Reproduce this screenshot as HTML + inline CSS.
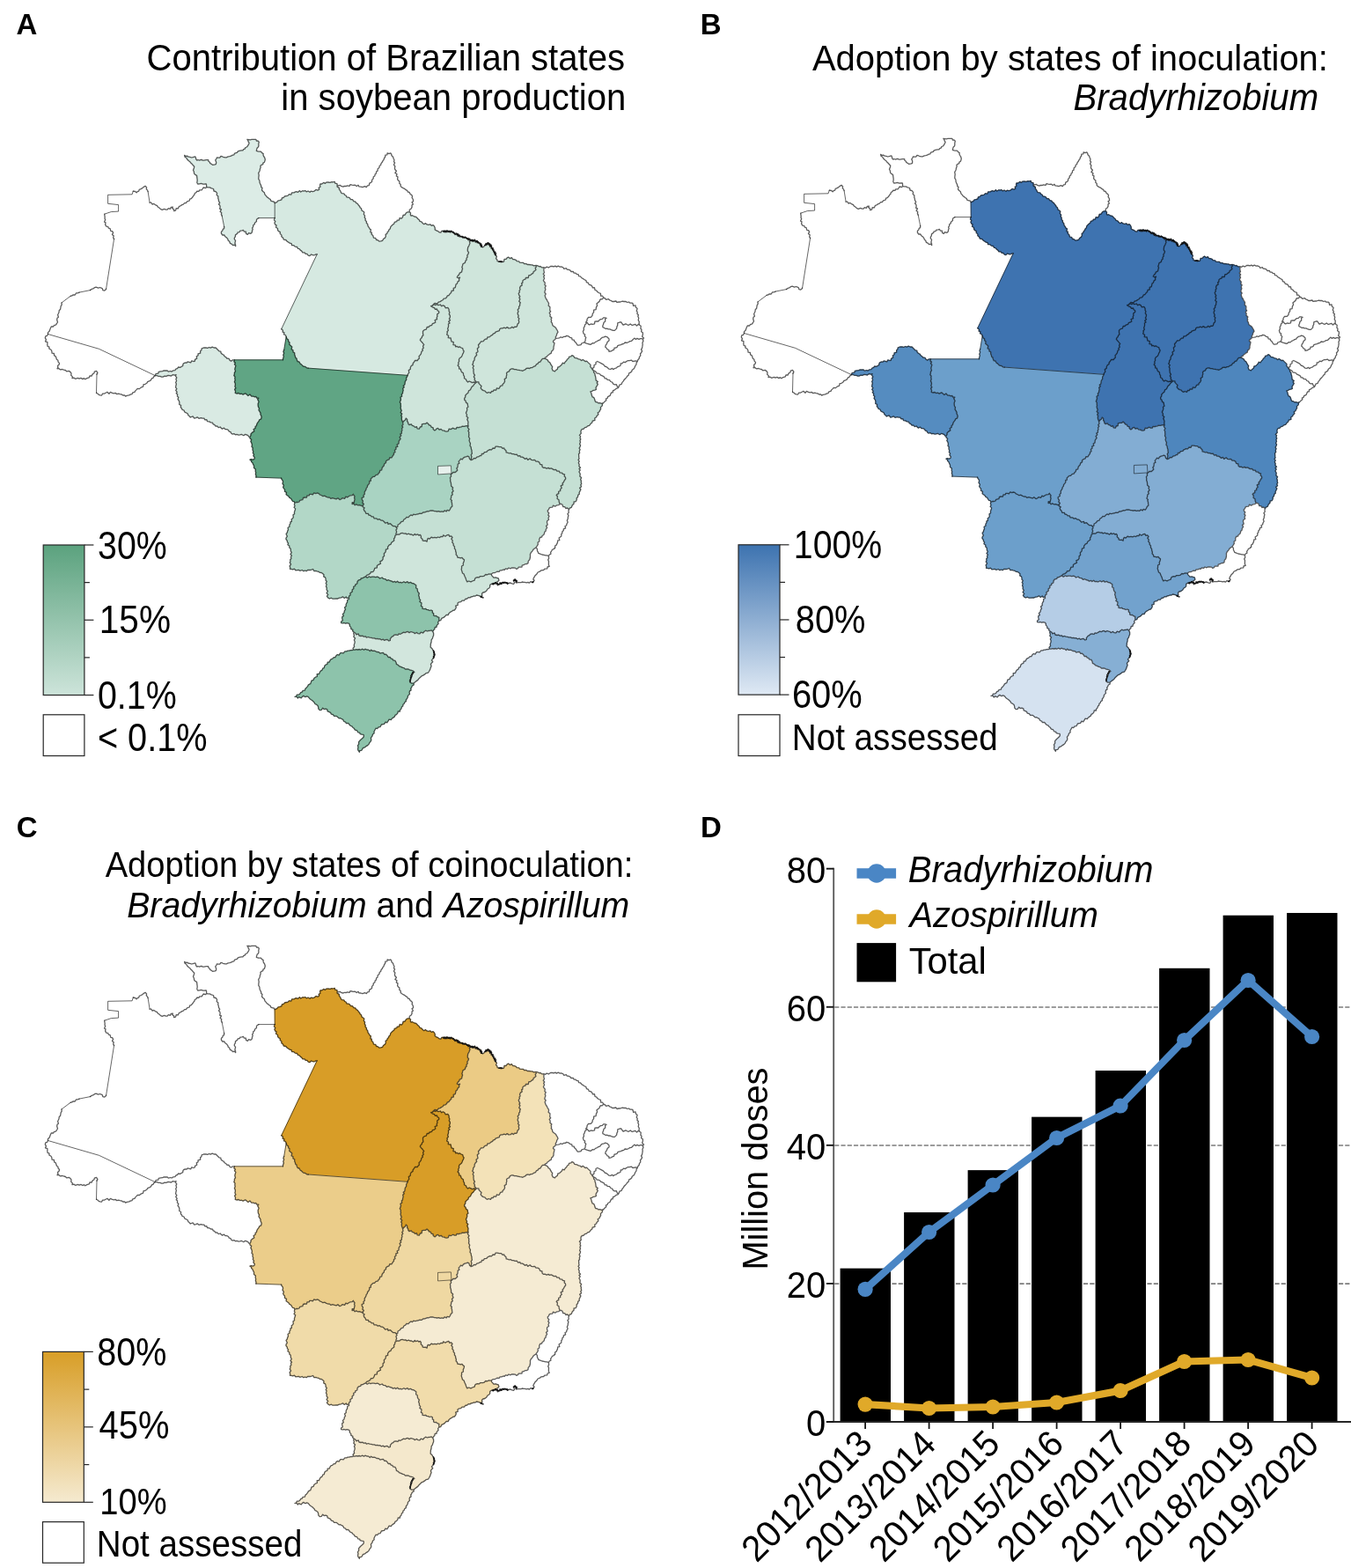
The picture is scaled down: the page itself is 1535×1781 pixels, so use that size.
<!DOCTYPE html>
<html lang="en"><head><meta charset="utf-8"><title>Soybean inoculation in Brazil</title>
<style>
html,body{margin:0;padding:0;background:#fff;}
body{width:1535px;height:1781px;overflow:hidden;}
svg{display:block;font-family:"Liberation Sans", sans-serif;fill:#000;}
</style></head><body>
<svg width="1535" height="1781" viewBox="0 0 1535 1781">
<defs>
<linearGradient id="gA" x1="0" y1="0" x2="0" y2="1"><stop offset="0" stop-color="#5ba27e"/><stop offset="1" stop-color="#cde4da"/></linearGradient>
<linearGradient id="gB" x1="0" y1="0" x2="0" y2="1"><stop offset="0" stop-color="#3d73b0"/><stop offset="1" stop-color="#dfe9f4"/></linearGradient>
<linearGradient id="gC" x1="0" y1="0" x2="0" y2="1"><stop offset="0" stop-color="#d89e27"/><stop offset="1" stop-color="#f5ead0"/></linearGradient>
</defs>
<rect width="1535" height="1781" fill="#fff"/>
<g stroke-linejoin="round" stroke-linecap="round">
<g stroke-width="0.6">
<path fill="#fff" stroke="#fff" d="M54.5 379.5l58 16.8 63.8 30.3 -1.4 1 -1 1.7 -1.2 0.4 -1.4 2.2 -1.2 0.7 -2.4 1 -0.7 1.4 -1.9 1.3 -2 0.4 -0.5 2.5 -2.5 0.9 -1.6 1.5 -2.3 -0.2 -1.1 1.2 -1.5 1.5 -0.3 1.1 -2.8 0.9 -0.4 1.5 -2.1 0.5 -1.2 0.8 -2.6 0.4 -1.6 0.8 -1 -1.3 -2 0.2 -1.3 -1 -2 -0.4 -1.5 -0.4 -2 0.4 -1.8 -1.2 -1.5 0.4 -1.9 -0.5 -2.2 -0.9 -1.5 1.9 -2 -2 -1.8 1 -1.7 0.9 -1.8 -0.1 -1.2 2.1 -1.6 -0.4 -1.6 -0.5 -1 -1 -1.7 -1 0.5 -21.2 0.9 -1.7 -1.4 -2.1 -2.2 0.8 -0.3 1.7 -2 1.3 -0.8 1.9 -2.1 -0.2 -0.9 2.1 -2.4 0.7 -2.1 1.2 -1.2 -1.2 -1.5 1 -2.1 -1.2 -1.9 0.7 -1.5 -0.7 -2.9 0.9 -1.7 -1.2 -1.9 0.5 0.4 -1.7 -1.7 -1.6 0.3 -2.1 -1 -1.6 -1.7 -1.2 -2.6 0.4 -1.4 -1.3 -1.8 -0.4 -1.5 -0.6 -2.7 0.3 -1.6 -1.4 -1.7 0.4 0.9 -1.7 -0.4 -1.7 1.7 -1.4 0.3 -1.4 -1.5 -1.8 -0.1 -1.5 -1.5 -1.1 -0.6 -1.9 -0.7 -1.7 -1.5 -0.7 -0.2 -2.4 -2.3 -0.3 -0.3 -2.4 -0.8 -1.5 -2.2 -1.3 0.2 -1.9 -1.9 -0.7 -0.3 -2.1 0.1 -2.7 -2.4 -0.8 1 -2 -1.2 -2 0.5 -2 1.8 -0.5z"/>
<path fill="#fff" stroke="#fff" d="M54.5 379.5l-0.1 -1.6 1.8 -1.9 0.7 -2.1 0.6 -1.4 0.9 -1.7 2.2 0.2 1 -1.6 1.7 -0.3 1.2 -1.6 1 -1.5 -0.8 -2.8 0.3 -1.9 1.4 -1.1 -0.8 -2.7 0.7 -1.3 0.7 -1.4 0.2 -2.1 1.4 -1.4 0.2 -1.3 0.4 -2.4 1 -1.4 -0.2 -2.3 10 -7.5 1.8 -0.5 1.1 -1 2.3 0.1 1.4 -2.1 2.1 -0.1 1.3 -0.7 12.5 -2.5 1.8 -1.3 2 -0.6 1.2 -1.1 1.6 -0.4 2.6 0.9 1.8 -0.6 1.6 0.6 1.3 0.7 0.4 1.9 2 0.4 1.1 -0.9 0.7 -1.1 9 -56.8 -1 -1.4 0.7 -2 -1.8 -1.5 1.1 -2 -1 -1.8 -1.8 -0.2 -0.7 -2.8 -1.7 -0.4 -0.8 -1.9 -1.8 -0.2 -1.2 -2 0.4 -2.2 -1.5 -0.9 1.2 -2.3 -0.7 -1.7 0.2 -1.7 -0.3 -1.1 -0.1 -2.1 7.5 -2.5 8.3 -0.5 0 -7.5 -12 -1.3 0 -10 27.5 -0.5 1.2 -3.7 2.3 0.4 1.5 1.3 1 -1.2 1.6 -0.5 0.5 -1.8 1.9 -0.7 1.8 -1 1.8 -1.5 1.4 -0.8 1.5 1.6 -0.3 1.8 1.3 1.4 0.5 1.5 2 12.5 1.9 0.1 1.1 2 1.7 -0.8 1.5 1.2 2.2 1 1 1.6 1.4 0.8 1.7 1.6 1.7 0.7 2.2 -0.9 2.1 0.8 1.5 -0.1 1.2 -1.5 2.2 0.7 0.8 -2 2.1 -0.2 -0.7 1.5 1.9 1.2 0 1.8 1.9 -0.5 0.7 -2.4 2.1 0.2 1.3 -2.6 1.5 -0.5 1.7 -1.2 1.5 -0.5 1.3 -1.5 1.7 0 1.3 -1.8 2.6 -0.8 0.4 -1.8 1.7 -0.6 1.6 -1.8 1.1 -1.8 0.9 -0.8 0.4 -1.7 1.6 -0.8 1 -1.6 1.9 0.2 1 -1.5 2.3 0.1 1 -1.3 1 -1.6 2.6 0.7 0.9 -1.4 1.5 0.5 2.2 0 1.9 1 2.3 0.7 0.5 2.5 2.2 0.6 1.4 1.7 -0.4 2.3 1.7 1.5 -0.2 2 0.6 1.4 0.2 1.9 1.2 1.9 -1.3 1.8 1.4 1.2 0.4 1.8 -0.6 2.1 1.9 0.7 -1.4 2.4 1.7 1.4 -0.4 1.7 0.8 1.7 2.5 12.5 -0.1 2.1 -1.4 0.7 -0.3 1.5 -1.4 1.4 -0.1 1.8 1.4 1.9 1.9 -0.1 1.1 1.8 1.9 1.4 1.3 1.7 0.1 1.2 1.6 1.2 0.7 2.1 1.8 0.8 1.5 1.6 1.6 -0.6 1.4 1.5 -0.2 -2 -0.6 -1.4 0.7 -2.9 -1.3 -1.6 0.1 -1.6 0.9 -1.2 0.2 -2 2.2 -1.6 0.5 -1.5 2 -0.2 0.7 -1.5 2.2 -0.2 1.3 -0.6 0.9 1.7 2.1 0.2 0.1 2.1 1.9 1 1.2 -1.7 2.3 0.8 1.5 -1.6 0.1 -1.8 0.7 -1.6 -0.6 -1.5 1.1 -1.3 0 -1.8 1.6 -1.1 0.1 -1.5 2.1 -1.6 -0.1 -1.5 0.6 -1.4 1.9 -1.1 18.3 0 -0.8 2.3 1.4 1.5 -0.9 1.8 0.8 1.9 1.4 0.8 -0.6 2.3 2 1.3 0.1 2 0.9 1.1 1.9 1 -0.3 1.7 1.9 1.8 -0.2 1.7 1.7 1.3 0.8 2 2.5 0.4 1.5 1.8 1.4 0.8 1.5 1.1 2 0.5 0.3 1.9 2.3 0.1 1.4 1.4 2.4 0.4 0.9 1.9 1.6 0.2 1.1 1.5 1.5 1 1.2 1.8 2.2 -0.1 1 1.5 1.8 0.1 1.3 1.7 1.7 0.5 1.7 -1.6 2.5 0.9 1.6 -0.3 1.4 -0.8 1.1 0.1 -40.5 84.9 1.8 1.4 -0.4 2 1.8 0.4 -0.4 2.2 1.9 0.7 0.8 2 -2.5 15 -0.8 1.9 0.8 1.7 -0.9 2.2 0.6 1.6 -0.9 2.5 0 1.4 -55.1 0 -1.9 0 -1.8 1.3 -1.6 -0.8 -1 -1.9 -2.4 -0.4 -0.8 -1.1 -1.7 -1.1 -1 -1.7 -1.5 -0.6 -1.6 -1.5 -0.3 -1.8 -1.9 -0.4 -1.5 -1.5 -1 -1.1 -1.2 -1.2 -2.1 0 -1.9 -0.9 -2 1 -1.5 -0.6 -2 0.9 -1.8 -0.6 -2.5 0.2 -2.2 0.9 -0.3 1.8 -1.3 1.1 0.1 2.3 -2.7 0.7 0.1 2 -1.8 1.1 0.4 2.2 -2.2 1.3 -0.1 1.7 -1.5 0.4 -2.1 -0.7 -1.1 2.1 -1.6 -0.6 -2 -0.4 -1 1.3 -1.4 -0.3 -1.8 0.7 -0.9 0.8 -0.3 2.2 -1.3 0.7 -1.7 1.1 -2 -0.4 -1.3 1.6 -1.3 0.2 -1.3 1.9 -2.2 0.2 -1.5 1.2 -1.4 -0.6 -2.4 0.7 -1.2 -1.4 -1.6 0.2 -2.3 -0.1 -1.5 0.7 -2.1 0.2 -2.4 0.5 -0.3 1.9 -2.9 0.5 -0.7 1.9 -63.8 -30.3z"/>
<path fill="#dcece6" stroke="#dcece6" d="M234.6 212.3l0 -2.2 -0.4 -1.3 -1.5 0.2 -1.9 0.2 -2.3 -0.8 -1.8 0.4 -2 0.2 -0.9 -1.5 0.4 -2.5 -0.1 -1.4 -0.3 -1.9 -0.2 -2.4 -1.9 -0.9 -1.1 -1.3 -0.2 -2.1 -0.9 -1.7 0.9 -2.4 0.4 -1.7 -1.6 -1.7 -1 -1.2 -1.5 -1.3 -0.9 -1.3 -1.6 -1.2 -1.7 -1.8 -0.8 -1.5 -1.7 -1 -0.4 -1.9 1.6 1.2 1.3 -0.4 1.2 0.8 2.1 0.4 2 0.7 2.2 -0.7 1.8 -0.4 0.7 1.3 0.1 1.3 1.2 1.6 1.1 -0.6 1.8 0.6 1.1 -0.6 1.4 -0.2 1.1 0.9 1.4 -0.1 2.5 -0.4 2.5 0 0.2 1.5 1.5 1 0.3 1.3 1.7 0.8 1.1 1.1 1.4 -0.3 1.5 -0.3 1 -0.5 0.3 -1.6 -0.3 -1.3 -0.7 -1.6 1.2 -1.4 0.5 -1.4 2 0.2 1.3 -0.1 1.2 -1.6 1.5 0.2 1 0.6 2.5 0.5 1.3 0 2 -0.9 1.6 -0.3 1.7 -0.5 1.8 -1 1.6 -0.3 0.5 -1.4 1.1 -0.6 1.8 -0.4 0.8 -1.3 1.6 -0.8 2.5 -0.5 1.7 0 0.8 -1.2 1.8 -0.8 0.3 -1.3 1.6 -0.5 0.9 -1.2 1.3 -2 0.5 -1.4 -1 -1.6 -0.3 -1.3 -0.9 -1.2 2 0.3 1.3 0.2 1.7 -0.4 1.7 -0.1 1.6 0.1 1.7 -0.1 0.5 1.8 1.6 -0.1 1.3 1.3 -0.5 2 0.1 2.4 -0.5 1.4 -1.2 0.9 -0.5 1.6 -0.4 1.7 1.8 0.6 1.1 0.2 2 0 0.9 0.8 0.8 1 1.3 0.7 -0.2 1.4 0.6 1.5 1 1.3 0.7 2.5 -0.5 1.8 -0.3 1.1 -1.6 0.9 -0.1 1.6 -1.7 0.6 -1.2 1.1 0.3 1.6 -0.7 1.7 -0.3 2 -0.6 1.3 -0.9 1.6 0.5 2.6 -0.3 2 -0.1 2.2 1.1 1.6 0.2 2.5 0.7 1.6 0.9 1.8 0 1.6 1.3 0.9 -0.5 2.6 1.3 1.5 1.6 1.3 0.5 2.1 1.2 1.2 1.3 1.7 1.1 0.5 1 1.2 1.6 0.9 1 2 1.9 0.4 1.2 0.2 1 1.6 0 17 -18.3 0 -1.9 1.1 -0.6 1.4 0.1 1.5 -2.1 1.6 -0.1 1.5 -1.6 1.1 0 1.8 -1.1 1.3 0.6 1.5 -0.7 1.6 -0.1 1.8 -1.5 1.6 -2.3 -0.8 -1.2 1.7 -1.9 -1 -0.1 -2.1 -2.1 -0.2 -0.9 -1.7 -1.3 0.6 -2.2 0.2 -0.7 1.5 -2 0.2 -0.5 1.5 -2.2 1.6 -0.2 2 -0.9 1.2 -0.1 1.6 1.3 1.6 -0.7 2.9 0.6 1.4 0.2 2 -1.4 -1.5 -1.6 0.6 -1.5 -1.6 -1.8 -0.8 -0.7 -2.1 -1.6 -1.2 -0.1 -1.2 -1.3 -1.7 -1.9 -1.4 -1.1 -1.8 -1.9 0.1 -1.4 -1.9 0.1 -1.8 1.4 -1.4 0.3 -1.5 1.4 -0.7 0.1 -2.1 -2.5 -12.5 -0.8 -1.7 0.4 -1.7 -1.7 -1.4 1.4 -2.4 -1.9 -0.7 0.6 -2.1 -0.4 -1.8 -1.4 -1.2 1.3 -1.8 -1.2 -1.9 -0.2 -1.9 -0.6 -1.4 0.2 -2 -1.7 -1.5 0.4 -2.3 -1.4 -1.7 -2.2 -0.6 -0.5 -2.5 -2.3 -0.7 -1.9 -1 -2.2 0z"/>
<path fill="#fff" stroke="#fff" d="M383.1 210.1l1.4 0.7 1.8 -0.4 1.9 1.3 1.8 0.4 1.2 -0.8 2.1 0.2 1.4 -0.7 2.3 0.5 1 -1.7 2 0.5 1.4 0.3 2.1 -0.2 1.7 1.3 1.8 -1.2 0.9 1.5 2.1 0.3 1.9 0.6 2.6 -1 1.8 0.9 1.2 -1.7 1.8 -0.2 0.5 -2.5 1.7 -0.8 1.1 -1.1 0 -1.9 1.6 -1.6 0 -1.7 1.7 -1.4 0.3 -1.9 1.1 -0.6 0.3 -2.2 1.4 -0.9 0.2 -2.4 1.7 -1.3 0.3 -2 1.5 -1.1 0.2 -1.5 1.5 -1.8 0.7 -1.5 1 -1.2 0.5 -2 1 -0.7 0.2 -2.5 2.1 -0.3 0.2 -2 2 0.8 1.7 -0.8 1 1.6 0.2 1.4 1.6 1.5 0.5 1.7 0.9 1.8 -0.5 1.8 1.1 1.4 -1.2 2.1 1.5 1.9 -0.5 1.9 0.4 1.6 1.6 1.8 -1.5 2.1 2.1 1.3 -0.7 2.3 1.7 0.8 -0.4 2.8 1 1.4 1.3 1.1 -0.1 2.1 1.4 1.2 0 2.1 1.1 1.1 1.9 1.1 1.4 0.6 1.1 1.1 1.9 0.9 0.8 1.7 1.7 0.4 1.2 2.3 1.3 0.6 0.9 1.6 -0.4 1.8 1.2 1.6 0.3 2.3 -1.6 1.1 1.4 2.3 -1.4 1.1 0.1 2 -0.9 1.9 -1.9 1.2 -0.2 2.4 -2.5 0.5 -1.3 1 -1.1 1.9 -2.2 0.5 -0.4 1.8 -1.3 1.8 -2.1 -0.6 -0.8 2.6 -2.1 0 -0.6 1.6 -2.5 0.6 -0.3 1.7 -1.6 1.1 -1.2 1.2 -1.3 1.3 -0.5 2.2 -1.4 1.2 -0.4 1.6 -1.4 1.2 -0.3 1.5 -1.7 1.1 0.3 1.9 -0.8 1.8 -2.1 1.4 -0.8 1.8 -2.1 0.5 -1.8 0.3 -1.9 -1.7 -1.3 0.2 -0.9 -2.2 -2.2 -0.2 -0.7 -2.6 -1.6 -1.4 0.2 -2 -1.6 -0.4 0.6 -3 -1.3 -0.7 -0.7 -1.5 -1.4 -1.9 -0.3 -2.1 -1.4 -1.3 0.2 -1.5 -1.5 -1.7 0.3 -1.5 -1.1 -1.8 0.4 -1.7 -1.3 -1.7 0.5 -2.3 -1.3 -1 -1.5 -1.1 -0.5 -2.2 -1.4 -1.1 -0.4 -1.2 -1.6 -1.7 -0.8 -1.5 -1.6 -0.6 -0.8 -1.6 -2.1 -0.5 -1.3 -1.9 -2 -0.1 -1 -1.5 -1 -0.8 -2.7 -0.5 -0.7 -1.8 -1.5 -0.5 -0.7 -1.6 -2.3 -0.2 -1.1 -0.9 -0.7 -1.9 -1.4 -1.7 0 -1.9 -2.3 -1.2z"/>
<path fill="#d9eae3" stroke="#d9eae3" d="M176.3 426.6l0.7 -1.9 2.9 -0.5 0.3 -1.9 2.4 -0.5 2.1 -0.2 1.5 -0.7 2.3 0.1 1.6 -0.2 1.2 1.4 2.4 -0.7 1.4 0.6 1.5 -1.2 2.2 -0.2 1.3 -1.9 1.3 -0.2 1.3 -1.6 2 0.4 1.7 -1.1 1.3 -0.7 0.3 -2.2 0.9 -0.8 1.8 -0.7 1.4 0.3 1 -1.3 2 0.4 1.6 0.6 1.1 -2.1 2.1 0.7 1.5 -0.4 0.1 -1.7 2.2 -1.3 -0.4 -2.2 1.8 -1.1 -0.1 -2 2.7 -0.7 -0.1 -2.3 1.3 -1.1 0.3 -1.8 2.2 -0.9 2.5 -0.2 1.8 0.6 2 -0.9 1.5 0.6 2 -1 1.9 0.9 2.1 0 1.2 1.2 1 1.1 1.5 1.5 1.9 0.4 0.3 1.8 1.6 1.5 1.5 0.6 1 1.7 1.7 1.1 0.8 1.1 2.4 0.4 1 1.9 1.6 0.8 1.8 -1.3 1.9 0 -0.5 2.2 1.5 1.1 -1 1.7 1.5 1.6 -0.7 2.2 -0.4 1.8 0.7 2.2 -1.1 1.7 0 1.8 -0.6 1.4 1.3 1.7 -0.3 1.7 0.4 1.8 -0.8 2.1 0.8 1.3 0.2 2 -0.5 1.9 1 1.8 -1.3 1.4 1 2.4 -0.4 1.7 1.7 0.7 2.2 -0.5 1.5 1.1 1.8 -0.4 1.7 0.9 2.6 -1.3 1.5 1.3 1.7 1.4 2 -1.5 1.9 2.2 1.9 -0.1 1.9 0.7 1.1 -0.4 1.1 1.8 2.1 -0.1 -1.2 1.5 1.4 2.7 -0.9 2.1 0 1.7 0.2 1.9 1.1 1.9 -0.5 1.9 1.2 1.8 0.9 1.8 -0.2 1.1 0.9 1.9 0.4 1.4 -0.7 2.4 -1.6 0.4 -1 2.1 -1.2 1.4 -0.8 1.4 -0.5 2.2 -1.3 0.7 0.1 2 -2.1 1.1 0.7 2.4 -2.4 1.5 -1.4 1.6 0.1 1.4 -1.2 2 -1.1 -0.3 -1 -1.4 -1.6 -0.8 -1.6 -0.5 -1.8 1.3 -2.5 -1.4 -1.6 0.6 -1.5 0.2 -2.2 -0.7 -1.4 0.4 -1.8 -1.2 -1.9 0.5 -1.3 -1 -0.5 -1.5 -1.8 -0.5 -0.8 -1.6 -1.8 -0.9 -1.8 0.1 -1.3 -1.6 -2.1 1 -1.1 -0.7 -1.2 -1.4 -2 0.6 -1.5 -1.7 -1.7 0.3 -1.1 -1.6 -1.9 -1 -0.4 -1.5 -2.1 -0.2 -1.8 -1 -2.2 -0.3 -0.6 -1.9 -2.2 0.1 -0.8 -1.7 -1.8 0 -1.8 -0.5 -2.3 0.7 -1.8 -1.5 -1.6 0.8 -1.8 0.6 -1.7 -2.3 -2.8 1.1 -1.2 -1.4 -1.2 -0.9 -0.7 -1.9 -1.8 -1 -1.6 -0.8 -0.8 -2 -2 -0.7 -0.6 -1.5 -1.1 -1 0.3 -2.4 -1.9 -0.9 0.2 -1.9 -0.3 -2 -1.5 -2.1 0.7 -2.3 -1.4 -1.1 0.3 -2.1 -1.5 -1.2 1 -1.5 -1.5 -2 1.2 -1.7 -1.3 -1.5 0.3 -2.1 0.5 -2 -0.8 -1.5 1 -1.9 -0.7 -2 0.9 -1.7 -1.4 -1.8 0.7 -1.5 -1.6 0.6 -2.3 -0.5 -1.7 1.3 -1.9 -0.4 -1.5 -0.3 -2.3 1.1 -1.7 -0.3 -2 1 -1.6 0 -1.6 -0.7 -2.2 -0.1 -1.3 -0.7z"/>
<path fill="#d6e9e1" stroke="#d6e9e1" d="M312.2 230.6l2.4 -1 1.4 -1.8 1.7 -0.2 2.2 -0.8 0.6 -2.1 1.6 0 1.2 -1.7 1.9 -0.4 1.6 -0.2 1.7 -1.7 2.2 0.5 1 -2.4 2.3 0.1 1.2 -0.8 1.4 -0.4 2 0.6 1.9 -1.7 1.2 1.4 2.1 -1.3 1.4 0.4 1.5 -0.6 1.5 1.3 1.8 -0.8 2.1 1.3 1.1 -1.2 2 0.5 1.9 -0.5 1.9 -1.7 2 0.8 1.7 -1.1 -0.6 -1.7 1.9 -1.1 -0.5 -2 0.5 -1.5 1.6 0.2 2.1 -1.6 1.8 1 1.1 -1.3 2.2 -0.1 2.2 0.3 1.9 -0.7 1.2 0.3 2.2 -0.6 0.3 1.9 2.4 0.4 0.1 1.5 0 2 2.3 1.2 0 1.9 1.4 1.7 0.7 1.9 1.1 0.9 2.3 0.2 0.7 1.6 1.5 0.5 0.7 1.8 2.7 0.5 1 0.8 1 1.5 2 0.1 1.3 1.9 2.1 0.5 0.8 1.6 1.6 0.6 0.8 1.5 1.6 1.7 0.4 1.2 1.4 1.1 0.5 2.2 1.5 1.1 1.3 1 -0.5 2.3 1.3 1.7 -0.4 1.7 1.1 1.8 -0.3 1.5 1.5 1.7 -0.2 1.5 1.4 1.3 0.3 2.1 1.4 1.9 0.7 1.5 1.3 0.7 -0.6 3 1.6 0.4 -0.2 2 1.6 1.4 0.7 2.6 2.2 0.2 0.9 2.2 1.3 -0.2 1.9 1.7 1.8 -0.3 2.1 -0.5 0.8 -1.8 2.1 -1.4 0.8 -1.8 -0.3 -1.9 1.7 -1.1 0.3 -1.5 1.4 -1.2 0.4 -1.6 1.4 -1.2 0.5 -2.2 1.3 -1.3 1.2 -1.2 1.6 -1.1 0.3 -1.7 2.5 -0.6 0.6 -1.6 2.1 0 0.8 -2.6 2.1 0.6 1.3 -1.8 0.4 -1.8 2.2 -0.5 1.1 -1.9 1.3 -1 2.5 -0.5 1.5 1.4 -0.3 1.8 0.8 1.3 1.5 -0.4 2.2 1.3 1.8 0.3 1.5 1.4 0.6 0.9 1.8 1.4 0.2 1.2 2.5 0.9 0.8 1.2 1.7 1.4 1.7 -1.1 1.6 1.3 1.7 0.5 2.1 -0.6 1.5 1.6 1.6 -0.8 1.4 1.1 1 2.2 -0.1 2 1.8 1.1 1.2 0.3 2.1 1.6 1.6 0.3 0.8 -1.7 2.5 -0.4 1.8 0.8 1.8 -1.1 1.7 1.2 1.9 -0.3 2 0.2 1.7 0.5 1.6 1.6 2.5 0.1 0.3 1.9 2.4 0.5 1.5 0.9 1.9 -0.1 1.5 1.8 1.5 -0.9 1.7 0.8 1 1.4 2.7 -0.2 0.5 1.6 -0.9 1.4 0.7 2.1 -0.6 1.2 -0.5 1.5 -1.2 1.9 -0.4 2.5 0 1.8 1.2 1.5 -0.5 1.6 -1.2 1.8 0.4 1.8 -1.2 1.5 0.1 1.8 -1.2 1.1 -0.5 2.1 -2.4 1.3 -0.5 2 -0.7 2 0.8 1.3 -0.6 1.7 -0.4 2.2 -2.3 1.2 -0.6 1.6 -1.5 1.6 -1 1.7 1.5 0.8 1.9 -0.7 -1 1.6 0.1 2.2 -1.6 1 -0.6 2 -1.5 1.2 -0.4 2 -0.3 1.5 -2.1 0.8 0.2 2.5 -2.4 0.6 -0.4 2.1 -1.3 1 -1.3 1.9 -1.6 0.3 -0.8 1.8 -1.4 1.3 -1.9 0.2 -1.1 1.6 -1.5 0.8 -1.6 1.1 -1.9 0.6 -1.3 1.7 -3 -0.5 -1.3 1.2 -1.4 1.4 -1.6 0.6 2.2 1.6 1.7 0.4 1 1.8 1.9 -0.4 0.8 1.9 1.4 0.6 0.2 1.7 -2.1 1.9 0.2 2.3 -0.7 1.4 0.4 1.9 -2.5 0.9 0.7 2.3 -1.3 1.1 -2.1 0.6 -0.7 1.7 -2.5 0.8 -1.2 1.4 -1.8 0 -0.9 2.6 -2.1 0.5 -1.7 1.6 0 1.8 0.1 1.5 0.3 1.5 -1.4 1.1 -0.1 1.4 -1.3 1 -0.8 1.7 1.3 1.7 0.8 0.6 1.2 1.6 1.1 1.3 -1.1 1.8 0.6 2 -1.4 1.4 0.6 1.6 -1.4 1 -0.6 2.7 -1.1 1.5 -1.2 1 0.2 2.8 -1.1 0.9 -1 1.4 -2.6 -0.1 -1.1 1.8 -1.4 1.8 0 1.4 -2 1.4 -0.8 1.7 0 1.7 -2 1.4 0.5 2.8 -1.2 1.2 -0.5 1.7 -112.9 -8.2 -1.7 -0.3 -1.7 -1.4 -1.7 -0.1 -1.1 -0.7 -1.6 -1.7 -1.2 -0.7 -1.2 -2.2 -1.8 -0.4 -0.9 -1.9 -0.3 -1.6 -1.3 -0.9 -0.3 -1.7 -0.7 -1.5 0 -2.2 -1.7 -0.9 -0.1 -2.4 -1.8 -0.7 0.7 -2.9 -1.6 -1.4 -1.5 -1.3 0.4 -2.3 -1.4 -1.2 -0.1 -1.8 -1.7 -1.2 -0.7 -2.2 -0.8 -2 -1.9 -0.7 0.4 -2.2 -1.8 -0.4 0.4 -2 -1.8 -1.4 40.5 -84.9 -1.1 -0.1 -1.4 0.8 -1.6 0.3 -2.5 -0.9 -1.7 1.6 -1.7 -0.5 -1.3 -1.7 -1.8 -0.1 -1 -1.5 -2.2 0.1 -1.2 -1.8 -1.5 -1 -1.1 -1.5 -1.6 -0.2 -0.9 -1.9 -2.4 -0.4 -1.4 -1.4 -2.3 -0.1 -0.3 -1.9 -2 -0.5 -1.5 -1.1 -1.4 -0.8 -1.5 -1.8 -2.5 -0.4 -0.8 -2 -1.7 -1.3 0.2 -1.7 -1.9 -1.8 0.3 -1.7 -1.9 -1 -0.9 -1.1 -0.1 -2 -2 -1.3 0.6 -2.3 -1.4 -0.8 -0.8 -1.9 0.9 -1.8 -1.4 -1.5 0.8 -2.3z"/>
<path fill="#cfe5db" stroke="#cfe5db" d="M534.2 272.8l1.5 -0.2 2.2 1.5 2.1 -0.7 2.3 0.2 0.2 2.1 2.5 0.2 2 1.1 0 2.6 1.4 1.3 1.8 -1.2 0.7 -1.3 1.1 -0.6 1.8 -1.6 1.2 -0.3 0.9 2.3 2 0 0.5 2.7 1.1 0.9 0.4 2.3 1 0.9 1.2 1.9 -0.2 1.7 1.5 1.4 1 1.4 -0.9 2.4 1.3 0.9 0.3 2 1.9 0.4 2 -0.5 1.9 0.9 1.6 -0.4 0.5 -2.7 2.1 0 1 -1.5 1.5 -0.8 1.8 1.5 2 -1 1.2 1.9 1.6 0.1 2.1 0.7 0.9 1.3 2.5 0.2 0.6 1.3 2.3 0.3 2.1 0 0.8 1.2 2.4 0 1.3 0.9 1.7 0 2.7 0.4 1.1 0 1.9 0.9 2.3 -0.4 0.4 1.9 -1.1 0.9 0.7 2.4 -1.2 1 -1.5 0.9 -0.5 1.8 -1.9 1 -1.1 1.3 -1.8 0.1 -0.7 2.8 -2.7 -0.2 -0.6 1.9 -1.7 0.4 -1.3 1.3 -0.1 2.2 -1.2 0.8 0.6 2 -1.8 1.2 -0.9 1.9 0.6 1.9 -1.1 1.2 0.4 1.6 -1.2 1.7 0.5 1.7 1.1 1.8 -0.9 1.2 1 1.7 -1.2 2.4 1.6 1.6 -0.6 1.3 -0.1 2.1 -1.1 1.2 0.3 1.6 -1.6 1.9 0.8 1.9 -0.8 1.3 0 1.5 1 2.1 -0.7 1.7 1.4 1.5 -0.7 1.7 0.5 1.6 -0.2 1.5 -1.4 1.2 -0.6 2.5 -1.1 1 -1.4 -0.3 -1.7 1.4 -1.6 -1.2 -1.5 1.4 -2.2 0.2 -1.8 -1.3 -1.4 1.2 -2.1 -0.6 -1.6 0.6 -1.8 0.1 -1.6 0.9 -0.3 1.8 -2.3 0.7 -2.1 0.8 -0.7 1.3 -2 0.8 -0.7 1.2 -2 0.9 -1.2 1.4 -2.4 0.3 -0.8 2 -1.8 0.2 -1.3 1.1 -1 1.4 -2.7 0.3 -1.3 2 -1.6 1.8 0.6 2.5 -1.8 1.6 0.3 1.6 0.4 2.1 -2 1.5 0.7 2.1 -1.6 1.8 -0.9 1.6 -0.1 2.2 -1.5 2.1 0 1.7 -0.9 1.5 1.6 1.6 -1.1 2.1 1 1.8 -0.3 1.5 0.2 1.5 0.2 1.9 1.2 1.6 -1.2 1.8 1.2 2 -0.4 1.6 1.6 1.8 -0.4 1.8 -1.2 -1.1 -2.8 0.6 -1.2 -0.8 -2 -0.8 -1.5 1 -1.5 -1.4 -0.7 -1.8 -1.9 -1.1 0.1 -2.1 -1 -1.4 -0.2 -2.4 -1.8 -1.2 -0.7 -1.3 -0.6 -2.1 -1.7 -0.3 0.1 -2.1 -1.6 -1.7 1 -1.5 -0.4 -1.6 1 -1.8 -0.3 -1.4 0.7 -1.9 2.3 -1.7 0.7 -1.4 0.7 -1.9 0.7 -1 0.6 -2.1 -0.8 -0.9 -0.6 -2.3 -1.8 -0.6 -1.7 -1.2 -1.3 0.8 -1.6 -1.2 -1.7 0.4 -0.1 -1.7 -2.5 -0.5 0.3 -2.9 -2.4 -0.9 -0.3 -1.5 -0.5 -2.3 -2.8 -0.4 0.3 -2.4 -2 -1.2 0.8 -2 -0.5 -1 1.5 -1.8 -0.8 -2 0.7 -1.4 0.3 -1.8 -0.2 -2 1.6 -1 -1.3 -1.7 1.9 -1.5 -1.2 -1.7 1 -1.9 0 -1.5 -1.1 -1.9 0.6 -1.9 -0.8 -1.6 0 -1.9 -1.3 -2 -2.6 0.4 -1.1 -2.2 -1.7 -0.8 -1.6 1 -1.5 -1.8 -2.2 0.7 -1.7 -1.1 -2 1 -1.4 -1.1 -1.6 1.9 -1.8 0.2 1.6 -0.6 1.4 -1.4 1.3 -1.2 3 0.5 1.3 -1.7 1.9 -0.6 1.6 -1.1 1.5 -0.8 1.1 -1.6 1.9 -0.2 1.4 -1.3 0.8 -1.8 1.6 -0.3 1.3 -1.9 1.3 -1 0.4 -2.1 2.4 -0.6 -0.2 -2.5 2.1 -0.8 0.3 -1.5 0.4 -2 1.5 -1.2 0.6 -2 1.6 -1 -0.1 -2.2 1 -1.6 -1.9 0.7 -1.5 -0.8 1 -1.7 1.5 -1.6 0.6 -1.6 2.3 -1.2 0.4 -2.2 0.6 -1.7 -0.8 -1.3 0.7 -2 0.5 -2 2.4 -1.3 0.5 -2.1 1.2 -1.1 -0.1 -1.8 1.2 -1.5 -0.4 -1.8 1.2 -1.8 0.5 -1.6 -1.2 -1.5 0 -1.8 0.4 -2.5 1.2 -1.9 0.5 -1.5 0.6 -1.2 -0.7 -2.1z"/>
<path fill="#cfe5db" stroke="#cfe5db" d="M608.9 301.4l2.1 0.5 1.7 0.9 1.3 -0.3 1.9 1.4 1.8 -0.2 0.3 1.7 -0.2 1.7 0.7 2.5 -1.3 1.5 1.5 1.8 -1.1 1.5 1 1.6 -1.2 2.6 0.9 1.4 1 1.2 -0.4 2.3 1.3 1.2 -1 2 0.7 2.1 -0.7 1.5 -0.4 1.8 1.4 1.9 -1.1 1.6 0.6 2.2 0.8 1.7 0.9 1 0.7 1.9 0.9 1 0.6 1.5 -0.5 2.2 1.8 1.6 0 1.3 -0.2 2.3 1 1.5 -1.5 1.6 1.1 2.1 -0.5 1.6 2.1 1.9 -0.8 1.4 0.6 1.7 -0.5 1.4 1.2 1.6 0.3 1.7 0.9 1.5 2.2 1.3 1.1 1.4 0.5 1.2 0.9 1.2 0.7 1.8 -1.4 2.2 -0.2 1.6 -1.1 1.6 0.1 1.7 -0.9 1.5 -1.4 0.8 -0.7 1.6 1.6 1.6 -0.5 2.4 -0.5 2 0 1.9 -0.9 1.8 -1.4 1.1 -0.4 2.1 -1.9 1 -0.9 0.9 -1.5 1 -0.9 1.4 -1.7 0.8 -0.6 1 -2.4 0.2 -1.4 1.7 -1.1 1.9 -1.7 0.3 -0.9 1.6 -1.9 0.9 -1 1.9 -2.1 0.7 -1.6 1.2 -1.7 0 -1.2 1 -1.6 -0.5 -2.2 0.3 -0.8 1.3 -1.4 0.5 -1.9 1.1 -1.2 -0.4 -1.9 -0.2 -1.2 -0.4 -1.9 -0.2 -1.4 -0.5 -2 0 -1.1 -0.6 -1.8 -0.2 -2 1.1 -1 2 -2 0.7 -0.9 1.2 0.3 1.9 -0.6 1.9 0.1 1.6 -2.1 1.4 0.4 2.5 -0.9 2 -1.6 1.3 -0.2 1.4 -2.3 0.6 -0.9 1.7 -0.9 1.4 -2.3 -0.7 -0.9 2.4 -2.4 -0.3 -1.1 1.7 -1.5 -0.2 -1.2 2 -2.2 -0.9 -1.3 0.8 -1.6 -0.6 -1.5 -1.9 -1.5 -0.2 -1.7 -1 -1.4 -1.8 0.8 -2.3 -1.4 -1.4 -1.6 -1.7 -0.1 -1.6 -2.2 0.1 -1.4 1.2 0.4 -1.8 -1.6 -1.8 0.4 -1.6 -1.2 -2 1.2 -1.8 -1.2 -1.6 -0.2 -1.9 -0.2 -1.5 0.3 -1.5 -1 -1.8 1.1 -2.1 -1.6 -1.6 0.9 -1.5 0 -1.7 1.5 -2.1 0.1 -2.2 0.9 -1.6 1.6 -1.8 -0.7 -2.1 2 -1.5 -0.4 -2.1 -0.3 -1.6 1.8 -1.6 -0.6 -2.5 1.6 -1.8 1.3 -2 2.7 -0.3 1 -1.4 1.3 -1.1 1.8 -0.2 0.8 -2 2.4 -0.3 1.2 -1.4 2 -0.9 0.7 -1.2 2 -0.8 0.7 -1.3 2.1 -0.8 2.3 -0.7 0.3 -1.8 1.6 -0.9 1.8 -0.1 1.6 -0.6 2.1 0.6 1.4 -1.2 1.8 1.3 2.2 -0.2 1.5 -1.4 1.6 1.2 1.7 -1.4 1.4 0.3 1.1 -1 0.6 -2.5 1.4 -1.2 0.2 -1.5 -0.5 -1.6 0.7 -1.7 -1.4 -1.5 0.7 -1.7 -1 -2.1 0 -1.5 0.8 -1.3 -0.8 -1.9 1.6 -1.9 -0.3 -1.6 1.1 -1.2 0.1 -2.1 0.6 -1.3 -1.6 -1.6 1.2 -2.4 -1 -1.7 0.9 -1.2 -1.1 -1.8 -0.5 -1.7 1.2 -1.7 -0.4 -1.6 1.1 -1.2 -0.6 -1.9 0.9 -1.9 1.8 -1.2 -0.6 -2 1.2 -0.8 0.1 -2.2 1.3 -1.3 1.7 -0.4 0.6 -1.9 2.7 0.2 0.7 -2.8 1.8 -0.1 1.1 -1.3 1.9 -1 0.5 -1.8 1.5 -0.9 1.2 -1 -0.7 -2.4 1.1 -0.9z"/>
<path fill="#fff" stroke="#fff" d="M617.7 303.7l2.1 0.6 1.5 -1.2 2 0.9 2.2 -1.5 2 0 1.9 0.4 1.4 -0.8 1.6 1 1.8 -0.9 2 0.9 1.3 -0.2 2.1 0.6 1.2 1.8 2.5 -0.6 0.8 1.3 2.2 0.3 1.4 0.6 1.2 1.6 2.3 -0.1 1 1.8 1.8 -0.1 1.1 1.2 2 0.4 0.4 1.9 1.8 0.2 1.8 2.1 1.3 0.5 1.4 1.1 2.1 1.1 0.5 2.1 2.1 0.7 0.7 1.9 2.2 0.5 1.2 1.2 0.9 1.9 1.9 -0.3 0.7 2.9 1.8 0.6 0.7 1.2 1.5 1.2 2.3 0.9 0.2 2.7 1.8 0.1 1.6 2 1.6 0.8 -2.2 -0.7 -1.2 1.5 -1.7 -0.1 -0.9 1 -0.5 1.7 -1.4 1 -1.8 1.6 0.7 1.9 -1.2 2.2 -0.3 2.5 -2.5 0.6 0 2.5 -1.3 1.7 -0.3 1.9 -0.8 1.1 -1.1 1 -2.7 0.1 -0.9 1.3 -0.5 1 -0.1 1.7 -1.2 1.5 0.5 1.6 -1.7 1.3 -0.2 1.8 -1.1 1.6 0.2 2.3 -1 1.7 0.7 2.7 1.6 1 -0.5 1.6 1.6 1.8 -0.6 1.3 -0.2 2.6 -1.2 1.6 -1.6 0.6 -1.2 0.4 -1 1.7 -2.3 0.6 -1.4 -0.1 -0.9 -1.3 -1 -1.5 -1.9 -1.8 -0.3 -1.3 -2.1 -0.4 -0.4 -2 -2.1 -0.5 -1.6 -1.4 -2.4 -0.6 -0.9 1 -2.4 0.1 -1.4 1.1 -1.8 -0.7 -1.5 1 -1.9 0.3 -2.3 0.2 -0.1 -1.7 1.1 -1.6 0.2 -1.6 1.4 -2.2 -0.7 -1.8 -0.9 -1.2 -0.5 -1.2 -1.1 -1.4 -2.2 -1.3 -0.9 -1.5 -0.3 -1.7 -1.2 -1.6 0.5 -1.4 -0.6 -1.7 0.8 -1.4 -2.1 -1.9 0.5 -1.6 -1.1 -2.1 1.5 -1.6 -1 -1.5 0.2 -2.3 0 -1.3 -1.8 -1.6 0.5 -2.2 -0.6 -1.5 -0.9 -1 -0.7 -1.9 -0.9 -1 -0.8 -1.7 -0.6 -2.2 1.1 -1.6 -1.4 -1.9 0.4 -1.8 0.7 -1.5 -0.7 -2.1 1 -2 -1.3 -1.2 0.4 -2.3 -1 -1.2 -0.9 -1.4 1.2 -2.6 -1 -1.6 1.1 -1.5 -1.5 -1.8 1.3 -1.5 -0.7 -2.5 0.2 -1.7z"/>
<path fill="#fff" stroke="#fff" d="M687.6 339l1 1.3 2.6 -0.7 1.7 1.5 1.4 0.3 1.4 1.1 1.9 0 2.3 -0.5 1 1.4 2.3 -0.4 1.6 0 2.4 -0.8 1.6 0.3 2 -0.1 2 1.1 1.7 -0.5 1.1 1 2.4 0.1 1.1 0.8 0.5 2.4 2.4 -0.4 0.4 2.2 1.7 1.5 -0.9 2.6 1.1 1.5 -0.4 1.5 1.5 1.5 -0.6 1.6 0.9 2 -0.5 2.3 1.1 1.9 -0.3 1.8 0.6 1.9 -1.5 -0.7 -1.6 1.6 -1.8 -1.8 -1.6 0.5 -1.9 0.7 -2 -1.5 -1.9 1.3 -1.7 -0.5 -1.7 -1 -2.7 1.4 -1.3 -1.4 -1.1 -2 -1.7 0.2 -2.3 0.9 -0.1 2.6 -0.8 1.6 -0.3 2 -1.2 1.3 -1 1 -1.8 0 -2.1 -0.8 -1.6 -0.7 -1.7 0 -1.7 -0.8 -1.3 0.4 -1.5 -1 -1.8 -0.9 -0.1 -1.5 0.6 -1.3 0.7 -2.5 1.6 -1.3 -0.1 -2.6 1.5 -1.1 -1.9 -0.5 -1.6 0.1 -1.3 1.5 -1.8 0.3 -1.3 0.6 -1.4 1.7 -1.9 0 -2 0.2 -0.4 2.7 -2.3 0.4 -1.7 -0.3 -1.8 0.9 -1.2 -0.6 -1.1 -1.8 -1.7 -0.5 1.2 -1.5 0.1 -1.7 0.5 -1 0.9 -1.3 2.7 -0.1 1.1 -1 0.8 -1.1 0.3 -1.9 1.3 -1.7 0 -2.5 2.5 -0.6 0.3 -2.5 1.2 -2.2 -0.7 -1.9 1.8 -1.6 1.4 -1 0.5 -1.7 0.9 -1 1.7 0.1 1.2 -1.5z"/>
<path fill="#fff" stroke="#fff" d="M665.7 366l1.7 0.5 1.1 1.8 1.2 0.6 1.8 -0.9 1.7 0.3 2.3 -0.4 0.4 -2.7 2 -0.2 1.9 0 1.4 -1.7 1.3 -0.6 1.8 -0.3 1.3 -1.5 1.6 -0.1 1.9 0.5 -1.5 1.1 0.1 2.6 -1.6 1.3 -0.7 2.5 -0.6 1.3 0.1 1.5 1.8 0.9 1.5 1 1.3 -0.4 1.7 0.8 1.7 0 1.6 0.7 2.1 0.8 1.8 0 1 -1 1.2 -1.3 0.3 -2 0.8 -1.6 0.1 -2.6 2.3 -0.9 1.7 -0.2 1.1 2 1.3 1.4 2.7 -1.4 1.7 1 1.7 0.5 1.9 -1.3 2 1.5 1.9 -0.7 1.6 -0.5 1.8 1.8 1.6 -1.6 1.5 0.7 1.6 1 -0.3 3 1.1 1.2 -0.4 2.4 1.7 1 0.1 2.2 -0.8 2.2 1.9 1.7 -1.1 1.8 -0.9 -1.1 -1.9 0.1 -1.6 0.6 -2.2 -1 -1.3 1.1 -1.7 -1.3 -1.7 1.6 -1.5 1.6 -2 0.3 -1.1 0.9 -2.3 0.9 -2.1 -0.4 -1.3 1.4 -2.3 0.6 -1.1 0.6 -2.2 0.6 -1.6 0.7 -0.5 1.5 -1.7 0.7 -1.4 0 -0.5 2.2 -1.8 0.6 -1.3 1 -2.5 0.4 -0.1 -1.8 -1.7 -0.6 -1.3 -1.9 -1.1 -0.9 0.5 -1.9 1.3 -1.9 0.6 -1.8 2 -1.8 -0.2 -2 -1.1 -0.9 -0.7 -0.9 -2.4 -0.7 -1.4 0.7 -2.2 0.5 -1.6 1.3 -0.8 1.4 -1.9 0.5 -1 0.9 -2.2 0.9 -1.6 1.5 -1.9 -0.2 -1.8 1.6 -1.6 -0.3 -2.2 -0.6 -1.6 -0.6 -2.1 -0.9 1.2 -1.6 0.2 -2.6 0.6 -1.3 -1.6 -1.8 0.5 -1.6 -1.6 -1 -0.7 -2.7 1 -1.7 -0.2 -2.3 1.1 -1.6 0.2 -1.8 1.7 -1.3z"/>
<path fill="#fff" stroke="#fff" d="M631.4 384.3l2.3 -0.2 1.9 -0.3 1.5 -1 1.8 0.7 1.4 -1.1 2.4 -0.1 0.9 -1 2.4 0.6 1.6 1.4 2.1 0.5 0.4 2 2.1 0.4 0.3 1.3 1.9 1.8 1 1.5 0.9 1.3 1.4 0.1 2.3 -0.6 1 -1.7 1.2 -0.4 1.6 -0.6 2.1 0.9 1.6 0.6 2.2 0.6 1.6 0.3 1.8 -1.6 1.9 0.2 1.6 -1.5 2.2 -0.9 1 -0.9 1.9 -0.5 0.8 -1.4 1.6 -1.3 2.2 -0.5 1.4 -0.7 2.4 0.7 0.7 0.9 1.1 0.9 0.2 2 -2 1.8 -0.6 1.8 -1.3 1.9 -0.5 1.9 1.1 0.9 1.3 1.9 1.7 0.6 0.1 1.8 2.5 -0.4 1.3 -1 1.8 -0.6 0.5 -2.2 1.4 0 1.7 -0.7 0.5 -1.5 1.6 -0.7 2.2 -0.6 1.1 -0.6 2.3 -0.6 1.3 -1.4 2.1 0.4 2.3 -0.9 1.1 -0.9 2 -0.3 1.5 -1.6 1.7 -1.6 1.7 1.3 1.3 -1.1 2.2 1 1.6 -0.6 1.9 -0.1 0.9 1.1 0.5 1.5 -1 2.3 0.3 1.6 -0.3 2.1 -0.4 2.3 -1 1.4 1.1 1.9 -1.1 1.9 -1 1.1 0.3 2.1 -1.4 1.8 -0.2 1.5 -1.4 1.5 -0.5 1.8 -1.7 -0.7 -1.6 0.3 -2.1 0.4 -1.6 -1.4 -2.2 0.6 -1.5 0 -2 0.8 -1.2 1.2 -1.9 -0.6 -1.6 1.8 -1.7 0.1 -0.2 2.2 -1.8 1 -1.6 0.4 -1.1 1.2 -2 0.7 -1.8 1.1 -1.1 -1.3 -1.8 1.1 -1.8 -0.2 -1.9 -1.6 -1.3 -1.1 -1.3 -0.1 -1.2 -1.6 -1.5 -1.2 -2.3 -1.2 -1.6 -0.9 -2.1 -1 -1.8 1 0 2.2 -2 1.1 0 2.1 -1.1 0.9 -0.5 2.3 -1.4 -2.2 -1.2 -1.3 0.2 -2.2 -1.6 -1.5 -1.6 -1.5 -1.2 -1.3 -1.3 0.5 -1.5 -1 -1.6 -1.2 -1.5 1.2 -1.6 -1.4 -1.8 -0.3 -1.9 -1.1 -2.5 -0.5 -1.3 -1.9 -1.8 -0.8 -1 1.3 -2.3 0.4 -0.5 1.9 -1.5 0.8 -0.7 1.6 -1.6 1.4 -1.1 1.8 -1.9 -0.6 -0.7 1.6 -1.2 1.3 -1.7 1.5 -1.7 0.4 -0.6 2.4 -1.9 1.1 -0.9 1.3 -2.4 -0.9 -1 -2.3 0.6 -2 -1.1 -1.5 -1.3 -2.2 -0.6 -1.3 -1.7 -0.9 -0.5 -1.6 -1.5 -0.9 -2.2 -1 0.6 -1 1.7 -0.8 0.9 -1.4 1.5 -1 0.9 -0.9 1.9 -1 0.4 -2.1 1.4 -1.1 0.9 -1.8 0 -1.9 0.5 -2 0.5 -2.4 -1.6 -1.6 0.7 -1.6 1.4 -0.8z"/>
<path fill="#fff" stroke="#fff" d="M673.4 420.1l0.5 -2.3 1.1 -0.9 0 -2.1 2 -1.1 0 -2.2 1.8 -1 2.1 1 1.6 0.9 2.3 1.2 1.5 1.2 1.2 1.6 1.3 0.1 1.3 1.1 1.9 1.6 1.8 0.2 1.8 -1.1 1.1 1.3 1.8 -1.1 2 -0.7 1.1 -1.2 1.6 -0.4 1.8 -1 0.2 -2.2 1.7 -0.1 1.6 -1.8 1.9 0.6 1.2 -1.2 2 -0.8 1.5 0 2.2 -0.6 1.6 1.4 2.1 -0.4 1.6 -0.3 1.7 0.7 -1.1 1.2 -0.2 2.1 -1.2 1.7 -0.8 2.1 -1 1.4 -1.8 1.3 -0.4 1.4 -1.5 1.5 -1.6 0.6 -0.6 2.5 -1.3 0.8 -1.2 1.7 -1.3 1.6 -1 0.7 -1 1.8 -1.4 1.5 -0.7 1.9 -2.3 0.8 -0.7 2 -1.8 0.2 -1 -2.6 -1.9 0.1 -1.4 -0.5 -1.7 -2.3 -1.6 -0.5 -1.2 -1.8 -2.5 -0.3 -1 -1.6 -1.8 0.1 -1.1 -2.1 -1.8 -0.9 -1.9 -0.7 -0.7 -1.2 -2.1 -0.9 -1.6 -0.1 -1.2 -1.8 -1.9 -1z"/>
<path fill="#fff" stroke="#fff" d="M673.4 420.1l1.6 1.1 1.9 1 1.2 1.8 1.6 0.1 2.1 0.9 0.7 1.2 1.9 0.7 1.8 0.9 1.1 2.1 1.8 -0.1 1 1.6 2.5 0.3 1.2 1.8 1.6 0.5 1.7 2.3 1.4 0.5 1.9 -0.1 1 2.6 1.8 -0.2 -0.9 1.5 -2.1 0.7 -1.7 1.6 -2 0.7 -0.2 2.2 -1.6 0.1 -0.9 1.7 -0.7 1.8 -2.5 1.3 -0.5 1.6 -1.8 0.8 0.5 1.7 -1.6 1.2 -1.6 1.6 -2.1 0.8 -2 -0.7 -1.8 0.2 -0.9 -1 -2.1 -0.4 -0.7 -1.4 -0.5 -2 -0.9 -1.8 -1.6 -0.5 -0.8 -2.3 -0.3 -1.7 -1.1 -2 1.9 -0.5 1.4 -0.9 1.7 -0.3 1.6 -0.7 -0.4 -2.1 1.3 -2.1 1 -1.7 -1.2 -1.6 1.2 -1.4 -2.1 -1.4 -0.3 -2.3 -0.2 -1.8 -0.7 -2 -0.1 -1.8 -1.4 -1.1 0.2 -1.4z"/>
<path fill="#c5e0d4" stroke="#c5e0d4" d="M540.3 435.1l1.4 -1.2 2.2 -0.1 0.1 1.6 1.6 1.7 1.4 1.4 -0.8 2.3 1.4 1.8 1.7 1 1.5 0.2 1.5 1.9 1.6 0.6 1.3 -0.8 2.2 0.9 1.2 -2 1.5 0.2 1.1 -1.7 2.4 0.3 0.9 -2.4 2.3 0.7 0.9 -1.4 0.9 -1.7 2.3 -0.6 0.2 -1.4 1.6 -1.3 0.9 -2 -0.4 -2.5 2.1 -1.4 -0.1 -1.6 0.6 -1.9 -0.3 -1.9 0.9 -1.2 2 -0.7 1 -2 2 -1.1 1.8 0.2 1.1 0.6 2 0 1.4 0.5 1.9 0.2 1.2 0.4 1.9 0.2 1.2 0.4 1.9 -1.1 1.4 -0.5 0.8 -1.3 2.2 -0.3 1.6 0.5 1.2 -1 1.7 0 1.6 -1.2 2.1 -0.7 1 -1.9 1.9 -0.9 0.9 -1.6 1.7 -0.3 1.1 -1.9 1.4 -1.7 2.4 -0.2 2.2 1 1.5 0.9 0.5 1.6 1.7 0.9 0.6 1.3 1.3 2.2 1.1 1.5 -0.6 2 1 2.3 2.4 0.9 0.9 -1.3 1.9 -1.1 0.6 -2.4 1.7 -0.4 1.7 -1.5 1.2 -1.3 0.7 -1.6 1.9 0.6 1.1 -1.8 1.6 -1.4 0.7 -1.6 1.5 -0.8 0.5 -1.9 2.3 -0.4 1 -1.3 1.8 0.8 1.3 1.9 2.5 0.5 1.9 1.1 1.8 0.3 1.6 1.4 1.5 -1.2 1.6 1.2 1.5 1 1.3 -0.5 1.2 1.3 1.6 1.5 1.6 1.5 -0.2 2.2 1.2 1.3 1.4 2.2 1.3 1.6 -0.2 1.4 1.4 1.1 0.1 1.8 0.7 2 0.2 1.8 0.3 2.3 2.1 1.4 -1.2 1.4 1.2 1.6 -1 1.7 -1.3 2.1 0.4 2.1 -1.6 0.7 -1.7 0.3 -1.4 0.9 -1.9 0.5 1.1 2 0.3 1.7 0.8 2.3 1.6 0.5 0.9 1.8 0.5 2 0.7 1.4 2.1 0.4 0.9 1 1.8 -0.2 2 0.7 2.1 -0.8 -1.2 1.3 -0.1 1.9 -1.9 1.8 0.2 2 -1.1 1.7 -0.5 1.5 -1.8 1 0.7 2 -1.9 1.6 -0.3 1.4 -2 1.2 0.3 2.3 -2.8 0.9 -0.5 1.9 -1.6 1.2 -1.5 2 -2 0.5 -1.1 1.3 -2 0.5 -1.5 1.7 -1.6 0.1 -1.2 1.5 -0.3 1.7 0.4 1.6 -1.9 2.2 1.2 1.2 -0.6 2 0.8 1.3 -0.9 1.7 0.6 1.7 -0.9 2 1 1.6 -0.6 1.7 -0.9 1.5 1 1.5 -0.8 2 0.3 1.9 -1.1 1.2 0.2 1.9 0 2 0.4 1.3 -1.1 1.5 1.2 1.5 -0.9 1.9 0.9 1.8 -0.3 1.9 1.6 1.7 -1.5 1.3 1.2 1.4 -1.3 2.1 1.1 1.6 0.2 1.5 -0.4 1.9 1.8 1.4 -1 2.3 0.8 1.4 -0.2 1.5 0.5 1.9 -1 1.3 0.9 1.9 -2 1.6 1.3 1.6 -0.9 1.8 -0.9 1.9 0.2 1.7 -1.6 1.1 -0.1 1.9 -1.5 1.7 0.2 1.5 -1.1 2.2 -2.1 0.3 -0.1 2.2 -1.7 1.6 -1 2.5 -2 0.8 -0.8 1.7 -1.9 -1.8 -1.8 0.5 -1.1 -1.8 -1.9 0 -0.8 -2.5 -1.2 -0.7 -1.8 -0.4 -0.8 -2.1 -0.2 -2.3 -1.9 -1.2 0.3 -2.7 -1.2 -1.3 0.8 -1.1 1.8 -0.7 -0.2 -2.4 2.2 -0.8 -0.3 -1.6 1.7 -1.7 -1 -2.3 2.4 -1.3 -0.6 -1.7 1.3 -1.2 1.1 -2.2 1.3 -1.6 -0.3 -2 -1.2 -0.9 0.3 -2.1 -2.1 -0.5 -0.8 -1.3 -2.4 -0.2 -1 -1.8 -2.3 -0.1 -1.4 -1.7 -2.2 0.3 -1.6 -1 -1.5 -0.8 -2.1 0.5 -1 -1 -2 0.8 -2 -0.9 -1.4 0.2 -1.6 -1.2 -0.2 -2.2 -2.2 -0.6 -1 -2.3 -1.4 -0.9 -2.3 0 -1.4 -1.8 -2.4 0.2 -1.6 -0.3 -1.4 -1.5 -2.5 1.6 -1.3 -2 -2 0.9 -1.2 -1.2 -1.6 -1 -2.2 -0.1 -0.6 -1.4 -2.3 0.4 -1.3 -1.9 -2 0.3 -1.7 -0.7 -1.8 -0.1 -1.8 -1.1 -1.1 0.5 -2.3 -0.9 -1.3 -0.2 -0.3 -2.2 -1.7 -1.5 -0.5 -1.3 -1.7 0.4 -1.5 -1.7 -2.2 0.1 -2.2 -0.6 -2.1 0.1 -0.9 2.1 -2 -0.3 -1.6 1.9 -1.9 -0.3 -1.5 0.8 -1.5 0.8 -0.7 1.2 -2.5 0.3 -1.1 1.8 -1.9 -0.1 -0.6 2.2 -1.7 0 -1.1 1.1 -2.2 0.5 -1.7 1.7 -1.4 -0.5 -2.1 1.8 -1.5 0.4 0.3 -1.8 0.5 -2 -0.7 -2.2 1.2 -1.5 -0.4 -1.9 0 -1.7 -0.6 -1.5 -0.3 -2.4 -1.1 -1.3 0.5 -2.6 -1 -2 -0.4 -1.6 0.6 -1.8 -1.2 -2.3 0.4 -2 -0.3 -1.4 0.3 -1.4 -1 -1.7 1.1 -1.8 -1.6 -2.1 0.7 -1.7 -0.4 -2 0.3 -2.4 -0.6 -1.9 -0.6 -1.2 1 -1.9 -1.8 -1.8 0.6 -1.4 -1.2 -2.3 0.7 -1.4 0.7 -2 -0.3 -2.3 1.5 -1 -0.6 -2.2 -0.2 -1.7 -1.8 -1.3 -0.3 -1.8 -1.3 -0.9 -0.2 -1.8 1.2 -1.8 -0.1 -1.6 1.4 -1.6 1.8 -1.4 0.6 -2.3 2 -1.1 0.6 -1.5 1.2 -2.2 1.4 -0.8 0.8 -1.6z"/>
<path fill="#cfe5db" stroke="#cfe5db" d="M463.1 426.3l0.5 -1.7 1.2 -1.2 -0.5 -2.8 2 -1.4 0 -1.7 0.8 -1.7 2 -1.4 0 -1.4 1.4 -1.8 1.1 -1.8 2.6 0.1 1 -1.4 1.1 -0.9 -0.2 -2.8 1.2 -1 1.1 -1.5 0.6 -2.7 1.4 -1 -0.6 -1.6 1.4 -1.4 -0.6 -2 1.1 -1.8 -1.1 -1.3 -1.2 -1.6 -0.8 -0.6 -1.3 -1.7 0.8 -1.7 1.3 -1 0.1 -1.4 1.4 -1.1 -0.3 -1.5 -0.1 -1.5 0 -1.8 1.7 -1.6 2.1 -0.5 0.9 -2.6 1.8 0 1.2 -1.4 2.5 -0.8 0.7 -1.7 2.1 -0.6 1.3 -1.1 -0.7 -2.3 2.5 -0.9 -0.4 -1.9 0.7 -1.4 -0.2 -2.3 2.1 -1.9 -0.2 -1.7 -1.4 -0.6 -0.8 -1.9 -1.9 0.4 -1 -1.8 -1.7 -0.4 -2.2 -1.6 1.8 -0.2 1.6 -1.9 1.4 1.1 2 -1 1.7 1.1 2.2 -0.7 1.5 1.8 1.6 -1 1.7 0.8 1.1 2.2 2.6 -0.4 1.3 2 0 1.9 0.8 1.6 -0.6 1.9 1.1 1.9 0 1.5 -1 1.9 1.2 1.7 -1.9 1.5 1.3 1.7 -1.6 1 0.2 2 -0.3 1.8 -0.7 1.4 0.8 2 -1.5 1.8 0.5 1 -0.8 2 2 1.2 -0.3 2.4 2.8 0.4 0.5 2.3 0.3 1.5 2.4 0.9 -0.3 2.9 2.5 0.5 0.1 1.7 1.7 -0.4 1.6 1.2 1.3 -0.8 1.7 1.2 1.8 0.6 0.6 2.3 0.8 0.9 -0.6 2.1 -0.7 1 -0.7 1.9 -0.7 1.4 -2.3 1.7 -0.7 1.9 0.3 1.4 -1 1.8 0.4 1.6 -1 1.5 1.6 1.7 -0.1 2.1 1.7 0.3 0.6 2.1 0.7 1.3 1.8 1.2 0.2 2.4 1 1.4 -0.1 2.1 1.9 1.1 0.7 1.8 1.5 1.4 1.5 -1 2 0.8 1.2 0.8 2.8 -0.6 1.2 1.1 -1.8 1.6 -0.8 1.6 -1.4 0.8 -1.2 2.2 -0.6 1.5 -2 1.1 -0.6 2.3 -1.8 1.4 -1.4 1.6 0.1 1.6 -1.2 1.8 0.2 1.8 1.3 0.9 0.3 1.8 1.8 1.3 0.2 1.7 0.6 2.2 -1.5 1 0.3 2.3 -0.7 2 -0.7 1.4 1.2 2.3 -0.6 1.4 1.8 1.8 -1 1.9 0.6 1.2 0.6 1.9 -0.3 2.4 0.4 2 -1.7 -0.2 -1.5 0.2 -1.4 0.5 -2.2 -0.3 -0.9 0.7 -1.8 0.3 -1.2 0.6 -2.3 -0.4 -0.9 1.8 -1.8 0 -1.6 -0.9 -2.7 1.4 -2 -0.5 -0.7 2.6 -1.8 0.4 -1.6 -0.2 -1.4 -0.8 -2 -0.2 -1.5 -1.5 -2 0.8 -1.5 -1.8 -1.5 0.5 -1.2 1.5 -1 0.5 -1.7 -1.4 0 -1.6 -2.1 -0.8 -0.9 -1.9 -1.4 -0.2 -1.2 -1.5 -1.5 -1.4 -1.4 1.2 -2.4 0.1 -1.9 0.5 -0.2 2.6 -1.9 0.5 -1 2.1 -2.2 -0.2 -0.6 -2.2 -1.9 0.7 -1.5 -1.5 -1.9 -0.6 -0.8 -1.5 -2.5 0.7 -1.1 -1.1 -0.1 -1.7 -1.1 -1.2 0.1 -2.1 -1.4 -1.3 -1 2.1 -1.7 1.2 -1 1.7 -0.3 -1.4 -0.8 -1.7 -0.2 -1.9 0.3 -1.9 -0.9 -1.1 1.1 -2.2 -1.7 -1.4 1.2 -2 -0.7 -1.4 -0.5 -2.1 0.4 -1.4 -0.3 -1.8 0.2 -1.3 -1.1 -1.7 0.8 -1.7 0.4 -1.6 -0.6 -2.3 1.8 -1.1 -0.4 -2.2 1.2 -1.2 0.1 -1.6 0.6 -1.8 -0.5 -2 1.5 -1.6 -1 -1.5 1.6 -1.2 0.3 -1.9 0.2 -1.8 1.4 -1.9 -0.1 -2.2 1 -1.3z"/>
<path fill="#60a584" stroke="#60a584" d="M266.4 408.8l55.1 0 0 -1.4 0.9 -2.5 -0.6 -1.6 0.9 -2.2 -0.8 -1.7 0.8 -1.9 2.5 -15 0.7 2.2 1.7 1.2 0.1 1.8 1.4 1.2 -0.4 2.3 1.5 1.3 1.6 1.4 -0.7 2.9 1.8 0.7 0.1 2.4 1.7 0.9 0 2.2 0.7 1.5 0.3 1.7 1.3 0.9 0.3 1.6 0.9 1.9 1.8 0.4 1.2 2.2 1.2 0.7 1.6 1.7 1.1 0.7 1.7 0.1 1.7 1.4 1.7 0.3 112.9 8.2 -0.5 1.6 -1 1.3 0.1 2.2 -1.4 1.9 -0.2 1.8 -0.3 1.9 -1.6 1.2 1 1.5 -1.5 1.6 0.5 2 -0.6 1.8 -0.1 1.6 -1.2 1.2 0.4 2.2 -1.8 1.1 0.6 2.3 -0.4 1.6 -0.8 1.7 1.1 1.7 -0.2 1.3 0.3 1.8 -0.4 1.4 0.5 2.1 0.7 1.4 -1.2 2 1.7 1.4 -1.1 2.2 0.9 1.1 -0.3 1.9 0.2 1.9 0.8 1.7 0.3 1.4 0.4 2.1 -1.3 1.4 1.1 1.5 -1.3 1.8 0.5 1.5 -0.7 1.7 0.1 2.1 -1.6 0.9 1 1.8 -1.7 1.6 1 2.1 -1.3 1.5 -0.6 1.2 -0.2 2.6 -1.9 1.1 0.8 2.2 -2.2 1 0.4 1.9 -1.7 1.5 0.6 2 -1.6 0.9 0.1 1.8 -1.2 1.3 -1.2 2.2 -2.1 -0.2 -1 2.3 -1.9 0.7 -1.7 1.3 0.2 1.7 -2 1.5 -0.4 2 -1.1 1 -1 1.4 -0.4 2.3 -2 0.6 -0.5 2.3 -1.1 0.9 -1 1.5 -1.8 0.2 -1.8 2.1 -1.3 -0.1 -1.6 1.3 -1.4 1.4 0.2 2.1 -1.7 0.3 0.1 2.2 -1 1.5 -1.3 1.6 -0.1 1.4 -1.3 1.5 -0.1 1.3 -1 1.8 -0.8 1.2 0.1 2.3 -1.4 1.4 0.5 1.9 -2.3 1.2 0.2 1.8 1.2 1.6 -0.7 1.9 1.6 1.4 -0.8 1.4 -1.7 0.8 -2.5 -0.9 -2.1 0.1 -1.6 -0.9 -1.5 0.9 -1.3 -1.7 -1.8 0.4 0.1 -1.9 2.1 0.2 0.3 -2 0.5 -1.7 -0.6 -1.6 0.6 -1.7 -1.1 -1.3 -0.7 -1.2 -1.1 1.4 -2.2 0.1 -1.7 1 -1.7 1.1 -1.7 -0.8 -1.3 2.2 -2.4 -0.7 -1.6 1.4 -1.6 0.6 -2.1 -1.9 -1.8 1.2 -2 -0.6 -2.2 -0.6 -2.1 0.7 -1.2 -1.3 -2 -0.1 -1.8 -0.6 -1.8 -1.2 -2.1 0.5 -1.8 -1.2 -1.8 -0.7 -1.4 -1.4 -1.8 -0.4 -1.3 0.6 -2 -0.7 -1.5 2 -1.5 -0.6 -2 0 -0.5 1.6 -2.2 -0.1 -0.8 2.4 -2 -0.2 -1.8 0.5 -0.7 2.2 -3.1 0.6 -0.7 1.7 -1.6 0.5 -1.9 0 -1.7 0.8 -0.6 -1.7 -1.8 -0.3 -0.9 -1.6 -0.9 -1.4 -2 -1.2 -0.4 -1.1 -1.7 -1.3 -1.4 -1 0.4 -2.4 -2.1 -1.1 0.2 -2 -0.9 -1.1 -1.1 -1.6 0.8 -2.1 -1.4 -2.2 0.5 -1.6 -0.1 -1.4 -1.4 -1.9 -0.3 -1.2 -14.5 -0.5 -14.3 -0.5 0.1 -1.8 -0.6 -1.6 0.3 -2 -0.5 -1.6 0.2 -2 -1.9 -1.7 0.1 -2.4 -0.9 -1.4 -0.7 -1.9 -1.4 -1.1 0.1 -1.2 -1.8 -1.3 1.5 -0.6 1.8 0.6 1.7 -0.7 0.5 -1.5 -1.6 -2.2 0.8 -1.6 -1.2 -1.4 0.3 -2.1 -0.7 -1.6 0.2 -2.4 -1.2 -1 0.4 -2.5 -0.5 -1.7 -1 -2 0.8 -2.1 -1.7 -1.4 -0.1 -1.5 1.2 -2 -0.1 -1.4 1.4 -1.6 2.4 -1.5 -0.7 -2.4 2.1 -1.1 -0.1 -2 1.3 -0.7 0.5 -2.2 0.8 -1.4 1.2 -1.4 1 -2.1 1.6 -0.4 0.7 -2.4 -0.4 -1.4 -0.9 -1.9 0.2 -1.1 -0.9 -1.8 -1.2 -1.8 0.5 -1.9 -1.1 -1.9 -0.2 -1.9 0 -1.7 0.9 -2.1 -1.4 -2.7 1.2 -1.5 -2.1 0.1 -1.1 -1.8 -1.1 0.4 -1.9 -0.7 -1.9 0.1 -1.9 -2.2 -2 1.5 -1.7 -1.4 -1.5 -1.3 -2.6 1.3 -1.7 -0.9 -1.8 0.4 -1.5 -1.1 -2.2 0.5 -1.7 -0.7 0.4 -1.7 -1 -2.4 1.3 -1.4 -1 -1.8 0.5 -1.9 -0.2 -2 -0.8 -1.3 0.8 -2.1 -0.4 -1.8 0.3 -1.7 -1.3 -1.7 0.6 -1.4 0 -1.8 1.1 -1.7 -0.7 -2.2 0.4 -1.8 0.7 -2.2 -1.5 -1.6 1 -1.7 -1.5 -1.1z"/>
<path fill="#a9d3c2" stroke="#a9d3c2" d="M457.6 480.1l1 -1.7 1.7 -1.2 1 -2.1 1.4 1.3 -0.1 2.1 1.1 1.2 0.1 1.7 1.1 1.1 2.5 -0.7 0.8 1.5 1.9 0.6 1.5 1.5 1.9 -0.7 0.6 2.2 2.2 0.2 1 -2.1 1.9 -0.5 0.2 -2.6 1.9 -0.5 2.4 -0.1 1.4 -1.2 1.5 1.4 1.2 1.5 1.4 0.2 0.9 1.9 2.1 0.8 0 1.6 1.7 1.4 1 -0.5 1.2 -1.5 1.5 -0.5 1.5 1.8 2 -0.8 1.5 1.5 2 0.2 1.4 0.8 1.6 0.2 1.8 -0.4 0.7 -2.6 2 0.5 2.7 -1.4 1.6 0.9 1.8 0 0.9 -1.8 2.3 0.4 1.2 -0.6 1.8 -0.3 0.9 -0.7 2.2 0.3 1.4 -0.5 1.5 -0.2 1.7 0.2 -0.7 1.7 1.6 2.1 -1.1 1.8 1 1.7 -0.3 1.4 0.3 1.4 -0.4 2 1.2 2.3 -0.6 1.8 0.4 1.6 1 2 -0.5 2.6 1.1 1.3 0.3 2.4 0.6 1.5 0 1.7 0.4 1.9 -1.2 1.5 0.7 2.2 -0.5 2 -0.3 1.8 -1.6 -1.4 -0.6 -2.3 -1.5 -0.8 -1.3 0.6 -1.9 0.4 -1.8 1 -1.1 1.7 -1.9 -0.6 -0.8 1.4 -1.5 1.5 0.8 2.2 -1.7 0.7 -0.1 1.9 -0.2 1.9 -1.1 1.2 1 2 -0.9 1.1 -1.6 1.4 -2.5 -0.1 -0.9 1.2 -1.8 1.3 0.6 2 -1.3 1.7 0.4 2.3 -0.2 1.3 0.8 2.3 0.2 1.6 0 2 2.1 1.9 -0.7 1.5 1.1 2.2 -1.6 1.8 0.8 2.2 -1.5 1.3 -0.2 2.2 -0.7 1.9 1.5 1.4 -0.5 1.3 0.6 1.5 0.1 1.7 0.3 2 -1.6 1.4 -0.9 2.2 -1.2 1.4 -2.1 -0.6 -1 1.6 -1.7 -1.2 -1.6 1.5 -1.9 -0.4 -1.8 0.4 -1.5 -0.6 -2.1 0.3 -1.6 -0.4 -1.3 0 -2 -0.7 -1.5 0.1 -1.3 0 -1.9 0.8 -1.2 -0.2 -1.8 0.7 -1.3 0.6 -1.9 0.1 -1.5 1.3 -2.2 -0.2 -1.9 0.7 -1.3 0.2 -2 0.6 -2 -0.4 -1.3 1.4 -1.7 -0.7 -1.7 1.4 -1.1 1.4 -2.2 -0.2 -1.2 1.7 -1.7 0.8 -1 2.2 -2 0.4 -1 1.4 -1 1 -1.8 1 -0.3 2.4 -1.7 0.4 -1.1 -1.1 -2.5 -0.2 -1.4 -1.2 -1.6 -1.6 -2.5 0.7 -0.5 -2 -2.8 0.7 -1.3 -1.6 -1.6 -1.3 -1.9 -0.1 -2 -1.5 -1.6 0.6 -1.7 -1.4 -2.6 0 -0.7 -1.9 -2.1 -0.1 -1.4 -1.4 -2 -0.4 -0.3 -1.6 -2.5 0 -1.1 -2.5 -1.1 -0.9 -0.6 -1.8 0.9 -1.4 -2 -1.1 0.5 -1.9 0.8 -1.4 -1.6 -1.4 0.7 -1.9 -1.2 -1.6 -0.2 -1.8 2.3 -1.2 -0.5 -1.9 1.4 -1.4 -0.1 -2.3 0.8 -1.2 1 -1.8 0.1 -1.3 1.3 -1.5 0.1 -1.4 1.3 -1.6 1 -1.5 -0.1 -2.2 1.7 -0.3 -0.2 -2.1 1.4 -1.4 1.6 -1.3 1.3 0.1 1.8 -2.1 1.8 -0.2 1 -1.5 1.1 -0.9 0.5 -2.3 2 -0.6 0.4 -2.3 1 -1.4 1.1 -1 0.4 -2 2 -1.5 -0.2 -1.7 1.7 -1.3 1.9 -0.7 1 -2.3 2.1 0.2 1.2 -2.2 1.2 -1.3 -0.1 -1.8 1.6 -0.9 -0.6 -2 1.7 -1.5 -0.4 -1.9 2.2 -1 -0.8 -2.2 1.9 -1.1 0.2 -2.6 0.6 -1.2 1.3 -1.5 -1 -2.1 1.7 -1.6 -1 -1.8 1.6 -0.9 -0.1 -2.1 0.7 -1.7 -0.5 -1.5 1.3 -1.8 -1.1 -1.5 1.3 -1.4z"/>
<path fill="#c5e0d4" stroke="#c5e0d4" d="M535.1 522.6l1.5 -0.4 2.1 -1.8 1.4 0.5 1.7 -1.7 2.2 -0.5 1.1 -1.1 1.7 0 0.6 -2.2 1.9 0.1 1.1 -1.8 2.5 -0.3 0.7 -1.2 1.5 -0.8 1.5 -0.8 1.9 0.3 1.6 -1.9 2 0.3 0.9 -2.1 2.1 -0.1 2.2 0.6 2.2 -0.1 1.5 1.7 1.7 -0.4 0.5 1.3 1.7 1.5 0.3 2.2 1.3 0.2 2.3 0.9 1.1 -0.5 1.8 1.1 1.8 0.1 1.7 0.7 2 -0.3 1.3 1.9 2.3 -0.4 0.6 1.4 2.2 0.1 1.6 1 1.2 1.2 2 -0.9 1.3 2 2.5 -1.6 1.4 1.5 1.6 0.3 2.4 -0.2 1.4 1.8 2.3 0 1.4 0.9 1 2.3 2.2 0.6 0.2 2.2 1.6 1.2 1.4 -0.2 2 0.9 2 -0.8 1 1 2.1 -0.5 1.5 0.8 1.6 1 2.2 -0.3 1.4 1.7 2.3 0.1 1 1.8 2.4 0.2 0.8 1.3 2.1 0.5 -0.3 2.1 1.2 0.9 0.3 2 -1.3 1.6 -1.1 2.2 -1.3 1.2 0.6 1.7 -2.4 1.3 1 2.3 -1.7 1.7 0.3 1.6 -2.2 0.8 0.2 2.4 -1.8 0.7 -0.8 1.1 1.2 1.3 -0.3 2.7 1.9 1.2 0.2 2.3 0.8 2.1 1.8 0.4 -1.9 -0.1 -1 1.3 -2.1 0.1 -2.1 1.4 -2.3 -1 -0.8 2 -2.4 0.1 -1.1 0.8 -0.6 1.5 -1.3 1.4 0.3 1.6 1.3 1.2 -1 2.2 1.2 1.3 -1 2.2 0.6 1.8 -2 1.4 -0.1 2.1 0.7 2.2 -1.7 1.5 1.1 1.9 -1.4 1.9 0 1.8 -1.4 1.1 -0.4 1.9 -0.7 1.4 -1.6 1 -0.5 1.5 -1.9 0.4 -1 2.1 0.1 2.5 -1.7 1 0.2 2.4 -1.1 1.7 -1.4 2 -1.5 0.9 -1.4 1.2 -1.1 1.9 -1.4 1.4 -1 2.1 0.1 2.1 -0.2 2 -0.6 2.1 -1.5 1.6 -0.2 2.2 -1.7 1 -1.7 0.1 -1.6 1 -1.8 0.4 -0.2 1.9 -2.1 0.2 -1.6 -0.1 -0.9 1.6 -1.7 0.6 -1.2 -1.2 -2.1 -0.1 -1.7 -0.1 -2.1 0.9 -1.5 -0.8 -1.4 1.3 -2.2 -0.4 -1.3 1.4 -1.3 -0.3 -1.9 0.9 -1.9 0 -1 1.5 -2.1 -0.2 -1.6 0.8 -1.5 0.7 -1.9 0 -1.6 1.2 -1.7 0.3 -1.5 -0.2 -1.8 0.9 -1.6 -0.4 -2.1 1.9 -1.3 0.2 -2.8 0 -1.4 1.3 -1.8 -0.3 -2 0.7 -0.8 1.1 -0.4 1.8 -2.5 0.8 -1.7 0.9 -2.4 -0.9 -1.8 0.9 -0.5 -1 -0.7 -1.5 -0.6 -1.9 -1.1 -2.3 -0.8 -2.2 -1.6 -1 -0.5 -1.8 -0.8 -2.3 0.4 -1.9 -0.1 -2 2 -1 -0.3 -2 1 -2.5 0.3 -1.7 -1.4 -0.9 -1.1 -1.6 -1.8 0.6 -1.4 -0.6 -1.8 0 -0.6 -2 -1.3 -1.4 0.3 -1.7 -0.7 -1.9 -0.2 -2.1 -1.1 -1.1 0.1 -2.2 -1.3 -1.4 0 -1.9 -1.4 -1.6 0.5 -1.8 -1.5 -2.1 1.2 -1.6 -1.3 -1.7 -1.8 0.6 -1.1 -2 -2.1 0.6 -1.8 1.2 -2.2 -1.4 -0.6 1.8 -2.2 -0.2 -1.4 1.2 -1.9 -0.6 -1.7 0.9 -1.9 -0.5 -2.3 0.5 -1.4 -0.8 -2.2 2 -1.7 -0.8 -0.8 1.3 -0.5 2.5 -1.8 -0.9 -1.9 0.2 -1.3 -0.6 0 -1.4 -1.9 -1.7 0.3 -1.7 -0.9 -1.5 -1.8 0.5 -1.1 -1.1 -2.5 0.8 -0.9 -1.2 -1.7 1.6 -2 -1.1 -1.8 0 -1.3 -0.8 -2.3 0.7 -1.3 -1.1 -1.8 0.3 -1.5 -0.6 -2.3 0.2 -1.7 1.5 -1.7 -0.4 -1.8 0.7 -0.2 -1.5 0.8 -1.7 -0.8 -2.4 1.2 -1.3 -1 -1.8 1.7 -0.4 0.3 -2.4 1.8 -1 1 -1 1 -1.4 2 -0.4 1 -2.2 1.7 -0.8 1.2 -1.7 2.2 0.2 1.1 -1.4 1.7 -1.4 1.7 0.7 1.3 -1.4 2 0.4 2 -0.6 1.3 -0.2 1.9 -0.7 2.2 0.2 1.5 -1.3 1.9 -0.1 1.3 -0.6 1.8 -0.7 1.2 0.2 1.9 -0.8 1.3 0 1.5 -0.1 2 0.7 1.3 0 1.6 0.4 2.1 -0.3 1.5 0.6 1.8 -0.4 1.9 0.4 1.6 -1.5 1.7 1.2 1 -1.6 2.1 0.6 1.2 -1.4 0.9 -2.2 1.6 -1.4 -0.3 -2 -0.1 -1.7 -0.6 -1.5 0.5 -1.3 -1.5 -1.4 0.7 -1.9 0.2 -2.2 1.5 -1.3 -0.8 -2.2 1.6 -1.8 -1.1 -2.2 0.7 -1.5 -2.1 -1.9 0 -2 -0.2 -1.6 -0.8 -2.3 0.2 -1.3 -0.4 -2.3 1.3 -1.7 -0.6 -2 1.8 -1.3 0.9 -1.2 2.5 0.1 1.6 -1.4 0.9 -1.1 -1 -2 1.1 -1.2 0.2 -1.9 0.1 -1.9 1.7 -0.7 -0.8 -2.2 1.5 -1.5 0.8 -1.4 1.9 0.6 1.1 -1.7 1.8 -1 1.9 -0.4 1.3 -0.6 1.5 0.8 0.6 2.3z"/>
<path fill="#fff" stroke="#fff" d="M637.8 572.5l1.2 0.7 0.8 2.5 1.9 0 1.1 1.8 1.8 -0.5 1.9 1.8 -0.6 1.5 0.4 1.8 -1.4 1.5 1 2 -0.6 1.9 0 1.5 -1 2.3 0.8 1.8 -1.1 1.9 -0.5 2 -1.5 0.5 0.6 2.4 -2.3 0.9 0 1.7 -1.5 1.4 0 1.9 -1 0.8 0 2.3 -1.3 1.1 -1.4 1.1 0.7 2.5 -2 0.3 -0.4 2.5 -0.6 1.2 -0.9 1.8 -1.4 0.6 0.3 2.3 -1.8 1.5 1.1 -1.3 -0.8 1 -1.8 0.8 -0.8 1.5 -1.1 1.5 0.3 1.9 -1.7 0.8 -0.8 1.7 -1.9 -0.8 -1.4 -0.1 -2.1 -0.5 -2.1 -0.3 -2.1 -0.8 -2.1 -0.9 -0.3 -1.1 -0.9 -1.4 -0.2 -2.5 -1.5 -1.2 1.4 -2 1.1 -1.7 -0.2 -2.4 1.7 -1 -0.1 -2.5 1 -2.1 1.9 -0.4 0.5 -1.5 1.6 -1 0.7 -1.4 0.4 -1.9 1.4 -1.1 0 -1.8 1.4 -1.9 -1.1 -1.9 1.7 -1.5 -0.7 -2.2 0.1 -2.1 2 -1.4 -0.6 -1.8 1 -2.2 -1.2 -1.3 1 -2.2 -1.3 -1.2 -0.3 -1.6 1.3 -1.4 0.6 -1.5 1.1 -0.8 2.4 -0.1 0.8 -2 2.3 1 2.1 -1.4 2.1 -0.1 1 -1.3z"/>
<path fill="#fff" stroke="#fff" d="M558.4 651.9l1.6 -1.2 1.9 0 1.5 -0.7 1.6 -0.8 2.1 0.2 1 -1.5 1.9 0 1.9 -0.9 1.3 0.3 1.3 -1.4 2.2 0.4 1.4 -1.3 1.5 0.8 2.1 -0.9 1.7 0.1 2.1 0.1 1.2 1.2 1.7 -0.6 0.9 -1.6 1.6 0.1 2.1 -0.2 0.2 -1.9 1.8 -0.4 1.6 -1 1.7 -0.1 1.7 -1 0.2 -2.2 1.5 -1.6 0.6 -2.1 0.2 -2 -0.1 -2.1 1 -2.1 1.4 -1.4 1.1 -1.9 1.4 -1.2 1.5 -0.9 1.5 1.2 0.2 2.5 0.9 1.4 0.3 1.1 2.1 0.9 2.1 0.8 2.1 0.3 2.1 0.5 1.4 0.1 1.9 0.8 0.2 2.7 -1 1.4 0.9 1.8 -0.1 1.6 0 2.6 0.8 1.6 -2.2 0.6 -0.3 1.9 -2.6 0.2 -1.5 1.4 -2.7 0.3 -1.5 1.4 -2.3 0.8 -1 1.7 -1.5 1.5 -1 1 -0.5 1.2 -0.8 1.3 -0.5 1.3 1.3 1.2 -1 1.4 -1 1.1 -2 -1.2 -1.9 1.7 -1.2 -0.9 -1.9 0.6 -1.7 -0.6 -1.4 0 -1.7 -0.3 -1.2 0.6 -2.1 0.1 -1.9 -0.1 -1.4 0.5 -0.6 -1.4 -0.2 -1.5 -1.7 -0.7 -0.6 2 1.3 1.2 -1.3 1.6 -1.9 -0.4 -1.7 -0.9 -2.5 0.5 -1.1 -0.7 -2.2 -0.5 -1.4 1 -1.9 -0.6 -0.7 1.7 -1.8 0 -1.5 0.6 -1.4 0.9 -1.2 -1.8 -0.9 -1.4 1.6 -0.8 1.9 -1.7 -0.6 -2.3 -1.6 -0.4 -1.3 -0.6 -2.5 0.3 -1 -1.3 -1.3 -1.3z"/>
<path fill="#cfe5db" stroke="#cfe5db" d="M450.1 607.5l1.8 -0.7 1.7 0.4 1.7 -1.5 2.3 -0.2 1.5 0.6 1.8 -0.3 1.3 1.1 2.3 -0.7 1.3 0.8 1.8 0 2 1.1 1.7 -1.6 0.9 1.2 2.5 -0.8 1.1 1.1 1.8 -0.5 0.9 1.5 -0.3 1.7 1.9 1.7 0 1.4 1.3 0.6 1.9 -0.2 1.8 0.9 0.5 -2.5 0.8 -1.3 1.7 0.8 2.2 -2 1.4 0.8 2.3 -0.5 1.9 0.5 1.7 -0.9 1.9 0.6 1.4 -1.2 2.2 0.2 0.6 -1.8 2.2 1.4 1.8 -1.2 2.1 -0.6 1.1 2 1.8 -0.6 1.3 1.7 -1.2 1.6 1.5 2.1 -0.5 1.8 1.4 1.6 0 1.9 1.3 1.4 -0.1 2.2 1.1 1.1 0.2 2.1 0.7 1.9 -0.3 1.7 1.3 1.4 0.6 2 1.8 0 1.4 0.6 1.8 -0.6 1.1 1.6 1.4 0.9 -0.3 1.7 -1 2.5 0.3 2 -2 1 0.1 2 -0.4 1.9 0.8 2.3 0.5 1.8 1.6 1 0.8 2.2 1.1 2.3 0.6 1.9 0.7 1.5 0.5 1 1.8 -0.9 2.4 0.9 1.7 -0.9 2.5 -0.8 0.4 -1.8 0.8 -1.1 2 -0.7 1.8 0.3 1.4 -1.3 2.8 0 1.3 -0.2 2.1 -1.9 1.6 0.4 1.8 -0.9 1.5 0.2 1.7 -0.3 0.2 1.7 1.3 1.3 1 1.3 2.5 -0.3 1.3 0.6 1.6 0.4 0.6 2.3 -1.9 1.7 -1.6 0.8 -1.7 1.3 -1.7 -0.5 -1.2 0.6 -1.3 0.7 -0.9 1 0.1 1.9 -0.9 1.3 -1.8 1 -0.6 1 -0.8 1.3 -1.7 1.2 -2.1 0.5 -1.3 1.2 0.3 2.2 -1.1 1.1 -1.2 -0.4 -1.3 -0.4 -2.7 -0.7 -1.5 1.1 -1.9 -0.1 -1.2 0.7 -1.9 0.3 -1 0.9 -1.8 -0.3 -1.4 1.4 -2.2 0.5 -1.2 1.7 -2.4 -0.1 -1.5 1.6 -2 0.2 -1.5 1.1 0.2 2.3 -2.5 0.9 0.6 1.5 -0.6 1.7 -1.3 1.6 -1.8 0.4 -1.1 0.8 -1.6 0.9 -1.7 1.3 -1 2.1 -2.1 -0.1 -1.7 2 -1.5 1 -2.2 1 -1 2.3 -1.8 0.4 -0.2 -2.3 0.2 -1.4 -1.5 -0.5 -1.8 -1.4 -1.5 0.2 -1.5 -0.8 0.1 -2.1 -1.4 -0.9 0.1 -2 -1.6 -0.9 -1.7 0.5 -1.7 -0.9 -1.9 -0.3 -0.9 -1 -1.8 0.4 -1.7 -0.3 -0.1 -2.1 -1.7 -1.2 0.6 -1.7 0 -1.7 -2 -1.3 0.8 -2 -1.3 -1.3 0.1 -1.7 -0.9 -2.2 0.7 -2.2 -1.2 -1.4 -0.7 -1.4 -0.3 -2.7 -1.5 -0.5 0.2 -3.2 -1.4 -1 -1.8 -1.2 -1.3 0 -1.9 -1.3 -2.3 0.8 -1.1 -1.4 -2.5 1.1 -1.6 -1.1 -2.4 1.3 -1.4 -0.7 -1.9 0.4 -1.6 -1.5 -1.8 1.3 -1.2 -1.1 -2 0.7 -1.5 -1 -2.2 -0.6 -1.4 -0.8 -2 0.6 -1.9 -1.7 -1.9 -0.2 -1.6 -1.4 -2.6 1 -1.4 -1.4 -1.5 -0.5 -1.8 0.5 -1.9 -0.5 -2.3 0 -1.6 0.6 -1.5 -0.9 -2.2 1.4 -1.8 -1.3 -1.7 0.7 1.6 -0.7 1.3 -1.5 2.1 -0.8 2 -1.4 0.7 -1.6 2.3 -0.1 1.3 -1.9 0.6 -2.3 2.7 -0.5 0 -2.3 1.7 -1.2 2.4 -1.2 -0.7 -2.2 2.3 -1.2 1 -1.6 0 -2.3 1.5 -1.4 -0.3 -2.7 1.3 -1.1 0.6 -1.1 0.2 -2.4 2.3 -0.7 -0.2 -2 0.9 -1.3 0.9 -1.3 1.7 -0.5 0.8 -2 1.6 -1.2 1.4 -1.2 -0.3 -1.9 1.1 -1.4 0.3 -2.1z"/>
<path fill="#b2d7c7" stroke="#b2d7c7" d="M334.8 571.3l1.7 -0.8 1.9 0 1.6 -0.5 0.7 -1.7 3.1 -0.6 0.7 -2.2 1.8 -0.5 2 0.2 0.8 -2.4 2.2 0.1 0.5 -1.6 2 0 1.5 0.6 1.5 -2 2 0.7 1.3 -0.6 1.8 0.4 1.4 1.4 1.8 0.7 1.8 1.2 2.1 -0.5 1.8 1.2 1.8 0.6 2 0.1 1.2 1.3 2.1 -0.7 2.2 0.6 2 0.6 1.8 -1.2 2.1 1.9 1.6 -0.6 1.6 -1.4 2.4 0.7 1.3 -2.2 1.7 0.8 1.7 -1.1 1.7 -1 2.2 -0.1 1.1 -1.4 0.7 1.2 1.1 1.3 -0.6 1.7 0.6 1.6 -0.5 1.7 -0.3 2 -2.1 -0.2 -0.1 1.9 1.8 -0.4 1.3 1.7 1.5 -0.9 1.6 0.9 2.1 -0.1 2.5 0.9 1.7 -0.8 -0.5 1.9 2 1.1 -0.9 1.4 0.6 1.8 1.1 0.9 1.1 2.5 2.5 0 0.3 1.6 2 0.4 1.4 1.4 2.1 0.1 0.7 1.9 2.6 0 1.7 1.4 1.6 -0.6 2 1.5 1.9 0.1 1.6 1.3 1.3 1.6 2.8 -0.7 0.5 2 2.5 -0.7 1.6 1.6 1.4 1.2 2.5 0.2 1.1 1.1 1 1.8 -1.2 1.3 0.8 2.4 -0.8 1.7 0.2 1.5 -1.2 1 -0.3 2.1 -1.1 1.4 0.3 1.9 -1.4 1.2 -1.6 1.2 -0.8 2 -1.7 0.5 -0.9 1.3 -0.9 1.3 0.2 2 -2.3 0.7 -0.2 2.4 -0.6 1.1 -1.3 1.1 0.3 2.7 -1.5 1.4 0 2.3 -1 1.6 -2.3 1.2 0.7 2.2 -2.4 1.2 -1.7 1.2 0 2.3 -2.7 0.5 -0.6 2.3 -1.3 1.9 -2.3 0.1 -0.7 1.6 -2 1.4 -2.1 0.8 -1.3 1.5 -1.6 0.7 -1.9 1.1 -1.8 0.3 -0.3 1.4 -2.2 0.4 -1.5 1.7 -0.3 2.5 -2 0.8 -0.1 1.7 -2 0.9 0.2 2.1 -1.8 1.6 0.2 1.9 -2.4 1.8 0.3 2.2 -1.3 0.6 -0.6 2.3 -2 0.6 -1.1 -1.5 -1.9 1.4 -1.8 -1.6 -1.9 1.1 -2.2 0.3 -1.6 0.8 -1.9 -0.2 -1.8 0.3 -2 0.1 -1.7 -1 -2 0.8 -1.8 -1.1 -1.2 -1.8 1.4 -1.7 -1.7 -1.7 1.3 -2.3 -1.3 -1.6 0.2 -2.2 -0.9 -1.5 0.8 -2.2 -1 -1.2 1.1 -2.3 -1.2 -1.2 0 -1.6 -0.5 -1.7 -1.9 -1 0.3 -2.1 -1.7 -1.5 -1.1 -0.8 -1.7 -0.1 -1.5 -1.1 -1.9 -0.5 -1.3 -0.4 -1.9 0.3 -1.2 -2.2 -1.9 0.6 -1.4 0.4 -2.6 -0.2 -1.6 1.4 -1.9 -0.7 -1.3 0.8 -1.8 -1.3 -2.4 0.8 -1.5 -0.9 -1.8 0.2 -1.6 0.2 -1.5 -1.6 -1.7 0.7 -1.8 -0.6 -1.4 0 0.2 -1.9 -0.6 -1.4 1.5 -2.1 -1.4 -1.9 0.8 -1.4 -0.3 -1.8 1.2 -1.3 -0.4 -2.2 1 -1.2 -1.5 -1.6 1.3 -1.9 -0.9 -1.6 -0.2 -2.7 -1.4 -1.2 0 -2 -1.9 -1.4 0.7 -1.8 -1.1 -1.1 -0.2 -1.6 -1.3 -1.7 0 -1.4 1.4 -1.9 -1.3 -2.8 1.2 -1.4 0.4 -1.9 0.8 -1.3 -0.4 -2.5 1.9 -1.1 -0.2 -1.9 1.2 -1.6 -0.1 -1.8 1.5 -0.5 -0.2 -2.7 1.3 -0.9 0.8 -1.3 -0.3 -2.7 1.6 -1.1 -0.2 -1.8 0.6 -1.9 0.7 -2.1 -1.6 -1.5 1 -1.9 -0.7 -1.1z"/>
<path fill="#8dc3ab" stroke="#8dc3ab" d="M413.8 655.6l1.7 -0.7 1.8 1.3 2.2 -1.4 1.5 0.9 1.6 -0.6 2.3 0 1.9 0.5 1.8 -0.5 1.5 0.5 1.4 1.4 2.6 -1 1.6 1.4 1.9 0.2 1.9 1.7 2 -0.6 1.4 0.8 2.2 0.6 1.5 1 2 -0.7 1.2 1.1 1.8 -1.3 1.6 1.5 1.9 -0.4 1.4 0.7 2.4 -1.3 1.6 1.1 2.5 -1.1 1.1 1.4 2.3 -0.8 1.9 1.3 1.3 0 1.8 1.2 1.4 1 -0.2 3.2 1.5 0.5 0.3 2.7 0.7 1.4 1.2 1.4 -0.7 2.2 0.9 2.2 -0.1 1.7 1.3 1.3 -0.8 2 2 1.3 0 1.7 -0.6 1.7 1.7 1.2 0.1 2.1 1.7 0.3 1.8 -0.4 0.9 1 1.9 0.3 1.7 0.9 1.7 -0.5 1.6 0.9 -0.1 2 1.4 0.9 -0.1 2.1 1.5 0.8 1.5 -0.2 1.8 1.4 1.5 0.5 -0.2 1.4 0.2 2.3 -1.3 1.6 0.5 1.8 -1.7 1.6 -0.5 2.2 -1.7 0 -0.4 2.4 -1.1 0.8 -1 1.9 -1.7 -1.6 -1.5 0.5 -1.9 0.2 -1.1 0.5 -1.9 -0.8 -1.8 1.3 -1.2 1.5 -2.3 -0.8 -1.4 1.6 -1.8 -0.1 -1.6 -1.3 -2.4 1.3 -1 -1.3 -1.5 -0.2 -1.6 -0.7 -2 1.1 -1.6 -1.1 -1.4 0.1 -1.8 1.1 -1.5 -0.5 -1.9 1 -1.9 1.1 -1.8 -0.4 -1.1 1.6 -1.9 -0.6 -2.1 0.2 -1.4 1.6 -1.5 0.7 -1.7 2.3 0 1.8 -1.5 0.5 -2.1 -1.7 -1.4 0.4 -1.8 0.7 -1.2 -1.2 -2.2 0.6 -1.4 -1.1 -1.7 0.2 -1.3 -0.6 -2 0.3 -1.4 -0.7 -2 -0.1 -1.4 -0.4 -1.9 -0.2 -1.7 -0.7 -2 0.6 -0.9 -1.2 -2.2 0.2 -1.6 -1 -1.6 0.4 -2.1 -0.5 -0.8 -2.1 -2.4 0.9 -0.7 -1.6 -2 -1.1 -1.5 -1.4 0.3 -1.3 -2.1 -1 0 -1.8 -1.5 -1.5 0.1 -1.6 -1.1 -1.4 -2.1 -0.5 -1.6 0.6 -1.6 -0.7 -1.4 0.3 -2 -0.2 0 -1.6 1.8 -1.2 -0.6 -2.2 -0.1 -1.9 1.6 -1.1 -0.9 -2.1 1.7 -1.6 0.2 -2 1.2 -1.8 -1 -2.1 1.8 -1.5 -0.2 -1.8 0.7 -1.6 0.8 -1.1 0.1 -2.5 1.9 -1 -0.3 -1.6 0.6 -2.3 1.3 -0.6 -0.3 -2.2 2.4 -1.8 -0.2 -1.9 1.8 -1.6 -0.2 -2.1 2 -0.9 0.1 -1.7 2 -0.8 0.3 -2.5 1.5 -1.7 2.2 -0.4 0.3 -1.4 1.8 -0.3z"/>
<path fill="#d2e6dd" stroke="#d2e6dd" d="M402.1 718.1l2 1.1 0.7 1.6 2.4 -0.9 0.8 2.1 2.1 0.5 1.6 -0.4 1.6 1 2.2 -0.2 0.9 1.2 2 -0.6 1.7 0.7 1.9 0.2 1.4 0.4 2 0.1 1.4 0.7 2 -0.3 1.3 0.6 1.7 -0.2 1.4 1.1 2.2 -0.6 1.2 1.2 1.8 -0.7 1.4 -0.4 2.1 1.7 1.5 -0.5 0 -1.8 1.7 -2.3 1.5 -0.7 1.4 -1.6 2.1 -0.2 1.9 0.6 1.1 -1.6 1.8 0.4 1.9 -1.1 1.9 -1 1.5 0.5 1.8 -1.1 1.4 -0.1 1.6 1.1 2 -1.1 1.6 0.7 1.5 0.2 1 1.3 2.4 -1.3 1.6 1.3 1.8 0.1 1.4 -1.6 2.3 0.8 1.2 -1.5 1.8 -1.3 1.9 0.8 1.1 -0.5 1.9 -0.2 1.5 -0.5 1.7 1.6 0.9 1.7 0 2.6 -0.7 1.5 -0.5 1.9 -1.2 1.6 -0.1 1.7 -0.2 1.4 -0.6 1.8 0 1.8 -0.2 1.6 2.1 2 0.6 1.4 1.4 1.8 -0.3 2.1 1.4 1.1 -0.8 1.6 -0.9 1.7 -0.8 1.7 -1.4 1.5 1.3 1.8 -1.6 1.7 -0.7 1.2 0.7 1.8 -0.8 2 -0.6 2 -1.1 2.1 -1.2 1.7 -2.4 0.5 -1.4 1.2 -1.4 1 -2.2 1 -1.4 1.3 -1.3 1.2 -1.5 2 -1.4 1 -1.8 1.3 -1.5 1.2 -2.5 0.2 -1.7 -1.1 -0.5 -1.8 1.4 -1.5 0.3 -1.7 0.8 -1.3 0.5 -2 0.5 -1.9 2 -1.4 -1.5 -1.4 -1.8 -0.6 -1.7 -0.2 -1.5 -1 -1.8 -0.2 -1.9 0.2 -1.7 -1.6 -1.4 -0.2 -2.1 -1.1 -2.1 -0.6 -0.7 -1.2 -2.3 -1.1 -0.3 -1.9 -1.2 -2.1 -2.3 -0.5 -0.7 -1.5 -1.6 -0.3 -1.1 -1.8 -2.1 0.2 -1 -1.8 -1.6 -1.5 -1.7 0.2 -1.2 -1.9 -2.2 0.2 -1.5 0.4 -1.4 -1.4 -2.5 -0.2 -1.3 -0.8 -1.6 -0.5 -1.8 0.2 -1.8 -1.3 -1.2 1.5 -1.5 -1.5 -2.1 -0.1 -1.8 -0.8 -1.3 1 -2.2 -1 -1.7 1 -1.3 -0.7 -1.9 0.5 -1.6 -0.3 -1.8 0.4 -1.4 -0.1 -0.7 -1.6 1.6 -1.9 -0.4 -1.9 0.9 -2.5 0 -1.7 -0.7 -1.5 1.2 -2 -1.8 -1.6 0.6 -1.8 -0.7 -2z"/>
<path fill="#8dc3ab" stroke="#8dc3ab" d="M401.7 738l1.4 0.1 1.8 -0.4 1.6 0.3 1.9 -0.5 1.3 0.7 1.7 -1 2.2 1 1.3 -1 1.8 0.8 2.1 0.1 1.5 1.5 1.2 -1.5 1.8 1.3 1.8 -0.2 1.6 0.5 1.3 0.8 2.5 0.2 1.4 1.4 1.5 -0.4 2.2 -0.2 1.2 1.9 1.7 -0.2 1.6 1.5 1 1.8 2.1 -0.2 1.1 1.8 1.6 0.3 0.7 1.5 2.3 0.5 1.2 2.1 0.3 1.9 2.3 1.1 0.7 1.2 2.1 0.6 2.1 1.1 1.4 0.2 1.7 1.6 1.9 -0.2 1.8 0.2 1.5 1 1.7 0.2 1.8 0.6 1.5 1.4 -2 1.4 -0.5 1.9 -0.5 2 -0.8 1.3 -0.3 1.7 -1.4 1.5 0.5 1.8 1.7 1.1 2.5 -0.2 0.1 2 -1.9 1.1 -0.7 1.9 -0.9 1.1 0.4 1.9 -1.6 1 -0.4 1.8 0.4 1.7 -2.1 2 0 1.2 -0.8 1.8 -1.3 1.6 0.1 1.6 -1.7 1.1 -0.4 1.5 -1.4 1 -0.1 1.7 -1.4 1.2 -0.5 2 -1.4 1.4 -0.1 1.6 -2.1 -0.2 -0.5 2.2 -1.3 1.5 -1.6 0.7 -0.4 1.6 -1.7 1.2 -1.6 1.1 -0.8 1.4 -2.3 -0.4 -1.2 2 -1.2 1.6 -1.7 -0.7 -1.4 2.3 -1.5 0.2 -1.7 0.4 -1.4 2.7 -1.9 0.2 -1.4 1.7 -1.7 -0.4 -1.1 2 -1 2 0.3 1.6 -1.8 1.4 -0.3 1.6 -1.7 2.3 0.4 2 -0.3 1.6 -1.6 1.9 -0.7 1.5 -1.4 1.5 -1.9 1 -0.9 1.1 -2.6 0.9 -0.7 1.3 -0.8 1.4 -2.3 0.4 -0.2 1.6 -1 -1.5 -0.7 -1 -0.1 -1.7 0.4 -1.3 -0.6 -2 1.3 -1.6 -0.1 -2.6 1.3 -1.3 0.6 -0.9 1.4 -1.1 2 -1.8 0.5 -1.6 -0.5 -1.6 -2 -0.1 -1.8 -0.6 -0.4 -1.4 -2 -0.4 -1.1 -2.1 -2.2 -0.5 -1.1 -1.9 -1.3 -0.8 -0.9 -1.4 -2.4 -1.1 -1 -1.4 -1 -1.1 -2.4 0.1 -0.7 -1.5 -1.8 -0.6 -1.1 -2.2 -1.3 -0.6 -1.6 -1 -1.7 0.2 -1.7 -1.7 -1.4 -0.9 -2.4 0.1 -1.2 -1.7 -2 -0.6 -0.9 -1.7 -2.1 -1 -1.3 -0.5 -0.3 -2 -1.7 -0.8 -1.9 0.5 -1.5 -1.4 -1.5 2.1 -1.8 0.4 -1.6 -1.6 -0.1 -1.7 -0.6 -1.9 -1.9 -1.4 -1.3 -0.6 -0.9 -1.8 -1.1 -1 -1 -1 -1.5 -0.9 -1.7 -1.4 -1.6 -2.1 -1.7 -0.4 -1.5 0.8 -2 -1.3 -1.5 1 -1.1 1.4 -2.9 -1.1 -1 1.4 -1.5 -2 -1.9 0.3 1.4 -0.2 1 -2.1 1.8 0.1 1.5 -1 0.9 -1.5 1.8 -0.8 0.7 -1.6 2.2 -0.1 0.7 -2.1 1.4 -1.2 1.4 -1.7 0.5 -1.4 2.4 -1.1 0.7 -1.7 0.5 -1.8 2.3 -0.9 0.7 -2.1 1.5 -1 2 -0.7 -0.2 -2.9 2.3 -0.1 0.9 -2.1 0.9 -1.3 1.7 -1 0.7 -1.9 1.6 -0.6 0.5 -2.3 1.3 -1.3 1.8 -0.7 0.3 -2.2 1.9 0 1 -2.1 1.1 -1.3 1.4 -0.3 1.3 -1.5 2.1 -0.4 0.7 -1.5 1.6 -1.5 1.8 0.6 1.7 -2.5 1.6 0.1 1.8 0.2 1.6 -2 2 -0.1 1.3 -0.6 1.6 0 1.4 -0.6 2.3 -0.1z"/>
</g>
<path fill="none" stroke="#fff" stroke-opacity="0.55" stroke-width="0.7" d="M350.2 417.1l112.9 8.2"/>
<path fill="none" stroke="#000" stroke-opacity="0.6" stroke-width="1" d="M54.5 379.5l58 16.8 63.8 30.3M110 425.1l-0.5 21.2M252.2 245.1l2.5 12.5M293.9 247.6l18.3 0M70 343.9l10 -7.5M90 332.1l12.5 -2.5M120.6 328.1l9 -56.8M118.8 243.1l7.5 -2.5 8.3 -0.5 0 -7.5 -12 -1.3 0 -10 27.5 -0.5 1.2 -3.7M168.1 217.6l2 12.5M266.4 408.8l55.1 0M322.7 397.5l2.5 -15M350.2 418.1l112.9 8.2M290.9 542.1l14.3 0.5 14.5 0.5M360.2 288.9l-40.5 84.9M312.2 230.6l0 17"/>
<path fill="none" stroke="#000" stroke-opacity="0.64" stroke-width="1.3" d="M54.5 379.5l-0.9 1.8 -1.8 0.5 -0.5 2 1.2 2 -1 2 2.4 0.8 -0.1 2.7 0.3 2.1 1.9 0.7 -0.2 1.9 2.2 1.3 0.8 1.5 0.3 2.4 2.3 0.3 0.2 2.4 1.5 0.7 0.7 1.7 0.6 1.9 1.5 1.1 0.1 1.5 1.5 1.8 -0.3 1.4 -1.7 1.4 0.4 1.7 -0.9 1.7 1.7 -0.4 1.6 1.4 2.7 -0.3 1.5 0.6 1.8 0.4 1.4 1.3 2.6 -0.4 1.7 1.2 1 1.6 -0.3 2.1 1.7 1.6 -0.4 1.7 1.9 -0.5 1.7 1.2 2.9 -0.9 1.5 0.7 1.9 -0.7 2.1 1.2 1.5 -1 1.2 1.2 2.1 -1.2 2.4 -0.7 0.9 -2.1 2.1 0.2 0.8 -1.9 2 -1.3 0.3 -1.7 2.2 -0.8 1.4 2.1 -0.9 1.7M109.5 446.3l1.7 1 1 1 1.6 0.5 1.6 0.4 1.2 -2.1 1.8 0.1 1.7 -0.9 1.8 -1 2 2 1.5 -1.9 2.2 0.9 1.9 0.5 1.5 -0.4 1.8 1.2 2 -0.4 1.5 0.4 2 0.4 1.3 1 2 -0.2 1 1.3 1.6 -0.8 2.6 -0.4 1.2 -0.8 2.1 -0.5 0.4 -1.5 2.8 -0.9 0.3 -1.1 1.5 -1.5 1.1 -1.2 2.3 0.2 1.6 -1.5 2.5 -0.9 0.5 -2.5 2 -0.4 1.9 -1.3 0.7 -1.4 2.4 -1 1.2 -0.7 1.4 -2.2 1.2 -0.4 1 -1.7 1.4 -1M673.4 420.1l0 0M673.4 420.1l1.6 1.1 1.9 1 1.2 1.8 1.6 0.1 2.1 0.9 0.7 1.2 1.9 0.7 1.8 0.9 1.1 2.1 1.8 -0.1 1 1.6 2.5 0.3 1.2 1.8 1.6 0.5 1.7 2.3 1.4 0.5 1.9 -0.1 1 2.6 1.8 -0.2M724.3 410.5l-1.1 1.2 -0.2 2.1 -1.2 1.7 -0.8 2.1 -1 1.4 -1.8 1.3 -0.4 1.4 -1.5 1.5 -1.6 0.6 -0.6 2.5 -1.3 0.8 -1.2 1.7 -1.3 1.6 -1 0.7 -1 1.8 -1.4 1.5 -0.7 1.9 -2.3 0.8 -0.7 2M234.6 212.3l1.5 0.5 2.2 0 1.9 1 2.3 0.7 0.5 2.5 2.2 0.6 1.4 1.7 -0.4 2.3 1.7 1.5 -0.2 2 0.6 1.4 0.2 1.9 1.2 1.9 -1.3 1.8 1.4 1.2 0.4 1.8 -0.6 2.1 1.9 0.7 -1.4 2.4 1.7 1.4 -0.4 1.7 0.8 1.7M254.7 257.6l-0.1 2.1 -1.4 0.7 -0.3 1.5 -1.4 1.4 -0.1 1.8 1.4 1.9 1.9 -0.1 1.1 1.8 1.9 1.4 1.3 1.7 0.1 1.2 1.6 1.2 0.7 2.1 1.8 0.8 1.5 1.6 1.6 -0.6 1.4 1.5 -0.2 -2 -0.6 -1.4 0.7 -2.9 -1.3 -1.6 0.1 -1.6 0.9 -1.2 0.2 -2 2.2 -1.6 0.5 -1.5 2 -0.2 0.7 -1.5 2.2 -0.2 1.3 -0.6 0.9 1.7 2.1 0.2 0.1 2.1 1.9 1 1.2 -1.7 2.3 0.8 1.5 -1.6 0.1 -1.8 0.7 -1.6 -0.6 -1.5 1.1 -1.3 0 -1.8 1.6 -1.1 0.1 -1.5 2.1 -1.6 -0.1 -1.5 0.6 -1.4 1.9 -1.1M54.5 379.5l-0.1 -1.6 1.8 -1.9 0.7 -2.1 0.6 -1.4 0.9 -1.7 2.2 0.2 1 -1.6 1.7 -0.3 1.2 -1.6 1 -1.5 -0.8 -2.8 0.3 -1.9 1.4 -1.1 -0.8 -2.7 0.7 -1.3 0.7 -1.4 0.2 -2.1 1.4 -1.4 0.2 -1.3 0.4 -2.4 1 -1.4 -0.2 -2.3M80 336.4l1.8 -0.5 1.1 -1 2.3 0.1 1.4 -2.1 2.1 -0.1 1.3 -0.7M102.5 329.6l1.8 -1.3 2 -0.6 1.2 -1.1 1.6 -0.4 2.6 0.9 1.8 -0.6 1.6 0.6 1.3 0.7 0.4 1.9 2 0.4 1.1 -0.9 0.7 -1.1M129.6 271.3l-1 -1.4 0.7 -2 -1.8 -1.5 1.1 -2 -1 -1.8 -1.8 -0.2 -0.7 -2.8 -1.7 -0.4 -0.8 -1.9 -1.8 -0.2 -1.2 -2 0.4 -2.2 -1.5 -0.9 1.2 -2.3 -0.7 -1.7 0.2 -1.7 -0.3 -1.1 -0.1 -2.1M151.3 217.1l2.3 0.4 1.5 1.3 1 -1.2 1.6 -0.5 0.5 -1.8 1.9 -0.7 1.8 -1 1.8 -1.5 1.4 -0.8 1.5 1.6 -0.3 1.8 1.3 1.4 0.5 1.5M170.1 230.1l1.9 0.1 1.1 2 1.7 -0.8 1.5 1.2 2.2 1 1 1.6 1.4 0.8 1.7 1.6 1.7 0.7 2.2 -0.9 2.1 0.8 1.5 -0.1 1.2 -1.5 2.2 0.7 0.8 -2 2.1 -0.2 -0.7 1.5 1.9 1.2 0 1.8 1.9 -0.5 0.7 -2.4 2.1 0.2 1.3 -2.6 1.5 -0.5 1.7 -1.2 1.5 -0.5 1.3 -1.5 1.7 0 1.3 -1.8 2.6 -0.8 0.4 -1.8 1.7 -0.6 1.6 -1.8 1.1 -1.8 0.9 -0.8 0.4 -1.7 1.6 -0.8 1 -1.6 1.9 0.2 1 -1.5 2.3 0.1 1 -1.3 1 -1.6 2.6 0.7 0.9 -1.4M383.1 210.1l1.4 0.7 1.8 -0.4 1.9 1.3 1.8 0.4 1.2 -0.8 2.1 0.2 1.4 -0.7 2.3 0.5 1 -1.7 2 0.5 1.4 0.3 2.1 -0.2 1.7 1.3 1.8 -1.2 0.9 1.5 2.1 0.3 1.9 0.6 2.6 -1 1.8 0.9 1.2 -1.7 1.8 -0.2 0.5 -2.5 1.7 -0.8 1.1 -1.1 0 -1.9 1.6 -1.6 0 -1.7 1.7 -1.4 0.3 -1.9 1.1 -0.6 0.3 -2.2 1.4 -0.9 0.2 -2.4 1.7 -1.3 0.3 -2 1.5 -1.1 0.2 -1.5 1.5 -1.8 0.7 -1.5 1 -1.2 0.5 -2 1 -0.7 0.2 -2.5 2.1 -0.3 0.2 -2 2 0.8 1.7 -0.8 1 1.6 0.2 1.4 1.6 1.5 0.5 1.7 0.9 1.8 -0.5 1.8 1.1 1.4 -1.2 2.1 1.5 1.9 -0.5 1.9 0.4 1.6 1.6 1.8 -1.5 2.1 2.1 1.3 -0.7 2.3 1.7 0.8 -0.4 2.8 1 1.4 1.3 1.1 -0.1 2.1 1.4 1.2 0 2.1 1.1 1.1 1.9 1.1 1.4 0.6 1.1 1.1 1.9 0.9 0.8 1.7 1.7 0.4 1.2 2.3 1.3 0.6 0.9 1.6 -0.4 1.8 1.2 1.6 0.3 2.3 -1.6 1.1 1.4 2.3 -1.4 1.1 0.1 2 -0.9 1.9 -1.9 1.2 -0.2 2.4M637.8 572.5l1.2 0.7 0.8 2.5 1.9 0 1.1 1.8 1.8 -0.5 1.9 1.8M535.1 522.6l1.5 -0.4 2.1 -1.8 1.4 0.5 1.7 -1.7 2.2 -0.5 1.1 -1.1 1.7 0 0.6 -2.2 1.9 0.1 1.1 -1.8 2.5 -0.3 0.7 -1.2 1.5 -0.8 1.5 -0.8 1.9 0.3 1.6 -1.9 2 0.3 0.9 -2.1 2.1 -0.1 2.2 0.6 2.2 -0.1 1.5 1.7 1.7 -0.4 0.5 1.3 1.7 1.5 0.3 2.2 1.3 0.2 2.3 0.9 1.1 -0.5 1.8 1.1 1.8 0.1 1.7 0.7 2 -0.3 1.3 1.9 2.3 -0.4 0.6 1.4 2.2 0.1 1.6 1 1.2 1.2 2 -0.9 1.3 2 2.5 -1.6 1.4 1.5 1.6 0.3 2.4 -0.2 1.4 1.8 2.3 0 1.4 0.9 1 2.3 2.2 0.6 0.2 2.2 1.6 1.2 1.4 -0.2 2 0.9 2 -0.8 1 1 2.1 -0.5 1.5 0.8 1.6 1 2.2 -0.3 1.4 1.7 2.3 0.1 1 1.8 2.4 0.2 0.8 1.3 2.1 0.5 -0.3 2.1 1.2 0.9 0.3 2 -1.3 1.6 -1.1 2.2 -1.3 1.2 0.6 1.7 -2.4 1.3 1 2.3 -1.7 1.7 0.3 1.6 -2.2 0.8 0.2 2.4 -1.8 0.7 -0.8 1.1 1.2 1.3 -0.3 2.7 1.9 1.2 0.2 2.3 0.8 2.1 1.8 0.4M685.6 457.6l-1.2 1.3 -0.1 1.9 -1.9 1.8 0.2 2 -1.1 1.7 -0.5 1.5 -1.8 1 0.7 2 -1.9 1.6 -0.3 1.4 -2 1.2 0.3 2.3 -2.8 0.9 -0.5 1.9 -1.6 1.2 -1.5 2 -2 0.5 -1.1 1.3 -2 0.5 -1.5 1.7 -1.6 0.1 -1.2 1.5 -0.3 1.7 0.4 1.6 -1.9 2.2 1.2 1.2 -0.6 2 0.8 1.3 -0.9 1.7 0.6 1.7 -0.9 2 1 1.6 -0.6 1.7 -0.9 1.5 1 1.5 -0.8 2 0.3 1.9 -1.1 1.2 0.2 1.9 0 2 0.4 1.3 -1.1 1.5 1.2 1.5 -0.9 1.9 0.9 1.8 -0.3 1.9 1.6 1.7 -1.5 1.3 1.2 1.4 -1.3 2.1 1.1 1.6 0.2 1.5 -0.4 1.9 1.8 1.4 -1 2.3 0.8 1.4 -0.2 1.5 0.5 1.9 -1 1.3 0.9 1.9 -2 1.6 1.3 1.6 -0.9 1.8 -0.9 1.9 0.2 1.7 -1.6 1.1 -0.1 1.9 -1.5 1.7 0.2 1.5 -1.1 2.2 -2.1 0.3 -0.1 2.2 -1.7 1.6 -1 2.5 -2 0.8 -0.8 1.7M665.7 366l0.5 1.6 -1.7 1.3 -0.2 1.8 -1.1 1.6 0.2 2.3 -1 1.7 0.7 2.7 1.6 1 -0.5 1.6 1.6 1.8 -0.6 1.3 -0.2 2.6 -1.2 1.6M631.4 384.3l2.3 -0.2 1.9 -0.3 1.5 -1 1.8 0.7 1.4 -1.1 2.4 -0.1 0.9 -1 2.4 0.6 1.6 1.4 2.1 0.5 0.4 2 2.1 0.4 0.3 1.3 1.9 1.8 1 1.5 0.9 1.3 1.4 0.1 2.3 -0.6 1 -1.7 1.2 -0.4 1.6 -0.6M687.6 339l-2.2 -0.7 -1.2 1.5 -1.7 -0.1 -0.9 1 -0.5 1.7 -1.4 1 -1.8 1.6 0.7 1.9 -1.2 2.2 -0.3 2.5 -2.5 0.6 0 2.5 -1.3 1.7 -0.3 1.9 -0.8 1.1 -1.1 1 -2.7 0.1 -0.9 1.3 -0.5 1 -0.1 1.7 -1.2 1.5M617.7 303.7l2.1 0.6 1.5 -1.2 2 0.9 2.2 -1.5 2 0 1.9 0.4 1.4 -0.8 1.6 1 1.8 -0.9 2 0.9 1.3 -0.2 2.1 0.6 1.2 1.8 2.5 -0.6 0.8 1.3 2.2 0.3 1.4 0.6 1.2 1.6 2.3 -0.1 1 1.8 1.8 -0.1 1.1 1.2 2 0.4 0.4 1.9 1.8 0.2 1.8 2.1 1.3 0.5 1.4 1.1 2.1 1.1 0.5 2.1 2.1 0.7 0.7 1.9 2.2 0.5 1.2 1.2 0.9 1.9 1.9 -0.3 0.7 2.9 1.8 0.6 0.7 1.2 1.5 1.2 2.3 0.9 0.2 2.7 1.8 0.1 1.6 2 1.6 0.8M646.5 578.8l-0.6 1.5 0.4 1.8 -1.4 1.5 1 2 -0.6 1.9 0 1.5 -1 2.3 0.8 1.8 -1.1 1.9 -0.5 2 -1.5 0.5 0.6 2.4 -2.3 0.9 0 1.7 -1.5 1.4 0 1.9 -1 0.8 0 2.3 -1.3 1.1 -1.4 1.1 0.7 2.5 -2 0.3 -0.4 2.5 -0.6 1.2 -0.9 1.8 -1.4 0.6 0.3 2.3 -1.8 1.5 1.1 -1.3 -0.8 1 -1.8 0.8 -0.8 1.5 -1.1 1.5 0.3 1.9 -1.7 0.8 -0.8 1.7M532.1 483.9l-0.7 1.7 1.6 2.1 -1.1 1.8 1 1.7 -0.3 1.4 0.3 1.4 -0.4 2 1.2 2.3 -0.6 1.8 0.4 1.6 1 2 -0.5 2.6 1.1 1.3 0.3 2.4 0.6 1.5 0 1.7 0.4 1.9 -1.2 1.5 0.7 2.2 -0.5 2 -0.3 1.8M535.1 522.6l-1.6 -1.4 -0.6 -2.3 -1.5 -0.8 -1.3 0.6 -1.9 0.4 -1.8 1 -1.1 1.7 -1.9 -0.6 -0.8 1.4 -1.5 1.5 0.8 2.2 -1.7 0.7 -0.1 1.9 -0.2 1.9 -1.1 1.2 1 2 -0.9 1.1 -1.6 1.4 -2.5 -0.1 -0.9 1.2 -1.8 1.3 0.6 2 -1.3 1.7 0.4 2.3 -0.2 1.3 0.8 2.3 0.2 1.6 0 2 2.1 1.9 -0.7 1.5 1.1 2.2 -1.6 1.8 0.8 2.2 -1.5 1.3 -0.2 2.2 -0.7 1.9 1.5 1.4 -0.5 1.3 0.6 1.5 0.1 1.7 0.3 2 -1.6 1.4 -0.9 2.2 -1.2 1.4 -2.1 -0.6 -1 1.6 -1.7 -1.2 -1.6 1.5 -1.9 -0.4 -1.8 0.4 -1.5 -0.6 -2.1 0.3 -1.6 -0.4 -1.3 0 -2 -0.7 -1.5 0.1 -1.3 0 -1.9 0.8 -1.2 -0.2 -1.8 0.7 -1.3 0.6 -1.9 0.1 -1.5 1.3 -2.2 -0.2 -1.9 0.7 -1.3 0.2 -2 0.6 -2 -0.4 -1.3 1.4 -1.7 -0.7 -1.7 1.4 -1.1 1.4 -2.2 -0.2 -1.2 1.7 -1.7 0.8 -1 2.2 -2 0.4 -1 1.4 -1 1 -1.8 1 -0.3 2.4 -1.7 0.4M412.6 573.8l-0.5 1.9 2 1.1 -0.9 1.4 0.6 1.8 1.1 0.9 1.1 2.5 2.5 0 0.3 1.6 2 0.4 1.4 1.4 2.1 0.1 0.7 1.9 2.6 0 1.7 1.4 1.6 -0.6 2 1.5 1.9 0.1 1.6 1.3 1.3 1.6 2.8 -0.7 0.5 2 2.5 -0.7 1.6 1.6 1.4 1.2 2.5 0.2 1.1 1.1M608.9 301.4l0.4 1.9 -1.1 0.9 0.7 2.4 -1.2 1 -1.5 0.9 -0.5 1.8 -1.9 1 -1.1 1.3 -1.8 0.1 -0.7 2.8 -2.7 -0.2 -0.6 1.9 -1.7 0.4 -1.3 1.3 -0.1 2.2 -1.2 0.8 0.6 2 -1.8 1.2 -0.9 1.9 0.6 1.9 -1.1 1.2 0.4 1.6 -1.2 1.7 0.5 1.7 1.1 1.8 -0.9 1.2 1 1.7 -1.2 2.4 1.6 1.6 -0.6 1.3 -0.1 2.1 -1.1 1.2 0.3 1.6 -1.6 1.9 0.8 1.9 -0.8 1.3 0 1.5 1 2.1 -0.7 1.7 1.4 1.5 -0.7 1.7 0.5 1.6 -0.2 1.5 -1.4 1.2 -0.6 2.5 -1.1 1 -1.4 -0.3 -1.7 1.4 -1.6 -1.2 -1.5 1.4 -2.2 0.2 -1.8 -1.3 -1.4 1.2 -2.1 -0.6 -1.6 0.6 -1.8 0.1 -1.6 0.9 -0.3 1.8 -2.3 0.7 -2.1 0.8 -0.7 1.3 -2 0.8 -0.7 1.2 -2 0.9 -1.2 1.4 -2.4 0.3 -0.8 2 -1.8 0.2 -1.3 1.1 -1 1.4 -2.7 0.3 -1.3 2 -1.6 1.8 0.6 2.5 -1.8 1.6 0.3 1.6 0.4 2.1 -2 1.5 0.7 2.1 -1.6 1.8 -0.9 1.6 -0.1 2.2 -1.5 2.1 0 1.7 -0.9 1.5 1.6 1.6 -1.1 2.1 1 1.8 -0.3 1.5 0.2 1.5 0.2 1.9 1.2 1.6 -1.2 1.8 1.2 2 -0.4 1.6 1.6 1.8 -0.4 1.8M489.6 347.6l1.8 -0.2 1.6 -1.9 1.4 1.1 2 -1 1.7 1.1 2.2 -0.7 1.5 1.8 1.6 -1 1.7 0.8 1.1 2.2 2.6 -0.4 1.3 2 0 1.9 0.8 1.6 -0.6 1.9 1.1 1.9 0 1.5 -1 1.9 1.2 1.7 -1.9 1.5 1.3 1.7 -1.6 1 0.2 2 -0.3 1.8 -0.7 1.4 0.8 2 -1.5 1.8 0.5 1 -0.8 2 2 1.2 -0.3 2.4 2.8 0.4 0.5 2.3 0.3 1.5 2.4 0.9 -0.3 2.9 2.5 0.5 0.1 1.7 1.7 -0.4 1.6 1.2 1.3 -0.8 1.7 1.2 1.8 0.6 0.6 2.3 0.8 0.9 -0.6 2.1 -0.7 1 -0.7 1.9 -0.7 1.4 -2.3 1.7 -0.7 1.9 0.3 1.4 -1 1.8 0.4 1.6 -1 1.5 1.6 1.7 -0.1 2.1 1.7 0.3 0.6 2.1 0.7 1.3 1.8 1.2 0.2 2.4 1 1.4 -0.1 2.1 1.9 1.1 0.7 1.8 1.5 1.4 1.5 -1 2 0.8 1.2 0.8 2.8 -0.6 1.2 1.1M534.2 272.8l1.5 -0.2 2.2 1.5 2.1 -0.7 2.3 0.2 0.2 2.1 2.5 0.2 2 1.1 0 2.6 1.4 1.3 1.8 -1.2 0.7 -1.3 1.1 -0.6 1.8 -1.6 1.2 -0.3 0.9 2.3 2 0 0.5 2.7 1.1 0.9 0.4 2.3 1 0.9 1.2 1.9 -0.2 1.7 1.5 1.4 1 1.4 -0.9 2.4 1.3 0.9 0.3 2 1.9 0.4 2 -0.5 1.9 0.9 1.6 -0.4 0.5 -2.7 2.1 0 1 -1.5 1.5 -0.8 1.8 1.5 2 -1 1.2 1.9 1.6 0.1 2.1 0.7 0.9 1.3 2.5 0.2 0.6 1.3 2.3 0.3 2.1 0 0.8 1.2 2.4 0 1.3 0.9 1.7 0 2.7 0.4 1.1 0 1.9 0.9 2.3 -0.4M637.8 572.5l-1.9 -0.1 -1 1.3 -2.1 0.1 -2.1 1.4 -2.3 -1 -0.8 2 -2.4 0.1 -1.1 0.8 -0.6 1.5 -1.3 1.4 0.3 1.6 1.3 1.2 -1 2.2 1.2 1.3 -1 2.2 0.6 1.8 -2 1.4 -0.1 2.1 0.7 2.2 -1.7 1.5 1.1 1.9 -1.4 1.9 0 1.8 -1.4 1.1 -0.4 1.9 -0.7 1.4 -1.6 1 -0.5 1.5 -1.9 0.4 -1 2.1 0.1 2.5 -1.7 1 0.2 2.4 -1.1 1.7 -1.4 2M558.4 651.9l1.6 -1.2 1.9 0 1.5 -0.7 1.6 -0.8 2.1 0.2 1 -1.5 1.9 0 1.9 -0.9 1.3 0.3 1.3 -1.4 2.2 0.4 1.4 -1.3 1.5 0.8 2.1 -0.9 1.7 0.1 2.1 0.1 1.2 1.2 1.7 -0.6 0.9 -1.6 1.6 0.1 2.1 -0.2 0.2 -1.9 1.8 -0.4 1.6 -1 1.7 -0.1 1.7 -1 0.2 -2.2 1.5 -1.6 0.6 -2.1 0.2 -2 -0.1 -2.1 1 -2.1 1.4 -1.4 1.1 -1.9 1.4 -1.2 1.5 -0.9M450.1 598.8l1 1.8 -1.2 1.3 0.8 2.4 -0.8 1.7 0.2 1.5M413.8 655.6l-1.9 1.1 -1.8 0.3 -0.3 1.4 -2.2 0.4 -1.5 1.7 -0.3 2.5 -2 0.8 -0.1 1.7 -2 0.9 0.2 2.1 -1.8 1.6 0.2 1.9 -2.4 1.8 0.3 2.2 -1.3 0.6 -0.6 2.3M450.1 607.5l-1.2 1 -0.3 2.1 -1.1 1.4 0.3 1.9 -1.4 1.2 -1.6 1.2 -0.8 2 -1.7 0.5 -0.9 1.3 -0.9 1.3 0.2 2 -2.3 0.7 -0.2 2.4 -0.6 1.1 -1.3 1.1 0.3 2.7 -1.5 1.4 0 2.3 -1 1.6 -2.3 1.2 0.7 2.2 -2.4 1.2 -1.7 1.2 0 2.3 -2.7 0.5 -0.6 2.3 -1.3 1.9 -2.3 0.1 -0.7 1.6 -2 1.4 -2.1 0.8 -1.3 1.5 -1.6 0.7M334.8 571.3l-0.4 2.1 0.7 1.1 -1 1.9 1.6 1.5 -0.7 2.1 -0.6 1.9 0.2 1.8 -1.6 1.1 0.3 2.7 -0.8 1.3 -1.3 0.9 0.2 2.7 -1.5 0.5 0.1 1.8 -1.2 1.6 0.2 1.9 -1.9 1.1 0.4 2.5 -0.8 1.3 -0.4 1.9 -1.2 1.4 1.3 2.8 -1.4 1.9 0 1.4 1.3 1.7 0.2 1.6 1.1 1.1 -0.7 1.8 1.9 1.4 0 2 1.4 1.2 0.2 2.7 0.9 1.6 -1.3 1.9 1.5 1.6 -1 1.2 0.4 2.2 -1.2 1.3 0.3 1.8 -0.8 1.4 1.4 1.9 -1.5 2.1 0.6 1.4 -0.2 1.9 1.4 0 1.8 0.6 1.7 -0.7 1.5 1.6 1.6 -0.2 1.8 -0.2 1.5 0.9 2.4 -0.8 1.8 1.3 1.3 -0.8 1.9 0.7 1.6 -1.4 2.6 0.2 1.4 -0.4 1.9 -0.6 1.2 2.2 1.9 -0.3 1.3 0.4 1.9 0.5 1.5 1.1 1.7 0.1 1.1 0.8 1.7 1.5 -0.3 2.1 1.9 1 0.5 1.7 0 1.6 1.2 1.2 -1.1 2.3 1 1.2 -0.8 2.2 0.9 1.5 -0.2 2.2 1.3 1.6 -1.3 2.3 1.7 1.7 -1.4 1.7 1.2 1.8 1.8 1.1 2 -0.8 1.7 1 2 -0.1 1.8 -0.3 1.9 0.2 1.6 -0.8 2.2 -0.3 1.9 -1.1 1.8 1.6 1.9 -1.4 1.1 1.5 2 -0.6M321.5 408.8l0 -1.4 0.9 -2.5 -0.6 -1.6 0.9 -2.2 -0.8 -1.7 0.8 -1.9M457.6 480.1l0.4 2.1 -1.3 1.4 1.1 1.5 -1.3 1.8 0.5 1.5 -0.7 1.7 0.1 2.1 -1.6 0.9 1 1.8 -1.7 1.6 1 2.1 -1.3 1.5 -0.6 1.2 -0.2 2.6 -1.9 1.1 0.8 2.2 -2.2 1 0.4 1.9 -1.7 1.5 0.6 2 -1.6 0.9 0.1 1.8 -1.2 1.3 -1.2 2.2 -2.1 -0.2 -1 2.3 -1.9 0.7 -1.7 1.3 0.2 1.7 -2 1.5 -0.4 2 -1.1 1 -1 1.4 -0.4 2.3 -2 0.6 -0.5 2.3 -1.1 0.9 -1 1.5 -1.8 0.2 -1.8 2.1 -1.3 -0.1 -1.6 1.3 -1.4 1.4 0.2 2.1 -1.7 0.3 0.1 2.2 -1 1.5 -1.3 1.6 -0.1 1.4 -1.3 1.5 -0.1 1.3 -1 1.8 -0.8 1.2 0.1 2.3 -1.4 1.4 0.5 1.9 -2.3 1.2 0.2 1.8 1.2 1.6 -0.7 1.9 1.6 1.4 -0.8 1.4M334.8 571.3l1.7 -0.8 1.9 0 1.6 -0.5 0.7 -1.7 3.1 -0.6 0.7 -2.2 1.8 -0.5 2 0.2 0.8 -2.4 2.2 0.1 0.5 -1.6 2 0 1.5 0.6 1.5 -2 2 0.7 1.3 -0.6 1.8 0.4 1.4 1.4 1.8 0.7 1.8 1.2 2.1 -0.5 1.8 1.2 1.8 0.6 2 0.1 1.2 1.3 2.1 -0.7 2.2 0.6 2 0.6 1.8 -1.2 2.1 1.9 1.6 -0.6 1.6 -1.4 2.4 0.7 1.3 -2.2 1.7 0.8 1.7 -1.1 1.7 -1 2.2 -0.1 1.1 -1.4 0.7 1.2 1.1 1.3 -0.6 1.7 0.6 1.6 -0.5 1.7 -0.3 2 -2.1 -0.2 -0.1 1.9 1.8 -0.4 1.3 1.7 1.5 -0.9 1.6 0.9 2.1 -0.1 2.5 0.9 1.7 -0.8M325.2 382.5l0.7 2.2 1.7 1.2 0.1 1.8 1.4 1.2 -0.4 2.3 1.5 1.3 1.6 1.4 -0.7 2.9 1.8 0.7 0.1 2.4 1.7 0.9 0 2.2 0.7 1.5 0.3 1.7 1.3 0.9 0.3 1.6 0.9 1.9 1.8 0.4 1.2 2.2 1.2 0.7 1.6 1.7 1.1 0.7 1.7 0.1 1.7 1.4 1.7 0.3M463.1 426.3l-0.5 1.6 -1 1.3 0.1 2.2 -1.4 1.9 -0.2 1.8 -0.3 1.9 -1.6 1.2 1 1.5 -1.5 1.6 0.5 2 -0.6 1.8 -0.1 1.6 -1.2 1.2 0.4 2.2 -1.8 1.1 0.6 2.3 -0.4 1.6 -0.8 1.7 1.1 1.7 -0.2 1.3 0.3 1.8 -0.4 1.4 0.5 2.1 0.7 1.4 -1.2 2 1.7 1.4 -1.1 2.2 0.9 1.1 -0.3 1.9 0.2 1.9 0.8 1.7 0.3 1.4M283.9 496.4l0.1 1.5 1.7 1.4 -0.8 2.1 1 2 0.5 1.7 -0.4 2.5 1.2 1 -0.2 2.4 0.7 1.6 -0.3 2.1 1.2 1.4 -0.8 1.6 1.6 2.2 -0.5 1.5 -1.7 0.7 -1.8 -0.6 -1.5 0.6 1.8 1.3 -0.1 1.2 1.4 1.1 0.7 1.9 0.9 1.4 -0.1 2.4 1.9 1.7 -0.2 2 0.5 1.6 -0.3 2 0.6 1.6 -0.1 1.8M319.7 543.1l0.3 1.2 1.4 1.9 0.1 1.4 -0.5 1.6 1.4 2.2 -0.8 2.1 1.1 1.6 0.9 1.1 -0.2 2 2.1 1.1 -0.4 2.4 1.4 1 1.7 1.3 0.4 1.1 2 1.2 0.9 1.4 0.9 1.6 1.8 0.3 0.6 1.7M312.2 247.6l-0.8 2.3 1.4 1.5 -0.9 1.8 0.8 1.9 1.4 0.8 -0.6 2.3 2 1.3 0.1 2 0.9 1.1 1.9 1 -0.3 1.7 1.9 1.8 -0.2 1.7 1.7 1.3 0.8 2 2.5 0.4 1.5 1.8 1.4 0.8 1.5 1.1 2 0.5 0.3 1.9 2.3 0.1 1.4 1.4 2.4 0.4 0.9 1.9 1.6 0.2 1.1 1.5 1.5 1 1.2 1.8 2.2 -0.1 1 1.5 1.8 0.1 1.3 1.7 1.7 0.5 1.7 -1.6 2.5 0.9 1.6 -0.3 1.4 -0.8 1.1 0.1M319.7 373.8l1.8 1.4 -0.4 2 1.8 0.4 -0.4 2.2 1.9 0.7 0.8 2M383.1 210.1l0 2 2.3 1.2 0 1.9 1.4 1.7 0.7 1.9 1.1 0.9 2.3 0.2 0.7 1.6 1.5 0.5 0.7 1.8 2.7 0.5 1 0.8 1 1.5 2 0.1 1.3 1.9 2.1 0.5 0.8 1.6 1.6 0.6 0.8 1.5 1.6 1.7 0.4 1.2 1.4 1.1 0.5 2.2 1.5 1.1 1.3 1 -0.5 2.3 1.3 1.7 -0.4 1.7 1.1 1.8 -0.3 1.5 1.5 1.7 -0.2 1.5 1.4 1.3 0.3 2.1 1.4 1.9 0.7 1.5 1.3 0.7 -0.6 3 1.6 0.4 -0.2 2 1.6 1.4 0.7 2.6 2.2 0.2 0.9 2.2 1.3 -0.2 1.9 1.7 1.8 -0.3 2.1 -0.5 0.8 -1.8 2.1 -1.4 0.8 -1.8 -0.3 -1.9 1.7 -1.1 0.3 -1.5 1.4 -1.2 0.4 -1.6 1.4 -1.2 0.5 -2.2 1.3 -1.3 1.2 -1.2 1.6 -1.1 0.3 -1.7 2.5 -0.6 0.6 -1.6 2.1 0 0.8 -2.6 2.1 0.6 1.3 -1.8 0.4 -1.8 2.2 -0.5 1.1 -1.9 1.3 -1 2.5 -0.5M534.2 272.8l-0.9 1.4 0.7 2.1 -0.6 1.2 -0.5 1.5 -1.2 1.9 -0.4 2.5 0 1.8 1.2 1.5 -0.5 1.6 -1.2 1.8 0.4 1.8 -1.2 1.5 0.1 1.8 -1.2 1.1 -0.5 2.1 -2.4 1.3 -0.5 2 -0.7 2 0.8 1.3 -0.6 1.7 -0.4 2.2 -2.3 1.2 -0.6 1.6 -1.5 1.6 -1 1.7 1.5 0.8 1.9 -0.7 -1 1.6 0.1 2.2 -1.6 1 -0.6 2 -1.5 1.2 -0.4 2 -0.3 1.5 -2.1 0.8 0.2 2.5 -2.4 0.6 -0.4 2.1 -1.3 1 -1.3 1.9 -1.6 0.3 -0.8 1.8 -1.4 1.3 -1.9 0.2 -1.1 1.6 -1.5 0.8 -1.6 1.1 -1.9 0.6 -1.3 1.7 -3 -0.5 -1.3 1.2 -1.4 1.4 -1.6 0.6M489.6 347.6l2.2 1.6 1.7 0.4 1 1.8 1.9 -0.4 0.8 1.9 1.4 0.6 0.2 1.7 -2.1 1.9 0.2 2.3 -0.7 1.4 0.4 1.9 -2.5 0.9 0.7 2.3 -1.3 1.1 -2.1 0.6 -0.7 1.7 -2.5 0.8 -1.2 1.4 -1.8 0 -0.9 2.6 -2.1 0.5 -1.7 1.6 0 1.8 0.1 1.5 0.3 1.5 -1.4 1.1 -0.1 1.4 -1.3 1 -0.8 1.7 1.3 1.7 0.8 0.6 1.2 1.6 1.1 1.3 -1.1 1.8 0.6 2 -1.4 1.4 0.6 1.6 -1.4 1 -0.6 2.7 -1.1 1.5 -1.2 1 0.2 2.8 -1.1 0.9 -1 1.4 -2.6 -0.1 -1.1 1.8 -1.4 1.8 0 1.4 -2 1.4 -0.8 1.7 0 1.7 -2 1.4 0.5 2.8 -1.2 1.2 -0.5 1.7M465.1 240.6l1.5 1.4 -0.3 1.8 0.8 1.3 1.5 -0.4 2.2 1.3 1.8 0.3 1.5 1.4 0.6 0.9 1.8 1.4 0.2 1.2 2.5 0.9 0.8 1.2 1.7 1.4 1.7 -1.1 1.6 1.3 1.7 0.5 2.1 -0.6 1.5 1.6 1.6 -0.8 1.4 1.1 1 2.2 -0.1 2 1.8 1.1 1.2 0.3 2.1 1.6 1.6 0.3 0.8 -1.7 2.5 -0.4 1.8 0.8 1.8 -1.1 1.7 1.2 1.9 -0.3 2 0.2 1.7 0.5 1.6 1.6 2.5 0.1 0.3 1.9 2.4 0.5 1.5 0.9 1.9 -0.1 1.5 1.8 1.5 -0.9 1.7 0.8 1 1.4 2.7 -0.2 0.5 1.6M312.2 230.6l2.4 -1 1.4 -1.8 1.7 -0.2 2.2 -0.8 0.6 -2.1 1.6 0 1.2 -1.7 1.9 -0.4 1.6 -0.2 1.7 -1.7 2.2 0.5 1 -2.4 2.3 0.1 1.2 -0.8 1.4 -0.4 2 0.6 1.9 -1.7 1.2 1.4 2.1 -1.3 1.4 0.4 1.5 -0.6 1.5 1.3 1.8 -0.8 2.1 1.3 1.1 -1.2 2 0.5 1.9 -0.5 1.9 -1.7 2 0.8 1.7 -1.1 -0.6 -1.7 1.9 -1.1 -0.5 -2 0.5 -1.5 1.6 0.2 2.1 -1.6 1.8 1 1.1 -1.3 2.2 -0.1 2.2 0.3 1.9 -0.7 1.2 0.3 2.2 -0.6 0.3 1.9 2.4 0.4 0.1 1.5M663.8 388.9l2.1 0.9 1.6 0.6 2.2 0.6 1.6 0.3 1.8 -1.6 1.9 0.2 1.6 -1.5 2.2 -0.9 1 -0.9 1.9 -0.5 0.8 -1.4 1.6 -1.3 2.2 -0.5 1.4 -0.7 2.4 0.7 0.7 0.9 1.1 0.9 0.2 2 -2 1.8 -0.6 1.8 -1.3 1.9 -0.5 1.9 1.1 0.9 1.3 1.9 1.7 0.6 0.1 1.8 2.5 -0.4 1.3 -1 1.8 -0.6 0.5 -2.2 1.4 0 1.7 -0.7 0.5 -1.5 1.6 -0.7 2.2 -0.6 1.1 -0.6 2.3 -0.6 1.3 -1.4 2.1 0.4 2.3 -0.9 1.1 -0.9 2 -0.3 1.5 -1.6 1.7 -1.6 1.7 1.3 1.3 -1.1 2.2 1 1.6 -0.6 1.9 -0.1 0.9 1.1M726.6 369.2l1.6 1 -0.3 3 1.1 1.2 -0.4 2.4 1.7 1 0.1 2.2 -0.8 2.2 1.9 1.7 -1.1 1.8M673.4 420.1l0.5 -2.3 1.1 -0.9 0 -2.1 2 -1.1 0 -2.2 1.8 -1 2.1 1 1.6 0.9 2.3 1.2 1.5 1.2 1.2 1.6 1.3 0.1 1.3 1.1 1.9 1.6 1.8 0.2 1.8 -1.1 1.1 1.3 1.8 -1.1 2 -0.7 1.1 -1.2 1.6 -0.4 1.8 -1 0.2 -2.2 1.7 -0.1 1.6 -1.8 1.9 0.6 1.2 -1.2 2 -0.8 1.5 0 2.2 -0.6 1.6 1.4 2.1 -0.4 1.6 -0.3 1.7 0.7M618.8 407.2l2.2 1 1.5 0.9 0.5 1.6 1.7 0.9 0.6 1.3 1.3 2.2 1.1 1.5 -0.6 2 1 2.3 2.4 0.9 0.9 -1.3 1.9 -1.1 0.6 -2.4 1.7 -0.4 1.7 -1.5 1.2 -1.3 0.7 -1.6 1.9 0.6 1.1 -1.8 1.6 -1.4 0.7 -1.6 1.5 -0.8 0.5 -1.9 2.3 -0.4 1 -1.3 1.8 0.8 1.3 1.9 2.5 0.5 1.9 1.1 1.8 0.3 1.6 1.4 1.5 -1.2 1.6 1.2 1.5 1 1.3 -0.5 1.2 1.3 1.6 1.5 1.6 1.5 -0.2 2.2 1.2 1.3 1.4 2.2M730.4 385.7l0.5 1.5 -1 2.3 0.3 1.6 -0.3 2.1 -0.4 2.3 -1 1.4 1.1 1.9 -1.1 1.9 -1 1.1 0.3 2.1 -1.4 1.8 -0.2 1.5 -1.4 1.5 -0.5 1.8M540.3 435.1l1.4 -1.2 2.2 -0.1 0.1 1.6 1.6 1.7 1.4 1.4 -0.8 2.3 1.4 1.8 1.7 1 1.5 0.2 1.5 1.9 1.6 0.6 1.3 -0.8 2.2 0.9 1.2 -2 1.5 0.2 1.1 -1.7 2.4 0.3 0.9 -2.4 2.3 0.7 0.9 -1.4 0.9 -1.7 2.3 -0.6 0.2 -1.4 1.6 -1.3 0.9 -2 -0.4 -2.5 2.1 -1.4 -0.1 -1.6 0.6 -1.9 -0.3 -1.9 0.9 -1.2 2 -0.7 1 -2 2 -1.1 1.8 0.2 1.1 0.6 2 0 1.4 0.5 1.9 0.2 1.2 0.4 1.9 0.2 1.2 0.4 1.9 -1.1 1.4 -0.5 0.8 -1.3 2.2 -0.3 1.6 0.5 1.2 -1 1.7 0 1.6 -1.2 2.1 -0.7 1 -1.9 1.9 -0.9 0.9 -1.6 1.7 -0.3 1.1 -1.9 1.4 -1.7 2.4 -0.2M617.7 303.7l0.3 1.7 -0.2 1.7 0.7 2.5 -1.3 1.5 1.5 1.8 -1.1 1.5 1 1.6 -1.2 2.6 0.9 1.4 1 1.2 -0.4 2.3 1.3 1.2 -1 2 0.7 2.1 -0.7 1.5 -0.4 1.8 1.4 1.9 -1.1 1.6 0.6 2.2 0.8 1.7 0.9 1 0.7 1.9 0.9 1 0.6 1.5 -0.5 2.2 1.8 1.6 0 1.3 -0.2 2.3 1 1.5 -1.5 1.6 1.1 2.1 -0.5 1.6 2.1 1.9 -0.8 1.4 0.6 1.7 -0.5 1.4 1.2 1.6 0.3 1.7 0.9 1.5 2.2 1.3 1.1 1.4 0.5 1.2 0.9 1.2 0.7 1.8 -1.4 2.2 -0.2 1.6 -1.1 1.6 0.1 1.7M631.4 384.3l-0.9 1.5 -1.4 0.8 -0.7 1.6 1.6 1.6 -0.5 2.4 -0.5 2 0 1.9 -0.9 1.8 -1.4 1.1 -0.4 2.1 -1.9 1 -0.9 0.9 -1.5 1 -0.9 1.4 -1.7 0.8 -0.6 1M540.3 435.1l0 0M608.9 301.4l2.1 0.5 1.7 0.9 1.3 -0.3 1.9 1.4 1.8 -0.2M402.1 718.1l2 1.1 0.7 1.6 2.4 -0.9 0.8 2.1 2.1 0.5 1.6 -0.4 1.6 1 2.2 -0.2 0.9 1.2 2 -0.6 1.7 0.7 1.9 0.2 1.4 0.4 2 0.1 1.4 0.7 2 -0.3 1.3 0.6 1.7 -0.2 1.4 1.1 2.2 -0.6 1.2 1.2 1.8 -0.7 1.4 -0.4 2.1 1.7 1.5 -0.5 0 -1.8 1.7 -2.3 1.5 -0.7 1.4 -1.6 2.1 -0.2 1.9 0.6 1.1 -1.6 1.8 0.4 1.9 -1.1 1.9 -1 1.5 0.5 1.8 -1.1 1.4 -0.1 1.6 1.1 2 -1.1 1.6 0.7 1.5 0.2 1 1.3 2.4 -1.3 1.6 1.3 1.8 0.1 1.4 -1.6 2.3 0.8 1.2 -1.5 1.8 -1.3 1.9 0.8 1.1 -0.5 1.9 -0.2 1.5 -0.5 1.7 1.6M498.9 705.1l-1.3 1.6 0.5 1.8 -1.7 1.6 -0.5 2.2 -1.7 0 -0.4 2.4 -1.1 0.8 -1 1.9M396.3 678.9l0.3 1.6 -1.9 1 -0.1 2.5 -0.8 1.1 -0.7 1.6 0.2 1.8 -1.8 1.5 1 2.1 -1.2 1.8 -0.2 2 -1.7 1.6 0.9 2.1 -1.6 1.1 0.1 1.9 0.6 2.2 -1.8 1.2 0 1.6 2 0.2 1.4 -0.3 1.6 0.7 1.6 -0.6 2.1 0.5 1.1 1.4 -0.1 1.6 1.5 1.5 0 1.8 2.1 1 -0.3 1.3 1.5 1.4M608.8 622.1l1.5 1.2 0.2 2.5 0.9 1.4 0.3 1.1 2.1 0.9 2.1 0.8 2.1 0.3 2.1 0.5 1.4 0.1 1.9 0.8M623.4 631.7l0.2 2.7 -1 1.4 0.9 1.8 -0.1 1.6 0 2.6 0.8 1.6 -2.2 0.6 -0.3 1.9 -2.6 0.2 -1.5 1.4 -2.7 0.3 -1.5 1.4 -2.3 0.8 -1 1.7 -1.5 1.5 -1 1 -0.5 1.2 -0.8 1.3 -0.5 1.3 1.3 1.2 -1 1.4 -1 1.1 -2 -1.2 -1.9 1.7 -1.2 -0.9 -1.9 0.6 -1.7 -0.6 -1.4 0 -1.7 -0.3 -1.2 0.6 -2.1 0.1 -1.9 -0.1 -1.4 0.5 -0.6 -1.4 -0.2 -1.5 -1.7 -0.7 -0.6 2 1.3 1.2 -1.3 1.6 -1.9 -0.4 -1.7 -0.9 -2.5 0.5 -1.1 -0.7 -2.2 -0.5 -1.4 1 -1.9 -0.6 -0.7 1.7 -1.8 0 -1.5 0.6 -1.4 0.9 -1.2 -1.8 -0.9 -1.4M665.7 366l1.7 0.5 1.1 1.8 1.2 0.6 1.8 -0.9 1.7 0.3 2.3 -0.4 0.4 -2.7 2 -0.2 1.9 0 1.4 -1.7 1.3 -0.6 1.8 -0.3 1.3 -1.5 1.6 -0.1 1.9 0.5 -1.5 1.1 0.1 2.6 -1.6 1.3 -0.7 2.5 -0.6 1.3 0.1 1.5 1.8 0.9 1.5 1 1.3 -0.4 1.7 0.8 1.7 0 1.6 0.7 2.1 0.8 1.8 0 1 -1 1.2 -1.3 0.3 -2 0.8 -1.6 0.1 -2.6 2.3 -0.9 1.7 -0.2 1.1 2 1.3 1.4 2.7 -1.4 1.7 1 1.7 0.5 1.9 -1.3 2 1.5 1.9 -0.7 1.6 -0.5 1.8 1.8 1.6 -1.6 1.5 0.7M687.6 339l1 1.3 2.6 -0.7 1.7 1.5 1.4 0.3 1.4 1.1 1.9 0 2.3 -0.5 1 1.4 2.3 -0.4 1.6 0 2.4 -0.8 1.6 0.3 2 -0.1 2 1.1 1.7 -0.5 1.1 1 2.4 0.1 1.1 0.8 0.5 2.4 2.4 -0.4 0.4 2.2 1.7 1.5 -0.9 2.6 1.1 1.5 -0.4 1.5 1.5 1.5 -0.6 1.6 0.9 2 -0.5 2.3 1.1 1.9 -0.3 1.8 0.6 1.9M176.3 426.6l0.7 -1.9 2.9 -0.5 0.3 -1.9 2.4 -0.5 2.1 -0.2 1.5 -0.7 2.3 0.1 1.6 -0.2 1.2 1.4 2.4 -0.7 1.4 0.6 1.5 -1.2 2.2 -0.2 1.3 -1.9 1.3 -0.2 1.3 -1.6 2 0.4 1.7 -1.1 1.3 -0.7 0.3 -2.2 0.9 -0.8 1.8 -0.7 1.4 0.3 1 -1.3 2 0.4 1.6 0.6 1.1 -2.1 2.1 0.7 1.5 -0.4 0.1 -1.7 2.2 -1.3 -0.4 -2.2 1.8 -1.1 -0.1 -2 2.7 -0.7 -0.1 -2.3 1.3 -1.1 0.3 -1.8 2.2 -0.9 2.5 -0.2 1.8 0.6 2 -0.9 1.5 0.6 2 -1 1.9 0.9 2.1 0 1.2 1.2 1 1.1 1.5 1.5 1.9 0.4 0.3 1.8 1.6 1.5 1.5 0.6 1 1.7 1.7 1.1 0.8 1.1 2.4 0.4 1 1.9 1.6 0.8 1.8 -1.3 1.9 0M266.4 408.8l-0.5 2.2 1.5 1.1 -1 1.7 1.5 1.6 -0.7 2.2 -0.4 1.8 0.7 2.2 -1.1 1.7 0 1.8 -0.6 1.4 1.3 1.7 -0.3 1.7 0.4 1.8 -0.8 2.1 0.8 1.3 0.2 2 -0.5 1.9 1 1.8 -1.3 1.4 1 2.4 -0.4 1.7 1.7 0.7 2.2 -0.5 1.5 1.1 1.8 -0.4 1.7 0.9 2.6 -1.3 1.5 1.3 1.7 1.4 2 -1.5 1.9 2.2 1.9 -0.1 1.9 0.7 1.1 -0.4 1.1 1.8 2.1 -0.1 -1.2 1.5 1.4 2.7 -0.9 2.1 0 1.7 0.2 1.9 1.1 1.9 -0.5 1.9 1.2 1.8 0.9 1.8 -0.2 1.1 0.9 1.9 0.4 1.4 -0.7 2.4 -1.6 0.4 -1 2.1 -1.2 1.4 -0.8 1.4 -0.5 2.2 -1.3 0.7 0.1 2 -2.1 1.1 0.7 2.4 -2.4 1.5 -1.4 1.6 0.1 1.4 -1.2 2M176.3 426.6l2.1 0 1.3 0.7 2.2 0.1 1.6 0.7 1.6 0 2 -1 1.7 0.3 2.3 -1.1 1.5 0.3 1.9 0.4 1.7 -1.3 2.3 0.5 1.6 -0.6 -0.7 1.5 1.4 1.8 -0.9 1.7 0.7 2 -1 1.9 0.8 1.5 -0.5 2 -0.3 2.1 1.3 1.5 -1.2 1.7 1.5 2 -1 1.5 1.5 1.2 -0.3 2.1 1.4 1.1 -0.7 2.3 1.5 2.1 0.3 2 -0.2 1.9 1.9 0.9 -0.3 2.4 1.1 1 0.6 1.5 2 0.7 0.8 2 1.6 0.8 1.8 1 0.7 1.9 1.2 0.9 1.2 1.4 2.8 -1.1 1.7 2.3 1.8 -0.6 1.6 -0.8 1.8 1.5 2.3 -0.7 1.8 0.5 1.8 0 0.8 1.7 2.2 -0.1 0.6 1.9 2.2 0.3 1.8 1 2.1 0.2 0.4 1.5 1.9 1 1.1 1.6 1.7 -0.3 1.5 1.7 2 -0.6 1.2 1.4 1.1 0.7 2.1 -1 1.3 1.6 1.8 -0.1 1.8 0.9 0.8 1.6 1.8 0.5 0.5 1.5 1.3 1 1.9 -0.5 1.8 1.2 1.4 -0.4 2.2 0.7 1.5 -0.2 1.6 -0.6 2.5 1.4 1.8 -1.3 1.6 0.5 1.6 0.8 1 1.4 1.1 0.3M234.6 212.3l0 -2.2 -0.4 -1.3 -1.5 0.2 -1.9 0.2 -2.3 -0.8 -1.8 0.4 -2 0.2 -0.9 -1.5 0.4 -2.5 -0.1 -1.4 -0.3 -1.9 -0.2 -2.4 -1.9 -0.9 -1.1 -1.3 -0.2 -2.1 -0.9 -1.7 0.9 -2.4 0.4 -1.7 -1.6 -1.7 -1 -1.2 -1.5 -1.3 -0.9 -1.3 -1.6 -1.2 -1.7 -1.8 -0.8 -1.5 -1.7 -1 -0.4 -1.9 1.6 1.2 1.3 -0.4 1.2 0.8 2.1 0.4 2 0.7 2.2 -0.7 1.8 -0.4 0.7 1.3 0.1 1.3 1.2 1.6 1.1 -0.6 1.8 0.6 1.1 -0.6 1.4 -0.2 1.1 0.9 1.4 -0.1 2.5 -0.4 2.5 0 0.2 1.5 1.5 1 0.3 1.3 1.7 0.8 1.1 1.1 1.4 -0.3 1.5 -0.3 1 -0.5 0.3 -1.6 -0.3 -1.3 -0.7 -1.6 1.2 -1.4 0.5 -1.4 2 0.2 1.3 -0.1 1.2 -1.6 1.5 0.2 1 0.6 2.5 0.5 1.3 0 2 -0.9 1.6 -0.3 1.7 -0.5 1.8 -1 1.6 -0.3 0.5 -1.4 1.1 -0.6 1.8 -0.4 0.8 -1.3 1.6 -0.8 2.5 -0.5 1.7 0 0.8 -1.2 1.8 -0.8 0.3 -1.3 1.6 -0.5 0.9 -1.2 1.3 -2 0.5 -1.4 -1 -1.6 -0.3 -1.3 -0.9 -1.2 2 0.3 1.3 0.2 1.7 -0.4 1.7 -0.1 1.6 0.1 1.7 -0.1 0.5 1.8 1.6 -0.1 1.3 1.3 -0.5 2 0.1 2.4 -0.5 1.4 -1.2 0.9 -0.5 1.6 -0.4 1.7 1.8 0.6 1.1 0.2 2 0 0.9 0.8 0.8 1 1.3 0.7 -0.2 1.4 0.6 1.5 1 1.3 0.7 2.5 -0.5 1.8 -0.3 1.1 -1.6 0.9 -0.1 1.6 -1.7 0.6 -1.2 1.1 0.3 1.6 -0.7 1.7 -0.3 2 -0.6 1.3 -0.9 1.6 0.5 2.6 -0.3 2 -0.1 2.2 1.1 1.6 0.2 2.5 0.7 1.6 0.9 1.8 0 1.6 1.3 0.9 -0.5 2.6 1.3 1.5 1.6 1.3 0.5 2.1 1.2 1.2 1.3 1.7 1.1 0.5 1 1.2 1.6 0.9 1 2 1.9 0.4 1.2 0.2 1 1.6M401.7 738l-1.3 0.5 -2.3 0.1 -1.4 0.6 -1.6 0 -1.3 0.6 -2 0.1 -1.6 2 -1.8 -0.2 -1.6 -0.1 -1.7 2.5 -1.8 -0.6 -1.6 1.5 -0.7 1.5 -2.1 0.4 -1.3 1.5 -1.4 0.3 -1.1 1.3 -1 2.1 -1.9 0 -0.3 2.2 -1.8 0.7 -1.3 1.3 -0.5 2.3 -1.6 0.6 -0.7 1.9 -1.7 1 -0.9 1.3 -0.9 2.1 -2.3 0.1 0.2 2.9 -2 0.7 -1.5 1 -0.7 2.1 -2.3 0.9 -0.5 1.8 -0.7 1.7 -2.4 1.1 -0.5 1.4 -1.4 1.7 -1.4 1.2 -0.7 2.1 -2.2 0.1 -0.7 1.6 -1.8 0.8 -0.9 1.5 -1.5 1 -1.8 -0.1 -1 2.1 -1.4 0.2 1.9 -0.3 1.5 2 1 -1.4 2.9 1.1 1.1 -1.4 1.5 -1 2 1.3 1.5 -0.8 1.7 0.4 1.6 2.1 1.7 1.4 1.5 0.9 1 1 1.1 1 0.9 1.8 1.3 0.6 1.9 1.4 0.6 1.9 0.1 1.7 1.6 1.6 1.8 -0.4 1.5 -2.1 1.5 1.4 1.9 -0.5 1.7 0.8 0.3 2 1.3 0.5 2.1 1 0.9 1.7 2 0.6 1.2 1.7 2.4 -0.1 1.4 0.9 1.7 1.7 1.7 -0.2 1.6 1 1.3 0.6 1.1 2.2 1.8 0.6 0.7 1.5 2.4 -0.1 1 1.1 1 1.4 2.4 1.1 0.9 1.4 1.3 0.8 1.1 1.9 2.2 0.5 1.1 2.1 2 0.4 0.4 1.4 1.8 0.6 2 0.1 0.5 1.6 -0.5 1.6 -2 1.8 -1.4 1.1 -0.6 0.9 -1.3 1.3 0.1 2.6 -1.3 1.6 0.6 2 -0.4 1.3 0.1 1.7 0.7 1 1 1.5 0.2 -1.6 2.3 -0.4 0.8 -1.4 0.7 -1.3 2.6 -0.9 0.9 -1.1 1.9 -1 1.4 -1.5 0.7 -1.5 1.6 -1.9 0.3 -1.6 -0.4 -2 1.7 -2.3 0.3 -1.6 1.8 -1.4 -0.3 -1.6 1 -2 1.1 -2 1.7 0.4 1.4 -1.7 1.9 -0.2 1.4 -2.7 1.7 -0.4 1.5 -0.2 1.4 -2.3 1.7 0.7 1.2 -1.6 1.2 -2 2.3 0.4 0.8 -1.4 1.6 -1.1 1.7 -1.2 0.4 -1.6 1.6 -0.7 1.3 -1.5 0.5 -2.2 2.1 0.2 0.1 -1.6 1.4 -1.4 0.5 -2 1.4 -1.2 0.1 -1.7 1.4 -1 0.4 -1.5 1.7 -1.1 -0.1 -1.6 1.3 -1.6 0.8 -1.8 0 -1.2 2.1 -2 -0.4 -1.7 0.4 -1.8 1.6 -1 -0.4 -1.9 0.9 -1.1 0.7 -1.9 1.9 -1.1 -0.1 -2M401.7 738l1.4 0.1 1.8 -0.4 1.6 0.3 1.9 -0.5 1.3 0.7 1.7 -1 2.2 1 1.3 -1 1.8 0.8 2.1 0.1 1.5 1.5 1.2 -1.5 1.8 1.3 1.8 -0.2 1.6 0.5 1.3 0.8 2.5 0.2 1.4 1.4 1.5 -0.4 2.2 -0.2 1.2 1.9 1.7 -0.2 1.6 1.5 1 1.8 2.1 -0.2 1.1 1.8 1.6 0.3 0.7 1.5 2.3 0.5 1.2 2.1 0.3 1.9 2.3 1.1 0.7 1.2 2.1 0.6 2.1 1.1 1.4 0.2 1.7 1.6 1.9 -0.2 1.8 0.2 1.5 1 1.7 0.2 1.8 0.6 1.5 1.4 -2 1.4 -0.5 1.9 -0.5 2 -0.8 1.3 -0.3 1.7 -1.4 1.5 0.5 1.8 1.7 1.1 2.5 -0.2M491.7 717.4l0.9 1.7 0 2.6 -0.7 1.5 -0.5 1.9 -1.2 1.6 -0.1 1.7 -0.2 1.4 -0.6 1.8 0 1.8 -0.2 1.6 2.1 2 0.6 1.4 1.4 1.8 -0.3 2.1 1.4 1.1 -0.8 1.6 -0.9 1.7 -0.8 1.7 -1.4 1.5 1.3 1.8 -1.6 1.7 -0.7 1.2 0.7 1.8 -0.8 2 -0.6 2 -1.1 2.1 -1.2 1.7 -2.4 0.5 -1.4 1.2 -1.4 1 -2.2 1 -1.4 1.3 -1.3 1.2 -1.5 2 -1.4 1 -1.8 1.3 -1.5 1.2M402.1 718.1l-0.4 1.4 0.7 2 -0.6 1.8 1.8 1.6 -1.2 2 0.7 1.5 0 1.7 -0.9 2.5 0.4 1.9 -1.6 1.9 0.7 1.6M673.4 420.1l1.3 1.6 -0.2 1.4 1.4 1.1 0.1 1.8 0.7 2 0.2 1.8 0.3 2.3 2.1 1.4 -1.2 1.4 1.2 1.6 -1 1.7 -1.3 2.1 0.4 2.1 -1.6 0.7 -1.7 0.3 -1.4 0.9 -1.9 0.5 1.1 2 0.3 1.7 0.8 2.3 1.6 0.5 0.9 1.8 0.5 2 0.7 1.4 2.1 0.4 0.9 1 1.8 -0.2 2 0.7 2.1 -0.8M703.2 439.1l-0.9 1.5 -2.1 0.7 -1.7 1.6 -2 0.7 -0.2 2.2 -1.6 0.1 -0.9 1.7 -0.7 1.8 -2.5 1.3 -0.5 1.6 -1.8 0.8 0.5 1.7 -1.6 1.2 -1.6 1.6M450.1 607.5l1.8 -0.7 1.7 0.4 1.7 -1.5 2.3 -0.2 1.5 0.6 1.8 -0.3 1.3 1.1 2.3 -0.7 1.3 0.8 1.8 0 2 1.1 1.7 -1.6 0.9 1.2 2.5 -0.8 1.1 1.1 1.8 -0.5 0.9 1.5 -0.3 1.7 1.9 1.7 0 1.4 1.3 0.6 1.9 -0.2 1.8 0.9 0.5 -2.5 0.8 -1.3 1.7 0.8 2.2 -2 1.4 0.8 2.3 -0.5 1.9 0.5 1.7 -0.9 1.9 0.6 1.4 -1.2 2.2 0.2 0.6 -1.8 2.2 1.4 1.8 -1.2 2.1 -0.6 1.1 2 1.8 -0.6 1.3 1.7 -1.2 1.6 1.5 2.1 -0.5 1.8 1.4 1.6 0 1.9 1.3 1.4 -0.1 2.2 1.1 1.1 0.2 2.1 0.7 1.9 -0.3 1.7 1.3 1.4 0.6 2 1.8 0 1.4 0.6 1.8 -0.6 1.1 1.6 1.4 0.9 -0.3 1.7 -1 2.5 0.3 2 -2 1 0.1 2 -0.4 1.9 0.8 2.3 0.5 1.8 1.6 1 0.8 2.2 1.1 2.3 0.6 1.9 0.7 1.5 0.5 1 1.8 -0.9 2.4 0.9 1.7 -0.9 2.5 -0.8 0.4 -1.8 0.8 -1.1 2 -0.7 1.8 0.3 1.4 -1.3 2.8 0 1.3 -0.2 2.1 -1.9 1.6 0.4 1.8 -0.9 1.5 0.2 1.7 -0.3M413.8 655.6l1.7 -0.7 1.8 1.3 2.2 -1.4 1.5 0.9 1.6 -0.6 2.3 0 1.9 0.5 1.8 -0.5 1.5 0.5 1.4 1.4 2.6 -1 1.6 1.4 1.9 0.2 1.9 1.7 2 -0.6 1.4 0.8 2.2 0.6 1.5 1 2 -0.7 1.2 1.1 1.8 -1.3 1.6 1.5 1.9 -0.4 1.4 0.7 2.4 -1.3 1.6 1.1 2.5 -1.1 1.1 1.4 2.3 -0.8 1.9 1.3 1.3 0 1.8 1.2 1.4 1 -0.2 3.2 1.5 0.5 0.3 2.7 0.7 1.4 1.2 1.4 -0.7 2.2 0.9 2.2 -0.1 1.7 1.3 1.3 -0.8 2 2 1.3 0 1.7 -0.6 1.7 1.7 1.2 0.1 2.1 1.7 0.3 1.8 -0.4 0.9 1 1.9 0.3 1.7 0.9 1.7 -0.5 1.6 0.9 -0.1 2 1.4 0.9 -0.1 2.1 1.5 0.8 1.5 -0.2 1.8 1.4 1.5 0.5 -0.2 1.4 0.2 2.3M558.4 651.9l0.2 1.7 1.3 1.3 1 1.3 2.5 -0.3 1.3 0.6 1.6 0.4 0.6 2.3 -1.9 1.7 -1.6 0.8M563.4 661.7l-1.7 1.3 -1.7 -0.5 -1.2 0.6 -1.3 0.7 -0.9 1 0.1 1.9 -0.9 1.3 -1.8 1 -0.6 1 -0.8 1.3 -1.7 1.2 -2.1 0.5 -1.3 1.2 0.3 2.2 -1.1 1.1 -1.2 -0.4 -1.3 -0.4 -2.7 -0.7 -1.5 1.1 -1.9 -0.1 -1.2 0.7 -1.9 0.3 -1 0.9 -1.8 -0.3 -1.4 1.4 -2.2 0.5 -1.2 1.7 -2.4 -0.1 -1.5 1.6 -2 0.2 -1.5 1.1 0.2 2.3 -2.5 0.9 0.6 1.5 -0.6 1.7 -1.3 1.6 -1.8 0.4 -1.1 0.8 -1.6 0.9 -1.7 1.3 -1 2.1 -2.1 -0.1 -1.7 2 -1.5 1 -2.2 1 -1 2.3 -1.8 0.4M540.3 435.1l-1.8 1.6 -0.8 1.6 -1.4 0.8 -1.2 2.2 -0.6 1.5 -2 1.1 -0.6 2.3 -1.8 1.4 -1.4 1.6 0.1 1.6 -1.2 1.8 0.2 1.8 1.3 0.9 0.3 1.8 1.8 1.3 0.2 1.7 0.6 2.2 -1.5 1 0.3 2.3 -0.7 2 -0.7 1.4 1.2 2.3 -0.6 1.4 1.8 1.8 -1 1.9 0.6 1.2 0.6 1.9 -0.3 2.4 0.4 2M457.6 480.1l1 -1.7 1.7 -1.2 1 -2.1 1.4 1.3 -0.1 2.1 1.1 1.2 0.1 1.7 1.1 1.1 2.5 -0.7 0.8 1.5 1.9 0.6 1.5 1.5 1.9 -0.7 0.6 2.2 2.2 0.2 1 -2.1 1.9 -0.5 0.2 -2.6 1.9 -0.5 2.4 -0.1 1.4 -1.2 1.5 1.4 1.2 1.5 1.4 0.2 0.9 1.9 2.1 0.8 0 1.6 1.7 1.4 1 -0.5 1.2 -1.5 1.5 -0.5 1.5 1.8 2 -0.8 1.5 1.5 2 0.2 1.4 0.8 1.6 0.2 1.8 -0.4 0.7 -2.6 2 0.5 2.7 -1.4 1.6 0.9 1.8 0 0.9 -1.8 2.3 0.4 1.2 -0.6 1.8 -0.3 0.9 -0.7 2.2 0.3 1.4 -0.5 1.5 -0.2 1.7 0.2"/>
<path fill="#e6f0ec" stroke="#000" stroke-opacity="0.64" stroke-width="0.8" d="M497.9 529.4l14.5 -0.5 0.5 9 -15 1z"/>
<path fill="none" stroke="#111" stroke-width="1.2" d="M503.4 262.7l0.8 0.8 1 -1.6 0.8 2.1 1 -2 0.9 1.8 1 -1.8 0.8 1.6 1 -1.4 0.8 1.9 1 -2.1 0.9 1.2 0.5 0.9 1.5 -0.5 0.2 1.5 1.1 0.1 0.3 1.4 1.8 -1.5 0.2 1.7 1.6 -1.1 -0.3 2.7 1.8 -1.6 0 2.2 1.3 -0.5 0.7 0.7 1 -0.7 0.5 1.5 1.2 -1.1 0.6 1.2 1.1 -0.9 0.6 1.2 0.9 -0.2 0.4 1.2 1.7 -0.9 -0.2 2.2 1.9 -1.2 0.4 1.3 0.7 1 1.1 -1.7 0.6 2 1 -1.7 0.7 1.5 1.1 -1.8 0.6 1.4 0.3 1.6 1.9 -1.8 -0.1 2.4 1.6 -1.1 0.2 1.5 1.1 -0.1 0 1.1 1.4 0.1 -0.8 1.6 2 -0.2 -1.1 1.7 1.5 0.1"/>
<path fill="none" stroke="#111" stroke-width="1.3" d="M550.9 278.4l1.2 0.3 -0.1 -2.2 1.9 1.4 0 -1.9 1.1 0 0.2 1 1.5 0 -0.8 1.5 2.1 -0.4 -1.5 2 2.2 -0.5 -0.3 1.3 -0.3 1.3 2.2 -0.2 -0.9 1.7 1.7 0.1 -0.2 1.2 -0.1 1.1 2.1 0 -1.2 1.6 2 0.1 -1.2 1.6 0.9 0.6"/>
<path fill="none" stroke="#111" stroke-width="1.2" d="M566.7 297.1l0.8 0.4 0.9 -0.7 0.8 1 0.9 -0.9 0.8 0.6"/>
<path fill="none" stroke="#111" stroke-width="1.6" d="M583.4 659.2l0.9 0.1 0.6 -1.2 1 0.4 -0.3 1 1.6 0.3 -0.5 1.1"/>
<path fill="none" stroke="#111" stroke-width="1.3" d="M559.2 663.4l1.2 0.5 0.3 -1.5 1.3 0.7 0.4 -1.5 1 0.1 0.4 1.3 1.4 -0.8 0.3 1.6 1.2 -0.4 1.2 0.2 0.1 -1.9 1.6 1.3 0.4 -1.3 0.9 0.5 0.8 -1 0.8 1.3 0.9 -1.3 0.8 0.5 0.7 0.7 1.1 -0.7 0.4 1.6 1.1 -0.6"/>
<path fill="none" stroke="#111" stroke-width="1.3" d="M545.9 677.5l0.6 0.8 1.2 -0.6 0.5 1.2 1 -0.1"/>
<path fill="none" stroke="#111" stroke-width="1.5" d="M604.6 661.3l0.8 0.1 0.5 -0.5"/>
<path fill="none" stroke="#111" stroke-width="1.4" d="M492.6 739l-0.1 0.9 1 0.6 -0.7 1 0.9 0.6 -0.1 0.9 -0.7 0.8 0.7 1.1 -1.2 0.7 0.7 1.1 -0.7 0.8"/>
<path fill="none" stroke="#111" stroke-width="1.3" d="M469.6 763.5l-0.9 0.4 0.4 1.3 -1.3 0.2 0.2 1.1 -0.8 0.5 -0.5 0.8 0.7 1.1 -1 0.7 0.3 1 -0.4 0.9 -0.4 1 0.5 1 -0.4 1"/>
</g>
<g stroke-linejoin="round" stroke-linecap="round">
<g stroke-width="0.6">
<path fill="#fff" stroke="#fff" d="M845.5 378.5l58 16.8 63.9 30.3 -1.5 1 -1 1.7 -1.2 0.4 -1.3 2.2 -1.3 0.7 -2.4 1 -0.7 1.4 -1.9 1.3 -2 0.4 -0.5 2.5 -2.5 0.9 -1.6 1.5 -2.3 -0.2 -1.1 1.2 -1.6 1.5 -0.2 1.1 -2.8 0.9 -0.4 1.5 -2.1 0.5 -1.2 0.8 -2.6 0.4 -1.6 0.8 -1 -1.3 -2 0.2 -1.3 -1 -2 -0.4 -1.5 -0.4 -2 0.4 -1.8 -1.2 -1.5 0.4 -1.9 -0.5 -2.2 -0.9 -1.5 1.9 -2 -2 -1.8 1 -1.7 0.9 -1.8 -0.1 -1.2 2.1 -1.6 -0.4 -1.6 -0.5 -1 -1 -1.7 -1 0.5 -21.2 0.9 -1.7 -1.4 -2.1 -2.2 0.8 -0.3 1.7 -2 1.3 -0.8 1.9 -2.1 -0.2 -0.9 2.1 -2.4 0.7 -2.1 1.2 -1.2 -1.2 -1.5 1 -2.1 -1.2 -1.9 0.7 -1.5 -0.7 -2.9 0.9 -1.7 -1.2 -1.9 0.5 0.4 -1.7 -1.7 -1.6 0.3 -2.1 -1 -1.6 -1.7 -1.2 -2.6 0.4 -1.4 -1.3 -1.8 -0.4 -1.5 -0.6 -2.7 0.3 -1.6 -1.4 -1.7 0.4 0.9 -1.7 -0.4 -1.7 1.7 -1.4 0.3 -1.4 -1.5 -1.8 -0.1 -1.5 -1.5 -1.1 -0.6 -1.9 -0.7 -1.7 -1.5 -0.7 -0.2 -2.4 -2.3 -0.3 -0.3 -2.4 -0.8 -1.5 -2.2 -1.3 0.2 -1.9 -1.9 -0.7 -0.3 -2.1 0.1 -2.7 -2.4 -0.8 1 -2 -1.2 -2 0.5 -2 1.8 -0.5z"/>
<path fill="#fff" stroke="#fff" d="M845.5 378.5l-0.1 -1.6 1.8 -1.9 0.7 -2.1 0.6 -1.4 0.9 -1.7 2.2 0.2 1 -1.6 1.7 -0.3 1.2 -1.6 1 -1.5 -0.8 -2.8 0.3 -1.9 1.4 -1.1 -0.8 -2.7 0.7 -1.3 0.7 -1.4 0.2 -2.1 1.4 -1.4 0.2 -1.3 0.4 -2.4 1 -1.4 -0.2 -2.3 10 -7.5 1.8 -0.5 1.1 -1 2.3 0.1 1.4 -2.1 2.1 -0.1 1.3 -0.7 12.5 -2.5 1.8 -1.3 2 -0.6 1.2 -1.1 1.6 -0.4 2.6 0.9 1.8 -0.6 1.6 0.6 1.3 0.7 0.4 1.9 2 0.4 1.1 -0.9 0.7 -1.1 9 -56.8 -1 -1.4 0.7 -2 -1.8 -1.5 1.1 -2 -1 -1.8 -1.8 -0.2 -0.7 -2.8 -1.7 -0.4 -0.8 -1.9 -1.8 -0.2 -1.2 -2 0.4 -2.2 -1.5 -0.9 1.2 -2.3 -0.7 -1.7 0.2 -1.7 -0.3 -1.1 -0.1 -2.1 7.5 -2.5 8.3 -0.5 0 -7.5 -12 -1.3 0 -10 27.5 -0.5 1.2 -3.7 2.3 0.4 1.5 1.3 1 -1.2 1.6 -0.5 0.5 -1.8 1.9 -0.7 1.8 -1 1.8 -1.5 1.4 -0.8 1.5 1.6 -0.3 1.8 1.3 1.4 0.5 1.5 2 12.5 1.9 0.1 1.1 2 1.7 -0.8 1.6 1.2 2.1 1 1 1.6 1.4 0.8 1.7 1.6 1.7 0.7 2.2 -0.9 2.1 0.8 1.5 -0.1 1.2 -1.5 2.2 0.7 0.8 -2 2.1 -0.2 -0.7 1.5 1.8 1.2 0.1 1.8 1.9 -0.5 0.7 -2.4 2.1 0.2 1.2 -2.6 1.6 -0.5 1.7 -1.2 1.5 -0.5 1.3 -1.5 1.7 0 1.3 -1.8 2.6 -0.8 0.4 -1.8 1.7 -0.6 1.6 -1.8 1.1 -1.8 1 -0.8 0.3 -1.7 1.6 -0.8 1 -1.6 2 0.2 0.9 -1.5 2.3 0.1 1 -1.3 1 -1.6 2.6 0.7 0.8 -1.4 1.6 0.5 2.2 0 1.9 1 2.3 0.7 0.5 2.5 2.2 0.6 1.4 1.7 -0.4 2.3 1.7 1.5 -0.2 2 0.6 1.4 0.2 1.9 1.2 1.9 -1.2 1.8 1.3 1.2 0.4 1.8 -0.6 2.1 1.9 0.7 -1.4 2.4 1.7 1.4 -0.4 1.7 0.8 1.7 2.5 12.5 -0.1 2.1 -1.4 0.7 -0.3 1.5 -1.4 1.4 -0.1 1.8 1.4 1.9 1.9 -0.1 1.1 1.8 1.9 1.4 1.3 1.7 0.2 1.2 1.5 1.2 0.7 2.1 1.8 0.8 1.5 1.6 1.6 -0.6 1.4 1.5 -0.2 -2 -0.6 -1.4 0.7 -2.9 -1.3 -1.6 0.1 -1.6 0.9 -1.2 0.2 -2 2.2 -1.6 0.5 -1.5 2 -0.2 0.7 -1.5 2.2 -0.2 1.3 -0.6 0.9 1.7 2.1 0.2 0.1 2.1 1.9 1 1.1 -1.7 2.4 0.8 1.5 -1.6 0.1 -1.8 0.7 -1.6 -0.6 -1.5 1.1 -1.3 0 -1.8 1.6 -1.1 0.1 -1.5 2.1 -1.6 -0.1 -1.5 0.6 -1.4 1.9 -1.1 18.3 0 -0.8 2.3 1.4 1.5 -0.9 1.8 0.8 1.9 1.4 0.8 -0.6 2.3 2 1.3 0.1 2 0.9 1.1 1.9 1 -0.3 1.7 1.9 1.8 -0.2 1.7 1.7 1.3 0.8 2 2.5 0.4 1.5 1.8 1.4 0.8 1.5 1.1 2 0.5 0.3 1.9 2.3 0.1 1.4 1.4 2.4 0.4 0.9 1.9 1.6 0.2 1.1 1.5 1.5 1 1.2 1.8 2.2 -0.1 1 1.5 1.8 0.1 1.3 1.7 1.7 0.5 1.7 -1.6 2.5 0.9 1.6 -0.3 1.4 -0.8 1.1 0.1 -40.5 84.9 1.8 1.4 -0.4 2 1.8 0.4 -0.4 2.2 1.8 0.7 0.9 2 -2.5 15 -0.7 1.9 0.7 1.7 -0.9 2.2 0.6 1.6 -0.9 2.5 0 1.4 -55.1 0 -1.9 0 -1.8 1.3 -1.5 -0.8 -1.1 -1.9 -2.4 -0.4 -0.9 -1.1 -1.6 -1.1 -1 -1.7 -1.5 -0.6 -1.6 -1.5 -0.3 -1.8 -1.9 -0.4 -1.5 -1.5 -1 -1.1 -1.2 -1.2 -2.1 0 -1.9 -0.9 -2 1 -1.5 -0.6 -2 0.9 -1.7 -0.6 -2.6 0.2 -2.2 0.9 -0.3 1.8 -1.3 1.1 0.1 2.3 -2.7 0.7 0.1 2 -1.8 1.1 0.4 2.2 -2.2 1.3 -0.1 1.7 -1.5 0.4 -2.1 -0.7 -1.1 2.1 -1.6 -0.6 -2 -0.4 -1 1.3 -1.4 -0.3 -1.8 0.7 -0.9 0.8 -0.3 2.2 -1.3 0.7 -1.7 1.1 -2 -0.4 -1.3 1.6 -1.3 0.2 -1.3 1.9 -2.2 0.2 -1.5 1.2 -1.4 -0.6 -2.4 0.7 -1.2 -1.4 -1.6 0.2 -2.3 -0.1 -1.5 0.7 -2.1 0.2 -2.4 0.5 -0.3 1.9 -2.9 0.5 -0.6 1.9 -63.9 -30.3z"/>
<path fill="#fff" stroke="#fff" d="M1025.5 211.3l0.1 -2.2 -0.4 -1.3 -1.5 0.2 -1.8 0.2 -2.4 -0.8 -1.8 0.4 -2 0.2 -0.9 -1.5 0.4 -2.5 -0.1 -1.4 -0.3 -1.9 -0.3 -2.4 -1.8 -0.9 -1.1 -1.3 -0.2 -2.1 -0.9 -1.7 0.9 -2.4 0.4 -1.7 -1.6 -1.7 -1.1 -1.2 -1.4 -1.3 -0.9 -1.3 -1.6 -1.2 -1.7 -1.8 -0.8 -1.5 -1.7 -1 -0.4 -1.9 1.6 1.2 1.3 -0.4 1.2 0.8 2.1 0.4 2 0.7 2.2 -0.7 1.8 -0.4 0.7 1.3 0 1.3 1.3 1.6 1.1 -0.6 1.8 0.6 1.1 -0.6 1.4 -0.2 1.2 0.9 1.3 -0.1 2.5 -0.4 2.5 0 0.2 1.5 1.5 1 0.3 1.3 1.7 0.8 1.1 1.1 1.4 -0.3 1.5 -0.3 1.1 -0.5 0.2 -1.6 -0.2 -1.3 -0.8 -1.6 1.2 -1.4 0.5 -1.4 2 0.2 1.3 -0.1 1.2 -1.6 1.5 0.2 1 0.6 2.5 0.5 1.3 0 2 -0.9 1.6 -0.3 1.7 -0.5 1.8 -1 1.6 -0.3 0.5 -1.4 1.1 -0.6 1.8 -0.4 0.7 -1.3 1.7 -0.8 2.5 -0.5 1.7 0 0.8 -1.2 1.8 -0.8 0.3 -1.3 1.6 -0.5 0.9 -1.2 1.2 -2 0.6 -1.4 -1 -1.6 -0.3 -1.3 -0.9 -1.2 1.9 0.3 1.4 0.2 1.7 -0.4 1.7 -0.1 1.6 0.1 1.7 -0.1 0.5 1.8 1.6 -0.1 1.3 1.3 -0.5 2 0 2.4 -0.4 1.4 -1.2 0.9 -0.5 1.6 -0.4 1.7 1.8 0.6 1.1 0.2 2 0 1 0.8 0.7 1 1.3 0.7 -0.2 1.4 0.7 1.5 0.9 1.3 0.7 2.5 -0.5 1.8 -0.3 1.1 -1.6 0.9 -0.1 1.6 -1.7 0.6 -1.2 1.1 0.3 1.6 -0.7 1.7 -0.3 2 -0.6 1.3 -0.9 1.6 0.5 2.6 -0.3 2 -0.1 2.2 1.1 1.6 0.2 2.5 0.7 1.6 0.9 1.8 0 1.6 1.3 0.9 -0.5 2.6 1.3 1.5 1.6 1.3 0.5 2.1 1.2 1.2 1.3 1.7 1.1 0.5 1 1.2 1.6 0.9 1 2 1.9 0.4 1.2 0.2 1 1.6 0 17 -18.3 0 -1.9 1.1 -0.6 1.4 0.1 1.5 -2.1 1.6 -0.1 1.5 -1.6 1.1 0 1.8 -1.1 1.3 0.6 1.5 -0.7 1.6 -0.1 1.8 -1.5 1.6 -2.4 -0.8 -1.1 1.7 -1.9 -1 -0.1 -2.1 -2.1 -0.2 -0.9 -1.7 -1.3 0.6 -2.2 0.2 -0.7 1.5 -2 0.2 -0.5 1.5 -2.2 1.6 -0.2 2 -0.9 1.2 -0.1 1.6 1.3 1.6 -0.7 2.9 0.6 1.4 0.2 2 -1.4 -1.5 -1.6 0.6 -1.5 -1.6 -1.8 -0.8 -0.7 -2.1 -1.5 -1.2 -0.2 -1.2 -1.3 -1.7 -1.9 -1.4 -1.1 -1.8 -1.9 0.1 -1.4 -1.9 0.1 -1.8 1.4 -1.4 0.3 -1.5 1.4 -0.7 0.1 -2.1 -2.5 -12.5 -0.8 -1.7 0.4 -1.7 -1.7 -1.4 1.4 -2.4 -1.9 -0.7 0.6 -2.1 -0.4 -1.8 -1.3 -1.2 1.2 -1.8 -1.2 -1.9 -0.2 -1.9 -0.6 -1.4 0.2 -2 -1.7 -1.5 0.4 -2.3 -1.4 -1.7 -2.2 -0.6 -0.5 -2.5 -2.3 -0.7 -1.9 -1 -2.2 0z"/>
<path fill="#fff" stroke="#fff" d="M1174.1 209.1l1.4 0.7 1.8 -0.4 1.9 1.3 1.8 0.4 1.2 -0.8 2.1 0.2 1.4 -0.7 2.3 0.5 1 -1.7 2 0.5 1.4 0.3 2.1 -0.2 1.7 1.3 1.8 -1.2 0.9 1.5 2.1 0.3 1.9 0.6 2.6 -1 1.8 0.9 1.2 -1.7 1.8 -0.2 0.5 -2.5 1.7 -0.8 1 -1.1 0.1 -1.9 1.6 -1.6 0 -1.7 1.6 -1.4 0.4 -1.9 1.1 -0.6 0.2 -2.2 1.5 -0.9 0.2 -2.4 1.7 -1.3 0.3 -2 1.5 -1.1 0.2 -1.5 1.5 -1.8 0.7 -1.5 1 -1.2 0.4 -2 1.1 -0.7 0.2 -2.5 2.1 -0.3 0.2 -2 2 0.8 1.7 -0.8 1 1.6 0.2 1.4 1.6 1.5 0.5 1.7 0.9 1.8 -0.5 1.8 1.1 1.4 -1.1 2.1 1.4 1.9 -0.5 1.9 0.4 1.6 1.6 1.8 -1.5 2.1 2.1 1.3 -0.7 2.3 1.7 0.8 -0.4 2.8 1 1.4 1.3 1.1 -0.1 2.1 1.4 1.2 0 2.1 1.1 1.1 1.9 1.1 1.4 0.6 1.1 1.1 1.9 0.9 0.7 1.7 1.8 0.4 1.2 2.3 1.3 0.6 0.9 1.6 -0.4 1.8 1.2 1.6 0.3 2.3 -1.6 1.1 1.4 2.3 -1.4 1.1 0.1 2 -0.9 1.9 -1.9 1.2 -0.2 2.4 -2.5 0.5 -1.3 1 -1.1 1.9 -2.2 0.5 -0.4 1.8 -1.3 1.8 -2.1 -0.6 -0.8 2.6 -2.1 0 -0.6 1.6 -2.5 0.6 -0.3 1.7 -1.6 1.1 -1.2 1.2 -1.3 1.3 -0.5 2.2 -1.4 1.2 -0.4 1.6 -1.4 1.2 -0.3 1.5 -1.7 1.1 0.3 1.9 -0.8 1.8 -2.1 1.4 -0.8 1.8 -2.2 0.5 -1.7 0.3 -1.9 -1.7 -1.4 0.2 -0.8 -2.2 -2.2 -0.2 -0.7 -2.6 -1.6 -1.4 0.2 -2 -1.6 -0.4 0.7 -3 -1.5 -0.7 -0.6 -1.5 -1.4 -1.9 -0.3 -2.1 -1.4 -1.3 0.2 -1.5 -1.5 -1.7 0.3 -1.5 -1.1 -1.8 0.5 -1.7 -1.4 -1.7 0.5 -2.3 -1.3 -1 -1.5 -1.1 -0.5 -2.2 -1.4 -1.1 -0.4 -1.2 -1.6 -1.7 -0.8 -1.5 -1.6 -0.6 -0.7 -1.6 -2.2 -0.5 -1.3 -1.9 -2 -0.1 -1 -1.5 -1 -0.8 -2.7 -0.5 -0.7 -1.8 -1.5 -0.5 -0.7 -1.6 -2.2 -0.2 -1.2 -0.9 -0.7 -1.9 -1.4 -1.7 0 -1.9 -2.3 -1.2z"/>
<path fill="#558cc0" stroke="#558cc0" d="M967.4 425.6l0.6 -1.9 2.9 -0.5 0.3 -1.9 2.4 -0.5 2.1 -0.2 1.5 -0.7 2.3 0.1 1.6 -0.2 1.2 1.4 2.4 -0.7 1.4 0.6 1.5 -1.2 2.2 -0.2 1.3 -1.9 1.3 -0.2 1.3 -1.6 2 0.4 1.7 -1.1 1.3 -0.7 0.3 -2.2 0.9 -0.8 1.8 -0.7 1.4 0.3 1 -1.3 2 0.4 1.6 0.6 1.1 -2.1 2.1 0.7 1.5 -0.4 0.1 -1.7 2.2 -1.3 -0.4 -2.2 1.8 -1.1 -0.1 -2 2.7 -0.7 -0.1 -2.3 1.3 -1.1 0.3 -1.8 2.2 -0.9 2.6 -0.2 1.7 0.6 2 -0.9 1.5 0.6 2 -1 1.9 0.9 2.1 0 1.2 1.2 1 1.1 1.5 1.5 1.9 0.4 0.3 1.8 1.6 1.5 1.5 0.6 1 1.7 1.6 1.1 0.9 1.1 2.4 0.4 1.1 1.9 1.5 0.8 1.8 -1.3 1.9 0 -0.5 2.2 1.6 1.1 -1.1 1.7 1.5 1.6 -0.7 2.2 -0.4 1.8 0.7 2.2 -1.1 1.7 0 1.8 -0.6 1.4 1.3 1.7 -0.3 1.7 0.4 1.8 -0.8 2.1 0.8 1.3 0.3 2 -0.7 1.9 1.1 1.8 -1.3 1.4 1 2.4 -0.4 1.7 1.7 0.7 2.2 -0.5 1.5 1.1 1.8 -0.4 1.8 0.9 2.5 -1.3 1.5 1.3 1.7 1.4 2 -1.5 1.9 2.2 1.9 -0.1 1.9 0.7 1.1 -0.4 1.1 1.8 2.1 -0.1 -1.2 1.5 1.4 2.7 -0.9 2.1 0 1.7 0.2 1.9 1.1 1.9 -0.5 1.9 1.2 1.8 0.9 1.8 -0.2 1.1 0.9 1.9 0.4 1.4 -0.7 2.4 -1.6 0.4 -1 2.1 -1.2 1.4 -0.8 1.4 -0.5 2.2 -1.3 0.7 0.1 2 -2 1.1 0.6 2.4 -2.4 1.5 -1.4 1.6 0.1 1.4 -1.2 2 -1.1 -0.3 -1 -1.4 -1.6 -0.8 -1.7 -0.5 -1.7 1.3 -2.5 -1.4 -1.6 0.6 -1.5 0.2 -2.2 -0.7 -1.4 0.4 -1.8 -1.2 -1.9 0.5 -1.3 -1 -0.5 -1.5 -1.8 -0.5 -0.8 -1.6 -1.8 -0.9 -1.8 0.1 -1.3 -1.6 -2.1 1 -1.1 -0.7 -1.2 -1.4 -2 0.6 -1.5 -1.7 -1.7 0.3 -1.1 -1.6 -1.9 -1 -0.4 -1.5 -2.1 -0.2 -1.8 -1 -2.2 -0.3 -0.6 -1.9 -2.2 0.1 -0.8 -1.7 -1.8 0 -1.8 -0.5 -2.3 0.7 -1.8 -1.5 -1.6 0.8 -1.8 0.6 -1.7 -2.3 -2.8 1.1 -1.2 -1.4 -1.2 -0.9 -0.7 -1.9 -1.8 -1 -1.6 -0.8 -0.8 -2 -2 -0.7 -0.6 -1.5 -1.1 -1 0.3 -2.4 -1.9 -0.9 0.2 -1.9 -0.3 -2 -1.5 -2.1 0.7 -2.3 -1.4 -1.1 0.3 -2.1 -1.5 -1.2 1 -1.5 -1.5 -2 1.2 -1.7 -1.3 -1.5 0.3 -2.1 0.5 -2 -0.8 -1.5 1 -1.9 -0.7 -2 0.9 -1.7 -1.4 -1.8 0.7 -1.5 -1.6 0.6 -2.3 -0.5 -1.7 1.3 -1.9 -0.4 -1.5 -0.3 -2.3 1.1 -1.7 -0.3 -2 1 -1.6 0 -1.6 -0.7 -2.2 -0.1 -1.3 -0.7z"/>
<path fill="#3e73b0" stroke="#3e73b0" d="M1103.2 229.6l2.5 -1 1.3 -1.8 1.7 -0.2 2.2 -0.8 0.6 -2.1 1.6 0 1.2 -1.7 1.9 -0.4 1.6 -0.2 1.7 -1.7 2.2 0.5 1 -2.4 2.3 0.1 1.2 -0.8 1.4 -0.4 2 0.6 1.9 -1.7 1.2 1.4 2.1 -1.3 1.4 0.4 1.5 -0.6 1.5 1.3 1.8 -0.8 2 1.3 1.2 -1.2 2 0.5 1.9 -0.5 1.9 -1.7 2 0.8 1.7 -1.1 -0.6 -1.7 1.9 -1.1 -0.5 -2 0.5 -1.5 1.6 0.2 2.1 -1.6 1.8 1 1.1 -1.3 2.2 -0.1 2.2 0.3 1.9 -0.7 1.2 0.3 2.2 -0.6 0.3 1.9 2.4 0.4 0.1 1.5 0 2 2.3 1.2 0 1.9 1.4 1.7 0.7 1.9 1.2 0.9 2.2 0.2 0.7 1.6 1.5 0.5 0.7 1.8 2.7 0.5 1 0.8 1 1.5 2 0.1 1.3 1.9 2.2 0.5 0.7 1.6 1.6 0.6 0.8 1.5 1.6 1.7 0.4 1.2 1.4 1.1 0.5 2.2 1.5 1.1 1.3 1 -0.5 2.3 1.4 1.7 -0.5 1.7 1.1 1.8 -0.3 1.5 1.5 1.7 -0.2 1.5 1.4 1.3 0.3 2.1 1.4 1.9 0.6 1.5 1.5 0.7 -0.7 3 1.6 0.4 -0.2 2 1.6 1.4 0.7 2.6 2.2 0.2 0.8 2.2 1.4 -0.2 1.9 1.7 1.7 -0.3 2.2 -0.5 0.8 -1.8 2.1 -1.4 0.8 -1.8 -0.3 -1.9 1.7 -1.1 0.3 -1.5 1.4 -1.2 0.4 -1.6 1.4 -1.2 0.5 -2.2 1.3 -1.3 1.2 -1.2 1.6 -1.1 0.3 -1.7 2.5 -0.6 0.6 -1.6 2.1 0 0.8 -2.6 2.1 0.6 1.3 -1.8 0.4 -1.8 2.2 -0.5 1.1 -1.9 1.3 -1 2.5 -0.5 1.5 1.4 -0.3 1.8 0.8 1.3 1.6 -0.4 2.1 1.3 1.8 0.3 1.5 1.4 0.6 0.9 1.8 1.4 0.2 1.2 2.5 0.9 0.8 1.2 1.7 1.4 1.7 -1.1 1.6 1.3 1.7 0.5 2.1 -0.6 1.5 1.6 1.6 -0.8 1.4 1.1 1 2.2 -0.1 2 1.8 1.1 1.2 0.3 2.1 1.6 1.5 0.3 0.9 -1.7 2.5 -0.4 1.8 0.8 1.8 -1.1 1.7 1.2 1.9 -0.3 2 0.2 1.7 0.5 1.6 1.6 2.5 0.1 0.3 1.9 2.4 0.5 1.5 0.9 1.9 -0.1 1.5 1.8 1.5 -0.9 1.7 0.8 1 1.4 2.7 -0.2 0.5 1.6 -0.9 1.4 0.7 2.1 -0.6 1.2 -0.5 1.5 -1.2 1.9 -0.4 2.5 0 1.8 1.2 1.5 -0.5 1.6 -1.2 1.8 0.4 1.8 -1.2 1.5 0.2 1.8 -1.4 1.1 -0.4 2.1 -2.4 1.3 -0.5 2 -0.7 2 0.8 1.3 -0.6 1.7 -0.4 2.2 -2.3 1.2 -0.6 1.6 -1.5 1.6 -1 1.7 1.5 0.8 1.9 -0.7 -1 1.6 0.1 2.2 -1.6 1 -0.6 2 -1.5 1.2 -0.4 2 -0.3 1.5 -2.1 0.8 0.1 2.5 -2.3 0.6 -0.4 2.1 -1.3 1 -1.3 1.9 -1.6 0.3 -0.8 1.8 -1.4 1.3 -1.9 0.2 -1.1 1.6 -1.5 0.8 -1.6 1.1 -1.9 0.6 -1.3 1.7 -3.1 -0.5 -1.2 1.2 -1.4 1.4 -1.6 0.6 2.2 1.6 1.7 0.4 1 1.8 2 -0.4 0.7 1.9 1.4 0.6 0.2 1.7 -2.1 1.9 0.2 2.3 -0.7 1.4 0.4 1.9 -2.5 0.9 0.7 2.3 -1.3 1.1 -2.1 0.6 -0.7 1.7 -2.5 0.8 -1.2 1.4 -1.8 0 -0.9 2.6 -2.1 0.5 -1.7 1.6 0 1.8 0.1 1.5 0.3 1.5 -1.4 1.1 -0.2 1.4 -1.2 1 -0.8 1.7 1.3 1.7 0.8 0.6 1.1 1.6 1.2 1.3 -1.1 1.8 0.6 2 -1.4 1.4 0.6 1.6 -1.4 1 -0.6 2.7 -1.1 1.5 -1.2 1 0.2 2.8 -1.1 0.9 -1 1.4 -2.5 -0.1 -1.2 1.8 -1.4 1.8 0 1.4 -1.9 1.4 -0.9 1.7 0 1.7 -2 1.4 0.5 2.8 -1.2 1.2 -0.5 1.7 -112.9 -8.2 -1.7 -0.3 -1.7 -1.4 -1.7 -0.1 -1.1 -0.7 -1.6 -1.7 -1.2 -0.7 -1.2 -2.2 -1.8 -0.4 -0.9 -1.9 -0.3 -1.6 -1.3 -0.9 -0.3 -1.7 -0.7 -1.5 0 -2.2 -1.7 -0.9 -0.1 -2.4 -1.8 -0.7 0.7 -2.9 -1.6 -1.4 -1.5 -1.3 0.4 -2.3 -1.4 -1.2 -0.1 -1.8 -1.7 -1.2 -0.7 -2.2 -0.9 -2 -1.8 -0.7 0.4 -2.2 -1.8 -0.4 0.4 -2 -1.8 -1.4 40.5 -84.9 -1.1 -0.1 -1.4 0.8 -1.6 0.3 -2.5 -0.9 -1.7 1.6 -1.7 -0.5 -1.3 -1.7 -1.8 -0.1 -1 -1.5 -2.2 0.1 -1.2 -1.8 -1.5 -1 -1.1 -1.5 -1.6 -0.2 -0.9 -1.9 -2.4 -0.4 -1.4 -1.4 -2.3 -0.1 -0.3 -1.9 -2 -0.5 -1.5 -1.1 -1.4 -0.8 -1.5 -1.8 -2.5 -0.4 -0.8 -2 -1.7 -1.3 0.2 -1.7 -1.9 -1.8 0.3 -1.7 -1.9 -1 -0.9 -1.1 -0.1 -2 -2 -1.3 0.6 -2.3 -1.4 -0.8 -0.8 -1.9 0.9 -1.8 -1.4 -1.5 0.8 -2.3z"/>
<path fill="#3e73b0" stroke="#3e73b0" d="M1325.2 271.8l1.5 -0.2 2.2 1.5 2.1 -0.7 2.3 0.2 0.2 2.1 2.5 0.2 2 1.1 0 2.6 1.4 1.3 1.8 -1.2 0.7 -1.3 1.1 -0.6 1.8 -1.6 1.2 -0.3 0.9 2.3 2 0 0.5 2.7 1.1 0.9 0.4 2.3 1 0.9 1.2 1.9 -0.3 1.7 1.6 1.4 1 1.4 -0.9 2.4 1.3 0.9 0.3 2 1.9 0.4 2 -0.5 1.9 0.9 1.6 -0.4 0.5 -2.7 2.1 0 1 -1.5 1.5 -0.8 1.8 1.5 2 -1 1.2 1.9 1.6 0.1 2.1 0.7 0.9 1.3 2.5 0.2 0.6 1.3 2.3 0.3 2.1 0 0.8 1.2 2.4 0 1.3 0.9 1.7 0 2.7 0.4 1.1 0 1.9 0.9 2.3 -0.4 0.4 1.9 -1.1 0.9 0.7 2.4 -1.2 1 -1.5 0.9 -0.5 1.8 -1.9 1 -1.1 1.3 -1.8 0.1 -0.7 2.8 -2.7 -0.2 -0.6 1.9 -1.7 0.4 -1.3 1.3 -0.1 2.2 -1.2 0.8 0.6 2 -1.8 1.2 -0.9 1.9 0.6 1.9 -1.1 1.2 0.4 1.6 -1.2 1.7 0.5 1.7 1.1 1.8 -0.9 1.2 1 1.7 -1.2 2.4 1.6 1.6 -0.6 1.3 -0.1 2.1 -1.1 1.2 0.3 1.6 -1.6 1.9 0.8 1.9 -0.8 1.3 0 1.5 1 2.1 -0.7 1.7 1.4 1.5 -0.7 1.7 0.5 1.6 -0.2 1.5 -1.4 1.2 -0.6 2.5 -1.1 1 -1.4 -0.3 -1.7 1.4 -1.6 -1.2 -1.5 1.4 -2.2 0.2 -1.8 -1.3 -1.4 1.2 -2.1 -0.6 -1.6 0.6 -1.8 0.1 -1.6 0.9 -0.3 1.8 -2.2 0.7 -2.2 0.8 -0.7 1.3 -2 0.8 -0.7 1.2 -1.9 0.9 -1.3 1.4 -2.4 0.3 -0.8 2 -1.8 0.2 -1.3 1.1 -0.9 1.4 -2.8 0.3 -1.3 2 -1.6 1.8 0.6 2.5 -1.8 1.6 0.3 1.6 0.4 2.1 -2 1.5 0.7 2.1 -1.6 1.8 -0.9 1.6 -0.1 2.2 -1.5 2.1 0 1.7 -0.9 1.5 1.6 1.6 -1.1 2.1 1 1.8 -0.3 1.5 0.2 1.5 0.2 1.9 1.2 1.6 -1.2 1.8 1.2 2 -0.4 1.6 1.6 1.8 -0.4 1.8 -1.2 -1.1 -2.8 0.6 -1.2 -0.8 -2 -0.8 -1.5 1 -1.5 -1.4 -0.7 -1.8 -1.9 -1.1 0.1 -2.1 -1 -1.4 -0.2 -2.4 -1.8 -1.2 -0.7 -1.3 -0.6 -2.1 -1.7 -0.3 0.1 -2.1 -1.6 -1.7 1 -1.5 -0.4 -1.6 1 -1.8 -0.3 -1.4 0.7 -1.9 2.3 -1.7 0.7 -1.4 0.7 -1.9 0.7 -1 0.6 -2.1 -0.8 -0.9 -0.6 -2.3 -1.8 -0.6 -1.7 -1.2 -1.3 0.8 -1.6 -1.2 -1.7 0.4 -0.1 -1.7 -2.5 -0.5 0.3 -2.9 -2.5 -0.9 -0.2 -1.5 -0.5 -2.3 -2.8 -0.4 0.3 -2.4 -2 -1.2 0.8 -2 -0.5 -1 1.5 -1.8 -0.8 -2 0.7 -1.4 0.3 -1.8 -0.2 -2 1.6 -1 -1.3 -1.7 1.9 -1.5 -1.2 -1.7 1 -1.9 0.1 -1.5 -1.2 -1.9 0.6 -1.9 -0.8 -1.6 0 -1.9 -1.3 -2 -2.6 0.4 -1.1 -2.2 -1.7 -0.8 -1.6 1 -1.5 -1.8 -2.2 0.7 -1.8 -1.1 -1.9 1 -1.4 -1.1 -1.6 1.9 -1.8 0.2 1.6 -0.6 1.4 -1.4 1.2 -1.2 3.1 0.5 1.3 -1.7 1.9 -0.6 1.6 -1.1 1.5 -0.8 1.1 -1.6 1.9 -0.2 1.4 -1.3 0.8 -1.8 1.6 -0.3 1.3 -1.9 1.3 -1 0.4 -2.1 2.3 -0.6 -0.1 -2.5 2.1 -0.8 0.3 -1.5 0.4 -2 1.5 -1.2 0.6 -2 1.6 -1 -0.1 -2.2 1 -1.6 -1.9 0.7 -1.5 -0.8 1 -1.7 1.5 -1.6 0.6 -1.6 2.3 -1.2 0.4 -2.2 0.6 -1.7 -0.8 -1.3 0.7 -2 0.5 -2 2.4 -1.3 0.4 -2.1 1.4 -1.1 -0.2 -1.8 1.2 -1.5 -0.4 -1.8 1.2 -1.8 0.5 -1.6 -1.2 -1.5 0 -1.8 0.4 -2.5 1.2 -1.9 0.5 -1.5 0.6 -1.2 -0.7 -2.1z"/>
<path fill="#3e73b0" stroke="#3e73b0" d="M1399.9 300.4l2.1 0.5 1.7 0.9 1.3 -0.3 1.9 1.4 1.8 -0.2 0.3 1.7 -0.2 1.7 0.7 2.5 -1.3 1.5 1.5 1.8 -1.1 1.5 1 1.6 -1.2 2.6 0.9 1.4 1 1.2 -0.5 2.3 1.4 1.2 -1 2 0.7 2.1 -0.7 1.5 -0.4 1.8 1.4 1.9 -1 1.6 0.5 2.2 0.8 1.7 0.9 1 0.7 1.9 0.9 1 0.6 1.5 -0.5 2.2 1.7 1.6 0.1 1.3 -0.2 2.3 1 1.5 -1.5 1.6 1.1 2.1 -0.5 1.6 2.1 1.9 -0.7 1.4 0.5 1.7 -0.5 1.4 1.2 1.6 0.3 1.7 0.9 1.5 2.2 1.3 1.1 1.4 0.5 1.2 0.9 1.2 0.7 1.8 -1.4 2.2 -0.2 1.6 -1.1 1.6 0.1 1.7 -0.9 1.5 -1.4 0.8 -0.7 1.6 1.6 1.6 -0.5 2.4 -0.5 2 0 1.9 -0.9 1.8 -1.4 1.1 -0.4 2.1 -1.9 1 -0.9 0.9 -1.5 1 -0.9 1.4 -1.7 0.8 -0.6 1 -2.4 0.2 -1.4 1.7 -1.1 1.9 -1.7 0.3 -0.9 1.6 -1.9 0.9 -1 1.9 -2.1 0.7 -1.6 1.2 -1.7 0 -1.2 1 -1.6 -0.5 -2.2 0.3 -0.8 1.3 -1.4 0.5 -1.9 1.1 -1.2 -0.4 -1.9 -0.2 -1.2 -0.4 -1.9 -0.2 -1.4 -0.5 -2 0 -1.1 -0.6 -1.8 -0.2 -2 1.1 -1 2 -2 0.7 -0.9 1.2 0.3 1.9 -0.6 1.9 0.1 1.6 -2.1 1.4 0.4 2.5 -0.9 2 -1.6 1.3 -0.2 1.4 -2.3 0.6 -0.9 1.7 -0.9 1.4 -2.3 -0.7 -0.9 2.4 -2.4 -0.3 -1 1.7 -1.6 -0.2 -1.2 2 -2.2 -0.9 -1.3 0.8 -1.6 -0.6 -1.5 -1.9 -1.5 -0.2 -1.7 -1 -1.4 -1.8 0.8 -2.3 -1.4 -1.4 -1.6 -1.7 -0.1 -1.6 -2.2 0.1 -1.4 1.2 0.4 -1.8 -1.6 -1.8 0.4 -1.6 -1.2 -2 1.2 -1.8 -1.2 -1.6 -0.2 -1.9 -0.2 -1.5 0.3 -1.5 -1 -1.8 1.1 -2.1 -1.6 -1.6 0.9 -1.5 0 -1.7 1.5 -2.1 0.1 -2.2 0.9 -1.6 1.6 -1.8 -0.7 -2.1 2 -1.5 -0.4 -2.1 -0.3 -1.6 1.8 -1.6 -0.6 -2.5 1.6 -1.8 1.3 -2 2.8 -0.3 0.9 -1.4 1.3 -1.1 1.8 -0.2 0.8 -2 2.4 -0.3 1.3 -1.4 1.9 -0.9 0.7 -1.2 2 -0.8 0.7 -1.3 2.2 -0.8 2.2 -0.7 0.3 -1.8 1.6 -0.9 1.8 -0.1 1.6 -0.6 2.1 0.6 1.4 -1.2 1.8 1.3 2.2 -0.2 1.5 -1.4 1.6 1.2 1.7 -1.4 1.4 0.3 1.1 -1 0.6 -2.5 1.4 -1.2 0.2 -1.5 -0.5 -1.6 0.7 -1.7 -1.4 -1.5 0.7 -1.7 -1 -2.1 0 -1.5 0.8 -1.3 -0.8 -1.9 1.6 -1.9 -0.3 -1.6 1.1 -1.2 0.1 -2.1 0.6 -1.3 -1.6 -1.6 1.2 -2.4 -1 -1.7 0.9 -1.2 -1.1 -1.8 -0.5 -1.7 1.2 -1.7 -0.4 -1.6 1.1 -1.2 -0.6 -1.9 0.9 -1.9 1.8 -1.2 -0.6 -2 1.2 -0.8 0.1 -2.2 1.3 -1.3 1.7 -0.4 0.6 -1.9 2.7 0.2 0.7 -2.8 1.8 -0.1 1.1 -1.3 1.9 -1 0.5 -1.8 1.5 -0.9 1.2 -1 -0.7 -2.4 1.1 -0.9z"/>
<path fill="#fff" stroke="#fff" d="M1408.7 302.7l2.1 0.6 1.5 -1.2 2 0.9 2.2 -1.5 2 0 1.9 0.4 1.4 -0.8 1.6 1 1.8 -0.9 2 0.9 1.3 -0.2 2.1 0.6 1.2 1.8 2.5 -0.6 0.8 1.3 2.2 0.3 1.4 0.6 1.1 1.6 2.4 -0.1 1 1.8 1.8 -0.1 1.1 1.2 2 0.4 0.4 1.9 1.8 0.2 1.8 2.1 1.3 0.5 1.4 1.1 2.1 1.1 0.5 2.1 2.1 0.7 0.7 1.9 2.2 0.5 1.2 1.2 0.9 1.9 1.9 -0.3 0.7 2.9 1.8 0.6 0.7 1.2 1.5 1.2 2.3 0.9 0.2 2.7 1.8 0.1 1.6 2 1.6 0.8 -2.2 -0.7 -1.2 1.5 -1.7 -0.1 -0.9 1 -0.5 1.7 -1.4 1 -1.8 1.6 0.7 1.9 -1.2 2.2 -0.3 2.5 -2.4 0.6 -0.1 2.5 -1.3 1.7 -0.3 1.9 -0.8 1.1 -1.1 1 -2.7 0.1 -0.9 1.3 -0.5 1 -0.1 1.7 -1.2 1.5 0.5 1.6 -1.7 1.3 -0.2 1.8 -1.1 1.6 0.2 2.3 -1 1.7 0.7 2.7 1.6 1 -0.5 1.6 1.6 1.8 -0.6 1.3 -0.2 2.6 -1.2 1.6 -1.6 0.6 -1.2 0.4 -1 1.7 -2.3 0.6 -1.4 -0.1 -1 -1.3 -0.9 -1.5 -1.9 -1.8 -0.3 -1.3 -2.1 -0.4 -0.4 -2 -2.1 -0.5 -1.6 -1.4 -2.4 -0.6 -0.9 1 -2.4 0.1 -1.4 1.1 -1.8 -0.7 -1.4 1 -2 0.3 -2.3 0.2 -0.1 -1.7 1.1 -1.6 0.2 -1.6 1.4 -2.2 -0.7 -1.8 -0.9 -1.2 -0.5 -1.2 -1.1 -1.4 -2.2 -1.3 -0.9 -1.5 -0.3 -1.7 -1.2 -1.6 0.5 -1.4 -0.5 -1.7 0.7 -1.4 -2.1 -1.9 0.5 -1.6 -1.1 -2.1 1.5 -1.6 -1 -1.5 0.2 -2.3 -0.1 -1.3 -1.7 -1.6 0.5 -2.2 -0.6 -1.5 -0.9 -1 -0.7 -1.9 -0.9 -1 -0.8 -1.7 -0.5 -2.2 1 -1.6 -1.4 -1.9 0.4 -1.8 0.7 -1.5 -0.7 -2.1 1 -2 -1.4 -1.2 0.5 -2.3 -1 -1.2 -0.9 -1.4 1.2 -2.6 -1 -1.6 1.1 -1.5 -1.5 -1.8 1.3 -1.5 -0.7 -2.5 0.2 -1.7z"/>
<path fill="#fff" stroke="#fff" d="M1478.6 338l1.1 1.3 2.5 -0.7 1.7 1.5 1.4 0.3 1.4 1.1 1.9 0 2.3 -0.5 1 1.4 2.3 -0.4 1.6 0 2.4 -0.8 1.6 0.3 2 -0.1 2 1.1 1.7 -0.5 1.2 1 2.3 0.1 1.1 0.8 0.5 2.4 2.4 -0.4 0.4 2.2 1.7 1.5 -0.9 2.6 1.1 1.5 -0.5 1.5 1.6 1.5 -0.6 1.6 0.9 2 -0.5 2.3 1.1 1.9 -0.3 1.8 0.6 1.9 -1.5 -0.7 -1.6 1.6 -1.8 -1.8 -1.6 0.5 -1.9 0.7 -2 -1.5 -1.9 1.3 -1.7 -0.5 -1.7 -1 -2.7 1.4 -1.3 -1.4 -1.1 -2 -1.7 0.2 -2.3 0.9 -0.1 2.6 -0.9 1.6 -0.2 2 -1.2 1.3 -1 1 -1.8 0 -2.1 -0.8 -1.6 -0.7 -1.7 0 -1.7 -0.8 -1.3 0.4 -1.5 -1 -1.8 -0.9 -0.1 -1.5 0.6 -1.3 0.7 -2.5 1.6 -1.3 -0.1 -2.6 1.5 -1.1 -1.9 -0.5 -1.6 0.1 -1.3 1.5 -1.8 0.3 -1.3 0.6 -1.4 1.7 -1.9 0 -2 0.2 -0.4 2.7 -2.3 0.4 -1.7 -0.3 -1.8 0.9 -1.2 -0.6 -1.2 -1.8 -1.6 -0.5 1.2 -1.5 0.1 -1.7 0.5 -1 0.9 -1.3 2.7 -0.1 1.1 -1 0.8 -1.1 0.3 -1.9 1.3 -1.7 0.1 -2.5 2.4 -0.6 0.3 -2.5 1.2 -2.2 -0.7 -1.9 1.8 -1.6 1.4 -1 0.5 -1.7 0.9 -1 1.7 0.1 1.2 -1.5z"/>
<path fill="#fff" stroke="#fff" d="M1456.7 365l1.6 0.5 1.2 1.8 1.2 0.6 1.8 -0.9 1.7 0.3 2.3 -0.4 0.4 -2.7 2 -0.2 1.9 0 1.4 -1.7 1.3 -0.6 1.8 -0.3 1.3 -1.5 1.6 -0.1 1.9 0.5 -1.5 1.1 0.1 2.6 -1.6 1.3 -0.7 2.5 -0.6 1.3 0.1 1.5 1.8 0.9 1.5 1 1.3 -0.4 1.7 0.8 1.7 0 1.6 0.7 2.1 0.8 1.8 0 1 -1 1.2 -1.3 0.2 -2 0.9 -1.6 0.1 -2.6 2.3 -0.9 1.7 -0.2 1.1 2 1.3 1.4 2.7 -1.4 1.7 1 1.7 0.5 1.9 -1.3 2 1.5 1.9 -0.7 1.6 -0.5 1.8 1.8 1.6 -1.6 1.5 0.7 1.6 1 -0.3 3 1.1 1.2 -0.4 2.4 1.7 1 0.1 2.2 -0.8 2.2 1.9 1.7 -1.1 1.8 -0.9 -1.1 -1.9 0.1 -1.6 0.6 -2.2 -1 -1.3 1.1 -1.7 -1.3 -1.7 1.6 -1.5 1.6 -2 0.3 -1.1 0.9 -2.3 0.9 -2.1 -0.4 -1.3 1.4 -2.3 0.6 -1.1 0.6 -2.2 0.6 -1.6 0.7 -0.5 1.5 -1.7 0.7 -1.4 0 -0.5 2.2 -1.8 0.6 -1.3 1 -2.5 0.4 -0.1 -1.8 -1.7 -0.6 -1.3 -1.9 -1.1 -0.9 0.5 -1.9 1.3 -1.9 0.6 -1.8 2 -1.8 -0.2 -2 -1.1 -0.9 -0.7 -0.9 -2.4 -0.7 -1.4 0.7 -2.2 0.5 -1.6 1.3 -0.8 1.4 -1.9 0.5 -1 0.9 -2.2 0.9 -1.6 1.5 -1.9 -0.2 -1.8 1.6 -1.6 -0.3 -2.2 -0.6 -1.6 -0.6 -2.1 -0.9 1.2 -1.6 0.2 -2.6 0.6 -1.3 -1.6 -1.8 0.5 -1.6 -1.6 -1 -0.7 -2.7 1 -1.7 -0.2 -2.3 1.1 -1.6 0.2 -1.8 1.7 -1.3z"/>
<path fill="#fff" stroke="#fff" d="M1422.4 383.3l2.3 -0.2 2 -0.3 1.4 -1 1.8 0.7 1.4 -1.1 2.4 -0.1 0.9 -1 2.4 0.6 1.6 1.4 2.1 0.5 0.4 2 2.1 0.4 0.3 1.3 1.9 1.8 0.9 1.5 1 1.3 1.4 0.1 2.3 -0.6 1 -1.7 1.2 -0.4 1.6 -0.6 2.1 0.9 1.6 0.6 2.2 0.6 1.6 0.3 1.8 -1.6 1.9 0.2 1.6 -1.5 2.2 -0.9 1 -0.9 1.9 -0.5 0.8 -1.4 1.6 -1.3 2.2 -0.5 1.4 -0.7 2.4 0.7 0.7 0.9 1.1 0.9 0.2 2 -2 1.8 -0.6 1.8 -1.3 1.9 -0.5 1.9 1.1 0.9 1.3 1.9 1.7 0.6 0.1 1.8 2.5 -0.4 1.3 -1 1.8 -0.6 0.5 -2.2 1.4 0 1.7 -0.7 0.5 -1.5 1.6 -0.7 2.2 -0.6 1.1 -0.6 2.3 -0.6 1.3 -1.4 2.1 0.4 2.3 -0.9 1.1 -0.9 2 -0.3 1.5 -1.6 1.7 -1.6 1.7 1.3 1.3 -1.1 2.2 1 1.6 -0.6 1.9 -0.1 0.9 1.1 0.5 1.5 -1 2.3 0.3 1.6 -0.3 2.1 -0.4 2.3 -1 1.4 1.1 1.9 -1.1 1.9 -1 1.1 0.3 2.1 -1.4 1.8 -0.2 1.5 -1.4 1.5 -0.5 1.8 -1.7 -0.7 -1.6 0.3 -2.1 0.4 -1.6 -1.4 -2.2 0.6 -1.5 0 -2 0.8 -1.2 1.2 -1.9 -0.6 -1.6 1.8 -1.7 0.1 -0.2 2.2 -1.8 1 -1.6 0.4 -1.1 1.2 -2 0.7 -1.8 1.1 -1.1 -1.3 -1.8 1.1 -1.8 -0.2 -1.9 -1.6 -1.3 -1.1 -1.3 -0.1 -1.2 -1.6 -1.5 -1.2 -2.3 -1.2 -1.6 -0.9 -2.1 -1 -1.8 1 0 2.2 -2 1.1 0 2.1 -1.1 0.9 -0.5 2.3 -1.4 -2.2 -1.2 -1.3 0.2 -2.2 -1.6 -1.5 -1.6 -1.5 -1.2 -1.3 -1.3 0.5 -1.5 -1 -1.6 -1.2 -1.5 1.2 -1.6 -1.4 -1.8 -0.3 -2 -1.1 -2.4 -0.5 -1.3 -1.9 -1.8 -0.8 -1 1.3 -2.3 0.4 -0.5 1.9 -1.5 0.8 -0.7 1.6 -1.6 1.4 -1 1.8 -2 -0.6 -0.7 1.6 -1.2 1.3 -1.6 1.5 -1.8 0.4 -0.6 2.4 -1.9 1.1 -0.9 1.3 -2.4 -0.9 -1 -2.3 0.6 -2 -1.1 -1.5 -1.3 -2.2 -0.6 -1.3 -1.7 -0.9 -0.5 -1.6 -1.5 -0.9 -2.2 -1 0.6 -1 1.7 -0.8 0.9 -1.4 1.5 -1 0.9 -0.9 1.9 -1 0.4 -2.1 1.4 -1.1 0.9 -1.8 0 -1.9 0.5 -2 0.5 -2.4 -1.6 -1.6 0.7 -1.6 1.4 -0.8z"/>
<path fill="#fff" stroke="#fff" d="M1464.4 419.1l0.5 -2.3 1.1 -0.9 0 -2.1 2 -1.1 0 -2.2 1.8 -1 2.1 1 1.6 0.9 2.3 1.2 1.5 1.2 1.2 1.6 1.3 0.1 1.3 1.1 1.9 1.6 1.8 0.2 1.8 -1.1 1.1 1.3 1.8 -1.1 2 -0.7 1.1 -1.2 1.6 -0.4 1.8 -1 0.2 -2.2 1.7 -0.1 1.6 -1.8 1.9 0.6 1.2 -1.2 2 -0.8 1.5 0 2.2 -0.6 1.6 1.4 2.1 -0.4 1.6 -0.3 1.7 0.7 -1.1 1.2 -0.2 2.1 -1.2 1.7 -0.8 2.1 -1 1.4 -1.8 1.3 -0.4 1.4 -1.5 1.5 -1.6 0.6 -0.6 2.5 -1.3 0.8 -1.2 1.7 -1.3 1.6 -1 0.7 -1 1.8 -1.4 1.5 -0.7 1.9 -2.3 0.8 -0.7 2 -1.8 0.2 -1.1 -2.6 -1.8 0.1 -1.4 -0.5 -1.7 -2.3 -1.6 -0.5 -1.2 -1.8 -2.5 -0.3 -1 -1.6 -1.8 0.1 -1.1 -2.1 -1.8 -0.9 -1.9 -0.7 -0.7 -1.2 -2.1 -0.9 -1.6 -0.1 -1.2 -1.8 -1.9 -1z"/>
<path fill="#fff" stroke="#fff" d="M1464.4 419.1l1.6 1.1 1.9 1 1.2 1.8 1.6 0.1 2.1 0.9 0.7 1.2 1.9 0.7 1.8 0.9 1.1 2.1 1.8 -0.1 1 1.6 2.5 0.3 1.2 1.8 1.6 0.5 1.7 2.3 1.4 0.5 1.8 -0.1 1.1 2.6 1.8 -0.2 -0.9 1.5 -2.1 0.7 -1.7 1.6 -2 0.7 -0.2 2.2 -1.6 0.1 -0.9 1.7 -0.6 1.8 -2.6 1.3 -0.5 1.6 -1.8 0.8 0.5 1.7 -1.6 1.2 -1.6 1.6 -2.1 0.8 -2 -0.7 -1.8 0.2 -0.9 -1 -2.1 -0.4 -0.7 -1.4 -0.5 -2 -0.9 -1.8 -1.6 -0.5 -0.8 -2.3 -0.3 -1.7 -1.1 -2 1.9 -0.5 1.4 -0.9 1.7 -0.3 1.6 -0.7 -0.4 -2.1 1.3 -2.1 1 -1.7 -1.2 -1.6 1.2 -1.4 -2.1 -1.4 -0.3 -2.3 -0.2 -1.8 -0.7 -2 -0.1 -1.8 -1.4 -1.1 0.2 -1.4z"/>
<path fill="#4e86bd" stroke="#4e86bd" d="M1331.3 434.1l1.4 -1.2 2.2 -0.1 0.1 1.6 1.6 1.7 1.4 1.4 -0.8 2.3 1.4 1.8 1.7 1 1.5 0.2 1.5 1.9 1.6 0.6 1.3 -0.8 2.2 0.9 1.2 -2 1.6 0.2 1 -1.7 2.4 0.3 0.9 -2.4 2.3 0.7 0.9 -1.4 0.9 -1.7 2.3 -0.6 0.2 -1.4 1.6 -1.3 0.9 -2 -0.4 -2.5 2.1 -1.4 -0.1 -1.6 0.6 -1.9 -0.3 -1.9 0.9 -1.2 2 -0.7 1 -2 2 -1.1 1.8 0.2 1.1 0.6 2 0 1.4 0.5 1.9 0.2 1.2 0.4 1.9 0.2 1.2 0.4 1.9 -1.1 1.4 -0.5 0.8 -1.3 2.2 -0.3 1.6 0.5 1.2 -1 1.7 0 1.6 -1.2 2.1 -0.7 1 -1.9 1.9 -0.9 0.9 -1.6 1.7 -0.3 1.1 -1.9 1.4 -1.7 2.4 -0.2 2.2 1 1.5 0.9 0.5 1.6 1.7 0.9 0.6 1.3 1.3 2.2 1.1 1.5 -0.6 2 1 2.3 2.4 0.9 0.9 -1.3 1.9 -1.1 0.6 -2.4 1.8 -0.4 1.6 -1.5 1.2 -1.3 0.7 -1.6 2 0.6 1 -1.8 1.6 -1.4 0.7 -1.6 1.5 -0.8 0.5 -1.9 2.3 -0.4 1 -1.3 1.8 0.8 1.3 1.9 2.4 0.5 2 1.1 1.8 0.3 1.6 1.4 1.5 -1.2 1.6 1.2 1.5 1 1.3 -0.5 1.2 1.3 1.6 1.5 1.6 1.5 -0.2 2.2 1.2 1.3 1.4 2.2 1.3 1.6 -0.2 1.4 1.4 1.1 0.1 1.8 0.7 2 0.2 1.8 0.3 2.3 2.1 1.4 -1.2 1.4 1.2 1.6 -1 1.7 -1.3 2.1 0.4 2.1 -1.6 0.7 -1.7 0.3 -1.4 0.9 -1.9 0.5 1.1 2 0.3 1.7 0.8 2.3 1.6 0.5 0.9 1.8 0.5 2 0.7 1.4 2.1 0.4 0.9 1 1.8 -0.2 2 0.7 2.1 -0.8 -1.2 1.3 -0.1 1.9 -1.9 1.8 0.2 2 -1.1 1.7 -0.5 1.5 -1.8 1 0.7 2 -1.9 1.6 -0.3 1.4 -2 1.2 0.3 2.3 -2.8 0.9 -0.5 1.9 -1.6 1.2 -1.4 2 -2.1 0.5 -1.1 1.3 -2 0.5 -1.5 1.7 -1.6 0.1 -1.2 1.5 -0.3 1.7 0.4 1.6 -2 2.2 1.3 1.2 -0.6 2 0.8 1.3 -0.9 1.7 0.6 1.7 -0.9 2 1 1.6 -0.6 1.7 -0.9 1.5 1 1.5 -0.8 2 0.4 1.9 -1.2 1.2 0.2 1.9 0 2 0.4 1.3 -1.1 1.5 1.2 1.5 -0.9 1.9 0.9 1.8 -0.3 1.9 1.6 1.7 -1.5 1.3 1.2 1.4 -1.3 2.1 1.1 1.6 0.2 1.5 -0.4 1.9 1.8 1.4 -1 2.3 0.8 1.4 -0.2 1.5 0.5 1.9 -1 1.3 0.9 1.9 -2 1.6 1.3 1.6 -0.9 1.8 -0.9 1.9 0.2 1.7 -1.6 1.1 -0.1 1.9 -1.5 1.7 0.2 1.5 -1.1 2.2 -2.1 0.3 -0.1 2.2 -1.7 1.6 -1 2.5 -2 0.8 -0.8 1.7 -1.9 -1.8 -1.8 0.5 -1.1 -1.8 -1.9 0 -0.8 -2.5 -1.2 -0.7 -1.8 -0.4 -0.8 -2.1 -0.2 -2.3 -1.9 -1.2 0.2 -2.7 -1.1 -1.3 0.8 -1.1 1.8 -0.7 -0.1 -2.4 2.1 -0.8 -0.3 -1.6 1.7 -1.7 -1 -2.3 2.4 -1.3 -0.6 -1.7 1.3 -1.2 1.1 -2.2 1.3 -1.6 -0.3 -2 -1.2 -0.9 0.3 -2.1 -2.1 -0.5 -0.8 -1.3 -2.4 -0.2 -1 -1.8 -2.3 -0.1 -1.4 -1.7 -2.2 0.3 -1.6 -1 -1.5 -0.8 -2.1 0.5 -1 -1 -2 0.8 -2 -0.9 -1.4 0.2 -1.6 -1.2 -0.2 -2.2 -2.2 -0.6 -1 -2.3 -1.4 -0.9 -2.3 0 -1.4 -1.8 -2.4 0.2 -1.6 -0.3 -1.4 -1.5 -2.5 1.6 -1.3 -2 -2 0.9 -1.2 -1.2 -1.6 -1 -2.2 -0.1 -0.6 -1.4 -2.3 0.4 -1.3 -1.9 -2 0.3 -1.7 -0.7 -1.8 -0.1 -1.8 -1.1 -1.1 0.5 -2.3 -0.9 -1.3 -0.2 -0.3 -2.2 -1.7 -1.5 -0.5 -1.3 -1.7 0.4 -1.5 -1.7 -2.2 0.1 -2.1 -0.6 -2.2 0.1 -0.9 2.1 -2 -0.3 -1.6 1.9 -1.9 -0.3 -1.4 0.8 -1.6 0.8 -0.7 1.2 -2.5 0.3 -1.1 1.8 -1.9 -0.1 -0.6 2.2 -1.7 0 -1.1 1.1 -2.2 0.5 -1.7 1.7 -1.4 -0.5 -2.1 1.8 -1.5 0.4 0.3 -1.8 0.5 -2 -0.7 -2.2 1.2 -1.5 -0.4 -1.9 0 -1.7 -0.6 -1.5 -0.3 -2.4 -1.1 -1.3 0.5 -2.6 -1 -2 -0.4 -1.6 0.6 -1.8 -1.2 -2.3 0.4 -2 -0.3 -1.4 0.2 -1.4 -0.9 -1.7 1.1 -1.8 -1.6 -2.1 0.7 -1.7 -0.4 -2 0.3 -2.4 -0.6 -1.9 -0.6 -1.2 1 -1.9 -1.8 -1.8 0.6 -1.4 -1.3 -2.3 0.8 -1.4 0.7 -2 -0.3 -2.3 1.5 -1 -0.6 -2.2 -0.2 -1.7 -1.8 -1.3 -0.3 -1.8 -1.3 -0.9 -0.2 -1.8 1.2 -1.8 -0.1 -1.6 1.4 -1.6 1.8 -1.4 0.6 -2.3 2 -1.1 0.6 -1.5 1.2 -2.2 1.4 -0.8 0.8 -1.6z"/>
<path fill="#3e73b0" stroke="#3e73b0" d="M1254.1 425.3l0.5 -1.7 1.2 -1.2 -0.5 -2.8 2 -1.4 0 -1.7 0.9 -1.7 1.9 -1.4 0 -1.4 1.4 -1.8 1.2 -1.8 2.5 0.1 1 -1.4 1.1 -0.9 -0.2 -2.8 1.2 -1 1.1 -1.5 0.6 -2.7 1.4 -1 -0.6 -1.6 1.4 -1.4 -0.6 -2 1.1 -1.8 -1.2 -1.3 -1.1 -1.6 -0.8 -0.6 -1.3 -1.7 0.8 -1.7 1.2 -1 0.2 -1.4 1.4 -1.1 -0.3 -1.5 -0.1 -1.5 0 -1.8 1.7 -1.6 2.1 -0.5 0.9 -2.6 1.8 0 1.2 -1.4 2.5 -0.8 0.7 -1.7 2.1 -0.6 1.3 -1.1 -0.7 -2.3 2.5 -0.9 -0.4 -1.9 0.7 -1.4 -0.2 -2.3 2.1 -1.9 -0.2 -1.7 -1.4 -0.6 -0.7 -1.9 -2 0.4 -1 -1.8 -1.7 -0.4 -2.2 -1.6 1.8 -0.2 1.6 -1.9 1.4 1.1 1.9 -1 1.8 1.1 2.2 -0.7 1.5 1.8 1.6 -1 1.7 0.8 1.1 2.2 2.6 -0.4 1.3 2 0 1.9 0.8 1.6 -0.6 1.9 1.2 1.9 -0.1 1.5 -1 1.9 1.2 1.7 -1.9 1.5 1.3 1.7 -1.6 1 0.2 2 -0.3 1.8 -0.7 1.4 0.8 2 -1.5 1.8 0.5 1 -0.8 2 2 1.2 -0.3 2.4 2.8 0.4 0.5 2.3 0.2 1.5 2.5 0.9 -0.3 2.9 2.5 0.5 0.1 1.7 1.7 -0.4 1.6 1.2 1.3 -0.8 1.7 1.2 1.8 0.6 0.6 2.3 0.8 0.9 -0.6 2.1 -0.7 1 -0.7 1.9 -0.7 1.4 -2.3 1.7 -0.7 1.9 0.3 1.4 -1 1.8 0.4 1.6 -1 1.5 1.6 1.7 -0.1 2.1 1.7 0.3 0.6 2.1 0.7 1.3 1.8 1.2 0.2 2.4 1 1.4 -0.1 2.1 1.9 1.1 0.7 1.8 1.5 1.4 1.5 -1 2 0.8 1.2 0.8 2.8 -0.6 1.2 1.1 -1.8 1.6 -0.8 1.6 -1.4 0.8 -1.2 2.2 -0.6 1.5 -2 1.1 -0.6 2.3 -1.8 1.4 -1.4 1.6 0.1 1.6 -1.2 1.8 0.2 1.8 1.3 0.9 0.3 1.8 1.8 1.3 0.2 1.7 0.6 2.2 -1.5 1 0.3 2.3 -0.7 2 -0.8 1.4 1.3 2.3 -0.6 1.4 1.8 1.8 -1 1.9 0.6 1.2 0.6 1.9 -0.3 2.4 0.4 2 -1.7 -0.2 -1.5 0.2 -1.4 0.5 -2.2 -0.3 -0.9 0.7 -1.8 0.3 -1.2 0.6 -2.3 -0.4 -0.9 1.8 -1.8 0 -1.6 -0.9 -2.7 1.4 -2 -0.5 -0.7 2.6 -1.8 0.4 -1.6 -0.2 -1.3 -0.8 -2.1 -0.2 -1.5 -1.5 -2 0.8 -1.5 -1.8 -1.5 0.5 -1.2 1.5 -1.1 0.5 -1.6 -1.4 0 -1.6 -2.1 -0.8 -0.9 -1.9 -1.4 -0.2 -1.2 -1.5 -1.5 -1.4 -1.4 1.2 -2.4 0.1 -1.9 0.5 -0.2 2.6 -1.9 0.5 -1 2.1 -2.2 -0.2 -0.6 -2.2 -1.9 0.7 -1.5 -1.5 -1.9 -0.6 -0.8 -1.5 -2.5 0.7 -1.1 -1.1 -0.1 -1.7 -1.1 -1.2 0.1 -2.1 -1.4 -1.3 -1 2.1 -1.8 1.2 -0.9 1.7 -0.3 -1.4 -0.8 -1.7 -0.2 -1.9 0.3 -1.9 -0.9 -1.1 1.1 -2.2 -1.7 -1.4 1.2 -2 -0.7 -1.4 -0.5 -2.1 0.4 -1.4 -0.3 -1.8 0.2 -1.3 -1.1 -1.7 0.8 -1.7 0.4 -1.6 -0.5 -2.3 1.7 -1.1 -0.4 -2.2 1.2 -1.2 0.1 -1.6 0.6 -1.8 -0.5 -2 1.5 -1.6 -1 -1.5 1.6 -1.2 0.3 -1.9 0.2 -1.8 1.4 -1.9 -0.1 -2.2 1 -1.3z"/>
<path fill="#6c9fcb" stroke="#6c9fcb" d="M1057.4 407.8l55.1 0 0 -1.4 0.9 -2.5 -0.6 -1.6 0.9 -2.2 -0.7 -1.7 0.7 -1.9 2.5 -15 0.7 2.2 1.7 1.2 0.1 1.8 1.4 1.2 -0.4 2.3 1.5 1.3 1.6 1.4 -0.7 2.9 1.8 0.7 0.1 2.4 1.7 0.9 0 2.2 0.7 1.5 0.3 1.7 1.3 0.9 0.3 1.6 0.9 1.9 1.8 0.4 1.2 2.2 1.2 0.7 1.6 1.7 1.1 0.7 1.7 0.1 1.7 1.4 1.7 0.3 112.9 8.2 -0.5 1.6 -1 1.3 0.1 2.2 -1.4 1.9 -0.2 1.8 -0.3 1.9 -1.6 1.2 1 1.5 -1.5 1.6 0.5 2 -0.6 1.8 -0.1 1.6 -1.2 1.2 0.4 2.2 -1.7 1.1 0.5 2.3 -0.4 1.6 -0.8 1.7 1.1 1.7 -0.2 1.3 0.3 1.8 -0.4 1.4 0.5 2.1 0.7 1.4 -1.2 2 1.7 1.4 -1.1 2.2 0.9 1.1 -0.3 1.9 0.2 1.9 0.8 1.7 0.3 1.4 0.4 2.1 -1.3 1.4 1.1 1.5 -1.3 1.8 0.5 1.5 -0.7 1.7 0.1 2.1 -1.6 0.9 1 1.8 -1.7 1.6 1 2.1 -1.3 1.5 -0.6 1.2 -0.2 2.6 -1.8 1.1 0.6 2.2 -2.1 1 0.4 1.9 -1.7 1.5 0.6 2 -1.5 0.9 0 1.8 -1.2 1.3 -1.2 2.2 -2.1 -0.2 -1 2.3 -1.9 0.7 -1.7 1.3 0.3 1.7 -2.1 1.5 -0.4 2 -1.1 1 -1 1.4 -0.4 2.3 -2 0.6 -0.5 2.3 -1.2 0.9 -0.9 1.5 -1.8 0.2 -1.8 2.1 -1.3 -0.1 -1.7 1.3 -1.3 1.4 0.1 2.1 -1.6 0.3 0.1 2.2 -1 1.5 -1.3 1.6 -0.1 1.4 -1.3 1.5 -0.1 1.3 -1 1.8 -0.8 1.2 0.1 2.3 -1.4 1.4 0.4 1.9 -2.2 1.2 0.2 1.8 1.2 1.6 -0.7 1.9 1.6 1.4 -0.8 1.4 -1.7 0.8 -2.5 -0.9 -2.1 0.1 -1.6 -0.9 -1.5 0.9 -1.3 -1.7 -1.8 0.4 0.1 -1.9 2.1 0.2 0.3 -2 0.5 -1.7 -0.6 -1.6 0.6 -1.7 -1.1 -1.3 -0.7 -1.2 -1.1 1.4 -2.2 0.1 -1.7 1 -1.8 1.1 -1.6 -0.8 -1.2 2.2 -2.5 -0.7 -1.6 1.4 -1.6 0.6 -2.2 -1.9 -1.6 1.2 -2.1 -0.6 -2.2 -0.6 -2.1 0.7 -1.2 -1.3 -2.1 -0.1 -1.7 -0.6 -1.8 -1.2 -2.1 0.5 -1.9 -1.2 -1.7 -0.7 -1.4 -1.4 -1.9 -0.4 -1.2 0.6 -2 -0.7 -1.5 2 -1.5 -0.6 -2 0 -0.5 1.6 -2.2 -0.1 -0.8 2.4 -2 -0.2 -1.8 0.5 -0.7 2.2 -3.1 0.6 -0.7 1.7 -1.6 0.5 -1.9 0 -1.7 0.8 -0.6 -1.7 -1.8 -0.3 -0.9 -1.6 -0.9 -1.4 -2 -1.2 -0.4 -1.1 -1.7 -1.3 -1.4 -1 0.4 -2.4 -2.1 -1.1 0.2 -2 -0.9 -1.1 -1.1 -1.6 0.8 -2.1 -1.4 -2.2 0.5 -1.6 -0.1 -1.4 -1.4 -1.9 -0.3 -1.2 -14.5 -0.5 -14.3 -0.5 0.1 -1.8 -0.6 -1.6 0.3 -2 -0.5 -1.6 0.2 -2 -1.9 -1.7 0 -2.4 -0.8 -1.4 -0.7 -1.9 -1.4 -1.1 0.1 -1.2 -1.8 -1.3 1.5 -0.6 1.8 0.6 1.7 -0.7 0.5 -1.5 -1.6 -2.2 0.9 -1.6 -1.3 -1.4 0.3 -2.1 -0.7 -1.6 0.2 -2.4 -1.2 -1 0.4 -2.5 -0.4 -1.7 -1.2 -2 0.9 -2.1 -1.7 -1.4 -0.1 -1.5 1.2 -2 -0.1 -1.4 1.4 -1.6 2.4 -1.5 -0.6 -2.4 2 -1.1 -0.1 -2 1.3 -0.7 0.5 -2.2 0.8 -1.4 1.2 -1.4 1 -2.1 1.6 -0.4 0.7 -2.4 -0.4 -1.4 -0.9 -1.9 0.2 -1.1 -0.9 -1.8 -1.2 -1.8 0.5 -1.9 -1.1 -1.9 -0.2 -1.9 0 -1.7 0.9 -2.1 -1.4 -2.7 1.2 -1.5 -2.1 0.1 -1.1 -1.8 -1.1 0.4 -1.9 -0.7 -1.9 0.1 -1.9 -2.2 -2 1.5 -1.7 -1.4 -1.5 -1.3 -2.5 1.3 -1.8 -0.9 -1.8 0.4 -1.5 -1.1 -2.2 0.5 -1.7 -0.7 0.4 -1.7 -1 -2.4 1.3 -1.4 -1.1 -1.8 0.7 -1.9 -0.3 -2 -0.8 -1.3 0.8 -2.1 -0.4 -1.8 0.3 -1.7 -1.3 -1.7 0.6 -1.4 0 -1.8 1.1 -1.7 -0.7 -2.2 0.4 -1.8 0.7 -2.2 -1.5 -1.6 1.1 -1.7 -1.6 -1.1z"/>
<path fill="#83add3" stroke="#83add3" d="M1248.6 479.1l0.9 -1.7 1.8 -1.2 1 -2.1 1.4 1.3 -0.1 2.1 1.1 1.2 0.1 1.7 1.1 1.1 2.5 -0.7 0.8 1.5 1.9 0.6 1.5 1.5 1.9 -0.7 0.6 2.2 2.2 0.2 1 -2.1 1.9 -0.5 0.2 -2.6 1.9 -0.5 2.4 -0.1 1.4 -1.2 1.5 1.4 1.2 1.5 1.4 0.2 0.9 1.9 2.1 0.8 0 1.6 1.6 1.4 1.1 -0.5 1.2 -1.5 1.5 -0.5 1.5 1.8 2 -0.8 1.5 1.5 2.1 0.2 1.3 0.8 1.6 0.2 1.8 -0.4 0.7 -2.6 2 0.5 2.7 -1.4 1.6 0.9 1.8 0 0.9 -1.8 2.3 0.4 1.2 -0.6 1.8 -0.3 0.9 -0.7 2.2 0.3 1.4 -0.5 1.5 -0.2 1.7 0.2 -0.7 1.7 1.6 2.1 -1.1 1.8 0.9 1.7 -0.2 1.4 0.3 1.4 -0.4 2 1.2 2.3 -0.6 1.8 0.4 1.6 1 2 -0.5 2.6 1.1 1.3 0.3 2.4 0.6 1.5 0 1.7 0.4 1.9 -1.2 1.5 0.7 2.2 -0.5 2 -0.3 1.8 -1.6 -1.4 -0.6 -2.3 -1.5 -0.8 -1.3 0.6 -1.9 0.4 -1.8 1 -1.1 1.7 -1.9 -0.6 -0.8 1.4 -1.4 1.5 0.7 2.2 -1.7 0.7 -0.1 1.9 -0.2 1.9 -1.1 1.2 1 2 -0.9 1.1 -1.6 1.4 -2.5 -0.1 -0.9 1.2 -1.7 1.3 0.5 2 -1.3 1.7 0.4 2.3 -0.2 1.3 0.8 2.3 0.2 1.6 0 2 2.1 1.9 -0.7 1.5 1.1 2.2 -1.6 1.8 0.8 2.2 -1.5 1.3 -0.2 2.2 -0.7 1.9 1.5 1.4 -0.5 1.3 0.6 1.5 0.1 1.7 0.3 2 -1.6 1.4 -0.9 2.2 -1.2 1.4 -2.1 -0.6 -1 1.6 -1.7 -1.2 -1.6 1.5 -1.9 -0.4 -1.7 0.4 -1.6 -0.6 -2.1 0.3 -1.7 -0.4 -1.2 0 -2 -0.7 -1.5 0.1 -1.3 0 -1.9 0.8 -1.2 -0.2 -1.8 0.7 -1.3 0.6 -1.9 0.1 -1.5 1.3 -2.2 -0.2 -1.9 0.7 -1.3 0.2 -2 0.6 -2 -0.4 -1.3 1.4 -1.7 -0.7 -1.7 1.4 -1.1 1.4 -2.2 -0.2 -1.2 1.7 -1.7 0.8 -1 2.2 -2 0.4 -1 1.4 -1 1 -1.8 1 -0.3 2.4 -1.7 0.4 -1.1 -1.1 -2.5 -0.2 -1.4 -1.2 -1.6 -1.6 -2.5 0.7 -0.5 -2 -2.8 0.7 -1.4 -1.6 -1.5 -1.3 -1.9 -0.1 -2 -1.5 -1.6 0.6 -1.7 -1.4 -2.6 0 -0.7 -1.9 -2.1 -0.1 -1.4 -1.4 -2 -0.4 -0.3 -1.6 -2.5 0 -1.1 -2.5 -1.1 -0.9 -0.6 -1.8 1 -1.4 -2.1 -1.1 0.5 -1.9 0.8 -1.4 -1.6 -1.4 0.7 -1.9 -1.2 -1.6 -0.2 -1.8 2.2 -1.2 -0.4 -1.9 1.4 -1.4 -0.1 -2.3 0.8 -1.2 1 -1.8 0.1 -1.3 1.3 -1.5 0.1 -1.4 1.3 -1.6 1 -1.5 -0.1 -2.2 1.6 -0.3 -0.1 -2.1 1.3 -1.4 1.7 -1.3 1.3 0.1 1.8 -2.1 1.8 -0.2 0.9 -1.5 1.2 -0.9 0.5 -2.3 2 -0.6 0.4 -2.3 1 -1.4 1.1 -1 0.4 -2 2.1 -1.5 -0.3 -1.7 1.7 -1.3 1.9 -0.7 1 -2.3 2.1 0.2 1.2 -2.2 1.2 -1.3 0 -1.8 1.5 -0.9 -0.6 -2 1.7 -1.5 -0.4 -1.9 2.1 -1 -0.6 -2.2 1.8 -1.1 0.2 -2.6 0.6 -1.2 1.3 -1.5 -1 -2.1 1.7 -1.6 -1 -1.8 1.6 -0.9 -0.1 -2.1 0.7 -1.7 -0.5 -1.5 1.3 -1.8 -1.1 -1.5 1.3 -1.4z"/>
<path fill="#83add3" stroke="#83add3" d="M1326.1 521.6l1.5 -0.4 2.1 -1.8 1.4 0.5 1.7 -1.7 2.2 -0.5 1.1 -1.1 1.7 0 0.6 -2.2 1.9 0.1 1.1 -1.8 2.5 -0.3 0.7 -1.2 1.6 -0.8 1.4 -0.8 1.9 0.3 1.6 -1.9 2 0.3 0.9 -2.1 2.2 -0.1 2.1 0.6 2.2 -0.1 1.5 1.7 1.7 -0.4 0.5 1.3 1.7 1.5 0.3 2.2 1.3 0.2 2.3 0.9 1.1 -0.5 1.8 1.1 1.8 0.1 1.7 0.7 2 -0.3 1.3 1.9 2.3 -0.4 0.6 1.4 2.2 0.1 1.6 1 1.2 1.2 2 -0.9 1.3 2 2.5 -1.6 1.4 1.5 1.6 0.3 2.4 -0.2 1.4 1.8 2.3 0 1.4 0.9 1 2.3 2.2 0.6 0.2 2.2 1.6 1.2 1.4 -0.2 2 0.9 2 -0.8 1 1 2.1 -0.5 1.5 0.8 1.6 1 2.2 -0.3 1.4 1.7 2.3 0.1 1 1.8 2.4 0.2 0.8 1.3 2.1 0.5 -0.3 2.1 1.2 0.9 0.3 2 -1.3 1.6 -1.1 2.2 -1.3 1.2 0.6 1.7 -2.4 1.3 1 2.3 -1.7 1.7 0.3 1.6 -2.1 0.8 0.1 2.4 -1.8 0.7 -0.8 1.1 1.1 1.3 -0.2 2.7 1.9 1.2 0.2 2.3 0.8 2.1 1.8 0.4 -1.9 -0.1 -1 1.3 -2.1 0.1 -2.1 1.4 -2.3 -1 -0.8 2 -2.4 0.1 -1.1 0.8 -0.6 1.5 -1.3 1.4 0.3 1.6 1.3 1.2 -1 2.2 1.2 1.3 -1 2.2 0.7 1.8 -2.1 1.4 -0.1 2.1 0.7 2.2 -1.7 1.5 1.1 1.9 -1.4 1.9 0 1.8 -1.4 1.1 -0.4 1.9 -0.7 1.4 -1.6 1 -0.5 1.5 -1.9 0.4 -1 2.1 0.1 2.5 -1.7 1 0.2 2.4 -1.1 1.7 -1.4 2 -1.5 0.9 -1.4 1.2 -1.1 1.9 -1.4 1.4 -1 2.1 0.1 2.1 -0.2 2 -0.6 2.1 -1.5 1.6 -0.2 2.2 -1.7 1 -1.7 0.1 -1.6 1 -1.8 0.4 -0.2 1.9 -2.1 0.2 -1.6 -0.1 -0.9 1.6 -1.7 0.6 -1.2 -1.2 -2.1 -0.1 -1.7 -0.1 -2.1 0.9 -1.5 -0.8 -1.4 1.3 -2.2 -0.4 -1.3 1.4 -1.3 -0.3 -1.9 0.9 -1.9 0 -1 1.5 -2.1 -0.2 -1.6 0.8 -1.5 0.7 -1.9 0 -1.6 1.2 -1.7 0.3 -1.5 -0.2 -1.8 0.9 -1.6 -0.4 -2.1 1.9 -1.4 0.2 -2.6 0 -1.5 1.3 -1.9 -0.3 -1.9 0.7 -0.8 1.1 -0.4 1.8 -2.5 0.8 -1.7 0.9 -2.4 -0.9 -1.8 0.9 -0.5 -1 -0.7 -1.5 -0.6 -1.9 -1.1 -2.3 -0.8 -2.2 -1.6 -1 -0.5 -1.8 -0.8 -2.3 0.4 -1.9 -0.1 -2 2 -1 -0.3 -2 1 -2.5 0.3 -1.7 -1.4 -0.9 -1.1 -1.6 -1.8 0.6 -1.4 -0.6 -1.8 0 -0.6 -2 -1.3 -1.4 0.3 -1.7 -0.7 -1.9 -0.2 -2.1 -1.1 -1.1 0.1 -2.2 -1.3 -1.4 0 -1.9 -1.4 -1.6 0.5 -1.8 -1.5 -2.1 1.2 -1.6 -1.3 -1.7 -1.8 0.6 -1.1 -2 -2.1 0.6 -1.8 1.2 -2.2 -1.4 -0.6 1.8 -2.2 -0.2 -1.4 1.2 -1.8 -0.6 -1.8 0.9 -1.9 -0.5 -2.3 0.5 -1.4 -0.8 -2.2 2 -1.7 -0.8 -0.9 1.3 -0.4 2.5 -1.8 -0.9 -1.9 0.2 -1.3 -0.6 0 -1.4 -1.9 -1.7 0.3 -1.7 -0.9 -1.5 -1.8 0.5 -1.1 -1.1 -2.5 0.8 -0.9 -1.2 -1.7 1.6 -2 -1.1 -1.8 0 -1.3 -0.8 -2.3 0.7 -1.3 -1.1 -1.8 0.3 -1.5 -0.6 -2.3 0.2 -1.7 1.5 -1.7 -0.4 -1.8 0.7 -0.2 -1.5 0.8 -1.7 -0.8 -2.4 1.2 -1.3 -1 -1.8 1.7 -0.4 0.3 -2.4 1.8 -1 1 -1 1 -1.4 2 -0.4 1 -2.2 1.7 -0.8 1.2 -1.7 2.2 0.2 1.1 -1.4 1.7 -1.4 1.7 0.7 1.3 -1.4 2 0.4 2 -0.6 1.3 -0.2 1.9 -0.7 2.2 0.2 1.5 -1.3 1.9 -0.1 1.3 -0.6 1.8 -0.7 1.2 0.2 1.9 -0.8 1.3 0 1.5 -0.1 2 0.7 1.2 0 1.7 0.4 2.1 -0.3 1.6 0.6 1.7 -0.4 1.9 0.4 1.6 -1.5 1.7 1.2 1 -1.6 2.1 0.6 1.2 -1.4 0.9 -2.2 1.6 -1.4 -0.3 -2 -0.1 -1.7 -0.6 -1.5 0.5 -1.3 -1.5 -1.4 0.7 -1.9 0.2 -2.2 1.5 -1.3 -0.8 -2.2 1.6 -1.8 -1.1 -2.2 0.7 -1.5 -2.1 -1.9 0 -2 -0.2 -1.6 -0.8 -2.3 0.2 -1.3 -0.4 -2.3 1.3 -1.7 -0.5 -2 1.7 -1.3 0.9 -1.2 2.5 0.1 1.6 -1.4 0.9 -1.1 -1 -2 1.1 -1.2 0.2 -1.9 0.1 -1.9 1.7 -0.7 -0.7 -2.2 1.4 -1.5 0.8 -1.4 1.9 0.6 1.1 -1.7 1.8 -1 1.9 -0.4 1.3 -0.6 1.5 0.8 0.6 2.3z"/>
<path fill="#fff" stroke="#fff" d="M1428.8 571.5l1.2 0.7 0.8 2.5 1.9 0 1.1 1.8 1.8 -0.5 1.9 1.8 -0.6 1.5 0.4 1.8 -1.4 1.5 1 2 -0.6 1.9 0 1.5 -1 2.3 0.8 1.8 -1.1 1.9 -0.5 2 -1.5 0.5 0.6 2.4 -2.3 0.9 0 1.7 -1.5 1.4 0 1.9 -1 0.8 0 2.3 -1.3 1.1 -1.4 1.1 0.7 2.5 -2 0.3 -0.4 2.5 -0.6 1.2 -0.9 1.8 -1.4 0.6 0.3 2.3 -1.8 1.5 1.1 -1.3 -0.8 1 -1.8 0.8 -0.8 1.5 -1.1 1.5 0.3 1.9 -1.7 0.8 -0.8 1.7 -1.9 -0.8 -1.4 -0.1 -2.1 -0.5 -2.1 -0.3 -2.1 -0.8 -2.1 -0.9 -0.4 -1.1 -0.8 -1.4 -0.2 -2.5 -1.5 -1.2 1.4 -2 1.1 -1.7 -0.2 -2.4 1.7 -1 -0.1 -2.5 1 -2.1 1.9 -0.4 0.5 -1.5 1.6 -1 0.7 -1.4 0.4 -1.9 1.4 -1.1 0 -1.8 1.4 -1.9 -1.1 -1.9 1.7 -1.5 -0.7 -2.2 0.1 -2.1 2.1 -1.4 -0.7 -1.8 1 -2.2 -1.2 -1.3 1 -2.2 -1.3 -1.2 -0.3 -1.6 1.3 -1.4 0.6 -1.5 1.1 -0.8 2.4 -0.1 0.8 -2 2.3 1 2.1 -1.4 2.1 -0.1 1 -1.3z"/>
<path fill="#fff" stroke="#fff" d="M1349.4 650.9l1.6 -1.2 1.9 0 1.5 -0.7 1.6 -0.8 2.1 0.2 1 -1.5 1.9 0 1.9 -0.9 1.3 0.3 1.3 -1.4 2.2 0.4 1.4 -1.3 1.5 0.8 2.1 -0.9 1.7 0.1 2.1 0.1 1.2 1.2 1.7 -0.6 0.9 -1.6 1.6 0.1 2.1 -0.2 0.2 -1.9 1.8 -0.4 1.6 -1 1.7 -0.1 1.7 -1 0.2 -2.2 1.5 -1.6 0.6 -2.1 0.2 -2 -0.1 -2.1 1 -2.1 1.4 -1.4 1.1 -1.9 1.4 -1.2 1.5 -0.9 1.5 1.2 0.2 2.5 0.8 1.4 0.4 1.1 2.1 0.9 2.1 0.8 2.1 0.3 2.1 0.5 1.4 0.1 1.9 0.8 0.3 2.7 -1.1 1.4 0.9 1.8 -0.1 1.6 0 2.6 0.8 1.6 -2.2 0.6 -0.3 1.9 -2.6 0.2 -1.5 1.4 -2.7 0.3 -1.5 1.4 -2.3 0.8 -1 1.7 -1.5 1.5 -1 1 -0.5 1.2 -0.8 1.3 -0.5 1.3 1.3 1.2 -1 1.4 -1 1.1 -2 -1.2 -1.9 1.7 -1.2 -0.9 -1.9 0.6 -1.7 -0.6 -1.4 0 -1.7 -0.3 -1.2 0.6 -2.1 0.1 -1.9 -0.1 -1.4 0.5 -0.6 -1.4 -0.2 -1.5 -1.7 -0.7 -0.6 2 1.3 1.2 -1.2 1.6 -2 -0.4 -1.7 -0.9 -2.5 0.5 -1.1 -0.7 -2.2 -0.5 -1.4 1 -1.9 -0.6 -0.7 1.7 -1.8 0 -1.5 0.6 -1.4 0.9 -1.2 -1.8 -0.9 -1.4 1.6 -0.8 1.9 -1.7 -0.6 -2.3 -1.6 -0.4 -1.3 -0.6 -2.5 0.3 -1 -1.3 -1.3 -1.3z"/>
<path fill="#72a2cd" stroke="#72a2cd" d="M1241.1 606.5l1.8 -0.7 1.7 0.4 1.7 -1.5 2.3 -0.2 1.5 0.6 1.8 -0.3 1.3 1.1 2.3 -0.7 1.3 0.8 1.8 0 2 1.1 1.7 -1.6 0.9 1.2 2.5 -0.8 1.1 1.1 1.8 -0.5 0.9 1.5 -0.3 1.7 1.9 1.7 0 1.4 1.3 0.6 1.9 -0.2 1.8 0.9 0.4 -2.5 0.9 -1.3 1.7 0.8 2.2 -2 1.4 0.8 2.3 -0.5 1.9 0.5 1.8 -0.9 1.8 0.6 1.4 -1.2 2.2 0.2 0.6 -1.8 2.2 1.4 1.8 -1.2 2.1 -0.6 1.1 2 1.8 -0.6 1.3 1.7 -1.2 1.6 1.5 2.1 -0.5 1.8 1.4 1.6 0 1.9 1.3 1.4 -0.1 2.2 1.1 1.1 0.2 2.1 0.7 1.9 -0.3 1.7 1.3 1.4 0.6 2 1.8 0 1.4 0.6 1.8 -0.6 1.1 1.6 1.4 0.9 -0.3 1.7 -1 2.5 0.3 2 -2 1 0.1 2 -0.4 1.9 0.8 2.3 0.5 1.8 1.6 1 0.8 2.2 1.1 2.3 0.6 1.9 0.7 1.5 0.5 1 1.8 -0.9 2.4 0.9 1.7 -0.9 2.5 -0.8 0.4 -1.8 0.8 -1.1 1.9 -0.7 1.9 0.3 1.5 -1.3 2.6 0 1.4 -0.2 2.1 -1.9 1.6 0.4 1.8 -0.9 1.5 0.2 1.7 -0.3 0.2 1.7 1.3 1.3 1 1.3 2.5 -0.3 1.3 0.6 1.6 0.4 0.6 2.3 -1.9 1.7 -1.6 0.8 -1.7 1.3 -1.7 -0.5 -1.2 0.6 -1.3 0.7 -0.9 1 0.1 1.9 -0.9 1.3 -1.8 1 -0.6 1 -0.8 1.3 -1.8 1.2 -2 0.5 -1.3 1.2 0.3 2.2 -1.1 1.1 -1.2 -0.4 -1.3 -0.4 -2.7 -0.7 -1.5 1.1 -1.9 -0.1 -1.2 0.7 -1.9 0.3 -1 0.9 -1.8 -0.3 -1.4 1.4 -2.2 0.5 -1.2 1.7 -2.4 -0.1 -1.5 1.6 -2 0.2 -1.5 1.1 0.2 2.3 -2.5 0.9 0.6 1.5 -0.6 1.7 -1.3 1.6 -1.7 0.4 -1.2 0.8 -1.6 0.9 -1.7 1.3 -1 2.1 -2.1 -0.1 -1.6 2 -1.6 1 -2.2 1 -1 2.3 -1.8 0.4 -0.2 -2.3 0.2 -1.4 -1.5 -0.5 -1.8 -1.4 -1.5 0.2 -1.5 -0.8 0.1 -2.1 -1.4 -0.9 0.1 -2 -1.6 -0.9 -1.7 0.5 -1.7 -0.9 -1.9 -0.3 -0.9 -1 -1.8 0.4 -1.7 -0.3 -0.1 -2.1 -1.7 -1.2 0.6 -1.7 0 -1.7 -2 -1.3 0.8 -2 -1.3 -1.3 0.1 -1.7 -0.9 -2.2 0.7 -2.2 -1.2 -1.4 -0.7 -1.4 -0.3 -2.7 -1.4 -0.5 0.1 -3.2 -1.4 -1 -1.7 -1.2 -1.4 0 -1.9 -1.3 -2.3 0.8 -1.1 -1.4 -2.5 1.1 -1.6 -1.1 -2.4 1.3 -1.4 -0.7 -1.9 0.4 -1.6 -1.5 -1.8 1.3 -1.2 -1.1 -2 0.7 -1.5 -1 -2.2 -0.6 -1.4 -0.8 -2 0.6 -1.9 -1.7 -1.9 -0.2 -1.7 -1.4 -2.5 1 -1.4 -1.4 -1.5 -0.5 -1.8 0.5 -1.9 -0.5 -2.3 0 -1.6 0.6 -1.5 -0.9 -2.2 1.4 -1.8 -1.3 -1.7 0.7 1.5 -0.7 1.4 -1.5 2.1 -0.8 2 -1.4 0.7 -1.6 2.3 -0.1 1.3 -1.9 0.6 -2.3 2.7 -0.5 0 -2.3 1.7 -1.2 2.4 -1.2 -0.7 -2.2 2.4 -1.2 0.9 -1.6 0 -2.3 1.5 -1.4 -0.3 -2.7 1.3 -1.1 0.6 -1.1 0.2 -2.4 2.3 -0.7 -0.2 -2 0.9 -1.3 0.9 -1.3 1.7 -0.5 0.8 -2 1.6 -1.2 1.4 -1.2 -0.3 -1.9 1.1 -1.4 0.4 -2.1z"/>
<path fill="#6c9fcb" stroke="#6c9fcb" d="M1125.8 570.3l1.7 -0.8 1.9 0 1.6 -0.5 0.7 -1.7 3.1 -0.6 0.7 -2.2 1.8 -0.5 2 0.2 0.8 -2.4 2.2 0.1 0.5 -1.6 2 0 1.5 0.6 1.5 -2 2 0.7 1.2 -0.6 1.9 0.4 1.4 1.4 1.7 0.7 1.9 1.2 2.1 -0.5 1.8 1.2 1.7 0.6 2.1 0.1 1.2 1.3 2.1 -0.7 2.2 0.6 2.1 0.6 1.6 -1.2 2.2 1.9 1.6 -0.6 1.6 -1.4 2.5 0.7 1.2 -2.2 1.6 0.8 1.8 -1.1 1.7 -1 2.2 -0.1 1.1 -1.4 0.7 1.2 1.1 1.3 -0.6 1.7 0.6 1.6 -0.5 1.7 -0.3 2 -2.1 -0.2 -0.1 1.9 1.8 -0.4 1.3 1.7 1.5 -0.9 1.6 0.9 2.1 -0.1 2.5 0.9 1.7 -0.8 -0.5 1.9 2.1 1.1 -1 1.4 0.6 1.8 1.1 0.9 1.1 2.5 2.5 0 0.3 1.6 2 0.4 1.4 1.4 2.1 0.1 0.7 1.9 2.6 0 1.7 1.4 1.6 -0.6 2 1.5 1.9 0.1 1.5 1.3 1.4 1.6 2.8 -0.7 0.5 2 2.5 -0.7 1.6 1.6 1.4 1.2 2.5 0.2 1.1 1.1 1 1.8 -1.2 1.3 0.8 2.4 -0.8 1.7 0.2 1.5 -1.1 1 -0.4 2.1 -1.1 1.4 0.3 1.9 -1.4 1.2 -1.6 1.2 -0.8 2 -1.7 0.5 -0.9 1.3 -0.9 1.3 0.2 2 -2.3 0.7 -0.2 2.4 -0.6 1.1 -1.3 1.1 0.3 2.7 -1.5 1.4 0 2.3 -0.9 1.6 -2.4 1.2 0.7 2.2 -2.4 1.2 -1.7 1.2 0 2.3 -2.7 0.5 -0.6 2.3 -1.3 1.9 -2.3 0.1 -0.7 1.6 -2 1.4 -2.1 0.8 -1.4 1.5 -1.5 0.7 -1.9 1.1 -1.7 0.3 -0.4 1.4 -2.2 0.4 -1.5 1.7 -0.3 2.5 -2 0.8 -0.1 1.7 -2 0.9 0.2 2.1 -1.8 1.6 0.2 1.9 -2.4 1.8 0.3 2.2 -1.3 0.6 -0.6 2.3 -2 0.6 -1.1 -1.5 -1.9 1.4 -1.8 -1.6 -1.9 1.1 -2.1 0.3 -1.7 0.8 -1.9 -0.2 -1.8 0.3 -1.9 0.1 -1.8 -1 -2 0.8 -1.9 -1.1 -1.1 -1.8 1.4 -1.7 -1.7 -1.7 1.2 -2.3 -1.2 -1.6 0.2 -2.2 -0.8 -1.5 0.7 -2.2 -1 -1.2 1.1 -2.3 -1.3 -1.2 0 -1.6 -0.5 -1.7 -1.8 -1 0.3 -2.1 -1.7 -1.5 -1.1 -0.8 -1.7 -0.1 -1.5 -1.1 -2 -0.5 -1.2 -0.4 -1.9 0.3 -1.2 -2.2 -1.9 0.6 -1.4 0.4 -2.6 -0.2 -1.6 1.4 -1.9 -0.7 -1.3 0.8 -1.8 -1.3 -2.4 0.8 -1.5 -0.9 -1.8 0.2 -1.6 0.2 -1.5 -1.6 -1.7 0.7 -1.8 -0.6 -1.4 0 0.2 -1.9 -0.6 -1.4 1.5 -2.1 -1.4 -1.9 0.8 -1.4 -0.3 -1.8 1.2 -1.3 -0.4 -2.2 1 -1.2 -1.5 -1.6 1.3 -1.9 -0.9 -1.6 -0.2 -2.7 -1.4 -1.2 0 -2 -1.9 -1.4 0.7 -1.8 -1.1 -1.1 -0.2 -1.6 -1.3 -1.7 0 -1.4 1.4 -1.9 -1.3 -2.8 1.2 -1.4 0.4 -1.9 0.8 -1.3 -0.4 -2.5 1.9 -1.1 -0.2 -1.9 1.2 -1.6 -0.1 -1.8 1.5 -0.5 -0.2 -2.7 1.3 -0.9 0.8 -1.3 -0.3 -2.7 1.6 -1.1 -0.2 -1.8 0.6 -1.9 0.7 -2.1 -1.6 -1.5 1 -1.9 -0.7 -1.1z"/>
<path fill="#b5cde6" stroke="#b5cde6" d="M1204.8 654.6l1.7 -0.7 1.8 1.3 2.2 -1.4 1.5 0.9 1.6 -0.6 2.3 0 1.9 0.5 1.8 -0.5 1.5 0.5 1.4 1.4 2.5 -1 1.7 1.4 1.9 0.2 1.9 1.7 2 -0.6 1.4 0.8 2.2 0.6 1.5 1 2 -0.7 1.2 1.1 1.8 -1.3 1.6 1.5 1.9 -0.4 1.4 0.7 2.4 -1.3 1.6 1.1 2.5 -1.1 1.1 1.4 2.3 -0.8 1.9 1.3 1.4 0 1.7 1.2 1.4 1 -0.1 3.2 1.4 0.5 0.3 2.7 0.7 1.4 1.2 1.4 -0.7 2.2 0.9 2.2 -0.1 1.7 1.3 1.3 -0.8 2 2 1.3 0 1.7 -0.6 1.7 1.7 1.2 0.1 2.1 1.7 0.3 1.8 -0.4 0.9 1 1.9 0.3 1.7 0.9 1.7 -0.5 1.6 0.9 -0.1 2 1.4 0.9 -0.1 2.1 1.5 0.8 1.5 -0.2 1.8 1.4 1.5 0.5 -0.2 1.4 0.2 2.3 -1.3 1.6 0.5 1.8 -1.7 1.6 -0.5 2.2 -1.7 0 -0.4 2.4 -1.1 0.8 -1 1.9 -1.7 -1.6 -1.5 0.5 -1.9 0.2 -1.1 0.5 -1.9 -0.8 -1.8 1.3 -1.2 1.5 -2.3 -0.8 -1.4 1.6 -1.8 -0.1 -1.6 -1.3 -2.4 1.3 -1 -1.3 -1.5 -0.2 -1.6 -0.7 -2 1.1 -1.6 -1.1 -1.4 0.1 -1.8 1.1 -1.5 -0.5 -1.9 1 -1.9 1.1 -1.8 -0.4 -1.1 1.6 -1.9 -0.6 -2.1 0.2 -1.4 1.6 -1.5 0.7 -1.7 2.3 0 1.8 -1.5 0.5 -2.1 -1.7 -1.4 0.4 -1.8 0.7 -1.2 -1.2 -2.2 0.6 -1.4 -1.1 -1.7 0.2 -1.3 -0.6 -2 0.3 -1.4 -0.7 -2.1 -0.1 -1.3 -0.4 -1.9 -0.2 -1.6 -0.7 -2.1 0.6 -0.9 -1.2 -2.2 0.2 -1.6 -1 -1.6 0.4 -2.1 -0.5 -0.8 -2.1 -2.4 0.9 -0.7 -1.6 -2 -1.1 -1.5 -1.4 0.3 -1.3 -2.1 -1 0 -1.8 -1.5 -1.5 0.1 -1.6 -1.1 -1.4 -2.1 -0.5 -1.6 0.6 -1.6 -0.7 -1.4 0.3 -2 -0.2 -0.1 -1.6 1.9 -1.2 -0.6 -2.2 -0.1 -1.9 1.6 -1.1 -0.9 -2.1 1.7 -1.6 0.2 -2 1.2 -1.8 -1 -2.1 1.8 -1.5 -0.2 -1.8 0.7 -1.6 0.8 -1.1 0.1 -2.5 1.9 -1 -0.3 -1.6 0.6 -2.3 1.3 -0.6 -0.3 -2.2 2.4 -1.8 -0.2 -1.9 1.8 -1.6 -0.2 -2.1 2 -0.9 0.1 -1.7 2 -0.8 0.3 -2.5 1.5 -1.7 2.2 -0.4 0.4 -1.4 1.7 -0.3z"/>
<path fill="#86afd4" stroke="#86afd4" d="M1193.1 717.1l2 1.1 0.7 1.6 2.4 -0.9 0.8 2.1 2.1 0.5 1.6 -0.4 1.6 1 2.2 -0.2 0.9 1.2 2.1 -0.6 1.6 0.7 1.9 0.2 1.3 0.4 2.1 0.1 1.4 0.7 2 -0.3 1.3 0.6 1.7 -0.2 1.4 1.1 2.2 -0.6 1.2 1.2 1.8 -0.7 1.4 -0.4 2.1 1.7 1.5 -0.5 0 -1.8 1.7 -2.3 1.5 -0.7 1.4 -1.6 2.1 -0.2 1.9 0.6 1.1 -1.6 1.8 0.4 1.9 -1.1 1.9 -1 1.5 0.5 1.8 -1.1 1.4 -0.1 1.6 1.1 2 -1.1 1.6 0.7 1.5 0.2 1 1.3 2.4 -1.3 1.6 1.3 1.8 0.1 1.4 -1.6 2.3 0.8 1.2 -1.5 1.8 -1.3 1.9 0.8 1.1 -0.5 1.9 -0.2 1.5 -0.5 1.7 1.6 0.9 1.7 0 2.6 -0.7 1.5 -0.5 1.9 -1.2 1.6 -0.1 1.7 -0.2 1.4 -0.6 1.8 0 1.8 -0.2 1.6 2.1 2 0.6 1.4 1.4 1.8 -0.3 2.1 1.4 1.1 -0.8 1.6 -0.9 1.7 -0.8 1.7 -1.4 1.5 1.3 1.8 -1.6 1.7 -0.7 1.2 0.7 1.8 -0.8 2 -0.6 2 -1.1 2.1 -1.2 1.7 -2.4 0.5 -1.4 1.2 -1.4 1 -2.2 1 -1.4 1.3 -1.3 1.2 -1.5 2 -1.3 1 -1.8 1.3 -1.6 1.2 -2.5 0.2 -1.7 -1.1 -0.5 -1.8 1.4 -1.5 0.3 -1.7 0.8 -1.3 0.5 -2 0.6 -1.9 1.9 -1.4 -1.5 -1.4 -1.8 -0.6 -1.7 -0.2 -1.5 -1 -1.8 -0.2 -1.9 0.2 -1.7 -1.6 -1.4 -0.2 -2.1 -1.1 -2.1 -0.6 -0.7 -1.2 -2.3 -1.1 -0.3 -1.9 -1.2 -2.1 -2.3 -0.5 -0.7 -1.5 -1.6 -0.3 -1.1 -1.8 -2.1 0.2 -1 -1.8 -1.6 -1.5 -1.7 0.2 -1.2 -1.9 -2.2 0.2 -1.6 0.4 -1.3 -1.4 -2.5 -0.2 -1.3 -0.8 -1.6 -0.5 -1.8 0.2 -1.8 -1.3 -1.2 1.5 -1.5 -1.5 -2.1 -0.1 -1.7 -0.8 -1.4 1 -2.2 -1 -1.7 1 -1.3 -0.7 -1.9 0.5 -1.6 -0.3 -1.8 0.4 -1.4 -0.1 -0.7 -1.6 1.6 -1.9 -0.4 -1.9 0.9 -2.5 0 -1.7 -0.7 -1.5 1.2 -2 -1.8 -1.6 0.6 -1.8 -0.7 -2z"/>
<path fill="#d5e2f0" stroke="#d5e2f0" d="M1192.7 737l1.4 0.1 1.8 -0.4 1.6 0.3 1.9 -0.5 1.3 0.7 1.7 -1 2.2 1 1.4 -1 1.7 0.8 2.1 0.1 1.5 1.5 1.2 -1.5 1.8 1.3 1.8 -0.2 1.6 0.5 1.3 0.8 2.5 0.2 1.3 1.4 1.6 -0.4 2.2 -0.2 1.2 1.9 1.7 -0.2 1.6 1.5 1 1.8 2.1 -0.2 1.1 1.8 1.6 0.3 0.7 1.5 2.3 0.5 1.2 2.1 0.3 1.9 2.3 1.1 0.7 1.2 2.1 0.6 2.1 1.1 1.4 0.2 1.7 1.6 1.9 -0.2 1.8 0.2 1.5 1 1.7 0.2 1.8 0.6 1.5 1.4 -1.9 1.4 -0.6 1.9 -0.5 2 -0.8 1.3 -0.3 1.7 -1.4 1.5 0.5 1.8 1.7 1.1 2.5 -0.2 0.1 2 -1.9 1.1 -0.7 1.9 -0.9 1.1 0.4 1.9 -1.6 1 -0.4 1.8 0.4 1.7 -2.1 2 0 1.2 -0.8 1.8 -1.3 1.6 0.1 1.6 -1.7 1.1 -0.4 1.5 -1.4 1 -0.1 1.7 -1.3 1.2 -0.6 2 -1.4 1.4 -0.1 1.6 -2.1 -0.2 -0.5 2.2 -1.3 1.5 -1.6 0.7 -0.4 1.6 -1.7 1.2 -1.6 1.1 -0.8 1.4 -2.3 -0.4 -1.2 2 -1.2 1.6 -1.7 -0.7 -1.4 2.3 -1.5 0.2 -1.7 0.4 -1.4 2.7 -1.9 0.2 -1.4 1.7 -1.7 -0.4 -1.1 2 -1.1 2 0.4 1.6 -1.8 1.4 -0.3 1.6 -1.7 2.3 0.4 2 -0.3 1.6 -1.6 1.9 -0.7 1.5 -1.4 1.5 -1.9 1 -0.9 1.1 -2.6 0.9 -0.7 1.3 -0.8 1.4 -2.3 0.4 -0.2 1.6 -1 -1.5 -0.7 -1 -0.1 -1.7 0.4 -1.3 -0.6 -2 1.3 -1.6 -0.1 -2.6 1.3 -1.3 0.6 -0.9 1.4 -1.1 1.9 -1.8 0.6 -1.6 -0.4 -1.6 -2.1 -0.1 -1.8 -0.6 -0.4 -1.4 -2 -0.4 -1.2 -2.1 -2.1 -0.5 -1.1 -1.9 -1.3 -0.8 -0.9 -1.4 -2.4 -1.1 -1 -1.4 -1 -1.1 -2.4 0.1 -0.7 -1.5 -1.8 -0.6 -1.1 -2.2 -1.3 -0.6 -1.6 -1 -1.7 0.2 -1.7 -1.7 -1.4 -0.9 -2.4 0.1 -1.2 -1.7 -2.1 -0.6 -0.8 -1.7 -2.1 -1 -1.3 -0.5 -0.3 -2 -1.8 -0.8 -1.8 0.5 -1.5 -1.4 -1.5 2.1 -1.8 0.4 -1.6 -1.6 -0.1 -1.7 -0.6 -1.9 -1.9 -1.4 -1.3 -0.6 -0.9 -1.8 -1.1 -1 -1 -1 -1.5 -0.9 -1.7 -1.4 -1.6 -2.1 -1.7 -0.4 -1.5 0.8 -2 -1.3 -1.5 1 -1.1 1.4 -2.9 -1.1 -1 1.4 -1.5 -2 -1.9 0.3 1.4 -0.2 1 -2.1 1.8 0.1 1.5 -1 0.9 -1.5 1.8 -0.8 0.7 -1.6 2.2 -0.1 0.7 -2.1 1.4 -1.2 1.4 -1.7 0.5 -1.4 2.4 -1.1 0.7 -1.7 0.4 -1.8 2.4 -0.9 0.7 -2.1 1.5 -1 1.9 -0.7 -0.1 -2.9 2.3 -0.1 0.9 -2.1 0.9 -1.3 1.7 -1 0.7 -1.9 1.6 -0.6 0.5 -2.3 1.2 -1.3 1.8 -0.7 0.4 -2.2 1.9 0 0.9 -2.1 1.2 -1.3 1.4 -0.3 1.3 -1.5 2.1 -0.4 0.7 -1.5 1.6 -1.5 1.8 0.6 1.7 -2.5 1.6 0.1 1.8 0.2 1.6 -2 2 -0.1 1.3 -0.6 1.6 0 1.3 -0.6 2.4 -0.1z"/>
</g>
<path fill="none" stroke="#000" stroke-opacity="0.6" stroke-width="1" d="M845.5 378.5l58 16.8 63.9 30.3M901 424.1l-0.5 21.2M1043.2 244.1l2.5 12.5M1084.9 246.6l18.3 0M861 342.9l10 -7.5M881 331.1l12.5 -2.5M911.6 327.1l9 -56.8M909.8 242.1l7.5 -2.5 8.3 -0.5 0 -7.5 -12 -1.3 0 -10 27.5 -0.5 1.2 -3.7M959.1 216.6l2 12.5M1057.4 407.8l55.1 0M1113.7 396.5l2.5 -15M1141.2 417.1l112.9 8.2M1081.9 541.1l14.3 0.5 14.5 0.5M1151.2 287.9l-40.5 84.9M1103.2 229.6l0 17"/>
<path fill="none" stroke="#000" stroke-opacity="0.64" stroke-width="1.3" d="M845.5 378.5l-0.9 1.8 -1.8 0.5 -0.5 2 1.2 2 -1 2 2.4 0.8 -0.1 2.7 0.3 2.1 1.9 0.7 -0.2 1.9 2.2 1.3 0.8 1.5 0.3 2.4 2.3 0.3 0.2 2.4 1.5 0.7 0.7 1.7 0.6 1.9 1.5 1.1 0.1 1.5 1.5 1.8 -0.3 1.4 -1.7 1.4 0.4 1.7 -0.9 1.7 1.7 -0.4 1.6 1.4 2.7 -0.3 1.5 0.6 1.8 0.4 1.4 1.3 2.6 -0.4 1.7 1.2 1 1.6 -0.3 2.1 1.7 1.6 -0.4 1.7 1.9 -0.5 1.7 1.2 2.9 -0.9 1.5 0.7 1.9 -0.7 2.1 1.2 1.5 -1 1.2 1.2 2.1 -1.2 2.4 -0.7 0.9 -2.1 2.1 0.2 0.8 -1.9 2 -1.3 0.3 -1.7 2.2 -0.8 1.4 2.1 -0.9 1.7M900.5 445.3l1.7 1 1 1 1.6 0.5 1.6 0.4 1.2 -2.1 1.8 0.1 1.7 -0.9 1.8 -1 2 2 1.5 -1.9 2.2 0.9 1.9 0.5 1.5 -0.4 1.8 1.2 2 -0.4 1.5 0.4 2 0.4 1.3 1 2 -0.2 1 1.3 1.6 -0.8 2.6 -0.4 1.2 -0.8 2.1 -0.5 0.4 -1.5 2.8 -0.9 0.2 -1.1 1.6 -1.5 1.1 -1.2 2.3 0.2 1.6 -1.5 2.5 -0.9 0.5 -2.5 2 -0.4 1.9 -1.3 0.7 -1.4 2.4 -1 1.3 -0.7 1.3 -2.2 1.2 -0.4 1 -1.7 1.5 -1M1464.4 419.1l0 0M1464.4 419.1l1.6 1.1 1.9 1 1.2 1.8 1.6 0.1 2.1 0.9 0.7 1.2 1.9 0.7 1.8 0.9 1.1 2.1 1.8 -0.1 1 1.6 2.5 0.3 1.2 1.8 1.6 0.5 1.7 2.3 1.4 0.5 1.8 -0.1 1.1 2.6 1.8 -0.2M1515.3 409.5l-1.1 1.2 -0.2 2.1 -1.2 1.7 -0.8 2.1 -1 1.4 -1.8 1.3 -0.4 1.4 -1.5 1.5 -1.6 0.6 -0.6 2.5 -1.3 0.8 -1.2 1.7 -1.3 1.6 -1 0.7 -1 1.8 -1.4 1.5 -0.7 1.9 -2.3 0.8 -0.7 2M1025.5 211.3l1.6 0.5 2.2 0 1.9 1 2.3 0.7 0.5 2.5 2.2 0.6 1.4 1.7 -0.4 2.3 1.7 1.5 -0.2 2 0.6 1.4 0.2 1.9 1.2 1.9 -1.2 1.8 1.3 1.2 0.4 1.8 -0.6 2.1 1.9 0.7 -1.4 2.4 1.7 1.4 -0.4 1.7 0.8 1.7M1045.7 256.6l-0.1 2.1 -1.4 0.7 -0.3 1.5 -1.4 1.4 -0.1 1.8 1.4 1.9 1.9 -0.1 1.1 1.8 1.9 1.4 1.3 1.7 0.2 1.2 1.5 1.2 0.7 2.1 1.8 0.8 1.5 1.6 1.6 -0.6 1.4 1.5 -0.2 -2 -0.6 -1.4 0.7 -2.9 -1.3 -1.6 0.1 -1.6 0.9 -1.2 0.2 -2 2.2 -1.6 0.5 -1.5 2 -0.2 0.7 -1.5 2.2 -0.2 1.3 -0.6 0.9 1.7 2.1 0.2 0.1 2.1 1.9 1 1.1 -1.7 2.4 0.8 1.5 -1.6 0.1 -1.8 0.7 -1.6 -0.6 -1.5 1.1 -1.3 0 -1.8 1.6 -1.1 0.1 -1.5 2.1 -1.6 -0.1 -1.5 0.6 -1.4 1.9 -1.1M845.5 378.5l-0.1 -1.6 1.8 -1.9 0.7 -2.1 0.6 -1.4 0.9 -1.7 2.2 0.2 1 -1.6 1.7 -0.3 1.2 -1.6 1 -1.5 -0.8 -2.8 0.3 -1.9 1.4 -1.1 -0.8 -2.7 0.7 -1.3 0.7 -1.4 0.2 -2.1 1.4 -1.4 0.2 -1.3 0.4 -2.4 1 -1.4 -0.2 -2.3M871 335.4l1.8 -0.5 1.1 -1 2.3 0.1 1.4 -2.1 2.1 -0.1 1.3 -0.7M893.5 328.6l1.8 -1.3 2 -0.6 1.2 -1.1 1.6 -0.4 2.6 0.9 1.8 -0.6 1.6 0.6 1.3 0.7 0.4 1.9 2 0.4 1.1 -0.9 0.7 -1.1M920.6 270.3l-1 -1.4 0.7 -2 -1.8 -1.5 1.1 -2 -1 -1.8 -1.8 -0.2 -0.7 -2.8 -1.7 -0.4 -0.8 -1.9 -1.8 -0.2 -1.2 -2 0.4 -2.2 -1.5 -0.9 1.2 -2.3 -0.7 -1.7 0.2 -1.7 -0.3 -1.1 -0.1 -2.1M942.3 216.1l2.3 0.4 1.5 1.3 1 -1.2 1.6 -0.5 0.5 -1.8 1.9 -0.7 1.8 -1 1.8 -1.5 1.4 -0.8 1.5 1.6 -0.3 1.8 1.3 1.4 0.5 1.5M961.1 229.1l1.9 0.1 1.1 2 1.7 -0.8 1.6 1.2 2.1 1 1 1.6 1.4 0.8 1.7 1.6 1.7 0.7 2.2 -0.9 2.1 0.8 1.5 -0.1 1.2 -1.5 2.2 0.7 0.8 -2 2.1 -0.2 -0.7 1.5 1.8 1.2 0.1 1.8 1.9 -0.5 0.7 -2.4 2.1 0.2 1.2 -2.6 1.6 -0.5 1.7 -1.2 1.5 -0.5 1.3 -1.5 1.7 0 1.3 -1.8 2.6 -0.8 0.4 -1.8 1.7 -0.6 1.6 -1.8 1.1 -1.8 1 -0.8 0.3 -1.7 1.6 -0.8 1 -1.6 2 0.2 0.9 -1.5 2.3 0.1 1 -1.3 1 -1.6 2.6 0.7 0.8 -1.4M1174.1 209.1l1.4 0.7 1.8 -0.4 1.9 1.3 1.8 0.4 1.2 -0.8 2.1 0.2 1.4 -0.7 2.3 0.5 1 -1.7 2 0.5 1.4 0.3 2.1 -0.2 1.7 1.3 1.8 -1.2 0.9 1.5 2.1 0.3 1.9 0.6 2.6 -1 1.8 0.9 1.2 -1.7 1.8 -0.2 0.5 -2.5 1.7 -0.8 1 -1.1 0.1 -1.9 1.6 -1.6 0 -1.7 1.6 -1.4 0.4 -1.9 1.1 -0.6 0.2 -2.2 1.5 -0.9 0.2 -2.4 1.7 -1.3 0.3 -2 1.5 -1.1 0.2 -1.5 1.5 -1.8 0.7 -1.5 1 -1.2 0.4 -2 1.1 -0.7 0.2 -2.5 2.1 -0.3 0.2 -2 2 0.8 1.7 -0.8 1 1.6 0.2 1.4 1.6 1.5 0.5 1.7 0.9 1.8 -0.5 1.8 1.1 1.4 -1.1 2.1 1.4 1.9 -0.5 1.9 0.4 1.6 1.6 1.8 -1.5 2.1 2.1 1.3 -0.7 2.3 1.7 0.8 -0.4 2.8 1 1.4 1.3 1.1 -0.1 2.1 1.4 1.2 0 2.1 1.1 1.1 1.9 1.1 1.4 0.6 1.1 1.1 1.9 0.9 0.7 1.7 1.8 0.4 1.2 2.3 1.3 0.6 0.9 1.6 -0.4 1.8 1.2 1.6 0.3 2.3 -1.6 1.1 1.4 2.3 -1.4 1.1 0.1 2 -0.9 1.9 -1.9 1.2 -0.2 2.4M1428.8 571.5l1.2 0.7 0.8 2.5 1.9 0 1.1 1.8 1.8 -0.5 1.9 1.8M1326.1 521.6l1.5 -0.4 2.1 -1.8 1.4 0.5 1.7 -1.7 2.2 -0.5 1.1 -1.1 1.7 0 0.6 -2.2 1.9 0.1 1.1 -1.8 2.5 -0.3 0.7 -1.2 1.6 -0.8 1.4 -0.8 1.9 0.3 1.6 -1.9 2 0.3 0.9 -2.1 2.2 -0.1 2.1 0.6 2.2 -0.1 1.5 1.7 1.7 -0.4 0.5 1.3 1.7 1.5 0.3 2.2 1.3 0.2 2.3 0.9 1.1 -0.5 1.8 1.1 1.8 0.1 1.7 0.7 2 -0.3 1.3 1.9 2.3 -0.4 0.6 1.4 2.2 0.1 1.6 1 1.2 1.2 2 -0.9 1.3 2 2.5 -1.6 1.4 1.5 1.6 0.3 2.4 -0.2 1.4 1.8 2.3 0 1.4 0.9 1 2.3 2.2 0.6 0.2 2.2 1.6 1.2 1.4 -0.2 2 0.9 2 -0.8 1 1 2.1 -0.5 1.5 0.8 1.6 1 2.2 -0.3 1.4 1.7 2.3 0.1 1 1.8 2.4 0.2 0.8 1.3 2.1 0.5 -0.3 2.1 1.2 0.9 0.3 2 -1.3 1.6 -1.1 2.2 -1.3 1.2 0.6 1.7 -2.4 1.3 1 2.3 -1.7 1.7 0.3 1.6 -2.1 0.8 0.1 2.4 -1.8 0.7 -0.8 1.1 1.1 1.3 -0.2 2.7 1.9 1.2 0.2 2.3 0.8 2.1 1.8 0.4M1476.6 456.6l-1.2 1.3 -0.1 1.9 -1.9 1.8 0.2 2 -1.1 1.7 -0.5 1.5 -1.8 1 0.7 2 -1.9 1.6 -0.3 1.4 -2 1.2 0.3 2.3 -2.8 0.9 -0.5 1.9 -1.6 1.2 -1.4 2 -2.1 0.5 -1.1 1.3 -2 0.5 -1.5 1.7 -1.6 0.1 -1.2 1.5 -0.3 1.7 0.4 1.6 -2 2.2 1.3 1.2 -0.6 2 0.8 1.3 -0.9 1.7 0.6 1.7 -0.9 2 1 1.6 -0.6 1.7 -0.9 1.5 1 1.5 -0.8 2 0.4 1.9 -1.2 1.2 0.2 1.9 0 2 0.4 1.3 -1.1 1.5 1.2 1.5 -0.9 1.9 0.9 1.8 -0.3 1.9 1.6 1.7 -1.5 1.3 1.2 1.4 -1.3 2.1 1.1 1.6 0.2 1.5 -0.4 1.9 1.8 1.4 -1 2.3 0.8 1.4 -0.2 1.5 0.5 1.9 -1 1.3 0.9 1.9 -2 1.6 1.3 1.6 -0.9 1.8 -0.9 1.9 0.2 1.7 -1.6 1.1 -0.1 1.9 -1.5 1.7 0.2 1.5 -1.1 2.2 -2.1 0.3 -0.1 2.2 -1.7 1.6 -1 2.5 -2 0.8 -0.8 1.7M1456.7 365l0.5 1.6 -1.7 1.3 -0.2 1.8 -1.1 1.6 0.2 2.3 -1 1.7 0.7 2.7 1.6 1 -0.5 1.6 1.6 1.8 -0.6 1.3 -0.2 2.6 -1.2 1.6M1422.4 383.3l2.3 -0.2 2 -0.3 1.4 -1 1.8 0.7 1.4 -1.1 2.4 -0.1 0.9 -1 2.4 0.6 1.6 1.4 2.1 0.5 0.4 2 2.1 0.4 0.3 1.3 1.9 1.8 0.9 1.5 1 1.3 1.4 0.1 2.3 -0.6 1 -1.7 1.2 -0.4 1.6 -0.6M1478.6 338l-2.2 -0.7 -1.2 1.5 -1.7 -0.1 -0.9 1 -0.5 1.7 -1.4 1 -1.8 1.6 0.7 1.9 -1.2 2.2 -0.3 2.5 -2.4 0.6 -0.1 2.5 -1.3 1.7 -0.3 1.9 -0.8 1.1 -1.1 1 -2.7 0.1 -0.9 1.3 -0.5 1 -0.1 1.7 -1.2 1.5M1408.7 302.7l2.1 0.6 1.5 -1.2 2 0.9 2.2 -1.5 2 0 1.9 0.4 1.4 -0.8 1.6 1 1.8 -0.9 2 0.9 1.3 -0.2 2.1 0.6 1.2 1.8 2.5 -0.6 0.8 1.3 2.2 0.3 1.4 0.6 1.1 1.6 2.4 -0.1 1 1.8 1.8 -0.1 1.1 1.2 2 0.4 0.4 1.9 1.8 0.2 1.8 2.1 1.3 0.5 1.4 1.1 2.1 1.1 0.5 2.1 2.1 0.7 0.7 1.9 2.2 0.5 1.2 1.2 0.9 1.9 1.9 -0.3 0.7 2.9 1.8 0.6 0.7 1.2 1.5 1.2 2.3 0.9 0.2 2.7 1.8 0.1 1.6 2 1.6 0.8M1437.5 577.8l-0.6 1.5 0.4 1.8 -1.4 1.5 1 2 -0.6 1.9 0 1.5 -1 2.3 0.8 1.8 -1.1 1.9 -0.5 2 -1.5 0.5 0.6 2.4 -2.3 0.9 0 1.7 -1.5 1.4 0 1.9 -1 0.8 0 2.3 -1.3 1.1 -1.4 1.1 0.7 2.5 -2 0.3 -0.4 2.5 -0.6 1.2 -0.9 1.8 -1.4 0.6 0.3 2.3 -1.8 1.5 1.1 -1.3 -0.8 1 -1.8 0.8 -0.8 1.5 -1.1 1.5 0.3 1.9 -1.7 0.8 -0.8 1.7M1323.1 482.9l-0.7 1.7 1.6 2.1 -1.1 1.8 0.9 1.7 -0.2 1.4 0.3 1.4 -0.4 2 1.2 2.3 -0.6 1.8 0.4 1.6 1 2 -0.5 2.6 1.1 1.3 0.3 2.4 0.6 1.5 0 1.7 0.4 1.9 -1.2 1.5 0.7 2.2 -0.5 2 -0.3 1.8M1326.1 521.6l-1.6 -1.4 -0.6 -2.3 -1.5 -0.8 -1.3 0.6 -1.9 0.4 -1.8 1 -1.1 1.7 -1.9 -0.6 -0.8 1.4 -1.4 1.5 0.7 2.2 -1.7 0.7 -0.1 1.9 -0.2 1.9 -1.1 1.2 1 2 -0.9 1.1 -1.6 1.4 -2.5 -0.1 -0.9 1.2 -1.7 1.3 0.5 2 -1.3 1.7 0.4 2.3 -0.2 1.3 0.8 2.3 0.2 1.6 0 2 2.1 1.9 -0.7 1.5 1.1 2.2 -1.6 1.8 0.8 2.2 -1.5 1.3 -0.2 2.2 -0.7 1.9 1.5 1.4 -0.5 1.3 0.6 1.5 0.1 1.7 0.3 2 -1.6 1.4 -0.9 2.2 -1.2 1.4 -2.1 -0.6 -1 1.6 -1.7 -1.2 -1.6 1.5 -1.9 -0.4 -1.7 0.4 -1.6 -0.6 -2.1 0.3 -1.7 -0.4 -1.2 0 -2 -0.7 -1.5 0.1 -1.3 0 -1.9 0.8 -1.2 -0.2 -1.8 0.7 -1.3 0.6 -1.9 0.1 -1.5 1.3 -2.2 -0.2 -1.9 0.7 -1.3 0.2 -2 0.6 -2 -0.4 -1.3 1.4 -1.7 -0.7 -1.7 1.4 -1.1 1.4 -2.2 -0.2 -1.2 1.7 -1.7 0.8 -1 2.2 -2 0.4 -1 1.4 -1 1 -1.8 1 -0.3 2.4 -1.7 0.4M1203.6 572.8l-0.5 1.9 2.1 1.1 -1 1.4 0.6 1.8 1.1 0.9 1.1 2.5 2.5 0 0.3 1.6 2 0.4 1.4 1.4 2.1 0.1 0.7 1.9 2.6 0 1.7 1.4 1.6 -0.6 2 1.5 1.9 0.1 1.5 1.3 1.4 1.6 2.8 -0.7 0.5 2 2.5 -0.7 1.6 1.6 1.4 1.2 2.5 0.2 1.1 1.1M1399.9 300.4l0.4 1.9 -1.1 0.9 0.7 2.4 -1.2 1 -1.5 0.9 -0.5 1.8 -1.9 1 -1.1 1.3 -1.8 0.1 -0.7 2.8 -2.7 -0.2 -0.6 1.9 -1.7 0.4 -1.3 1.3 -0.1 2.2 -1.2 0.8 0.6 2 -1.8 1.2 -0.9 1.9 0.6 1.9 -1.1 1.2 0.4 1.6 -1.2 1.7 0.5 1.7 1.1 1.8 -0.9 1.2 1 1.7 -1.2 2.4 1.6 1.6 -0.6 1.3 -0.1 2.1 -1.1 1.2 0.3 1.6 -1.6 1.9 0.8 1.9 -0.8 1.3 0 1.5 1 2.1 -0.7 1.7 1.4 1.5 -0.7 1.7 0.5 1.6 -0.2 1.5 -1.4 1.2 -0.6 2.5 -1.1 1 -1.4 -0.3 -1.7 1.4 -1.6 -1.2 -1.5 1.4 -2.2 0.2 -1.8 -1.3 -1.4 1.2 -2.1 -0.6 -1.6 0.6 -1.8 0.1 -1.6 0.9 -0.3 1.8 -2.2 0.7 -2.2 0.8 -0.7 1.3 -2 0.8 -0.7 1.2 -1.9 0.9 -1.3 1.4 -2.4 0.3 -0.8 2 -1.8 0.2 -1.3 1.1 -0.9 1.4 -2.8 0.3 -1.3 2 -1.6 1.8 0.6 2.5 -1.8 1.6 0.3 1.6 0.4 2.1 -2 1.5 0.7 2.1 -1.6 1.8 -0.9 1.6 -0.1 2.2 -1.5 2.1 0 1.7 -0.9 1.5 1.6 1.6 -1.1 2.1 1 1.8 -0.3 1.5 0.2 1.5 0.2 1.9 1.2 1.6 -1.2 1.8 1.2 2 -0.4 1.6 1.6 1.8 -0.4 1.8M1280.6 346.6l1.8 -0.2 1.6 -1.9 1.4 1.1 1.9 -1 1.8 1.1 2.2 -0.7 1.5 1.8 1.6 -1 1.7 0.8 1.1 2.2 2.6 -0.4 1.3 2 0 1.9 0.8 1.6 -0.6 1.9 1.2 1.9 -0.1 1.5 -1 1.9 1.2 1.7 -1.9 1.5 1.3 1.7 -1.6 1 0.2 2 -0.3 1.8 -0.7 1.4 0.8 2 -1.5 1.8 0.5 1 -0.8 2 2 1.2 -0.3 2.4 2.8 0.4 0.5 2.3 0.2 1.5 2.5 0.9 -0.3 2.9 2.5 0.5 0.1 1.7 1.7 -0.4 1.6 1.2 1.3 -0.8 1.7 1.2 1.8 0.6 0.6 2.3 0.8 0.9 -0.6 2.1 -0.7 1 -0.7 1.9 -0.7 1.4 -2.3 1.7 -0.7 1.9 0.3 1.4 -1 1.8 0.4 1.6 -1 1.5 1.6 1.7 -0.1 2.1 1.7 0.3 0.6 2.1 0.7 1.3 1.8 1.2 0.2 2.4 1 1.4 -0.1 2.1 1.9 1.1 0.7 1.8 1.5 1.4 1.5 -1 2 0.8 1.2 0.8 2.8 -0.6 1.2 1.1M1325.2 271.8l1.5 -0.2 2.2 1.5 2.1 -0.7 2.3 0.2 0.2 2.1 2.5 0.2 2 1.1 0 2.6 1.4 1.3 1.8 -1.2 0.7 -1.3 1.1 -0.6 1.8 -1.6 1.2 -0.3 0.9 2.3 2 0 0.5 2.7 1.1 0.9 0.4 2.3 1 0.9 1.2 1.9 -0.3 1.7 1.6 1.4 1 1.4 -0.9 2.4 1.3 0.9 0.3 2 1.9 0.4 2 -0.5 1.9 0.9 1.6 -0.4 0.5 -2.7 2.1 0 1 -1.5 1.5 -0.8 1.8 1.5 2 -1 1.2 1.9 1.6 0.1 2.1 0.7 0.9 1.3 2.5 0.2 0.6 1.3 2.3 0.3 2.1 0 0.8 1.2 2.4 0 1.3 0.9 1.7 0 2.7 0.4 1.1 0 1.9 0.9 2.3 -0.4M1428.8 571.5l-1.9 -0.1 -1 1.3 -2.1 0.1 -2.1 1.4 -2.3 -1 -0.8 2 -2.4 0.1 -1.1 0.8 -0.6 1.5 -1.3 1.4 0.3 1.6 1.3 1.2 -1 2.2 1.2 1.3 -1 2.2 0.7 1.8 -2.1 1.4 -0.1 2.1 0.7 2.2 -1.7 1.5 1.1 1.9 -1.4 1.9 0 1.8 -1.4 1.1 -0.4 1.9 -0.7 1.4 -1.6 1 -0.5 1.5 -1.9 0.4 -1 2.1 0.1 2.5 -1.7 1 0.2 2.4 -1.1 1.7 -1.4 2M1349.4 650.9l1.6 -1.2 1.9 0 1.5 -0.7 1.6 -0.8 2.1 0.2 1 -1.5 1.9 0 1.9 -0.9 1.3 0.3 1.3 -1.4 2.2 0.4 1.4 -1.3 1.5 0.8 2.1 -0.9 1.7 0.1 2.1 0.1 1.2 1.2 1.7 -0.6 0.9 -1.6 1.6 0.1 2.1 -0.2 0.2 -1.9 1.8 -0.4 1.6 -1 1.7 -0.1 1.7 -1 0.2 -2.2 1.5 -1.6 0.6 -2.1 0.2 -2 -0.1 -2.1 1 -2.1 1.4 -1.4 1.1 -1.9 1.4 -1.2 1.5 -0.9M1241.1 597.8l1 1.8 -1.2 1.3 0.8 2.4 -0.8 1.7 0.2 1.5M1204.8 654.6l-1.9 1.1 -1.7 0.3 -0.4 1.4 -2.2 0.4 -1.5 1.7 -0.3 2.5 -2 0.8 -0.1 1.7 -2 0.9 0.2 2.1 -1.8 1.6 0.2 1.9 -2.4 1.8 0.3 2.2 -1.3 0.6 -0.6 2.3M1241.1 606.5l-1.1 1 -0.4 2.1 -1.1 1.4 0.3 1.9 -1.4 1.2 -1.6 1.2 -0.8 2 -1.7 0.5 -0.9 1.3 -0.9 1.3 0.2 2 -2.3 0.7 -0.2 2.4 -0.6 1.1 -1.3 1.1 0.3 2.7 -1.5 1.4 0 2.3 -0.9 1.6 -2.4 1.2 0.7 2.2 -2.4 1.2 -1.7 1.2 0 2.3 -2.7 0.5 -0.6 2.3 -1.3 1.9 -2.3 0.1 -0.7 1.6 -2 1.4 -2.1 0.8 -1.4 1.5 -1.5 0.7M1125.8 570.3l-0.4 2.1 0.7 1.1 -1 1.9 1.6 1.5 -0.7 2.1 -0.6 1.9 0.2 1.8 -1.6 1.1 0.3 2.7 -0.8 1.3 -1.3 0.9 0.2 2.7 -1.5 0.5 0.1 1.8 -1.2 1.6 0.2 1.9 -1.9 1.1 0.4 2.5 -0.8 1.3 -0.4 1.9 -1.2 1.4 1.3 2.8 -1.4 1.9 0 1.4 1.3 1.7 0.2 1.6 1.1 1.1 -0.7 1.8 1.9 1.4 0 2 1.4 1.2 0.2 2.7 0.9 1.6 -1.3 1.9 1.5 1.6 -1 1.2 0.4 2.2 -1.2 1.3 0.3 1.8 -0.8 1.4 1.4 1.9 -1.5 2.1 0.6 1.4 -0.2 1.9 1.4 0 1.8 0.6 1.7 -0.7 1.5 1.6 1.6 -0.2 1.8 -0.2 1.5 0.9 2.4 -0.8 1.8 1.3 1.3 -0.8 1.9 0.7 1.6 -1.4 2.6 0.2 1.4 -0.4 1.9 -0.6 1.2 2.2 1.9 -0.3 1.2 0.4 2 0.5 1.5 1.1 1.7 0.1 1.1 0.8 1.7 1.5 -0.3 2.1 1.8 1 0.5 1.7 0 1.6 1.3 1.2 -1.1 2.3 1 1.2 -0.7 2.2 0.8 1.5 -0.2 2.2 1.2 1.6 -1.2 2.3 1.7 1.7 -1.4 1.7 1.1 1.8 1.9 1.1 2 -0.8 1.8 1 1.9 -0.1 1.8 -0.3 1.9 0.2 1.7 -0.8 2.1 -0.3 1.9 -1.1 1.8 1.6 1.9 -1.4 1.1 1.5 2 -0.6M1112.5 407.8l0 -1.4 0.9 -2.5 -0.6 -1.6 0.9 -2.2 -0.7 -1.7 0.7 -1.9M1248.6 479.1l0.4 2.1 -1.3 1.4 1.1 1.5 -1.3 1.8 0.5 1.5 -0.7 1.7 0.1 2.1 -1.6 0.9 1 1.8 -1.7 1.6 1 2.1 -1.3 1.5 -0.6 1.2 -0.2 2.6 -1.8 1.1 0.6 2.2 -2.1 1 0.4 1.9 -1.7 1.5 0.6 2 -1.5 0.9 0 1.8 -1.2 1.3 -1.2 2.2 -2.1 -0.2 -1 2.3 -1.9 0.7 -1.7 1.3 0.3 1.7 -2.1 1.5 -0.4 2 -1.1 1 -1 1.4 -0.4 2.3 -2 0.6 -0.5 2.3 -1.2 0.9 -0.9 1.5 -1.8 0.2 -1.8 2.1 -1.3 -0.1 -1.7 1.3 -1.3 1.4 0.1 2.1 -1.6 0.3 0.1 2.2 -1 1.5 -1.3 1.6 -0.1 1.4 -1.3 1.5 -0.1 1.3 -1 1.8 -0.8 1.2 0.1 2.3 -1.4 1.4 0.4 1.9 -2.2 1.2 0.2 1.8 1.2 1.6 -0.7 1.9 1.6 1.4 -0.8 1.4M1125.8 570.3l1.7 -0.8 1.9 0 1.6 -0.5 0.7 -1.7 3.1 -0.6 0.7 -2.2 1.8 -0.5 2 0.2 0.8 -2.4 2.2 0.1 0.5 -1.6 2 0 1.5 0.6 1.5 -2 2 0.7 1.2 -0.6 1.9 0.4 1.4 1.4 1.7 0.7 1.9 1.2 2.1 -0.5 1.8 1.2 1.7 0.6 2.1 0.1 1.2 1.3 2.1 -0.7 2.2 0.6 2.1 0.6 1.6 -1.2 2.2 1.9 1.6 -0.6 1.6 -1.4 2.5 0.7 1.2 -2.2 1.6 0.8 1.8 -1.1 1.7 -1 2.2 -0.1 1.1 -1.4 0.7 1.2 1.1 1.3 -0.6 1.7 0.6 1.6 -0.5 1.7 -0.3 2 -2.1 -0.2 -0.1 1.9 1.8 -0.4 1.3 1.7 1.5 -0.9 1.6 0.9 2.1 -0.1 2.5 0.9 1.7 -0.8M1116.2 381.5l0.7 2.2 1.7 1.2 0.1 1.8 1.4 1.2 -0.4 2.3 1.5 1.3 1.6 1.4 -0.7 2.9 1.8 0.7 0.1 2.4 1.7 0.9 0 2.2 0.7 1.5 0.3 1.7 1.3 0.9 0.3 1.6 0.9 1.9 1.8 0.4 1.2 2.2 1.2 0.7 1.6 1.7 1.1 0.7 1.7 0.1 1.7 1.4 1.7 0.3M1254.1 425.3l-0.5 1.6 -1 1.3 0.1 2.2 -1.4 1.9 -0.2 1.8 -0.3 1.9 -1.6 1.2 1 1.5 -1.5 1.6 0.5 2 -0.6 1.8 -0.1 1.6 -1.2 1.2 0.4 2.2 -1.7 1.1 0.5 2.3 -0.4 1.6 -0.8 1.7 1.1 1.7 -0.2 1.3 0.3 1.8 -0.4 1.4 0.5 2.1 0.7 1.4 -1.2 2 1.7 1.4 -1.1 2.2 0.9 1.1 -0.3 1.9 0.2 1.9 0.8 1.7 0.3 1.4M1074.9 495.4l0.1 1.5 1.7 1.4 -0.9 2.1 1.2 2 0.4 1.7 -0.4 2.5 1.2 1 -0.2 2.4 0.7 1.6 -0.3 2.1 1.3 1.4 -0.9 1.6 1.6 2.2 -0.5 1.5 -1.7 0.7 -1.8 -0.6 -1.5 0.6 1.8 1.3 -0.1 1.2 1.4 1.1 0.7 1.9 0.8 1.4 0 2.4 1.9 1.7 -0.2 2 0.5 1.6 -0.3 2 0.6 1.6 -0.1 1.8M1110.7 542.1l0.3 1.2 1.4 1.9 0.1 1.4 -0.5 1.6 1.4 2.2 -0.8 2.1 1.1 1.6 0.9 1.1 -0.2 2 2.1 1.1 -0.4 2.4 1.4 1 1.7 1.3 0.4 1.1 2 1.2 0.9 1.4 0.9 1.6 1.8 0.3 0.6 1.7M1103.2 246.6l-0.8 2.3 1.4 1.5 -0.9 1.8 0.8 1.9 1.4 0.8 -0.6 2.3 2 1.3 0.1 2 0.9 1.1 1.9 1 -0.3 1.7 1.9 1.8 -0.2 1.7 1.7 1.3 0.8 2 2.5 0.4 1.5 1.8 1.4 0.8 1.5 1.1 2 0.5 0.3 1.9 2.3 0.1 1.4 1.4 2.4 0.4 0.9 1.9 1.6 0.2 1.1 1.5 1.5 1 1.2 1.8 2.2 -0.1 1 1.5 1.8 0.1 1.3 1.7 1.7 0.5 1.7 -1.6 2.5 0.9 1.6 -0.3 1.4 -0.8 1.1 0.1M1110.7 372.8l1.8 1.4 -0.4 2 1.8 0.4 -0.4 2.2 1.8 0.7 0.9 2M1174.1 209.1l0 2 2.3 1.2 0 1.9 1.4 1.7 0.7 1.9 1.2 0.9 2.2 0.2 0.7 1.6 1.5 0.5 0.7 1.8 2.7 0.5 1 0.8 1 1.5 2 0.1 1.3 1.9 2.2 0.5 0.7 1.6 1.6 0.6 0.8 1.5 1.6 1.7 0.4 1.2 1.4 1.1 0.5 2.2 1.5 1.1 1.3 1 -0.5 2.3 1.4 1.7 -0.5 1.7 1.1 1.8 -0.3 1.5 1.5 1.7 -0.2 1.5 1.4 1.3 0.3 2.1 1.4 1.9 0.6 1.5 1.5 0.7 -0.7 3 1.6 0.4 -0.2 2 1.6 1.4 0.7 2.6 2.2 0.2 0.8 2.2 1.4 -0.2 1.9 1.7 1.7 -0.3 2.2 -0.5 0.8 -1.8 2.1 -1.4 0.8 -1.8 -0.3 -1.9 1.7 -1.1 0.3 -1.5 1.4 -1.2 0.4 -1.6 1.4 -1.2 0.5 -2.2 1.3 -1.3 1.2 -1.2 1.6 -1.1 0.3 -1.7 2.5 -0.6 0.6 -1.6 2.1 0 0.8 -2.6 2.1 0.6 1.3 -1.8 0.4 -1.8 2.2 -0.5 1.1 -1.9 1.3 -1 2.5 -0.5M1325.2 271.8l-0.9 1.4 0.7 2.1 -0.6 1.2 -0.5 1.5 -1.2 1.9 -0.4 2.5 0 1.8 1.2 1.5 -0.5 1.6 -1.2 1.8 0.4 1.8 -1.2 1.5 0.2 1.8 -1.4 1.1 -0.4 2.1 -2.4 1.3 -0.5 2 -0.7 2 0.8 1.3 -0.6 1.7 -0.4 2.2 -2.3 1.2 -0.6 1.6 -1.5 1.6 -1 1.7 1.5 0.8 1.9 -0.7 -1 1.6 0.1 2.2 -1.6 1 -0.6 2 -1.5 1.2 -0.4 2 -0.3 1.5 -2.1 0.8 0.1 2.5 -2.3 0.6 -0.4 2.1 -1.3 1 -1.3 1.9 -1.6 0.3 -0.8 1.8 -1.4 1.3 -1.9 0.2 -1.1 1.6 -1.5 0.8 -1.6 1.1 -1.9 0.6 -1.3 1.7 -3.1 -0.5 -1.2 1.2 -1.4 1.4 -1.6 0.6M1280.6 346.6l2.2 1.6 1.7 0.4 1 1.8 2 -0.4 0.7 1.9 1.4 0.6 0.2 1.7 -2.1 1.9 0.2 2.3 -0.7 1.4 0.4 1.9 -2.5 0.9 0.7 2.3 -1.3 1.1 -2.1 0.6 -0.7 1.7 -2.5 0.8 -1.2 1.4 -1.8 0 -0.9 2.6 -2.1 0.5 -1.7 1.6 0 1.8 0.1 1.5 0.3 1.5 -1.4 1.1 -0.2 1.4 -1.2 1 -0.8 1.7 1.3 1.7 0.8 0.6 1.1 1.6 1.2 1.3 -1.1 1.8 0.6 2 -1.4 1.4 0.6 1.6 -1.4 1 -0.6 2.7 -1.1 1.5 -1.2 1 0.2 2.8 -1.1 0.9 -1 1.4 -2.5 -0.1 -1.2 1.8 -1.4 1.8 0 1.4 -1.9 1.4 -0.9 1.7 0 1.7 -2 1.4 0.5 2.8 -1.2 1.2 -0.5 1.7M1256.1 239.6l1.5 1.4 -0.3 1.8 0.8 1.3 1.6 -0.4 2.1 1.3 1.8 0.3 1.5 1.4 0.6 0.9 1.8 1.4 0.2 1.2 2.5 0.9 0.8 1.2 1.7 1.4 1.7 -1.1 1.6 1.3 1.7 0.5 2.1 -0.6 1.5 1.6 1.6 -0.8 1.4 1.1 1 2.2 -0.1 2 1.8 1.1 1.2 0.3 2.1 1.6 1.5 0.3 0.9 -1.7 2.5 -0.4 1.8 0.8 1.8 -1.1 1.7 1.2 1.9 -0.3 2 0.2 1.7 0.5 1.6 1.6 2.5 0.1 0.3 1.9 2.4 0.5 1.5 0.9 1.9 -0.1 1.5 1.8 1.5 -0.9 1.7 0.8 1 1.4 2.7 -0.2 0.5 1.6M1103.2 229.6l2.5 -1 1.3 -1.8 1.7 -0.2 2.2 -0.8 0.6 -2.1 1.6 0 1.2 -1.7 1.9 -0.4 1.6 -0.2 1.7 -1.7 2.2 0.5 1 -2.4 2.3 0.1 1.2 -0.8 1.4 -0.4 2 0.6 1.9 -1.7 1.2 1.4 2.1 -1.3 1.4 0.4 1.5 -0.6 1.5 1.3 1.8 -0.8 2 1.3 1.2 -1.2 2 0.5 1.9 -0.5 1.9 -1.7 2 0.8 1.7 -1.1 -0.6 -1.7 1.9 -1.1 -0.5 -2 0.5 -1.5 1.6 0.2 2.1 -1.6 1.8 1 1.1 -1.3 2.2 -0.1 2.2 0.3 1.9 -0.7 1.2 0.3 2.2 -0.6 0.3 1.9 2.4 0.4 0.1 1.5M1454.8 387.9l2.1 0.9 1.6 0.6 2.2 0.6 1.6 0.3 1.8 -1.6 1.9 0.2 1.6 -1.5 2.2 -0.9 1 -0.9 1.9 -0.5 0.8 -1.4 1.6 -1.3 2.2 -0.5 1.4 -0.7 2.4 0.7 0.7 0.9 1.1 0.9 0.2 2 -2 1.8 -0.6 1.8 -1.3 1.9 -0.5 1.9 1.1 0.9 1.3 1.9 1.7 0.6 0.1 1.8 2.5 -0.4 1.3 -1 1.8 -0.6 0.5 -2.2 1.4 0 1.7 -0.7 0.5 -1.5 1.6 -0.7 2.2 -0.6 1.1 -0.6 2.3 -0.6 1.3 -1.4 2.1 0.4 2.3 -0.9 1.1 -0.9 2 -0.3 1.5 -1.6 1.7 -1.6 1.7 1.3 1.3 -1.1 2.2 1 1.6 -0.6 1.9 -0.1 0.9 1.1M1517.6 368.2l1.6 1 -0.3 3 1.1 1.2 -0.4 2.4 1.7 1 0.1 2.2 -0.8 2.2 1.9 1.7 -1.1 1.8M1464.4 419.1l0.5 -2.3 1.1 -0.9 0 -2.1 2 -1.1 0 -2.2 1.8 -1 2.1 1 1.6 0.9 2.3 1.2 1.5 1.2 1.2 1.6 1.3 0.1 1.3 1.1 1.9 1.6 1.8 0.2 1.8 -1.1 1.1 1.3 1.8 -1.1 2 -0.7 1.1 -1.2 1.6 -0.4 1.8 -1 0.2 -2.2 1.7 -0.1 1.6 -1.8 1.9 0.6 1.2 -1.2 2 -0.8 1.5 0 2.2 -0.6 1.6 1.4 2.1 -0.4 1.6 -0.3 1.7 0.7M1409.8 406.2l2.2 1 1.5 0.9 0.5 1.6 1.7 0.9 0.6 1.3 1.3 2.2 1.1 1.5 -0.6 2 1 2.3 2.4 0.9 0.9 -1.3 1.9 -1.1 0.6 -2.4 1.8 -0.4 1.6 -1.5 1.2 -1.3 0.7 -1.6 2 0.6 1 -1.8 1.6 -1.4 0.7 -1.6 1.5 -0.8 0.5 -1.9 2.3 -0.4 1 -1.3 1.8 0.8 1.3 1.9 2.4 0.5 2 1.1 1.8 0.3 1.6 1.4 1.5 -1.2 1.6 1.2 1.5 1 1.3 -0.5 1.2 1.3 1.6 1.5 1.6 1.5 -0.2 2.2 1.2 1.3 1.4 2.2M1521.4 384.7l0.5 1.5 -1 2.3 0.3 1.6 -0.3 2.1 -0.4 2.3 -1 1.4 1.1 1.9 -1.1 1.9 -1 1.1 0.3 2.1 -1.4 1.8 -0.2 1.5 -1.4 1.5 -0.5 1.8M1331.3 434.1l1.4 -1.2 2.2 -0.1 0.1 1.6 1.6 1.7 1.4 1.4 -0.8 2.3 1.4 1.8 1.7 1 1.5 0.2 1.5 1.9 1.6 0.6 1.3 -0.8 2.2 0.9 1.2 -2 1.6 0.2 1 -1.7 2.4 0.3 0.9 -2.4 2.3 0.7 0.9 -1.4 0.9 -1.7 2.3 -0.6 0.2 -1.4 1.6 -1.3 0.9 -2 -0.4 -2.5 2.1 -1.4 -0.1 -1.6 0.6 -1.9 -0.3 -1.9 0.9 -1.2 2 -0.7 1 -2 2 -1.1 1.8 0.2 1.1 0.6 2 0 1.4 0.5 1.9 0.2 1.2 0.4 1.9 0.2 1.2 0.4 1.9 -1.1 1.4 -0.5 0.8 -1.3 2.2 -0.3 1.6 0.5 1.2 -1 1.7 0 1.6 -1.2 2.1 -0.7 1 -1.9 1.9 -0.9 0.9 -1.6 1.7 -0.3 1.1 -1.9 1.4 -1.7 2.4 -0.2M1408.7 302.7l0.3 1.7 -0.2 1.7 0.7 2.5 -1.3 1.5 1.5 1.8 -1.1 1.5 1 1.6 -1.2 2.6 0.9 1.4 1 1.2 -0.5 2.3 1.4 1.2 -1 2 0.7 2.1 -0.7 1.5 -0.4 1.8 1.4 1.9 -1 1.6 0.5 2.2 0.8 1.7 0.9 1 0.7 1.9 0.9 1 0.6 1.5 -0.5 2.2 1.7 1.6 0.1 1.3 -0.2 2.3 1 1.5 -1.5 1.6 1.1 2.1 -0.5 1.6 2.1 1.9 -0.7 1.4 0.5 1.7 -0.5 1.4 1.2 1.6 0.3 1.7 0.9 1.5 2.2 1.3 1.1 1.4 0.5 1.2 0.9 1.2 0.7 1.8 -1.4 2.2 -0.2 1.6 -1.1 1.6 0.1 1.7M1422.4 383.3l-0.9 1.5 -1.4 0.8 -0.7 1.6 1.6 1.6 -0.5 2.4 -0.5 2 0 1.9 -0.9 1.8 -1.4 1.1 -0.4 2.1 -1.9 1 -0.9 0.9 -1.5 1 -0.9 1.4 -1.7 0.8 -0.6 1M1331.3 434.1l0 0M1399.9 300.4l2.1 0.5 1.7 0.9 1.3 -0.3 1.9 1.4 1.8 -0.2M1193.1 717.1l2 1.1 0.7 1.6 2.4 -0.9 0.8 2.1 2.1 0.5 1.6 -0.4 1.6 1 2.2 -0.2 0.9 1.2 2.1 -0.6 1.6 0.7 1.9 0.2 1.3 0.4 2.1 0.1 1.4 0.7 2 -0.3 1.3 0.6 1.7 -0.2 1.4 1.1 2.2 -0.6 1.2 1.2 1.8 -0.7 1.4 -0.4 2.1 1.7 1.5 -0.5 0 -1.8 1.7 -2.3 1.5 -0.7 1.4 -1.6 2.1 -0.2 1.9 0.6 1.1 -1.6 1.8 0.4 1.9 -1.1 1.9 -1 1.5 0.5 1.8 -1.1 1.4 -0.1 1.6 1.1 2 -1.1 1.6 0.7 1.5 0.2 1 1.3 2.4 -1.3 1.6 1.3 1.8 0.1 1.4 -1.6 2.3 0.8 1.2 -1.5 1.8 -1.3 1.9 0.8 1.1 -0.5 1.9 -0.2 1.5 -0.5 1.7 1.6M1289.9 704.1l-1.3 1.6 0.5 1.8 -1.7 1.6 -0.5 2.2 -1.7 0 -0.4 2.4 -1.1 0.8 -1 1.9M1187.3 677.9l0.3 1.6 -1.9 1 -0.1 2.5 -0.8 1.1 -0.7 1.6 0.2 1.8 -1.8 1.5 1 2.1 -1.2 1.8 -0.2 2 -1.7 1.6 0.9 2.1 -1.6 1.1 0.1 1.9 0.6 2.2 -1.9 1.2 0.1 1.6 2 0.2 1.4 -0.3 1.6 0.7 1.6 -0.6 2.1 0.5 1.1 1.4 -0.1 1.6 1.5 1.5 0 1.8 2.1 1 -0.3 1.3 1.5 1.4M1399.8 621.1l1.5 1.2 0.2 2.5 0.8 1.4 0.4 1.1 2.1 0.9 2.1 0.8 2.1 0.3 2.1 0.5 1.4 0.1 1.9 0.8M1414.4 630.7l0.3 2.7 -1.1 1.4 0.9 1.8 -0.1 1.6 0 2.6 0.8 1.6 -2.2 0.6 -0.3 1.9 -2.6 0.2 -1.5 1.4 -2.7 0.3 -1.5 1.4 -2.3 0.8 -1 1.7 -1.5 1.5 -1 1 -0.5 1.2 -0.8 1.3 -0.5 1.3 1.3 1.2 -1 1.4 -1 1.1 -2 -1.2 -1.9 1.7 -1.2 -0.9 -1.9 0.6 -1.7 -0.6 -1.4 0 -1.7 -0.3 -1.2 0.6 -2.1 0.1 -1.9 -0.1 -1.4 0.5 -0.6 -1.4 -0.2 -1.5 -1.7 -0.7 -0.6 2 1.3 1.2 -1.2 1.6 -2 -0.4 -1.7 -0.9 -2.5 0.5 -1.1 -0.7 -2.2 -0.5 -1.4 1 -1.9 -0.6 -0.7 1.7 -1.8 0 -1.5 0.6 -1.4 0.9 -1.2 -1.8 -0.9 -1.4M1456.7 365l1.6 0.5 1.2 1.8 1.2 0.6 1.8 -0.9 1.7 0.3 2.3 -0.4 0.4 -2.7 2 -0.2 1.9 0 1.4 -1.7 1.3 -0.6 1.8 -0.3 1.3 -1.5 1.6 -0.1 1.9 0.5 -1.5 1.1 0.1 2.6 -1.6 1.3 -0.7 2.5 -0.6 1.3 0.1 1.5 1.8 0.9 1.5 1 1.3 -0.4 1.7 0.8 1.7 0 1.6 0.7 2.1 0.8 1.8 0 1 -1 1.2 -1.3 0.2 -2 0.9 -1.6 0.1 -2.6 2.3 -0.9 1.7 -0.2 1.1 2 1.3 1.4 2.7 -1.4 1.7 1 1.7 0.5 1.9 -1.3 2 1.5 1.9 -0.7 1.6 -0.5 1.8 1.8 1.6 -1.6 1.5 0.7M1478.6 338l1.1 1.3 2.5 -0.7 1.7 1.5 1.4 0.3 1.4 1.1 1.9 0 2.3 -0.5 1 1.4 2.3 -0.4 1.6 0 2.4 -0.8 1.6 0.3 2 -0.1 2 1.1 1.7 -0.5 1.2 1 2.3 0.1 1.1 0.8 0.5 2.4 2.4 -0.4 0.4 2.2 1.7 1.5 -0.9 2.6 1.1 1.5 -0.5 1.5 1.6 1.5 -0.6 1.6 0.9 2 -0.5 2.3 1.1 1.9 -0.3 1.8 0.6 1.9M967.4 425.6l0.6 -1.9 2.9 -0.5 0.3 -1.9 2.4 -0.5 2.1 -0.2 1.5 -0.7 2.3 0.1 1.6 -0.2 1.2 1.4 2.4 -0.7 1.4 0.6 1.5 -1.2 2.2 -0.2 1.3 -1.9 1.3 -0.2 1.3 -1.6 2 0.4 1.7 -1.1 1.3 -0.7 0.3 -2.2 0.9 -0.8 1.8 -0.7 1.4 0.3 1 -1.3 2 0.4 1.6 0.6 1.1 -2.1 2.1 0.7 1.5 -0.4 0.1 -1.7 2.2 -1.3 -0.4 -2.2 1.8 -1.1 -0.1 -2 2.7 -0.7 -0.1 -2.3 1.3 -1.1 0.3 -1.8 2.2 -0.9 2.6 -0.2 1.7 0.6 2 -0.9 1.5 0.6 2 -1 1.9 0.9 2.1 0 1.2 1.2 1 1.1 1.5 1.5 1.9 0.4 0.3 1.8 1.6 1.5 1.5 0.6 1 1.7 1.6 1.1 0.9 1.1 2.4 0.4 1.1 1.9 1.5 0.8 1.8 -1.3 1.9 0M1057.4 407.8l-0.5 2.2 1.6 1.1 -1.1 1.7 1.5 1.6 -0.7 2.2 -0.4 1.8 0.7 2.2 -1.1 1.7 0 1.8 -0.6 1.4 1.3 1.7 -0.3 1.7 0.4 1.8 -0.8 2.1 0.8 1.3 0.3 2 -0.7 1.9 1.1 1.8 -1.3 1.4 1 2.4 -0.4 1.7 1.7 0.7 2.2 -0.5 1.5 1.1 1.8 -0.4 1.8 0.9 2.5 -1.3 1.5 1.3 1.7 1.4 2 -1.5 1.9 2.2 1.9 -0.1 1.9 0.7 1.1 -0.4 1.1 1.8 2.1 -0.1 -1.2 1.5 1.4 2.7 -0.9 2.1 0 1.7 0.2 1.9 1.1 1.9 -0.5 1.9 1.2 1.8 0.9 1.8 -0.2 1.1 0.9 1.9 0.4 1.4 -0.7 2.4 -1.6 0.4 -1 2.1 -1.2 1.4 -0.8 1.4 -0.5 2.2 -1.3 0.7 0.1 2 -2 1.1 0.6 2.4 -2.4 1.5 -1.4 1.6 0.1 1.4 -1.2 2M967.4 425.6l2 0 1.3 0.7 2.2 0.1 1.6 0.7 1.6 0 2 -1 1.7 0.3 2.3 -1.1 1.5 0.3 1.9 0.4 1.7 -1.3 2.3 0.5 1.6 -0.6 -0.7 1.5 1.4 1.8 -0.9 1.7 0.7 2 -1 1.9 0.8 1.5 -0.5 2 -0.3 2.1 1.3 1.5 -1.2 1.7 1.5 2 -1 1.5 1.5 1.2 -0.3 2.1 1.4 1.1 -0.7 2.3 1.5 2.1 0.3 2 -0.2 1.9 1.9 0.9 -0.3 2.4 1.1 1 0.6 1.5 2 0.7 0.8 2 1.6 0.8 1.8 1 0.7 1.9 1.2 0.9 1.2 1.4 2.8 -1.1 1.7 2.3 1.8 -0.6 1.6 -0.8 1.8 1.5 2.3 -0.7 1.8 0.5 1.8 0 0.8 1.7 2.2 -0.1 0.6 1.9 2.2 0.3 1.8 1 2.1 0.2 0.4 1.5 1.9 1 1.1 1.6 1.7 -0.3 1.5 1.7 2 -0.6 1.2 1.4 1.1 0.7 2.1 -1 1.3 1.6 1.8 -0.1 1.8 0.9 0.8 1.6 1.8 0.5 0.5 1.5 1.3 1 1.9 -0.5 1.8 1.2 1.4 -0.4 2.2 0.7 1.5 -0.2 1.6 -0.6 2.5 1.4 1.7 -1.3 1.7 0.5 1.6 0.8 1 1.4 1.1 0.3M1025.5 211.3l0.1 -2.2 -0.4 -1.3 -1.5 0.2 -1.8 0.2 -2.4 -0.8 -1.8 0.4 -2 0.2 -0.9 -1.5 0.4 -2.5 -0.1 -1.4 -0.3 -1.9 -0.3 -2.4 -1.8 -0.9 -1.1 -1.3 -0.2 -2.1 -0.9 -1.7 0.9 -2.4 0.4 -1.7 -1.6 -1.7 -1.1 -1.2 -1.4 -1.3 -0.9 -1.3 -1.6 -1.2 -1.7 -1.8 -0.8 -1.5 -1.7 -1 -0.4 -1.9 1.6 1.2 1.3 -0.4 1.2 0.8 2.1 0.4 2 0.7 2.2 -0.7 1.8 -0.4 0.7 1.3 0 1.3 1.3 1.6 1.1 -0.6 1.8 0.6 1.1 -0.6 1.4 -0.2 1.2 0.9 1.3 -0.1 2.5 -0.4 2.5 0 0.2 1.5 1.5 1 0.3 1.3 1.7 0.8 1.1 1.1 1.4 -0.3 1.5 -0.3 1.1 -0.5 0.2 -1.6 -0.2 -1.3 -0.8 -1.6 1.2 -1.4 0.5 -1.4 2 0.2 1.3 -0.1 1.2 -1.6 1.5 0.2 1 0.6 2.5 0.5 1.3 0 2 -0.9 1.6 -0.3 1.7 -0.5 1.8 -1 1.6 -0.3 0.5 -1.4 1.1 -0.6 1.8 -0.4 0.7 -1.3 1.7 -0.8 2.5 -0.5 1.7 0 0.8 -1.2 1.8 -0.8 0.3 -1.3 1.6 -0.5 0.9 -1.2 1.2 -2 0.6 -1.4 -1 -1.6 -0.3 -1.3 -0.9 -1.2 1.9 0.3 1.4 0.2 1.7 -0.4 1.7 -0.1 1.6 0.1 1.7 -0.1 0.5 1.8 1.6 -0.1 1.3 1.3 -0.5 2 0 2.4 -0.4 1.4 -1.2 0.9 -0.5 1.6 -0.4 1.7 1.8 0.6 1.1 0.2 2 0 1 0.8 0.7 1 1.3 0.7 -0.2 1.4 0.7 1.5 0.9 1.3 0.7 2.5 -0.5 1.8 -0.3 1.1 -1.6 0.9 -0.1 1.6 -1.7 0.6 -1.2 1.1 0.3 1.6 -0.7 1.7 -0.3 2 -0.6 1.3 -0.9 1.6 0.5 2.6 -0.3 2 -0.1 2.2 1.1 1.6 0.2 2.5 0.7 1.6 0.9 1.8 0 1.6 1.3 0.9 -0.5 2.6 1.3 1.5 1.6 1.3 0.5 2.1 1.2 1.2 1.3 1.7 1.1 0.5 1 1.2 1.6 0.9 1 2 1.9 0.4 1.2 0.2 1 1.6M1192.7 737l-1.3 0.5 -2.4 0.1 -1.3 0.6 -1.6 0 -1.3 0.6 -2 0.1 -1.6 2 -1.8 -0.2 -1.6 -0.1 -1.7 2.5 -1.8 -0.6 -1.6 1.5 -0.7 1.5 -2.1 0.4 -1.3 1.5 -1.4 0.3 -1.2 1.3 -0.9 2.1 -1.9 0 -0.4 2.2 -1.8 0.7 -1.2 1.3 -0.5 2.3 -1.6 0.6 -0.7 1.9 -1.7 1 -0.9 1.3 -0.9 2.1 -2.3 0.1 0.1 2.9 -1.9 0.7 -1.5 1 -0.7 2.1 -2.4 0.9 -0.4 1.8 -0.7 1.7 -2.4 1.1 -0.5 1.4 -1.4 1.7 -1.4 1.2 -0.7 2.1 -2.2 0.1 -0.7 1.6 -1.8 0.8 -0.9 1.5 -1.5 1 -1.8 -0.1 -1 2.1 -1.4 0.2 1.9 -0.3 1.5 2 1 -1.4 2.9 1.1 1.1 -1.4 1.5 -1 2 1.3 1.5 -0.8 1.7 0.4 1.6 2.1 1.7 1.4 1.5 0.9 1 1 1.1 1 0.9 1.8 1.3 0.6 1.9 1.4 0.6 1.9 0.1 1.7 1.6 1.6 1.8 -0.4 1.5 -2.1 1.5 1.4 1.8 -0.5 1.8 0.8 0.3 2 1.3 0.5 2.1 1 0.8 1.7 2.1 0.6 1.2 1.7 2.4 -0.1 1.4 0.9 1.7 1.7 1.7 -0.2 1.6 1 1.3 0.6 1.1 2.2 1.8 0.6 0.7 1.5 2.4 -0.1 1 1.1 1 1.4 2.4 1.1 0.9 1.4 1.3 0.8 1.1 1.9 2.1 0.5 1.2 2.1 2 0.4 0.4 1.4 1.8 0.6 2.1 0.1 0.4 1.6 -0.6 1.6 -1.9 1.8 -1.4 1.1 -0.6 0.9 -1.3 1.3 0.1 2.6 -1.3 1.6 0.6 2 -0.4 1.3 0.1 1.7 0.7 1 1 1.5 0.2 -1.6 2.3 -0.4 0.8 -1.4 0.7 -1.3 2.6 -0.9 0.9 -1.1 1.9 -1 1.4 -1.5 0.7 -1.5 1.6 -1.9 0.3 -1.6 -0.4 -2 1.7 -2.3 0.3 -1.6 1.8 -1.4 -0.4 -1.6 1.1 -2 1.1 -2 1.7 0.4 1.4 -1.7 1.9 -0.2 1.4 -2.7 1.7 -0.4 1.5 -0.2 1.4 -2.3 1.7 0.7 1.2 -1.6 1.2 -2 2.3 0.4 0.8 -1.4 1.6 -1.1 1.7 -1.2 0.4 -1.6 1.6 -0.7 1.3 -1.5 0.5 -2.2 2.1 0.2 0.1 -1.6 1.4 -1.4 0.6 -2 1.3 -1.2 0.1 -1.7 1.4 -1 0.4 -1.5 1.7 -1.1 -0.1 -1.6 1.3 -1.6 0.8 -1.8 0 -1.2 2.1 -2 -0.4 -1.7 0.4 -1.8 1.6 -1 -0.4 -1.9 0.9 -1.1 0.7 -1.9 1.9 -1.1 -0.1 -2M1192.7 737l1.4 0.1 1.8 -0.4 1.6 0.3 1.9 -0.5 1.3 0.7 1.7 -1 2.2 1 1.4 -1 1.7 0.8 2.1 0.1 1.5 1.5 1.2 -1.5 1.8 1.3 1.8 -0.2 1.6 0.5 1.3 0.8 2.5 0.2 1.3 1.4 1.6 -0.4 2.2 -0.2 1.2 1.9 1.7 -0.2 1.6 1.5 1 1.8 2.1 -0.2 1.1 1.8 1.6 0.3 0.7 1.5 2.3 0.5 1.2 2.1 0.3 1.9 2.3 1.1 0.7 1.2 2.1 0.6 2.1 1.1 1.4 0.2 1.7 1.6 1.9 -0.2 1.8 0.2 1.5 1 1.7 0.2 1.8 0.6 1.5 1.4 -1.9 1.4 -0.6 1.9 -0.5 2 -0.8 1.3 -0.3 1.7 -1.4 1.5 0.5 1.8 1.7 1.1 2.5 -0.2M1282.7 716.4l0.9 1.7 0 2.6 -0.7 1.5 -0.5 1.9 -1.2 1.6 -0.1 1.7 -0.2 1.4 -0.6 1.8 0 1.8 -0.2 1.6 2.1 2 0.6 1.4 1.4 1.8 -0.3 2.1 1.4 1.1 -0.8 1.6 -0.9 1.7 -0.8 1.7 -1.4 1.5 1.3 1.8 -1.6 1.7 -0.7 1.2 0.7 1.8 -0.8 2 -0.6 2 -1.1 2.1 -1.2 1.7 -2.4 0.5 -1.4 1.2 -1.4 1 -2.2 1 -1.4 1.3 -1.3 1.2 -1.5 2 -1.3 1 -1.8 1.3 -1.6 1.2M1193.1 717.1l-0.4 1.4 0.7 2 -0.6 1.8 1.8 1.6 -1.2 2 0.7 1.5 0 1.7 -0.9 2.5 0.4 1.9 -1.6 1.9 0.7 1.6M1464.4 419.1l1.3 1.6 -0.2 1.4 1.4 1.1 0.1 1.8 0.7 2 0.2 1.8 0.3 2.3 2.1 1.4 -1.2 1.4 1.2 1.6 -1 1.7 -1.3 2.1 0.4 2.1 -1.6 0.7 -1.7 0.3 -1.4 0.9 -1.9 0.5 1.1 2 0.3 1.7 0.8 2.3 1.6 0.5 0.9 1.8 0.5 2 0.7 1.4 2.1 0.4 0.9 1 1.8 -0.2 2 0.7 2.1 -0.8M1494.2 438.1l-0.9 1.5 -2.1 0.7 -1.7 1.6 -2 0.7 -0.2 2.2 -1.6 0.1 -0.9 1.7 -0.6 1.8 -2.6 1.3 -0.5 1.6 -1.8 0.8 0.5 1.7 -1.6 1.2 -1.6 1.6M1241.1 606.5l1.8 -0.7 1.7 0.4 1.7 -1.5 2.3 -0.2 1.5 0.6 1.8 -0.3 1.3 1.1 2.3 -0.7 1.3 0.8 1.8 0 2 1.1 1.7 -1.6 0.9 1.2 2.5 -0.8 1.1 1.1 1.8 -0.5 0.9 1.5 -0.3 1.7 1.9 1.7 0 1.4 1.3 0.6 1.9 -0.2 1.8 0.9 0.4 -2.5 0.9 -1.3 1.7 0.8 2.2 -2 1.4 0.8 2.3 -0.5 1.9 0.5 1.8 -0.9 1.8 0.6 1.4 -1.2 2.2 0.2 0.6 -1.8 2.2 1.4 1.8 -1.2 2.1 -0.6 1.1 2 1.8 -0.6 1.3 1.7 -1.2 1.6 1.5 2.1 -0.5 1.8 1.4 1.6 0 1.9 1.3 1.4 -0.1 2.2 1.1 1.1 0.2 2.1 0.7 1.9 -0.3 1.7 1.3 1.4 0.6 2 1.8 0 1.4 0.6 1.8 -0.6 1.1 1.6 1.4 0.9 -0.3 1.7 -1 2.5 0.3 2 -2 1 0.1 2 -0.4 1.9 0.8 2.3 0.5 1.8 1.6 1 0.8 2.2 1.1 2.3 0.6 1.9 0.7 1.5 0.5 1 1.8 -0.9 2.4 0.9 1.7 -0.9 2.5 -0.8 0.4 -1.8 0.8 -1.1 1.9 -0.7 1.9 0.3 1.5 -1.3 2.6 0 1.4 -0.2 2.1 -1.9 1.6 0.4 1.8 -0.9 1.5 0.2 1.7 -0.3M1204.8 654.6l1.7 -0.7 1.8 1.3 2.2 -1.4 1.5 0.9 1.6 -0.6 2.3 0 1.9 0.5 1.8 -0.5 1.5 0.5 1.4 1.4 2.5 -1 1.7 1.4 1.9 0.2 1.9 1.7 2 -0.6 1.4 0.8 2.2 0.6 1.5 1 2 -0.7 1.2 1.1 1.8 -1.3 1.6 1.5 1.9 -0.4 1.4 0.7 2.4 -1.3 1.6 1.1 2.5 -1.1 1.1 1.4 2.3 -0.8 1.9 1.3 1.4 0 1.7 1.2 1.4 1 -0.1 3.2 1.4 0.5 0.3 2.7 0.7 1.4 1.2 1.4 -0.7 2.2 0.9 2.2 -0.1 1.7 1.3 1.3 -0.8 2 2 1.3 0 1.7 -0.6 1.7 1.7 1.2 0.1 2.1 1.7 0.3 1.8 -0.4 0.9 1 1.9 0.3 1.7 0.9 1.7 -0.5 1.6 0.9 -0.1 2 1.4 0.9 -0.1 2.1 1.5 0.8 1.5 -0.2 1.8 1.4 1.5 0.5 -0.2 1.4 0.2 2.3M1349.4 650.9l0.2 1.7 1.3 1.3 1 1.3 2.5 -0.3 1.3 0.6 1.6 0.4 0.6 2.3 -1.9 1.7 -1.6 0.8M1354.4 660.7l-1.7 1.3 -1.7 -0.5 -1.2 0.6 -1.3 0.7 -0.9 1 0.1 1.9 -0.9 1.3 -1.8 1 -0.6 1 -0.8 1.3 -1.8 1.2 -2 0.5 -1.3 1.2 0.3 2.2 -1.1 1.1 -1.2 -0.4 -1.3 -0.4 -2.7 -0.7 -1.5 1.1 -1.9 -0.1 -1.2 0.7 -1.9 0.3 -1 0.9 -1.8 -0.3 -1.4 1.4 -2.2 0.5 -1.2 1.7 -2.4 -0.1 -1.5 1.6 -2 0.2 -1.5 1.1 0.2 2.3 -2.5 0.9 0.6 1.5 -0.6 1.7 -1.3 1.6 -1.7 0.4 -1.2 0.8 -1.6 0.9 -1.7 1.3 -1 2.1 -2.1 -0.1 -1.6 2 -1.6 1 -2.2 1 -1 2.3 -1.8 0.4M1331.3 434.1l-1.8 1.6 -0.8 1.6 -1.4 0.8 -1.2 2.2 -0.6 1.5 -2 1.1 -0.6 2.3 -1.8 1.4 -1.4 1.6 0.1 1.6 -1.2 1.8 0.2 1.8 1.3 0.9 0.3 1.8 1.8 1.3 0.2 1.7 0.6 2.2 -1.5 1 0.3 2.3 -0.7 2 -0.8 1.4 1.3 2.3 -0.6 1.4 1.8 1.8 -1 1.9 0.6 1.2 0.6 1.9 -0.3 2.4 0.4 2M1248.6 479.1l0.9 -1.7 1.8 -1.2 1 -2.1 1.4 1.3 -0.1 2.1 1.1 1.2 0.1 1.7 1.1 1.1 2.5 -0.7 0.8 1.5 1.9 0.6 1.5 1.5 1.9 -0.7 0.6 2.2 2.2 0.2 1 -2.1 1.9 -0.5 0.2 -2.6 1.9 -0.5 2.4 -0.1 1.4 -1.2 1.5 1.4 1.2 1.5 1.4 0.2 0.9 1.9 2.1 0.8 0 1.6 1.6 1.4 1.1 -0.5 1.2 -1.5 1.5 -0.5 1.5 1.8 2 -0.8 1.5 1.5 2.1 0.2 1.3 0.8 1.6 0.2 1.8 -0.4 0.7 -2.6 2 0.5 2.7 -1.4 1.6 0.9 1.8 0 0.9 -1.8 2.3 0.4 1.2 -0.6 1.8 -0.3 0.9 -0.7 2.2 0.3 1.4 -0.5 1.5 -0.2 1.7 0.2"/>
<path fill="#83add3" stroke="#000" stroke-opacity="0.64" stroke-width="0.8" d="M1288.8 528.4l14.6 -0.5 0.5 9 -15.1 1z"/>
<path fill="none" stroke="#111" stroke-width="1.2" d="M1294.3 261.7l0.9 0.8 1 -1.6 0.8 2.1 1 -2 0.9 1.8 1 -1.8 0.8 1.6 1 -1.4 0.8 1.9 1 -2.1 0.9 1.2 0.5 0.9 1.5 -0.5 0.2 1.5 1.1 0.1 0.3 1.4 1.8 -1.5 0.2 1.7 1.6 -1.1 -0.3 2.7 1.8 -1.6 0 2.2 1.3 -0.5 0.7 0.7 1 -0.7 0.5 1.5 1.2 -1.1 0.6 1.2 1.1 -0.9 0.6 1.2 0.9 -0.2 0.4 1.2 1.7 -0.9 -0.2 2.2 1.9 -1.2 0.4 1.3 0.7 1 1.1 -1.7 0.6 2 1 -1.7 0.7 1.5 1.1 -1.8 0.6 1.4 0.3 1.6 1.9 -1.8 -0.1 2.4 1.6 -1.1 0.2 1.5 1.1 -0.1 0 1.1 1.4 0.1 -0.8 1.6 2 -0.2 -1.1 1.7 1.5 0.1"/>
<path fill="none" stroke="#111" stroke-width="1.3" d="M1341.9 277.4l1.2 0.3 -0.1 -2.2 1.9 1.4 0 -1.9 1.1 0 0.2 1 1.5 0 -0.8 1.5 2.1 -0.4 -1.5 2 2.2 -0.5 -0.3 1.3 -0.3 1.3 2.2 -0.2 -0.9 1.7 1.7 0.1 -0.2 1.2 -0.1 1.1 2.1 0 -1.2 1.6 2 0.1 -1.2 1.6 0.9 0.6"/>
<path fill="none" stroke="#111" stroke-width="1.2" d="M1357.7 296.1l0.8 0.4 0.9 -0.7 0.8 1 0.9 -0.9 0.8 0.6"/>
<path fill="none" stroke="#111" stroke-width="1.6" d="M1374.4 658.2l0.9 0.1 0.6 -1.2 1 0.4 -0.3 1 1.6 0.3 -0.5 1.1"/>
<path fill="none" stroke="#111" stroke-width="1.3" d="M1350.2 662.4l1.2 0.5 0.3 -1.5 1.3 0.7 0.4 -1.5 1 0.1 0.4 1.3 1.4 -0.8 0.3 1.6 1.2 -0.4 1.2 0.2 0.1 -1.9 1.6 1.3 0.4 -1.3 0.9 0.5 0.8 -1 0.8 1.3 0.9 -1.3 0.8 0.5 0.7 0.7 1.1 -0.7 0.4 1.6 1.1 -0.6"/>
<path fill="none" stroke="#111" stroke-width="1.3" d="M1336.8 676.5l0.7 0.8 1.2 -0.6 0.5 1.2 1 -0.1"/>
<path fill="none" stroke="#111" stroke-width="1.5" d="M1395.6 660.3l0.8 0.1 0.5 -0.5"/>
<path fill="none" stroke="#111" stroke-width="1.4" d="M1283.6 738l-0.1 0.9 1 0.6 -0.7 1 0.9 0.6 -0.1 0.9 -0.7 0.8 0.7 1.1 -1.2 0.7 0.7 1.1 -0.7 0.8"/>
<path fill="none" stroke="#111" stroke-width="1.3" d="M1260.6 762.5l-0.9 0.4 0.4 1.3 -1.3 0.2 0.2 1.1 -0.8 0.5 -0.5 0.8 0.7 1.1 -1 0.7 0.3 1 -0.4 0.9 -0.4 1 0.5 1 -0.4 1"/>
</g>
<g stroke-linejoin="round" stroke-linecap="round">
<g stroke-width="0.6">
<path fill="#fff" stroke="#fff" d="M54.5 1295.5l58 16.8 63.8 30.3 -1.4 1 -1 1.7 -1.2 0.4 -1.4 2.2 -1.2 0.7 -2.4 1 -0.7 1.4 -1.9 1.3 -2 0.4 -0.5 2.5 -2.5 0.9 -1.6 1.4 -2.3 -0.1 -1.1 1.2 -1.5 1.5 -0.3 1.1 -2.8 0.9 -0.4 1.5 -2.1 0.5 -1.2 0.8 -2.6 0.4 -1.6 0.8 -1 -1.3 -2 0.2 -1.3 -1 -2 -0.4 -1.5 -0.4 -2 0.4 -1.8 -1.2 -1.5 0.4 -1.9 -0.5 -2.2 -0.9 -1.5 1.9 -2 -2 -1.8 1 -1.7 0.9 -1.8 -0.1 -1.2 2.1 -1.6 -0.4 -1.6 -0.5 -1 -1 -1.7 -1 0.5 -21.2 0.9 -1.7 -1.4 -2.1 -2.2 0.8 -0.3 1.7 -2 1.3 -0.8 1.9 -2.1 -0.2 -0.9 2.1 -2.4 0.7 -2.1 1.2 -1.2 -1.2 -1.5 0.9 -2.1 -1.1 -1.9 0.7 -1.5 -0.7 -2.9 0.9 -1.7 -1.2 -1.9 0.5 0.4 -1.7 -1.7 -1.6 0.3 -2.1 -1 -1.7 -1.7 -1.1 -2.6 0.4 -1.4 -1.3 -1.8 -0.5 -1.5 -0.5 -2.7 0.3 -1.6 -1.4 -1.7 0.4 0.9 -1.7 -0.4 -1.7 1.7 -1.4 0.3 -1.5 -1.5 -1.7 -0.1 -1.5 -1.5 -1.1 -0.6 -1.9 -0.7 -1.7 -1.5 -0.7 -0.2 -2.4 -2.3 -0.3 -0.3 -2.4 -0.8 -1.5 -2.2 -1.3 0.2 -1.8 -1.9 -0.8 -0.3 -2.1 0.1 -2.6 -2.4 -0.9 1 -2 -1.2 -2 0.5 -2 1.8 -0.5z"/>
<path fill="#fff" stroke="#fff" d="M54.5 1295.5l-0.1 -1.7 1.8 -1.8 0.7 -2 0.6 -1.5 0.9 -1.7 2.2 0.2 1 -1.6 1.7 -0.2 1.2 -1.7 1 -1.5 -0.8 -2.8 0.3 -1.9 1.4 -1.1 -0.8 -2.7 0.7 -1.3 0.7 -1.4 0.2 -2.1 1.4 -1.4 0.2 -1.3 0.4 -2.4 1 -1.4 -0.2 -2.3 10 -7.5 1.8 -0.5 1.1 -1 2.3 0.1 1.4 -2.1 2.1 -0.1 1.3 -0.7 12.5 -2.5 1.8 -1.3 2 -0.6 1.2 -1.1 1.6 -0.4 2.6 0.9 1.8 -0.6 1.6 0.6 1.3 0.7 0.4 1.9 2 0.4 1.1 -0.9 0.7 -1.1 9 -56.8 -1 -1.4 0.7 -2 -1.8 -1.5 1.1 -2 -1 -1.8 -1.8 -0.2 -0.7 -2.8 -1.7 -0.4 -0.8 -1.9 -1.8 -0.2 -1.2 -2 0.4 -2.2 -1.5 -0.9 1.2 -2.3 -0.7 -1.7 0.2 -1.7 -0.3 -1.1 -0.1 -2.1 7.5 -2.5 8.3 -0.5 0 -7.5 -12 -1.3 0 -10 27.5 -0.5 1.2 -3.8 2.3 0.5 1.5 1.3 1 -1.2 1.6 -0.5 0.5 -1.8 1.9 -0.8 1.8 -0.9 1.8 -1.5 1.4 -0.8 1.5 1.6 -0.3 1.8 1.3 1.4 0.5 1.4 2 12.6 1.9 0.1 1.1 2 1.7 -0.8 1.5 1.2 2.2 1 1 1.6 1.4 0.8 1.7 1.6 1.7 0.7 2.2 -0.9 2.1 0.8 1.5 -0.1 1.2 -1.5 2.2 0.7 0.8 -2 2.1 -0.2 -0.7 1.5 1.9 1.2 0 1.8 1.9 -0.5 0.7 -2.4 2.1 0.2 1.3 -2.6 1.5 -0.5 1.7 -1.2 1.5 -0.5 1.3 -1.5 1.7 0 1.3 -1.8 2.6 -0.8 0.4 -1.8 1.7 -0.6 1.6 -1.8 1.1 -1.8 0.9 -0.8 0.4 -1.7 1.6 -0.8 1 -1.7 1.9 0.3 1 -1.5 2.3 0.1 1 -1.4 1 -1.5 2.6 0.7 0.9 -1.4 1.5 0.5 2.2 0 1.9 1 2.3 0.7 0.5 2.5 2.2 0.5 1.4 1.8 -0.4 2.3 1.7 1.5 -0.2 2 0.6 1.4 0.2 1.9 1.2 1.9 -1.3 1.8 1.4 1.2 0.4 1.8 -0.6 2.1 1.9 0.7 -1.4 2.4 1.7 1.4 -0.4 1.7 0.8 1.7 2.5 12.5 -0.1 2.1 -1.4 0.7 -0.3 1.6 -1.4 1.3 -0.1 1.8 1.4 1.9 1.9 -0.1 1.1 1.8 1.9 1.4 1.3 1.7 0.1 1.2 1.6 1.2 0.7 2.1 1.8 0.8 1.5 1.6 1.6 -0.6 1.4 1.5 -0.2 -2 -0.6 -1.4 0.7 -2.9 -1.3 -1.6 0.1 -1.6 0.9 -1.2 0.2 -2 2.2 -1.6 0.5 -1.5 2 -0.3 0.7 -1.4 2.2 -0.2 1.3 -0.6 0.9 1.7 2.1 0.2 0.1 2.1 1.9 1 1.2 -1.7 2.3 0.8 1.5 -1.6 0.1 -1.8 0.7 -1.7 -0.6 -1.4 1.1 -1.3 0 -1.8 1.6 -1.1 0.1 -1.5 2.1 -1.6 -0.1 -1.5 0.6 -1.4 1.9 -1.1 18.3 0 -0.8 2.3 1.4 1.5 -0.9 1.8 0.8 1.9 1.4 0.8 -0.6 2.3 2 1.3 0.1 2 0.9 1.1 1.9 1.1 -0.3 1.6 1.9 1.8 -0.2 1.7 1.7 1.3 0.8 1.9 2.5 0.5 1.5 1.8 1.4 0.8 1.5 1.1 2 0.5 0.3 1.8 2.3 0.2 1.4 1.4 2.4 0.4 0.9 1.9 1.6 0.2 1.1 1.5 1.5 1 1.2 1.8 2.2 -0.1 1 1.5 1.8 0.1 1.3 1.7 1.7 0.6 1.7 -1.7 2.5 0.9 1.6 -0.3 1.4 -0.8 1.1 0 -40.5 85 1.8 1.4 -0.4 2 1.8 0.4 -0.4 2.2 1.9 0.7 0.8 2 -2.5 15 -0.8 1.9 0.8 1.7 -0.9 2.2 0.6 1.6 -0.9 2.4 0 1.5 -55.1 0 -1.9 0 -1.8 1.2 -1.6 -0.7 -1 -1.8 -2.4 -0.5 -0.8 -1.2 -1.7 -1 -1 -1.6 -1.5 -0.7 -1.6 -1.5 -0.3 -1.8 -1.9 -0.4 -1.5 -1.5 -1 -1.1 -1.2 -1.2 -2.1 0 -1.9 -0.9 -2 1 -1.5 -0.6 -2 0.9 -1.8 -0.6 -2.5 0.2 -2.2 0.8 -0.3 1.9 -1.3 1.1 0.1 2.3 -2.7 0.7 0.1 2 -1.8 1.1 0.4 2.3 -2.2 1.2 -0.1 1.6 -1.5 0.5 -2.1 -0.7 -1.1 2.1 -1.6 -0.6 -2 -0.4 -1 1.3 -1.4 -0.2 -1.8 0.5 -0.9 0.9 -0.3 2.2 -1.3 0.7 -1.7 1.1 -2 -0.4 -1.3 1.5 -1.3 0.3 -1.3 1.9 -2.2 0.2 -1.5 1.1 -1.4 -0.5 -2.4 0.7 -1.2 -1.4 -1.6 0.2 -2.3 -0.1 -1.5 0.8 -2.1 0.1 -2.4 0.5 -0.3 1.9 -2.9 0.5 -0.7 1.9 -63.8 -30.3z"/>
<path fill="#fff" stroke="#fff" d="M234.6 1128.3l0 -2.2 -0.4 -1.3 -1.5 0.2 -1.9 0.2 -2.3 -0.8 -1.8 0.4 -2 0.2 -0.9 -1.5 0.4 -2.5 -0.1 -1.4 -0.3 -1.9 -0.2 -2.4 -1.9 -0.9 -1.1 -1.4 -0.2 -2 -0.9 -1.7 0.9 -2.4 0.4 -1.7 -1.6 -1.7 -1 -1.2 -1.5 -1.3 -0.9 -1.3 -1.6 -1.2 -1.7 -1.8 -0.8 -1.5 -1.7 -1 -0.4 -1.9 1.6 1.2 1.3 -0.4 1.2 0.9 2.1 0.3 2 0.7 2.2 -0.7 1.8 -0.4 0.7 1.3 0.1 1.3 1.2 1.6 1.1 -0.6 1.8 0.6 1.1 -0.6 1.4 -0.2 1.1 0.9 1.4 -0.1 2.5 -0.4 2.5 0 0.2 1.5 1.5 1 0.3 1.3 1.7 0.8 1.1 1.1 1.4 -0.3 1.5 -0.3 1 -0.5 0.3 -1.6 -0.3 -1.3 -0.7 -1.6 1.2 -1.4 0.5 -1.4 2 0.2 1.3 -0.1 1.2 -1.6 1.5 0.2 1 0.6 2.5 0.5 1.3 0 2 -0.9 1.6 -0.3 1.7 -0.5 1.8 -1 1.6 -0.3 0.5 -1.4 1.1 -0.6 1.8 -0.4 0.8 -1.3 1.6 -0.8 2.5 -0.5 1.7 0 0.8 -1.2 1.8 -0.8 0.3 -1.3 1.6 -0.5 0.9 -1.2 1.3 -2 0.5 -1.4 -1 -1.6 -0.3 -1.3 -0.9 -1.2 2 0.2 1.3 0.3 1.7 -0.4 1.7 -0.1 1.6 0.1 1.7 -0.1 0.5 1.8 1.6 -0.1 1.3 1.3 -0.5 2 0.1 2.4 -0.5 1.4 -1.2 0.9 -0.5 1.6 -0.4 1.7 1.8 0.7 1.1 0.1 2 0 0.9 0.8 0.8 1 1.3 0.7 -0.2 1.4 0.6 1.5 1 1.3 0.7 2.5 -0.5 1.7 -0.3 1.2 -1.6 0.9 -0.1 1.6 -1.7 0.6 -1.2 1.1 0.3 1.6 -0.7 1.7 -0.3 2 -0.6 1.3 -0.9 1.6 0.5 2.6 -0.3 2 -0.1 2.2 1.1 1.6 0.2 2.5 0.7 1.6 0.9 1.8 0 1.6 1.3 0.9 -0.5 2.6 1.3 1.5 1.6 1.3 0.5 2.1 1.2 1.2 1.3 1.7 1.1 0.5 1 1.2 1.6 0.9 1 2 1.9 0.4 1.2 0.2 1 1.6 0 17 -18.3 0 -1.9 1.1 -0.6 1.4 0.1 1.5 -2.1 1.6 -0.1 1.5 -1.6 1.1 0 1.8 -1.1 1.3 0.6 1.4 -0.7 1.7 -0.1 1.8 -1.5 1.6 -2.3 -0.8 -1.2 1.7 -1.9 -1 -0.1 -2.1 -2.1 -0.2 -0.9 -1.7 -1.3 0.6 -2.2 0.2 -0.7 1.4 -2 0.3 -0.5 1.5 -2.2 1.6 -0.2 2 -0.9 1.2 -0.1 1.6 1.3 1.6 -0.7 2.9 0.6 1.4 0.2 2 -1.4 -1.5 -1.6 0.6 -1.5 -1.6 -1.8 -0.8 -0.7 -2.1 -1.6 -1.2 -0.1 -1.2 -1.3 -1.7 -1.9 -1.4 -1.1 -1.8 -1.9 0.1 -1.4 -1.9 0.1 -1.8 1.4 -1.3 0.3 -1.6 1.4 -0.7 0.1 -2.1 -2.5 -12.5 -0.8 -1.7 0.4 -1.7 -1.7 -1.4 1.4 -2.4 -1.9 -0.7 0.6 -2.1 -0.4 -1.8 -1.4 -1.2 1.3 -1.8 -1.2 -1.9 -0.2 -1.9 -0.6 -1.4 0.2 -2 -1.7 -1.5 0.4 -2.3 -1.4 -1.8 -2.2 -0.5 -0.5 -2.5 -2.3 -0.7 -1.9 -1 -2.2 0z"/>
<path fill="#fff" stroke="#fff" d="M383.1 1126l1.4 0.8 1.8 -0.4 1.9 1.3 1.8 0.3 1.2 -0.7 2.1 0.2 1.4 -0.7 2.3 0.5 1 -1.7 2 0.4 1.4 0.4 2.1 -0.2 1.7 1.3 1.8 -1.2 0.9 1.5 2.1 0.2 1.9 0.7 2.6 -1 1.8 0.8 1.2 -1.6 1.8 -0.2 0.5 -2.5 1.7 -0.8 1.1 -1.1 0 -1.9 1.6 -1.6 0 -1.7 1.7 -1.4 0.3 -1.9 1.1 -0.6 0.3 -2.2 1.4 -1 0.2 -2.3 1.7 -1.3 0.3 -2 1.5 -1.1 0.2 -1.5 1.5 -1.8 0.7 -1.5 1 -1.2 0.5 -2 1 -0.7 0.2 -2.5 2.1 -0.3 0.2 -2 2 0.8 1.7 -0.8 1 1.6 0.2 1.4 1.6 1.5 0.5 1.7 0.9 1.8 -0.5 1.8 1.1 1.4 -1.2 2.1 1.5 1.9 -0.5 1.9 0.4 1.6 1.6 1.8 -1.5 2.1 2.1 1.3 -0.7 2.3 1.7 0.8 -0.4 2.8 1 1.4 1.3 1.1 -0.1 2.1 1.4 1.3 0 2 1.1 1 1.9 1.2 1.4 0.6 1.1 1.1 1.9 0.9 0.8 1.7 1.7 0.4 1.2 2.3 1.3 0.6 0.9 1.6 -0.4 1.8 1.2 1.6 0.3 2.3 -1.6 1.1 1.4 2.3 -1.4 1.1 0.1 2 -0.9 1.9 -1.9 1.2 -0.2 2.4 -2.5 0.5 -1.3 1 -1.1 1.9 -2.2 0.5 -0.4 1.8 -1.3 1.8 -2.1 -0.6 -0.8 2.6 -2.1 0 -0.6 1.6 -2.5 0.6 -0.3 1.7 -1.6 1.1 -1.2 1.2 -1.3 1.3 -0.5 2.2 -1.4 1.2 -0.4 1.5 -1.4 1.3 -0.3 1.5 -1.7 1.1 0.3 1.9 -0.8 1.8 -2.1 1.4 -0.8 1.8 -2.1 0.5 -1.8 0.3 -1.9 -1.7 -1.3 0.2 -0.9 -2.3 -2.2 -0.1 -0.7 -2.6 -1.6 -1.4 0.2 -2 -1.6 -0.4 0.6 -3 -1.3 -0.7 -0.7 -1.5 -1.4 -1.9 -0.3 -2.1 -1.4 -1.3 0.2 -1.5 -1.5 -1.7 0.3 -1.5 -1.1 -1.8 0.4 -1.8 -1.3 -1.6 0.5 -2.3 -1.3 -1 -1.5 -1.1 -0.5 -2.2 -1.4 -1.1 -0.4 -1.2 -1.6 -1.7 -0.8 -1.5 -1.6 -0.6 -0.8 -1.7 -2.1 -0.4 -1.3 -1.9 -2 -0.1 -1 -1.5 -1 -0.8 -2.7 -0.5 -0.7 -1.8 -1.5 -0.5 -0.7 -1.6 -2.3 -0.2 -1.1 -0.9 -0.7 -1.9 -1.4 -1.7 0 -1.9 -2.3 -1.2z"/>
<path fill="#fff" stroke="#fff" d="M176.3 1342.6l0.7 -1.9 2.9 -0.5 0.3 -1.9 2.4 -0.5 2.1 -0.1 1.5 -0.8 2.3 0.1 1.6 -0.2 1.2 1.4 2.4 -0.7 1.4 0.5 1.5 -1.1 2.2 -0.2 1.3 -1.9 1.3 -0.3 1.3 -1.5 2 0.4 1.7 -1.1 1.3 -0.7 0.3 -2.2 0.9 -0.9 1.8 -0.5 1.4 0.2 1 -1.3 2 0.4 1.6 0.6 1.1 -2.1 2.1 0.7 1.5 -0.5 0.1 -1.6 2.2 -1.2 -0.4 -2.3 1.8 -1.1 -0.1 -2 2.7 -0.7 -0.1 -2.3 1.3 -1.1 0.3 -1.9 2.2 -0.8 2.5 -0.2 1.8 0.6 2 -0.9 1.5 0.6 2 -1 1.9 0.9 2.1 0 1.2 1.2 1 1.1 1.5 1.5 1.9 0.4 0.3 1.8 1.6 1.5 1.5 0.7 1 1.6 1.7 1 0.8 1.2 2.4 0.5 1 1.8 1.6 0.7 1.8 -1.2 1.9 0 -0.5 2.2 1.5 1.1 -1 1.7 1.5 1.6 -0.7 2.1 -0.4 1.9 0.7 2.3 -1.1 1.6 0 1.8 -0.6 1.4 1.3 1.7 -0.3 1.7 0.4 1.8 -0.8 2.1 0.8 1.3 0.2 2 -0.5 1.9 1 1.8 -1.3 1.4 1 2.4 -0.4 1.7 1.7 0.7 2.2 -0.5 1.5 1.1 1.8 -0.4 1.7 0.9 2.6 -1.3 1.5 1.3 1.7 1.4 2 -1.5 1.9 2.2 1.9 -0.1 1.9 0.7 1.1 -0.4 1.1 1.8 2.1 -0.1 -1.2 1.5 1.4 2.7 -0.9 2.1 0 1.7 0.2 1.9 1.1 1.9 -0.5 1.9 1.2 1.8 0.9 1.8 -0.2 1.1 0.9 1.9 0.4 1.4 -0.7 2.4 -1.6 0.4 -1 2.1 -1.2 1.4 -0.8 1.4 -0.5 2.2 -1.3 0.7 0.1 1.9 -2.1 1.2 0.7 2.5 -2.4 1.4 -1.4 1.6 0.1 1.4 -1.2 2 -1.1 -0.3 -1 -1.4 -1.6 -0.8 -1.6 -0.6 -1.8 1.4 -2.5 -1.4 -1.6 0.6 -1.5 0.2 -2.2 -0.7 -1.4 0.4 -1.8 -1.2 -1.9 0.5 -1.3 -1 -0.5 -1.5 -1.8 -0.5 -0.8 -1.6 -1.8 -0.9 -1.8 0.1 -1.3 -1.6 -2.1 1 -1.1 -0.8 -1.2 -1.3 -2 0.6 -1.5 -1.7 -1.7 0.3 -1.1 -1.6 -1.9 -1 -0.4 -1.5 -2.1 -0.1 -1.8 -1.2 -2.2 -0.3 -0.6 -1.8 -2.2 0.1 -0.8 -1.7 -1.8 0 -1.8 -0.5 -2.3 0.7 -1.8 -1.5 -1.6 0.8 -1.8 0.6 -1.7 -2.3 -2.8 1.1 -1.2 -1.4 -1.2 -0.9 -0.7 -1.9 -1.8 -1 -1.6 -0.8 -0.8 -2 -2 -0.7 -0.6 -1.5 -1.1 -1 0.3 -2.3 -1.9 -1 0.2 -1.9 -0.3 -2 -1.5 -2.1 0.7 -2.3 -1.4 -1.1 0.3 -2.1 -1.5 -1.2 1 -1.5 -1.5 -2 1.2 -1.7 -1.3 -1.5 0.3 -2.1 0.5 -2 -0.8 -1.5 1 -1.9 -0.7 -2 0.9 -1.7 -1.4 -1.8 0.7 -1.5 -1.6 0.6 -2.3 -0.5 -1.7 1.3 -1.9 -0.4 -1.5 -0.3 -2.3 1.1 -1.7 -0.3 -2 1 -1.6 0 -1.6 -0.7 -2.2 -0.1 -1.3 -0.7z"/>
<path fill="#d89d27" stroke="#d89d27" d="M312.2 1146.6l2.4 -1 1.4 -1.8 1.7 -0.2 2.2 -0.8 0.6 -2.1 1.6 0 1.2 -1.7 1.9 -0.5 1.6 -0.1 1.7 -1.7 2.2 0.5 1 -2.4 2.3 0.1 1.2 -0.9 1.4 -0.3 2 0.6 1.9 -1.7 1.2 1.4 2.1 -1.3 1.4 0.3 1.5 -0.5 1.5 1.3 1.8 -0.8 2.1 1.3 1.1 -1.2 2 0.4 1.9 -0.4 1.9 -1.7 2 0.8 1.7 -1.2 -0.6 -1.6 1.9 -1.1 -0.5 -2 0.5 -1.5 1.6 0.2 2.1 -1.6 1.8 1 1.1 -1.3 2.2 -0.1 2.2 0.3 1.9 -0.7 1.2 0.4 2.2 -0.7 0.3 1.9 2.4 0.4 0.1 1.4 0 2.1 2.3 1.2 0 1.9 1.4 1.7 0.7 1.9 1.1 0.9 2.3 0.2 0.7 1.6 1.5 0.5 0.7 1.8 2.7 0.5 1 0.8 1 1.5 2 0.1 1.3 1.9 2.1 0.4 0.8 1.7 1.6 0.6 0.8 1.5 1.6 1.7 0.4 1.2 1.4 1.1 0.5 2.2 1.5 1.1 1.3 1 -0.5 2.3 1.3 1.6 -0.4 1.8 1.1 1.8 -0.3 1.5 1.5 1.7 -0.2 1.5 1.4 1.3 0.3 2.1 1.4 1.9 0.7 1.5 1.3 0.7 -0.6 3 1.6 0.4 -0.2 2 1.6 1.4 0.7 2.6 2.2 0.1 0.9 2.3 1.3 -0.2 1.9 1.7 1.8 -0.3 2.1 -0.5 0.8 -1.8 2.1 -1.4 0.8 -1.8 -0.3 -1.9 1.7 -1.1 0.3 -1.5 1.4 -1.3 0.4 -1.5 1.4 -1.2 0.5 -2.2 1.3 -1.3 1.2 -1.2 1.6 -1.1 0.3 -1.7 2.5 -0.6 0.6 -1.6 2.1 0 0.8 -2.6 2.1 0.6 1.3 -1.8 0.4 -1.8 2.2 -0.5 1.1 -1.9 1.3 -1 2.5 -0.5 1.5 1.4 -0.3 1.8 0.8 1.3 1.5 -0.4 2.2 1.3 1.8 0.3 1.5 1.4 0.6 0.9 1.8 1.4 0.2 1.2 2.5 0.9 0.8 1.2 1.7 1.4 1.7 -1.1 1.6 1.3 1.7 0.5 2.1 -0.6 1.5 1.6 1.6 -0.8 1.4 1.1 1 2.1 -0.1 2 1.8 1.2 1.2 0.3 2.1 1.6 1.6 0.3 0.8 -1.7 2.5 -0.4 1.8 0.8 1.8 -1.1 1.7 1.2 1.9 -0.3 2 0.2 1.7 0.5 1.6 1.6 2.5 0.1 0.3 1.9 2.4 0.5 1.5 0.8 1.9 0 1.5 1.8 1.5 -0.9 1.7 0.8 1 1.4 2.7 -0.2 0.5 1.6 -0.9 1.4 0.7 2.1 -0.6 1.2 -0.5 1.5 -1.2 1.8 -0.4 2.6 0 1.8 1.2 1.5 -0.5 1.6 -1.2 1.7 0.4 1.9 -1.2 1.5 0.1 1.8 -1.2 1.1 -0.5 2.1 -2.4 1.3 -0.5 2 -0.7 2 0.8 1.3 -0.6 1.7 -0.4 2.3 -2.3 1.1 -0.6 1.6 -1.5 1.6 -1 1.7 1.5 0.8 1.9 -0.7 -1 1.6 0.1 2.1 -1.6 1.2 -0.6 1.9 -1.5 1.2 -0.4 2 -0.3 1.5 -2.1 0.8 0.2 2.5 -2.4 0.6 -0.4 2.1 -1.3 1 -1.3 1.9 -1.6 0.3 -0.8 1.8 -1.4 1.2 -1.9 0.4 -1.1 1.5 -1.5 0.8 -1.6 1.1 -1.9 0.6 -1.3 1.7 -3 -0.4 -1.3 1.2 -1.4 1.3 -1.6 0.6 2.2 1.6 1.7 0.4 1 1.8 1.9 -0.4 0.8 1.9 1.4 0.6 0.2 1.7 -2.1 1.9 0.2 2.3 -0.7 1.4 0.4 1.9 -2.5 0.9 0.7 2.3 -1.3 1.1 -2.1 0.6 -0.7 1.7 -2.5 0.7 -1.2 1.5 -1.8 0 -0.9 2.6 -2.1 0.5 -1.7 1.6 0 1.8 0.1 1.5 0.3 1.5 -1.4 1.1 -0.1 1.4 -1.3 1 -0.8 1.7 1.3 1.7 0.8 0.6 1.2 1.6 1.1 1.3 -1.1 1.8 0.6 2 -1.4 1.5 0.6 1.5 -1.4 1 -0.6 2.7 -1.1 1.5 -1.2 1 0.2 2.8 -1.1 0.9 -1 1.4 -2.6 -0.1 -1.1 1.8 -1.4 1.8 0 1.4 -2 1.4 -0.8 1.7 0 1.7 -2 1.4 0.5 2.8 -1.2 1.2 -0.5 1.7 -112.9 -8.3 -1.7 -0.2 -1.7 -1.4 -1.7 -0.1 -1.1 -0.8 -1.6 -1.6 -1.2 -0.7 -1.2 -2.2 -1.8 -0.5 -0.9 -1.8 -0.3 -1.6 -1.3 -0.9 -0.3 -1.7 -0.7 -1.5 0 -2.2 -1.7 -0.9 -0.1 -2.4 -1.8 -0.7 0.7 -2.9 -1.6 -1.4 -1.5 -1.3 0.4 -2.2 -1.4 -1.3 -0.1 -1.8 -1.7 -1.2 -0.7 -2.2 -0.8 -2 -1.9 -0.7 0.4 -2.2 -1.8 -0.4 0.4 -2 -1.8 -1.4 40.5 -85 -1.1 0 -1.4 0.8 -1.6 0.3 -2.5 -0.9 -1.7 1.7 -1.7 -0.6 -1.3 -1.7 -1.8 -0.1 -1 -1.5 -2.2 0.1 -1.2 -1.8 -1.5 -1 -1.1 -1.5 -1.6 -0.2 -0.9 -1.9 -2.4 -0.4 -1.4 -1.4 -2.3 -0.2 -0.3 -1.8 -2 -0.5 -1.5 -1.1 -1.4 -0.8 -1.5 -1.8 -2.5 -0.5 -0.8 -1.9 -1.7 -1.3 0.2 -1.7 -1.9 -1.8 0.3 -1.6 -1.9 -1.1 -0.9 -1.1 -0.1 -2 -2 -1.3 0.6 -2.3 -1.4 -0.8 -0.8 -1.9 0.9 -1.8 -1.4 -1.5 0.8 -2.3z"/>
<path fill="#ebcb85" stroke="#ebcb85" d="M534.2 1188.8l1.5 -0.2 2.2 1.5 2.1 -0.7 2.3 0.2 0.2 2.1 2.5 0.2 2 1.1 0 2.6 1.4 1.3 1.8 -1.2 0.7 -1.3 1.1 -0.6 1.8 -1.6 1.2 -0.3 0.9 2.3 2 0 0.5 2.7 1.1 0.9 0.4 2.3 1 0.9 1.2 1.9 -0.2 1.7 1.5 1.4 1 1.4 -0.9 2.4 1.3 0.9 0.3 2 1.9 0.4 2 -0.5 1.9 0.9 1.6 -0.4 0.5 -2.7 2.1 0.1 1 -1.6 1.5 -0.8 1.8 1.5 2 -1 1.2 1.9 1.6 0.1 2.1 0.7 0.9 1.3 2.5 0.2 0.6 1.3 2.3 0.3 2.1 0 0.8 1.2 2.4 -0.1 1.3 1 1.7 0 2.7 0.4 1.1 0 1.9 0.9 2.3 -0.4 0.4 1.9 -1.1 0.9 0.7 2.4 -1.2 1 -1.5 0.9 -0.5 1.8 -1.9 1 -1.1 1.3 -1.8 0.1 -0.7 2.8 -2.7 -0.2 -0.6 1.9 -1.7 0.4 -1.3 1.3 -0.1 2.2 -1.2 0.8 0.6 2 -1.8 1.2 -0.9 1.9 0.6 1.9 -1.1 1.2 0.4 1.6 -1.2 1.8 0.5 1.6 1.1 1.9 -0.9 1.1 1 1.7 -1.2 2.4 1.6 1.6 -0.6 1.4 -0.1 2 -1.1 1.2 0.3 1.6 -1.6 1.9 0.8 1.9 -0.8 1.4 0 1.3 1 2.2 -0.7 1.7 1.4 1.4 -0.7 1.8 0.5 1.6 -0.2 1.5 -1.4 1.2 -0.6 2.5 -1.1 1 -1.4 -0.3 -1.7 1.4 -1.6 -1.2 -1.5 1.4 -2.2 0.2 -1.8 -1.3 -1.4 1.2 -2.1 -0.6 -1.6 0.6 -1.8 0.1 -1.6 0.9 -0.3 1.8 -2.3 0.7 -2.1 0.8 -0.7 1.3 -2 0.8 -0.7 1.2 -2 0.9 -1.2 1.4 -2.4 0.3 -0.8 2 -1.8 0.2 -1.3 1.1 -1 1.4 -2.7 0.3 -1.3 2 -1.6 1.8 0.6 2.5 -1.8 1.5 0.3 1.7 0.4 2.1 -2 1.6 0.7 2 -1.6 1.8 -0.9 1.6 -0.1 2.2 -1.5 2.1 0 1.6 -0.9 1.6 1.6 1.6 -1.1 2.1 1 1.8 -0.3 1.5 0.2 1.4 0.2 2 1.2 1.6 -1.2 1.8 1.2 2.1 -0.4 1.5 1.6 1.8 -0.4 1.8 -1.2 -1.1 -2.8 0.7 -1.2 -0.9 -2 -0.8 -1.5 1 -1.5 -1.4 -0.7 -1.8 -1.9 -1.1 0.1 -2.1 -1 -1.4 -0.2 -2.4 -1.8 -1.3 -0.7 -1.2 -0.6 -2.1 -1.7 -0.3 0.1 -2.1 -1.6 -1.8 1 -1.3 -0.4 -1.7 1 -1.8 -0.3 -1.4 0.7 -1.8 2.3 -1.8 0.7 -1.4 0.7 -1.9 0.7 -1 0.6 -2.1 -0.8 -1 -0.6 -2.2 -1.8 -0.6 -1.7 -1.2 -1.3 0.8 -1.6 -1.2 -1.7 0.4 -0.1 -1.6 -2.5 -0.6 0.3 -2.9 -2.4 -0.9 -0.3 -1.5 -0.5 -2.3 -2.8 -0.4 0.3 -2.4 -2 -1.2 0.8 -2 -0.5 -1 1.5 -1.8 -0.8 -2 0.7 -1.4 0.3 -1.8 -0.2 -2 1.6 -1 -1.3 -1.7 1.9 -1.5 -1.2 -1.7 1 -1.9 0 -1.5 -1.1 -1.9 0.6 -1.8 -0.8 -1.7 0 -1.9 -1.3 -2 -2.6 0.4 -1.1 -2.1 -1.7 -0.9 -1.6 1 -1.5 -1.8 -2.2 0.7 -1.7 -1 -2 0.8 -1.4 -1 -1.6 1.9 -1.8 0.2 1.6 -0.6 1.4 -1.3 1.3 -1.2 3 0.4 1.3 -1.7 1.9 -0.6 1.6 -1.1 1.5 -0.8 1.1 -1.5 1.9 -0.4 1.4 -1.2 0.8 -1.8 1.6 -0.3 1.3 -1.9 1.3 -1 0.4 -2.1 2.4 -0.6 -0.2 -2.5 2.1 -0.8 0.3 -1.5 0.4 -2 1.5 -1.2 0.6 -1.9 1.6 -1.2 -0.1 -2.1 1 -1.6 -1.9 0.7 -1.5 -0.8 1 -1.7 1.5 -1.6 0.6 -1.6 2.3 -1.1 0.4 -2.3 0.6 -1.7 -0.8 -1.3 0.7 -2 0.5 -2 2.4 -1.3 0.5 -2.1 1.2 -1.1 -0.1 -1.8 1.2 -1.5 -0.4 -1.9 1.2 -1.7 0.5 -1.6 -1.2 -1.5 0 -1.8 0.4 -2.6 1.2 -1.8 0.5 -1.5 0.6 -1.2 -0.7 -2.1z"/>
<path fill="#f3e2b8" stroke="#f3e2b8" d="M608.9 1217.4l2.1 0.5 1.7 0.9 1.3 -0.3 1.9 1.4 1.8 -0.2 0.3 1.7 -0.2 1.7 0.7 2.5 -1.3 1.5 1.5 1.9 -1.1 1.4 1 1.6 -1.2 2.6 0.9 1.4 1 1.2 -0.4 2.3 1.3 1.2 -1 2 0.7 2.1 -0.7 1.5 -0.4 1.9 1.4 1.8 -1.1 1.6 0.6 2.2 0.8 1.7 0.9 1 0.7 1.9 0.9 1.1 0.6 1.4 -0.5 2.3 1.8 1.5 0 1.3 -0.2 2.3 1 1.5 -1.5 1.6 1.1 2.1 -0.5 1.6 2.1 1.9 -0.8 1.4 0.6 1.7 -0.5 1.4 1.2 1.6 0.3 1.7 0.9 1.5 2.2 1.4 1.1 1.3 0.5 1.2 0.9 1.1 0.7 1.9 -1.4 2.3 -0.2 1.5 -1.1 1.6 0.1 1.7 -0.9 1.5 -1.4 0.8 -0.7 1.6 1.6 1.6 -0.5 2.4 -0.5 2 0 1.9 -0.9 1.8 -1.4 1.1 -0.4 2.1 -1.9 1 -0.9 0.9 -1.5 1 -0.9 1.4 -1.7 0.8 -0.6 1 -2.4 0.2 -1.4 1.7 -1.1 1.9 -1.7 0.3 -0.9 1.6 -1.9 0.9 -1 1.9 -2.1 0.7 -1.6 1.2 -1.7 0 -1.2 1 -1.6 -0.6 -2.2 0.4 -0.8 1.3 -1.4 0.5 -1.9 1.1 -1.2 -0.4 -1.9 -0.2 -1.2 -0.4 -1.9 -0.3 -1.4 -0.4 -2 0 -1.1 -0.6 -1.8 -0.2 -2 1.1 -1 2 -2 0.6 -0.9 1.3 0.3 1.9 -0.6 1.9 0.1 1.6 -2.1 1.4 0.4 2.5 -0.9 2 -1.6 1.3 -0.2 1.4 -2.3 0.6 -0.9 1.7 -0.9 1.4 -2.3 -0.7 -0.9 2.4 -2.4 -0.4 -1.1 1.8 -1.5 -0.2 -1.2 2 -2.2 -0.9 -1.3 0.8 -1.6 -0.6 -1.5 -1.9 -1.5 -0.2 -1.7 -1 -1.4 -1.8 0.8 -2.3 -1.4 -1.4 -1.6 -1.8 -0.1 -1.5 -2.2 0 -1.4 1.3 0.4 -1.8 -1.6 -1.8 0.4 -1.5 -1.2 -2.1 1.2 -1.8 -1.2 -1.6 -0.2 -2 -0.2 -1.4 0.3 -1.5 -1 -1.8 1.1 -2.1 -1.6 -1.6 0.9 -1.6 0 -1.6 1.5 -2.1 0.1 -2.2 0.9 -1.6 1.6 -1.8 -0.7 -2 2 -1.6 -0.4 -2.1 -0.3 -1.7 1.8 -1.5 -0.6 -2.5 1.6 -1.8 1.3 -2 2.7 -0.3 1 -1.4 1.3 -1.1 1.8 -0.2 0.8 -2 2.4 -0.3 1.2 -1.4 2 -0.9 0.7 -1.2 2 -0.8 0.7 -1.3 2.1 -0.8 2.3 -0.7 0.3 -1.8 1.6 -0.9 1.8 -0.1 1.6 -0.6 2.1 0.6 1.4 -1.2 1.8 1.3 2.2 -0.2 1.5 -1.4 1.6 1.2 1.7 -1.4 1.4 0.3 1.1 -1 0.6 -2.5 1.4 -1.2 0.2 -1.5 -0.5 -1.6 0.7 -1.8 -1.4 -1.4 0.7 -1.7 -1 -2.2 0 -1.3 0.8 -1.4 -0.8 -1.9 1.6 -1.9 -0.3 -1.6 1.1 -1.2 0.1 -2 0.6 -1.4 -1.6 -1.6 1.2 -2.4 -1 -1.7 0.9 -1.1 -1.1 -1.9 -0.5 -1.6 1.2 -1.8 -0.4 -1.6 1.1 -1.2 -0.6 -1.9 0.9 -1.9 1.8 -1.2 -0.6 -2 1.2 -0.8 0.1 -2.2 1.3 -1.3 1.7 -0.4 0.6 -1.9 2.7 0.2 0.7 -2.8 1.8 -0.1 1.1 -1.3 1.9 -1 0.5 -1.8 1.5 -0.9 1.2 -1 -0.7 -2.4 1.1 -0.9z"/>
<path fill="#fff" stroke="#fff" d="M617.7 1219.7l2.1 0.6 1.5 -1.2 2 0.9 2.2 -1.5 2 0 1.9 0.4 1.4 -0.8 1.6 1 1.8 -0.9 2 0.9 1.3 -0.2 2.1 0.6 1.2 1.8 2.5 -0.6 0.8 1.3 2.2 0.3 1.4 0.7 1.2 1.5 2.3 -0.1 1 1.8 1.8 -0.1 1.1 1.2 2 0.4 0.4 1.9 1.8 0.2 1.8 2 1.3 0.6 1.4 1.1 2.1 1.1 0.5 2.1 2.1 0.7 0.7 1.9 2.2 0.5 1.2 1.2 0.9 1.9 1.9 -0.3 0.7 2.9 1.8 0.6 0.7 1.2 1.5 1.2 2.3 0.9 0.2 2.6 1.8 0.2 1.6 2 1.6 0.8 -2.2 -0.7 -1.2 1.5 -1.7 -0.1 -0.9 1 -0.5 1.7 -1.4 1.1 -1.8 1.5 0.7 1.9 -1.2 2.2 -0.3 2.5 -2.5 0.6 0 2.5 -1.3 1.7 -0.3 1.9 -0.8 1.1 -1.1 1 -2.7 0.1 -0.9 1.3 -0.5 1 -0.1 1.7 -1.2 1.5 0.5 1.5 -1.7 1.4 -0.2 1.8 -1.1 1.6 0.2 2.3 -1 1.7 0.7 2.7 1.6 1 -0.5 1.6 1.6 1.9 -0.6 1.2 -0.2 2.6 -1.2 1.7 -1.6 0.5 -1.2 0.4 -1 1.7 -2.3 0.6 -1.4 -0.1 -0.9 -1.3 -1 -1.5 -1.9 -1.8 -0.3 -1.3 -2.1 -0.4 -0.4 -2 -2.1 -0.5 -1.6 -1.4 -2.4 -0.6 -0.9 1 -2.4 0.1 -1.4 1.1 -1.8 -0.7 -1.5 1 -1.9 0.3 -2.3 0.2 -0.1 -1.7 1.1 -1.6 0.2 -1.5 1.4 -2.3 -0.7 -1.9 -0.9 -1.1 -0.5 -1.2 -1.1 -1.3 -2.2 -1.4 -0.9 -1.5 -0.3 -1.7 -1.2 -1.6 0.5 -1.4 -0.6 -1.7 0.8 -1.4 -2.1 -1.9 0.5 -1.6 -1.1 -2.1 1.5 -1.6 -1 -1.5 0.2 -2.3 0 -1.3 -1.8 -1.5 0.5 -2.3 -0.6 -1.4 -0.9 -1.1 -0.7 -1.9 -0.9 -1 -0.8 -1.7 -0.6 -2.2 1.1 -1.6 -1.4 -1.8 0.4 -1.9 0.7 -1.5 -0.7 -2.1 1 -2 -1.3 -1.2 0.4 -2.3 -1 -1.2 -0.9 -1.4 1.2 -2.6 -1 -1.6 1.1 -1.4 -1.5 -1.9 1.3 -1.5 -0.7 -2.5 0.2 -1.7z"/>
<path fill="#fff" stroke="#fff" d="M687.6 1255l1 1.3 2.6 -0.7 1.7 1.5 1.4 0.3 1.4 1.1 1.9 0 2.3 -0.5 1 1.5 2.3 -0.5 1.6 0 2.4 -0.8 1.6 0.3 2 -0.1 2 1.1 1.7 -0.5 1.1 1 2.4 0.1 1.1 0.8 0.5 2.4 2.4 -0.4 0.4 2.2 1.7 1.5 -0.9 2.6 1.1 1.5 -0.4 1.5 1.5 1.5 -0.6 1.6 0.9 2 -0.5 2.3 1.1 1.9 -0.3 1.8 0.6 1.9 -1.5 -0.7 -1.6 1.6 -1.8 -1.8 -1.6 0.5 -1.9 0.7 -2 -1.5 -1.9 1.3 -1.7 -0.5 -1.7 -1 -2.7 1.4 -1.3 -1.4 -1.1 -2 -1.7 0.2 -2.3 0.9 -0.1 2.6 -0.8 1.6 -0.3 2 -1.2 1.3 -1 1 -1.8 -0.1 -2.1 -0.7 -1.6 -0.7 -1.7 0.1 -1.7 -0.9 -1.3 0.4 -1.5 -1 -1.8 -0.9 -0.1 -1.5 0.6 -1.3 0.7 -2.5 1.6 -1.3 -0.1 -2.6 1.5 -1.1 -1.9 -0.5 -1.6 0.1 -1.3 1.5 -1.8 0.3 -1.3 0.6 -1.4 1.7 -1.9 0 -2 0.2 -0.4 2.7 -2.3 0.4 -1.7 -0.3 -1.8 0.9 -1.2 -0.6 -1.1 -1.8 -1.7 -0.5 1.2 -1.5 0.1 -1.7 0.5 -1 0.9 -1.3 2.7 -0.1 1.1 -1 0.8 -1.1 0.3 -1.9 1.3 -1.7 0 -2.5 2.5 -0.6 0.3 -2.5 1.2 -2.2 -0.7 -1.9 1.8 -1.5 1.4 -1.1 0.5 -1.7 0.9 -1 1.7 0.1 1.2 -1.5z"/>
<path fill="#fff" stroke="#fff" d="M665.7 1282l1.7 0.5 1.1 1.8 1.2 0.6 1.8 -0.9 1.7 0.3 2.3 -0.4 0.4 -2.7 2 -0.2 1.9 0 1.4 -1.7 1.3 -0.6 1.8 -0.3 1.3 -1.5 1.6 -0.1 1.9 0.5 -1.5 1.1 0.1 2.6 -1.6 1.3 -0.7 2.5 -0.6 1.3 0.1 1.5 1.8 0.9 1.5 1 1.3 -0.4 1.7 0.9 1.7 -0.1 1.6 0.7 2.1 0.7 1.8 0.1 1 -1 1.2 -1.3 0.3 -2 0.8 -1.6 0.1 -2.6 2.3 -0.9 1.7 -0.2 1.1 2 1.3 1.4 2.7 -1.4 1.7 1 1.7 0.5 1.9 -1.3 2 1.5 1.9 -0.7 1.6 -0.5 1.8 1.8 1.6 -1.6 1.5 0.7 1.6 1 -0.3 3 1.1 1.2 -0.4 2.4 1.7 1 0.1 2.2 -0.8 2.2 1.9 1.7 -1.1 1.8 -0.9 -1 -1.9 0 -1.6 0.6 -2.2 -1 -1.3 1.1 -1.7 -1.3 -1.7 1.6 -1.5 1.6 -2 0.3 -1.1 0.9 -2.3 0.9 -2.1 -0.4 -1.3 1.4 -2.3 0.6 -1.1 0.6 -2.2 0.6 -1.6 0.7 -0.5 1.5 -1.7 0.6 -1.4 0.1 -0.5 2.2 -1.8 0.6 -1.3 0.9 -2.5 0.5 -0.1 -1.8 -1.7 -0.6 -1.3 -1.9 -1.1 -0.9 0.5 -1.9 1.3 -1.9 0.6 -1.8 2 -1.8 -0.2 -2 -1.1 -0.9 -0.7 -1 -2.4 -0.6 -1.4 0.6 -2.2 0.5 -1.6 1.4 -0.8 1.4 -1.9 0.5 -1 0.9 -2.2 0.9 -1.6 1.5 -1.9 -0.2 -1.8 1.6 -1.6 -0.3 -2.2 -0.6 -1.6 -0.6 -2.1 -0.8 1.2 -1.7 0.2 -2.6 0.6 -1.2 -1.6 -1.9 0.5 -1.6 -1.6 -1 -0.7 -2.7 1 -1.7 -0.2 -2.3 1.1 -1.6 0.2 -1.8 1.7 -1.4z"/>
<path fill="#fff" stroke="#fff" d="M631.4 1300.3l2.3 -0.2 1.9 -0.3 1.5 -1 1.8 0.7 1.4 -1.1 2.4 -0.1 0.9 -1 2.4 0.6 1.6 1.4 2.1 0.5 0.4 2 2.1 0.4 0.3 1.3 1.9 1.8 1 1.5 0.9 1.3 1.4 0.1 2.3 -0.6 1 -1.7 1.2 -0.4 1.6 -0.5 2.1 0.8 1.6 0.6 2.2 0.6 1.6 0.3 1.8 -1.6 1.9 0.2 1.6 -1.5 2.2 -0.9 1 -0.9 1.9 -0.5 0.8 -1.4 1.6 -1.4 2.2 -0.5 1.4 -0.6 2.4 0.6 0.7 1 1.1 0.9 0.2 2 -2 1.8 -0.6 1.8 -1.3 1.9 -0.5 1.9 1.1 0.9 1.3 1.9 1.7 0.6 0.1 1.8 2.5 -0.5 1.3 -0.9 1.8 -0.6 0.5 -2.2 1.4 -0.1 1.7 -0.6 0.5 -1.5 1.6 -0.7 2.2 -0.6 1.1 -0.6 2.3 -0.6 1.3 -1.4 2.1 0.4 2.3 -0.9 1.1 -0.9 2 -0.3 1.5 -1.6 1.7 -1.6 1.7 1.3 1.3 -1.1 2.2 1 1.6 -0.6 1.9 0 0.9 1 0.5 1.5 -1 2.3 0.3 1.6 -0.3 2.1 -0.4 2.3 -1 1.4 1.1 1.9 -1.1 1.9 -1 1.1 0.3 2.1 -1.4 1.8 -0.2 1.5 -1.4 1.5 -0.5 1.8 -1.7 -0.7 -1.6 0.3 -2.1 0.4 -1.6 -1.4 -2.2 0.6 -1.5 0 -2 0.8 -1.2 1.2 -1.9 -0.6 -1.6 1.8 -1.7 0.1 -0.2 2.2 -1.8 1 -1.6 0.3 -1.1 1.3 -2 0.7 -1.8 1.1 -1.1 -1.3 -1.8 1.1 -1.8 -0.2 -1.9 -1.6 -1.3 -1.1 -1.3 -0.1 -1.2 -1.6 -1.5 -1.2 -2.3 -1.2 -1.6 -0.9 -2.1 -1 -1.8 1 0 2.2 -2 1.1 0 2.1 -1.1 0.9 -0.5 2.3 -1.4 -2.2 -1.2 -1.3 0.2 -2.2 -1.6 -1.5 -1.6 -1.5 -1.2 -1.3 -1.3 0.5 -1.5 -1 -1.6 -1.3 -1.5 1.3 -1.6 -1.4 -1.8 -0.3 -1.9 -1.1 -2.5 -0.5 -1.3 -1.9 -1.8 -0.8 -1 1.3 -2.3 0.4 -0.5 1.9 -1.5 0.8 -0.7 1.5 -1.6 1.5 -1.1 1.8 -1.9 -0.6 -0.7 1.6 -1.2 1.3 -1.7 1.5 -1.7 0.4 -0.6 2.4 -1.9 1.1 -0.9 1.3 -2.4 -1 -1 -2.2 0.6 -2 -1.1 -1.5 -1.3 -2.2 -0.6 -1.4 -1.7 -0.8 -0.5 -1.6 -1.5 -0.9 -2.2 -1 0.6 -1 1.7 -0.8 0.9 -1.4 1.5 -1 0.9 -0.9 1.9 -1 0.4 -2.1 1.4 -1.1 0.9 -1.8 0 -1.9 0.5 -2 0.5 -2.4 -1.6 -1.6 0.7 -1.6 1.4 -0.8z"/>
<path fill="#fff" stroke="#fff" d="M673.4 1336.1l0.5 -2.3 1.1 -0.9 0 -2.1 2 -1.1 0 -2.2 1.8 -1 2.1 1 1.6 0.9 2.3 1.2 1.5 1.2 1.2 1.6 1.3 0.1 1.3 1.1 1.9 1.6 1.8 0.2 1.8 -1.1 1.1 1.3 1.8 -1.1 2 -0.7 1.1 -1.3 1.6 -0.3 1.8 -1 0.2 -2.2 1.7 -0.1 1.6 -1.8 1.9 0.6 1.2 -1.2 2 -0.8 1.5 0 2.2 -0.6 1.6 1.4 2.1 -0.4 1.6 -0.3 1.7 0.7 -1.1 1.2 -0.2 2.1 -1.2 1.7 -0.8 2.1 -1 1.4 -1.8 1.3 -0.4 1.4 -1.5 1.5 -1.6 0.6 -0.6 2.5 -1.3 0.8 -1.2 1.7 -1.3 1.6 -1 0.7 -1 1.8 -1.4 1.6 -0.7 1.8 -2.3 0.9 -0.7 1.9 -1.8 0.2 -1 -2.6 -1.9 0.1 -1.4 -0.5 -1.7 -2.3 -1.6 -0.5 -1.2 -1.8 -2.5 -0.3 -1 -1.6 -1.8 0.1 -1.1 -2.1 -1.8 -0.9 -1.9 -0.7 -0.7 -1.2 -2.1 -0.9 -1.6 -0.1 -1.2 -1.8 -1.9 -1z"/>
<path fill="#fff" stroke="#fff" d="M673.4 1336.1l1.6 1.1 1.9 1 1.2 1.8 1.6 0.1 2.1 0.9 0.7 1.2 1.9 0.7 1.8 0.9 1.1 2.1 1.8 -0.1 1 1.6 2.5 0.3 1.2 1.8 1.6 0.5 1.7 2.3 1.4 0.5 1.9 -0.1 1 2.6 1.8 -0.2 -0.9 1.5 -2.1 0.7 -1.7 1.6 -2 0.7 -0.2 2.2 -1.6 0.1 -0.9 1.7 -0.7 1.7 -2.5 1.4 -0.5 1.6 -1.8 0.8 0.5 1.7 -1.6 1.2 -1.6 1.7 -2.1 0.7 -2 -0.7 -1.8 0.2 -0.9 -1 -2.1 -0.4 -0.7 -1.4 -0.5 -2 -0.9 -1.8 -1.6 -0.5 -0.8 -2.3 -0.3 -1.7 -1.1 -2 1.9 -0.5 1.4 -0.9 1.7 -0.3 1.6 -0.7 -0.4 -2.1 1.3 -2.1 1 -1.7 -1.2 -1.6 1.2 -1.4 -2.1 -1.4 -0.3 -2.3 -0.2 -1.8 -0.7 -2 -0.1 -1.8 -1.4 -1.1 0.2 -1.4z"/>
<path fill="#f5ebd3" stroke="#f5ebd3" d="M540.3 1351.1l1.4 -1.3 2.2 0 0.1 1.5 1.6 1.8 1.4 1.4 -0.8 2.3 1.4 1.8 1.7 1 1.5 0.2 1.5 1.9 1.6 0.6 1.3 -0.8 2.2 0.9 1.2 -2 1.5 0.2 1.1 -1.8 2.4 0.4 0.9 -2.4 2.3 0.7 0.9 -1.4 0.9 -1.7 2.3 -0.6 0.2 -1.4 1.6 -1.3 0.9 -2 -0.4 -2.5 2.1 -1.4 -0.1 -1.6 0.6 -1.9 -0.3 -1.9 0.9 -1.3 2 -0.6 1 -2 2 -1.1 1.8 0.2 1.1 0.6 2 0 1.4 0.4 1.9 0.3 1.2 0.4 1.9 0.2 1.2 0.4 1.9 -1.1 1.4 -0.5 0.8 -1.3 2.2 -0.4 1.6 0.6 1.2 -1 1.7 0 1.6 -1.2 2.1 -0.7 1 -1.9 1.9 -0.9 0.9 -1.6 1.7 -0.3 1.1 -1.9 1.4 -1.7 2.4 -0.2 2.2 1 1.5 0.9 0.5 1.6 1.7 0.8 0.6 1.4 1.3 2.2 1.1 1.5 -0.6 2 1 2.2 2.4 1 0.9 -1.3 1.9 -1.1 0.6 -2.4 1.7 -0.4 1.7 -1.5 1.2 -1.3 0.7 -1.6 1.9 0.6 1.1 -1.8 1.6 -1.5 0.7 -1.5 1.5 -0.8 0.5 -1.9 2.3 -0.4 1 -1.3 1.8 0.8 1.3 1.9 2.5 0.5 1.9 1.1 1.8 0.3 1.6 1.4 1.5 -1.3 1.6 1.3 1.5 1 1.3 -0.5 1.2 1.3 1.6 1.5 1.6 1.5 -0.2 2.2 1.2 1.3 1.4 2.2 1.3 1.6 -0.2 1.4 1.4 1.1 0.1 1.8 0.7 2 0.2 1.8 0.3 2.3 2.1 1.4 -1.2 1.4 1.2 1.6 -1 1.7 -1.3 2.1 0.4 2.1 -1.6 0.7 -1.7 0.3 -1.4 0.9 -1.9 0.5 1.1 2 0.3 1.7 0.8 2.3 1.6 0.5 0.9 1.8 0.5 2 0.7 1.4 2.1 0.4 0.9 1 1.8 -0.2 2 0.7 2.1 -0.7 -1.2 1.3 -0.1 1.8 -1.9 1.8 0.2 2 -1.1 1.7 -0.5 1.5 -1.8 1 0.7 2 -1.9 1.6 -0.3 1.4 -2 1.2 0.3 2.3 -2.8 0.9 -0.5 1.9 -1.6 1.2 -1.5 2 -2 0.5 -1.1 1.3 -2 0.5 -1.5 1.7 -1.6 0.2 -1.2 1.3 -0.3 1.8 0.4 1.6 -1.9 2.1 1.2 1.3 -0.6 2 0.8 1.3 -0.9 1.7 0.6 1.7 -0.9 2 1 1.6 -0.6 1.7 -0.9 1.5 1 1.5 -0.8 2.1 0.3 1.8 -1.1 1.2 0.2 1.9 0 2 0.4 1.3 -1.1 1.5 1.2 1.5 -0.9 1.9 0.9 1.8 -0.3 1.9 1.6 1.7 -1.5 1.3 1.2 1.4 -1.3 2.1 1.1 1.6 0.2 1.5 -0.4 1.9 1.8 1.4 -1 2.3 0.8 1.4 -0.2 1.6 0.5 1.8 -1 1.3 0.9 1.9 -2 1.6 1.3 1.6 -0.9 1.8 -0.9 1.9 0.2 1.7 -1.6 1.1 -0.1 1.9 -1.5 1.7 0.2 1.5 -1.1 2.2 -2.1 0.3 -0.1 2.2 -1.7 1.6 -1 2.5 -2 0.9 -0.8 1.6 -1.9 -1.8 -1.8 0.5 -1.1 -1.8 -1.9 0 -0.8 -2.5 -1.2 -0.7 -1.8 -0.4 -0.8 -2.1 -0.2 -2.3 -1.9 -1.2 0.3 -2.7 -1.2 -1.3 0.8 -1.1 1.8 -0.7 -0.2 -2.4 2.2 -0.8 -0.3 -1.6 1.7 -1.7 -1 -2.3 2.4 -1.3 -0.6 -1.7 1.3 -1.2 1.1 -2.2 1.3 -1.6 -0.3 -2 -1.2 -0.9 0.3 -2.1 -2.1 -0.5 -0.8 -1.3 -2.4 -0.2 -1 -1.8 -2.3 -0.1 -1.4 -1.7 -2.2 0.3 -1.6 -1 -1.5 -0.8 -2.1 0.5 -1 -1 -2 0.8 -2 -0.9 -1.4 0.2 -1.6 -1.2 -0.2 -2.2 -2.2 -0.6 -1 -2.3 -1.4 -0.9 -2.3 0 -1.4 -1.8 -2.4 0.2 -1.6 -0.3 -1.4 -1.5 -2.5 1.6 -1.3 -2 -2 0.9 -1.2 -1.2 -1.6 -1 -2.2 -0.1 -0.6 -1.4 -2.3 0.4 -1.3 -1.9 -2 0.3 -1.7 -0.7 -1.8 -0.1 -1.8 -1.1 -1.1 0.5 -2.3 -0.9 -1.3 -0.2 -0.3 -2.2 -1.7 -1.5 -0.5 -1.3 -1.7 0.4 -1.5 -1.7 -2.2 0.1 -2.2 -0.6 -2.1 0.1 -0.9 2.1 -2 -0.3 -1.6 1.9 -1.9 -0.3 -1.5 0.8 -1.5 0.8 -0.7 1.2 -2.5 0.3 -1.1 1.8 -1.9 -0.2 -0.6 2.3 -1.7 0 -1.1 1.1 -2.2 0.5 -1.7 1.7 -1.4 -0.5 -2.1 1.8 -1.5 0.4 0.3 -1.8 0.5 -2 -0.7 -2.2 1.2 -1.5 -0.4 -1.9 0 -1.7 -0.6 -1.5 -0.3 -2.4 -1.1 -1.3 0.5 -2.6 -1 -2 -0.4 -1.6 0.6 -1.8 -1.2 -2.3 0.4 -2 -0.3 -1.4 0.3 -1.4 -1 -1.7 1.1 -1.8 -1.6 -2.1 0.7 -1.8 -0.4 -1.8 0.3 -2.5 -0.6 -1.9 -0.6 -1.2 1 -1.9 -1.8 -1.8 0.6 -1.4 -1.2 -2.3 0.7 -1.4 0.7 -2 -0.3 -2.3 1.5 -1 -0.6 -2.2 -0.2 -1.7 -1.8 -1.3 -0.3 -1.8 -1.3 -0.9 -0.2 -1.8 1.2 -1.8 -0.1 -1.6 1.4 -1.6 1.8 -1.4 0.6 -2.2 2 -1.2 0.6 -1.5 1.2 -2.2 1.4 -0.8 0.8 -1.6z"/>
<path fill="#d89d27" stroke="#d89d27" d="M463.1 1342.3l0.5 -1.7 1.2 -1.2 -0.5 -2.8 2 -1.4 0 -1.7 0.8 -1.7 2 -1.4 0 -1.4 1.4 -1.8 1.1 -1.8 2.6 0.1 1 -1.4 1.1 -0.9 -0.2 -2.8 1.2 -1 1.1 -1.5 0.6 -2.7 1.4 -1 -0.6 -1.5 1.4 -1.5 -0.6 -2 1.1 -1.8 -1.1 -1.3 -1.2 -1.6 -0.8 -0.6 -1.3 -1.7 0.8 -1.7 1.3 -1 0.1 -1.4 1.4 -1.1 -0.3 -1.5 -0.1 -1.5 0 -1.8 1.7 -1.6 2.1 -0.5 0.9 -2.6 1.8 0 1.2 -1.5 2.5 -0.7 0.7 -1.7 2.1 -0.6 1.3 -1.1 -0.7 -2.3 2.5 -0.9 -0.4 -1.9 0.7 -1.4 -0.2 -2.3 2.1 -1.9 -0.2 -1.7 -1.4 -0.6 -0.8 -1.9 -1.9 0.4 -1 -1.8 -1.7 -0.4 -2.2 -1.6 1.8 -0.2 1.6 -1.9 1.4 1 2 -0.8 1.7 1 2.2 -0.7 1.5 1.8 1.6 -1 1.7 0.9 1.1 2.1 2.6 -0.4 1.3 2 0 1.9 0.8 1.7 -0.6 1.8 1.1 1.9 0 1.5 -1 1.9 1.2 1.7 -1.9 1.5 1.3 1.7 -1.6 1 0.2 2 -0.3 1.8 -0.7 1.4 0.8 2 -1.5 1.8 0.5 1 -0.8 2 2 1.2 -0.3 2.4 2.8 0.4 0.5 2.3 0.3 1.5 2.4 0.9 -0.3 2.9 2.5 0.6 0.1 1.6 1.7 -0.4 1.6 1.2 1.3 -0.8 1.7 1.2 1.8 0.6 0.6 2.2 0.8 1 -0.6 2.1 -0.7 1 -0.7 1.9 -0.7 1.4 -2.3 1.8 -0.7 1.8 0.3 1.4 -1 1.8 0.4 1.7 -1 1.3 1.6 1.8 -0.1 2.1 1.7 0.3 0.6 2.1 0.7 1.2 1.8 1.3 0.2 2.4 1 1.4 -0.1 2.1 1.9 1.1 0.7 1.8 1.5 1.4 1.5 -1 2 0.8 1.2 0.9 2.8 -0.7 1.2 1.1 -1.8 1.6 -0.8 1.6 -1.4 0.8 -1.2 2.2 -0.6 1.5 -2 1.2 -0.6 2.2 -1.8 1.4 -1.4 1.6 0.1 1.6 -1.2 1.8 0.2 1.8 1.3 0.9 0.3 1.8 1.8 1.3 0.2 1.7 0.6 2.2 -1.5 1 0.3 2.3 -0.7 2 -0.7 1.4 1.2 2.3 -0.6 1.4 1.8 1.8 -1 1.9 0.6 1.2 0.6 1.9 -0.3 2.5 0.4 1.8 -1.7 -0.1 -1.5 0.1 -1.4 0.6 -2.2 -0.3 -0.9 0.7 -1.8 0.3 -1.2 0.6 -2.3 -0.4 -0.9 1.8 -1.8 0 -1.6 -0.9 -2.7 1.5 -2 -0.6 -0.7 2.6 -1.8 0.4 -1.6 -0.2 -1.4 -0.8 -2 -0.3 -1.5 -1.5 -2 0.9 -1.5 -1.9 -1.5 0.6 -1.2 1.4 -1 0.5 -1.7 -1.3 0 -1.6 -2.1 -0.8 -0.9 -1.9 -1.4 -0.2 -1.2 -1.5 -1.5 -1.4 -1.4 1.2 -2.4 0 -1.9 0.6 -0.2 2.6 -1.9 0.5 -1 2.1 -2.2 -0.2 -0.6 -2.2 -1.9 0.7 -1.5 -1.6 -1.9 -0.5 -0.8 -1.5 -2.5 0.7 -1.1 -1.2 -0.1 -1.6 -1.1 -1.2 0.1 -2.1 -1.4 -1.3 -1 2.1 -1.7 1.2 -1 1.7 -0.3 -1.4 -0.8 -1.7 -0.2 -1.9 0.3 -1.9 -0.9 -1.1 1.1 -2.2 -1.7 -1.4 1.2 -2 -0.7 -1.4 -0.5 -2.1 0.4 -1.4 -0.3 -1.8 0.2 -1.3 -1.1 -1.7 0.8 -1.7 0.4 -1.6 -0.6 -2.3 1.8 -1.1 -0.4 -2.1 1.2 -1.3 0.1 -1.6 0.6 -1.8 -0.5 -2 1.5 -1.6 -1 -1.5 1.6 -1.2 0.3 -1.9 0.2 -1.8 1.4 -1.9 -0.1 -2.2 1 -1.3z"/>
<path fill="#ebcd8a" stroke="#ebcd8a" d="M266.4 1324.8l55.1 0 0 -1.5 0.9 -2.4 -0.6 -1.6 0.9 -2.2 -0.8 -1.7 0.8 -1.9 2.5 -15 0.7 2.2 1.7 1.2 0.1 1.8 1.4 1.3 -0.4 2.2 1.5 1.3 1.6 1.4 -0.7 2.9 1.8 0.7 0.1 2.4 1.7 0.9 0 2.2 0.7 1.5 0.3 1.7 1.3 0.9 0.3 1.6 0.9 1.8 1.8 0.5 1.2 2.2 1.2 0.7 1.6 1.6 1.1 0.8 1.7 0.1 1.7 1.4 1.7 0.2 112.9 8.3 -0.5 1.6 -1 1.3 0.1 2.2 -1.4 1.9 -0.2 1.8 -0.3 1.9 -1.6 1.2 1 1.5 -1.5 1.6 0.5 2 -0.6 1.8 -0.1 1.6 -1.2 1.3 0.4 2.1 -1.8 1.1 0.6 2.3 -0.4 1.6 -0.8 1.7 1.1 1.7 -0.2 1.3 0.3 1.8 -0.4 1.4 0.5 2.1 0.7 1.4 -1.2 2 1.7 1.4 -1.1 2.2 0.9 1.1 -0.3 1.9 0.2 1.9 0.8 1.7 0.3 1.4 0.4 2.1 -1.3 1.4 1.1 1.5 -1.3 1.8 0.5 1.5 -0.7 1.7 0.1 2.1 -1.6 0.9 1 1.7 -1.7 1.7 1 2.1 -1.3 1.5 -0.6 1.2 -0.2 2.7 -1.9 1 0.8 2.2 -2.2 1 0.4 1.9 -1.7 1.5 0.6 2 -1.6 0.9 0.1 1.8 -1.2 1.3 -1.2 2.2 -2.1 -0.2 -1 2.2 -1.9 0.8 -1.7 1.3 0.2 1.7 -2 1.5 -0.4 2.1 -1.1 0.9 -1 1.4 -0.4 2.3 -2 0.5 -0.5 2.4 -1.1 0.9 -1 1.5 -1.8 0.2 -1.8 2.1 -1.3 -0.1 -1.6 1.3 -1.4 1.4 0.2 2.2 -1.7 0.2 0.1 2.2 -1 1.6 -1.3 1.5 -0.1 1.4 -1.3 1.5 -0.1 1.2 -1 1.9 -0.8 1.2 0.1 2.3 -1.4 1.4 0.5 1.9 -2.3 1.2 0.2 1.8 1.2 1.6 -0.7 1.9 1.6 1.4 -0.8 1.4 -1.7 0.8 -2.5 -0.9 -2.1 0.1 -1.6 -0.9 -1.5 0.9 -1.3 -1.7 -1.8 0.4 0.1 -1.9 2.1 0.2 0.3 -2 0.5 -1.7 -0.6 -1.6 0.6 -1.7 -1.1 -1.3 -0.7 -1.2 -1.1 1.4 -2.2 0.1 -1.7 1 -1.7 1.1 -1.7 -0.7 -1.3 2.1 -2.4 -0.7 -1.6 1.4 -1.6 0.7 -2.1 -2 -1.8 1.2 -2 -0.6 -2.2 -0.6 -2.1 0.7 -1.2 -1.3 -2 -0.1 -1.8 -0.6 -1.8 -1.2 -2.1 0.5 -1.8 -1.2 -1.8 -0.7 -1.4 -1.4 -1.8 -0.4 -1.3 0.6 -2 -0.7 -1.5 2 -1.5 -0.6 -2 0 -0.5 1.6 -2.2 -0.1 -0.8 2.4 -2 -0.2 -1.8 0.5 -0.7 2.2 -3.1 0.6 -0.7 1.7 -1.6 0.5 -1.9 0 -1.7 0.8 -0.6 -1.7 -1.8 -0.3 -0.9 -1.6 -0.9 -1.4 -2 -1.2 -0.4 -1.1 -1.7 -1.3 -1.4 -1 0.4 -2.4 -2.1 -1.1 0.2 -2 -0.9 -1 -1.1 -1.7 0.8 -2.1 -1.4 -2.2 0.5 -1.5 -0.1 -1.5 -1.4 -1.9 -0.3 -1.2 -14.5 -0.5 -14.3 -0.5 0.1 -1.8 -0.6 -1.6 0.3 -2 -0.5 -1.6 0.2 -2 -1.9 -1.7 0.1 -2.4 -0.9 -1.4 -0.7 -1.9 -1.4 -1.1 0.1 -1.3 -1.8 -1.2 1.5 -0.6 1.8 0.6 1.7 -0.7 0.5 -1.5 -1.6 -2.2 0.8 -1.6 -1.2 -1.4 0.3 -2.1 -0.7 -1.6 0.2 -2.4 -1.2 -1 0.4 -2.5 -0.5 -1.7 -1 -2 0.8 -2.1 -1.7 -1.4 -0.1 -1.5 1.2 -2 -0.1 -1.4 1.4 -1.6 2.4 -1.4 -0.7 -2.5 2.1 -1.2 -0.1 -1.9 1.3 -0.7 0.5 -2.2 0.8 -1.4 1.2 -1.4 1 -2.1 1.6 -0.4 0.7 -2.4 -0.4 -1.4 -0.9 -1.9 0.2 -1.1 -0.9 -1.8 -1.2 -1.8 0.5 -1.9 -1.1 -1.9 -0.2 -1.9 0 -1.7 0.9 -2.1 -1.4 -2.7 1.2 -1.5 -2.1 0.1 -1.1 -1.8 -1.1 0.4 -1.9 -0.7 -1.9 0.1 -1.9 -2.2 -2 1.5 -1.7 -1.4 -1.5 -1.3 -2.6 1.3 -1.7 -0.9 -1.8 0.4 -1.5 -1.1 -2.2 0.5 -1.7 -0.7 0.4 -1.7 -1 -2.4 1.3 -1.4 -1 -1.8 0.5 -1.9 -0.2 -2 -0.8 -1.3 0.8 -2.1 -0.4 -1.8 0.3 -1.7 -1.3 -1.7 0.6 -1.4 0 -1.8 1.1 -1.6 -0.7 -2.3 0.4 -1.9 0.7 -2.1 -1.5 -1.6 1 -1.7 -1.5 -1.1z"/>
<path fill="#efd8a2" stroke="#efd8a2" d="M457.6 1396.1l1 -1.7 1.7 -1.2 1 -2.1 1.4 1.3 -0.1 2.1 1.1 1.2 0.1 1.6 1.1 1.2 2.5 -0.7 0.8 1.5 1.9 0.5 1.5 1.6 1.9 -0.7 0.6 2.2 2.2 0.2 1 -2.1 1.9 -0.5 0.2 -2.6 1.9 -0.6 2.4 0 1.4 -1.2 1.5 1.4 1.2 1.5 1.4 0.2 0.9 1.9 2.1 0.8 0 1.6 1.7 1.3 1 -0.5 1.2 -1.4 1.5 -0.6 1.5 1.9 2 -0.9 1.5 1.5 2 0.3 1.4 0.8 1.6 0.2 1.8 -0.4 0.7 -2.6 2 0.6 2.7 -1.5 1.6 0.9 1.8 0 0.9 -1.8 2.3 0.4 1.2 -0.6 1.8 -0.3 0.9 -0.7 2.2 0.3 1.4 -0.6 1.5 -0.1 1.7 0.1 -0.7 1.8 1.6 2.1 -1.1 1.8 1 1.7 -0.3 1.4 0.3 1.4 -0.4 2 1.2 2.3 -0.6 1.8 0.4 1.6 1 2 -0.5 2.6 1.1 1.3 0.3 2.4 0.6 1.5 0 1.7 0.4 1.9 -1.2 1.5 0.7 2.2 -0.5 2 -0.3 1.8 -1.6 -1.4 -0.6 -2.3 -1.5 -0.8 -1.3 0.6 -1.9 0.4 -1.8 1 -1.1 1.7 -1.9 -0.6 -0.8 1.4 -1.5 1.5 0.8 2.2 -1.7 0.7 -0.1 1.9 -0.2 1.9 -1.1 1.2 1 2 -0.9 1.1 -1.6 1.4 -2.5 -0.1 -0.9 1.2 -1.8 1.3 0.6 2 -1.3 1.7 0.4 2.3 -0.2 1.3 0.8 2.3 0.2 1.7 0 1.9 2.1 1.9 -0.7 1.5 1.1 2.2 -1.6 1.8 0.8 2.2 -1.5 1.3 -0.2 2.2 -0.7 1.9 1.5 1.4 -0.5 1.3 0.6 1.5 0.1 1.7 0.3 2 -1.6 1.4 -0.9 2.2 -1.2 1.4 -2.1 -0.6 -1 1.6 -1.7 -1.2 -1.6 1.5 -1.9 -0.4 -1.8 0.4 -1.5 -0.6 -2.1 0.3 -1.6 -0.4 -1.3 0 -2 -0.7 -1.5 0.1 -1.3 0 -1.9 0.8 -1.2 -0.2 -1.8 0.7 -1.3 0.6 -1.9 0.1 -1.5 1.3 -2.2 -0.2 -1.9 0.7 -1.3 0.2 -2 0.6 -2 -0.4 -1.3 1.4 -1.7 -0.7 -1.7 1.4 -1.1 1.4 -2.2 -0.2 -1.2 1.7 -1.7 0.8 -1 2.2 -2 0.4 -1 1.4 -1 1 -1.8 1 -0.3 2.4 -1.7 0.4 -1.1 -1.1 -2.5 -0.2 -1.4 -1.2 -1.6 -1.6 -2.5 0.7 -0.5 -2 -2.8 0.7 -1.3 -1.6 -1.6 -1.3 -1.9 -0.1 -2 -1.5 -1.6 0.6 -1.7 -1.4 -2.6 0 -0.7 -1.9 -2.1 -0.1 -1.4 -1.4 -2 -0.4 -0.3 -1.6 -2.5 0 -1.1 -2.5 -1.1 -0.9 -0.6 -1.8 0.9 -1.4 -2 -1.1 0.5 -1.9 0.8 -1.4 -1.6 -1.4 0.7 -1.9 -1.2 -1.6 -0.2 -1.8 2.3 -1.2 -0.5 -1.9 1.4 -1.4 -0.1 -2.3 0.8 -1.2 1 -1.9 0.1 -1.2 1.3 -1.5 0.1 -1.4 1.3 -1.5 1 -1.6 -0.1 -2.2 1.7 -0.2 -0.2 -2.2 1.4 -1.4 1.6 -1.3 1.3 0.1 1.8 -2.1 1.8 -0.2 1 -1.5 1.1 -0.9 0.5 -2.4 2 -0.5 0.4 -2.3 1 -1.4 1.1 -0.9 0.4 -2.1 2 -1.5 -0.2 -1.7 1.7 -1.3 1.9 -0.8 1 -2.2 2.1 0.2 1.2 -2.2 1.2 -1.3 -0.1 -1.8 1.6 -0.9 -0.6 -2 1.7 -1.5 -0.4 -1.9 2.2 -1 -0.8 -2.2 1.9 -1 0.2 -2.7 0.6 -1.2 1.3 -1.5 -1 -2.1 1.7 -1.7 -1 -1.7 1.6 -0.9 -0.1 -2.1 0.7 -1.7 -0.5 -1.5 1.3 -1.8 -1.1 -1.5 1.3 -1.4z"/>
<path fill="#f5ebd3" stroke="#f5ebd3" d="M535.1 1438.6l1.5 -0.4 2.1 -1.8 1.4 0.5 1.7 -1.7 2.2 -0.5 1.1 -1.1 1.7 0 0.6 -2.3 1.9 0.2 1.1 -1.8 2.5 -0.3 0.7 -1.2 1.5 -0.8 1.5 -0.8 1.9 0.3 1.6 -1.9 2 0.3 0.9 -2.1 2.1 -0.1 2.2 0.6 2.2 -0.1 1.5 1.7 1.7 -0.4 0.5 1.3 1.7 1.5 0.3 2.2 1.3 0.2 2.3 0.9 1.1 -0.5 1.8 1.1 1.8 0.1 1.7 0.7 2 -0.3 1.3 1.9 2.3 -0.4 0.6 1.4 2.2 0.1 1.6 1 1.2 1.2 2 -0.9 1.3 2 2.5 -1.6 1.4 1.5 1.6 0.3 2.4 -0.2 1.4 1.8 2.3 0 1.4 0.9 1 2.3 2.2 0.6 0.2 2.2 1.6 1.2 1.4 -0.2 2 0.9 2 -0.8 1 1 2.1 -0.5 1.5 0.8 1.6 1 2.2 -0.3 1.4 1.7 2.3 0.1 1 1.8 2.4 0.2 0.8 1.3 2.1 0.5 -0.3 2.1 1.2 0.9 0.3 2 -1.3 1.6 -1.1 2.2 -1.3 1.2 0.6 1.7 -2.4 1.3 1 2.3 -1.7 1.7 0.3 1.6 -2.2 0.8 0.2 2.4 -1.8 0.7 -0.8 1.1 1.2 1.3 -0.3 2.7 1.9 1.2 0.2 2.3 0.8 2.1 1.8 0.4 -1.9 -0.1 -1 1.3 -2.1 0.1 -2.1 1.4 -2.3 -1 -0.8 2 -2.4 0.1 -1.1 0.8 -0.6 1.5 -1.3 1.4 0.3 1.6 1.3 1.2 -1 2.2 1.2 1.3 -1 2.2 0.6 1.8 -2 1.4 -0.1 2.1 0.7 2.2 -1.7 1.5 1.1 1.9 -1.4 1.9 0 1.8 -1.4 1.1 -0.4 1.9 -0.7 1.4 -1.6 1 -0.5 1.5 -1.9 0.4 -1 2.1 0.1 2.5 -1.7 1 0.2 2.4 -1.1 1.7 -1.4 2 -1.5 0.9 -1.4 1.2 -1.1 1.9 -1.4 1.4 -1 2.1 0.1 2.1 -0.2 2 -0.6 2.1 -1.5 1.6 -0.2 2.2 -1.7 1.1 -1.7 0 -1.6 1 -1.8 0.4 -0.2 1.9 -2.1 0.2 -1.6 0 -0.9 1.5 -1.7 0.6 -1.2 -1.2 -2.1 -0.1 -1.7 -0.1 -2.1 0.9 -1.5 -0.8 -1.4 1.3 -2.2 -0.4 -1.3 1.4 -1.3 -0.3 -1.9 0.9 -1.9 0 -1 1.5 -2.1 -0.2 -1.6 0.8 -1.5 0.7 -1.9 0 -1.6 1.1 -1.7 0.4 -1.5 -0.2 -1.8 0.9 -1.6 -0.4 -2.1 1.9 -1.3 0.2 -2.8 0.1 -1.4 1.2 -1.8 -0.3 -2 0.7 -0.8 1.1 -0.4 1.8 -2.5 0.8 -1.7 0.9 -2.4 -0.9 -1.8 0.9 -0.5 -1 -0.7 -1.5 -0.6 -1.9 -1.1 -2.3 -0.8 -2.2 -1.6 -1 -0.5 -1.8 -0.8 -2.3 0.4 -1.9 -0.1 -2 2 -1 -0.3 -2 1 -2.5 0.3 -1.7 -1.4 -0.9 -1.1 -1.6 -1.8 0.6 -1.4 -0.6 -1.8 0 -0.6 -2 -1.3 -1.4 0.3 -1.7 -0.7 -1.9 -0.2 -2.1 -1.1 -1.1 0.1 -2.2 -1.3 -1.4 0 -1.9 -1.4 -1.6 0.5 -1.8 -1.5 -2.1 1.2 -1.6 -1.3 -1.7 -1.8 0.6 -1.1 -2 -2.1 0.6 -1.8 1.2 -2.2 -1.4 -0.6 1.8 -2.2 -0.2 -1.4 1.2 -1.9 -0.6 -1.7 0.9 -1.9 -0.5 -2.3 0.5 -1.4 -0.8 -2.2 2 -1.7 -0.8 -0.8 1.3 -0.5 2.5 -1.8 -0.9 -1.9 0.2 -1.3 -0.6 0 -1.4 -1.9 -1.7 0.3 -1.7 -0.9 -1.5 -1.8 0.5 -1.1 -1.1 -2.5 0.8 -0.9 -1.2 -1.7 1.7 -2 -1.2 -1.8 0 -1.3 -0.8 -2.3 0.7 -1.3 -1.1 -1.8 0.3 -1.5 -0.6 -2.3 0.2 -1.7 1.5 -1.7 -0.4 -1.8 0.7 -0.2 -1.5 0.8 -1.7 -0.8 -2.4 1.2 -1.3 -1 -1.8 1.7 -0.4 0.3 -2.4 1.8 -1 1 -1 1 -1.4 2 -0.4 1 -2.2 1.7 -0.8 1.2 -1.7 2.2 0.2 1.1 -1.4 1.7 -1.4 1.7 0.7 1.3 -1.4 2 0.4 2 -0.6 1.3 -0.2 1.9 -0.7 2.2 0.2 1.5 -1.3 1.9 -0.1 1.3 -0.6 1.8 -0.7 1.2 0.2 1.9 -0.8 1.3 0 1.5 -0.1 2 0.7 1.3 0 1.6 0.4 2.1 -0.3 1.5 0.6 1.8 -0.4 1.9 0.4 1.6 -1.5 1.7 1.2 1 -1.6 2.1 0.6 1.2 -1.4 0.9 -2.2 1.6 -1.4 -0.3 -2 -0.1 -1.7 -0.6 -1.5 0.5 -1.3 -1.5 -1.4 0.7 -1.9 0.2 -2.2 1.5 -1.3 -0.8 -2.2 1.6 -1.8 -1.1 -2.2 0.7 -1.5 -2.1 -1.9 0 -1.9 -0.2 -1.7 -0.8 -2.3 0.2 -1.3 -0.4 -2.3 1.3 -1.7 -0.6 -2 1.8 -1.3 0.9 -1.2 2.5 0.1 1.6 -1.4 0.9 -1.1 -1 -2 1.1 -1.2 0.2 -1.9 0.1 -1.9 1.7 -0.7 -0.8 -2.2 1.5 -1.5 0.8 -1.4 1.9 0.6 1.1 -1.7 1.8 -1 1.9 -0.4 1.3 -0.6 1.5 0.8 0.6 2.3z"/>
<path fill="#fff" stroke="#fff" d="M637.8 1488.5l1.2 0.7 0.8 2.5 1.9 0 1.1 1.8 1.8 -0.5 1.9 1.8 -0.6 1.5 0.4 1.8 -1.4 1.5 1 2 -0.6 1.9 0 1.5 -1 2.3 0.8 1.8 -1.1 1.9 -0.5 2 -1.5 0.5 0.6 2.4 -2.3 0.9 0 1.7 -1.5 1.4 0 1.9 -1 0.8 0 2.3 -1.3 1.1 -1.4 1.1 0.7 2.5 -2 0.3 -0.4 2.5 -0.6 1.2 -0.9 1.8 -1.4 0.6 0.3 2.3 -1.8 1.5 1.1 -1.3 -0.8 1 -1.8 0.8 -0.8 1.5 -1.1 1.5 0.3 1.9 -1.7 0.8 -0.8 1.7 -1.9 -0.8 -1.4 -0.1 -2.1 -0.5 -2.1 -0.3 -2.1 -0.8 -2.1 -0.9 -0.3 -1.1 -0.9 -1.4 -0.2 -2.5 -1.5 -1.2 1.4 -2 1.1 -1.7 -0.2 -2.4 1.7 -1 -0.1 -2.5 1 -2.1 1.9 -0.4 0.5 -1.5 1.6 -1 0.7 -1.4 0.4 -1.9 1.4 -1.1 0 -1.8 1.4 -1.9 -1.1 -1.9 1.7 -1.5 -0.7 -2.2 0.1 -2.1 2 -1.4 -0.6 -1.8 1 -2.2 -1.2 -1.3 1 -2.2 -1.3 -1.2 -0.3 -1.6 1.3 -1.4 0.6 -1.5 1.1 -0.8 2.4 -0.1 0.8 -2 2.3 1 2.1 -1.4 2.1 -0.1 1 -1.3z"/>
<path fill="#fff" stroke="#fff" d="M558.4 1567.8l1.6 -1.1 1.9 0 1.5 -0.7 1.6 -0.8 2.1 0.2 1 -1.5 1.9 0 1.9 -0.9 1.3 0.3 1.3 -1.4 2.2 0.4 1.4 -1.3 1.5 0.8 2.1 -0.9 1.7 0.1 2.1 0.1 1.2 1.2 1.7 -0.6 0.9 -1.5 1.6 0 2.1 -0.2 0.2 -1.9 1.8 -0.4 1.6 -1 1.7 0 1.7 -1.1 0.2 -2.2 1.5 -1.6 0.6 -2.1 0.2 -2 -0.1 -2.1 1 -2.1 1.4 -1.4 1.1 -1.9 1.4 -1.2 1.5 -0.9 1.5 1.2 0.2 2.5 0.9 1.4 0.3 1.1 2.1 0.9 2.1 0.8 2.1 0.3 2.1 0.5 1.4 0.1 1.9 0.8 0.2 2.7 -1 1.4 0.9 1.8 -0.1 1.6 0 2.6 0.8 1.5 -2.2 0.7 -0.3 1.8 -2.6 0.3 -1.5 1.4 -2.7 0.3 -1.5 1.4 -2.3 0.8 -1 1.7 -1.5 1.5 -1 1 -0.5 1.2 -0.8 1.3 -0.5 1.3 1.3 1.2 -1 1.4 -1 1.1 -2 -1.2 -1.9 1.7 -1.2 -0.9 -1.9 0.6 -1.7 -0.6 -1.4 0 -1.7 -0.3 -1.2 0.6 -2.1 0.1 -1.9 -0.1 -1.4 0.5 -0.6 -1.4 -0.2 -1.5 -1.7 -0.7 -0.6 2 1.3 1.2 -1.3 1.6 -1.9 -0.4 -1.7 -0.9 -2.5 0.5 -1.1 -0.7 -2.2 -0.5 -1.4 1 -1.9 -0.6 -0.7 1.7 -1.8 0 -1.5 0.6 -1.4 0.9 -1.2 -1.8 -0.9 -1.4 1.6 -0.8 1.9 -1.7 -0.6 -2.3 -1.6 -0.4 -1.3 -0.6 -2.5 0.3 -1 -1.3 -1.3 -1.3z"/>
<path fill="#f1dcab" stroke="#f1dcab" d="M450.1 1523.5l1.8 -0.7 1.7 0.4 1.7 -1.5 2.3 -0.2 1.5 0.6 1.8 -0.3 1.3 1.1 2.3 -0.7 1.3 0.8 1.8 0 2 1.2 1.7 -1.7 0.9 1.2 2.5 -0.8 1.1 1.1 1.8 -0.5 0.9 1.5 -0.3 1.7 1.9 1.7 0 1.4 1.3 0.6 1.9 -0.2 1.8 0.9 0.5 -2.5 0.8 -1.3 1.7 0.8 2.2 -2 1.4 0.8 2.3 -0.5 1.9 0.5 1.7 -0.9 1.9 0.6 1.4 -1.2 2.2 0.2 0.6 -1.8 2.2 1.4 1.8 -1.2 2.1 -0.6 1.1 2 1.8 -0.6 1.3 1.7 -1.2 1.6 1.5 2.1 -0.5 1.8 1.4 1.6 0 1.9 1.3 1.4 -0.1 2.2 1.1 1.1 0.2 2.1 0.7 1.9 -0.3 1.7 1.3 1.4 0.6 2 1.8 0 1.4 0.6 1.8 -0.6 1.1 1.6 1.4 0.9 -0.3 1.7 -1 2.5 0.3 2 -2 1 0.1 2 -0.4 1.9 0.8 2.3 0.5 1.8 1.6 1 0.8 2.2 1.1 2.3 0.6 1.9 0.7 1.5 0.5 1 1.8 -0.9 2.4 0.9 1.7 -0.9 2.5 -0.8 0.4 -1.8 0.8 -1.1 2 -0.7 1.8 0.3 1.4 -1.2 2.8 -0.1 1.3 -0.2 2.1 -1.9 1.6 0.4 1.8 -0.9 1.5 0.2 1.7 -0.4 0.2 1.8 1.3 1.3 1 1.3 2.5 -0.3 1.3 0.6 1.6 0.4 0.6 2.3 -1.9 1.7 -1.6 0.8 -1.7 1.3 -1.7 -0.5 -1.2 0.6 -1.3 0.7 -0.9 1 0.1 1.9 -0.9 1.3 -1.8 1 -0.6 1 -0.8 1.3 -1.7 1.2 -2.1 0.5 -1.3 1.2 0.3 2.2 -1.1 1.1 -1.2 -0.4 -1.3 -0.4 -2.7 -0.7 -1.5 1.1 -1.9 -0.1 -1.2 0.7 -1.9 0.3 -1 0.9 -1.8 -0.3 -1.4 1.4 -2.2 0.5 -1.2 1.7 -2.4 -0.1 -1.5 1.6 -2 0.2 -1.5 1.1 0.2 2.3 -2.5 0.9 0.6 1.5 -0.6 1.7 -1.3 1.6 -1.8 0.4 -1.1 0.8 -1.6 0.9 -1.7 1.3 -1 2.1 -2.1 -0.1 -1.7 2 -1.5 1 -2.2 1 -1 2.3 -1.8 0.4 -0.2 -2.3 0.2 -1.4 -1.5 -0.5 -1.8 -1.4 -1.5 0.2 -1.5 -0.8 0.1 -2.1 -1.4 -0.9 0.1 -2 -1.6 -0.9 -1.7 0.5 -1.7 -0.9 -1.9 -0.3 -0.9 -1 -1.8 0.4 -1.7 -0.3 -0.1 -2.1 -1.7 -1.2 0.6 -1.7 0 -1.7 -2 -1.3 0.8 -2 -1.3 -1.3 0.1 -1.7 -0.9 -2.2 0.7 -2.2 -1.2 -1.4 -0.7 -1.4 -0.3 -2.7 -1.5 -0.5 0.2 -3.2 -1.4 -1 -1.8 -1.2 -1.3 0 -1.9 -1.3 -2.3 0.8 -1.1 -1.4 -2.5 1.1 -1.6 -1.1 -2.4 1.3 -1.4 -0.7 -1.9 0.4 -1.6 -1.5 -1.8 1.3 -1.2 -1.1 -2 0.7 -1.5 -1 -2.2 -0.6 -1.4 -0.8 -2 0.6 -1.9 -1.7 -1.9 -0.2 -1.6 -1.4 -2.6 1 -1.4 -1.4 -1.5 -0.5 -1.8 0.5 -1.9 -0.5 -2.3 0 -1.6 0.6 -1.5 -0.9 -2.2 1.4 -1.8 -1.3 -1.7 0.7 1.6 -0.7 1.3 -1.5 2.1 -0.8 2 -1.4 0.7 -1.6 2.3 -0.1 1.3 -1.9 0.6 -2.3 2.7 -0.5 0 -2.3 1.7 -1.2 2.4 -1.2 -0.7 -2.2 2.3 -1.2 1 -1.6 0 -2.3 1.5 -1.4 -0.3 -2.7 1.3 -1.1 0.6 -1.1 0.2 -2.4 2.3 -0.7 -0.2 -2 0.9 -1.3 0.9 -1.3 1.7 -0.5 0.8 -2 1.6 -1.2 1.4 -1.2 -0.3 -1.9 1.1 -1.4 0.3 -2.1z"/>
<path fill="#f0dba9" stroke="#f0dba9" d="M334.8 1487.3l1.7 -0.8 1.9 0 1.6 -0.5 0.7 -1.7 3.1 -0.6 0.7 -2.2 1.8 -0.5 2 0.2 0.8 -2.4 2.2 0.1 0.5 -1.6 2 0 1.5 0.6 1.5 -2 2 0.7 1.3 -0.6 1.8 0.4 1.4 1.4 1.8 0.7 1.8 1.2 2.1 -0.5 1.8 1.2 1.8 0.6 2 0.1 1.2 1.3 2.1 -0.7 2.2 0.6 2 0.6 1.8 -1.2 2.1 2 1.6 -0.7 1.6 -1.4 2.4 0.7 1.3 -2.1 1.7 0.7 1.7 -1.1 1.7 -1 2.2 -0.1 1.1 -1.4 0.7 1.2 1.1 1.3 -0.6 1.7 0.6 1.6 -0.5 1.7 -0.3 2 -2.1 -0.2 -0.1 1.9 1.8 -0.4 1.3 1.7 1.5 -0.9 1.6 0.9 2.1 -0.1 2.5 0.9 1.7 -0.8 -0.5 1.9 2 1.1 -0.9 1.4 0.6 1.8 1.1 0.9 1.1 2.5 2.5 0 0.3 1.6 2 0.4 1.4 1.4 2.1 0.1 0.7 1.9 2.6 0 1.7 1.4 1.6 -0.6 2 1.5 1.9 0.1 1.6 1.3 1.3 1.6 2.8 -0.7 0.5 2 2.5 -0.7 1.6 1.6 1.4 1.2 2.5 0.2 1.1 1.1 1 1.8 -1.2 1.3 0.8 2.4 -0.8 1.7 0.2 1.5 -1.2 1 -0.3 2.1 -1.1 1.4 0.3 1.9 -1.4 1.2 -1.6 1.2 -0.8 2 -1.7 0.5 -0.9 1.3 -0.9 1.3 0.2 2 -2.3 0.7 -0.2 2.4 -0.6 1.1 -1.3 1.1 0.3 2.7 -1.5 1.4 0 2.3 -1 1.6 -2.3 1.2 0.7 2.2 -2.4 1.2 -1.7 1.2 0 2.3 -2.7 0.5 -0.6 2.3 -1.3 1.9 -2.3 0.1 -0.7 1.6 -2 1.4 -2.1 0.8 -1.3 1.5 -1.6 0.7 -1.9 1.1 -1.8 0.3 -0.3 1.4 -2.2 0.4 -1.5 1.7 -0.3 2.5 -2 0.8 -0.1 1.7 -2 0.8 0.2 2.2 -1.8 1.6 0.2 1.9 -2.4 1.8 0.3 2.2 -1.3 0.6 -0.6 2.2 -2 0.7 -1.1 -1.5 -1.9 1.4 -1.8 -1.6 -1.9 1 -2.2 0.4 -1.6 0.8 -1.9 -0.2 -1.8 0.3 -2 0.1 -1.7 -1 -2 0.8 -1.8 -1.2 -1.2 -1.7 1.4 -1.7 -1.7 -1.7 1.3 -2.3 -1.3 -1.6 0.2 -2.2 -0.9 -1.5 0.8 -2.2 -1 -1.2 1.1 -2.3 -1.2 -1.2 0 -1.6 -0.5 -1.7 -1.9 -1 0.3 -2.1 -1.7 -1.5 -1.1 -0.8 -1.7 -0.1 -1.5 -1.1 -1.9 -0.5 -1.3 -0.4 -1.9 0.3 -1.2 -2.2 -1.9 0.6 -1.4 0.4 -2.6 -0.2 -1.6 1.4 -1.9 -0.7 -1.3 0.8 -1.8 -1.3 -2.4 0.8 -1.5 -0.9 -1.8 0.2 -1.6 0.2 -1.5 -1.6 -1.7 0.7 -1.8 -0.6 -1.4 0 0.2 -1.9 -0.6 -1.4 1.5 -2.1 -1.4 -1.9 0.8 -1.4 -0.3 -1.8 1.2 -1.3 -0.4 -2.2 1 -1.1 -1.5 -1.7 1.3 -1.9 -0.9 -1.6 -0.2 -2.7 -1.4 -1.2 0 -2 -1.9 -1.4 0.7 -1.8 -1.1 -1.1 -0.2 -1.6 -1.3 -1.7 0 -1.4 1.4 -1.9 -1.3 -2.8 1.2 -1.4 0.4 -1.9 0.8 -1.3 -0.4 -2.5 1.9 -1.1 -0.2 -1.9 1.2 -1.6 -0.1 -1.8 1.5 -0.5 -0.2 -2.7 1.3 -0.9 0.8 -1.3 -0.3 -2.7 1.6 -1.1 -0.2 -1.8 0.6 -1.9 0.7 -2.2 -1.6 -1.4 1 -1.9 -0.7 -1.1z"/>
<path fill="#f5ebd3" stroke="#f5ebd3" d="M413.8 1571.6l1.7 -0.7 1.8 1.3 2.2 -1.4 1.5 0.9 1.6 -0.6 2.3 0 1.9 0.5 1.8 -0.5 1.5 0.5 1.4 1.4 2.6 -1 1.6 1.4 1.9 0.2 1.9 1.7 2 -0.6 1.4 0.8 2.2 0.6 1.5 1 2 -0.7 1.2 1.1 1.8 -1.3 1.6 1.5 1.9 -0.4 1.4 0.7 2.4 -1.3 1.6 1.1 2.5 -1.1 1.1 1.4 2.3 -0.8 1.9 1.3 1.3 0 1.8 1.2 1.4 1 -0.2 3.2 1.5 0.5 0.3 2.7 0.7 1.4 1.2 1.4 -0.7 2.2 0.9 2.2 -0.1 1.7 1.3 1.3 -0.8 2 2 1.3 0 1.7 -0.6 1.7 1.7 1.2 0.1 2.1 1.7 0.3 1.8 -0.4 0.9 1 1.9 0.3 1.7 0.9 1.7 -0.5 1.6 0.9 -0.1 2 1.4 0.9 -0.1 2.1 1.5 0.8 1.5 -0.2 1.8 1.4 1.5 0.5 -0.2 1.4 0.2 2.3 -1.3 1.6 0.5 1.8 -1.7 1.6 -0.5 2.2 -1.7 0 -0.4 2.4 -1.1 0.8 -1 1.9 -1.7 -1.6 -1.5 0.5 -1.9 0.2 -1.1 0.5 -1.9 -0.8 -1.8 1.3 -1.2 1.5 -2.3 -0.8 -1.4 1.6 -1.8 -0.1 -1.6 -1.3 -2.4 1.3 -1 -1.4 -1.5 -0.1 -1.6 -0.7 -2 1.1 -1.6 -1.1 -1.4 0.1 -1.8 1.1 -1.5 -0.5 -1.9 1 -1.9 1.1 -1.8 -0.4 -1.1 1.6 -1.9 -0.7 -2.1 0.3 -1.4 1.6 -1.5 0.6 -1.7 2.4 0 1.8 -1.5 0.5 -2.1 -1.7 -1.4 0.4 -1.8 0.6 -1.2 -1.1 -2.2 0.6 -1.4 -1.1 -1.7 0.1 -1.3 -0.5 -2 0.3 -1.4 -0.7 -2 -0.1 -1.4 -0.4 -1.9 -0.2 -1.7 -0.7 -2 0.6 -0.9 -1.2 -2.2 0.2 -1.6 -1 -1.6 0.4 -2.1 -0.5 -0.8 -2.1 -2.4 0.9 -0.7 -1.6 -2 -1.1 -1.5 -1.4 0.3 -1.3 -2.1 -1 0 -1.8 -1.5 -1.5 0.1 -1.6 -1.1 -1.4 -2.1 -0.5 -1.6 0.6 -1.6 -0.7 -1.4 0.3 -2 -0.2 0 -1.6 1.8 -1.2 -0.6 -2.2 -0.1 -1.9 1.6 -1.1 -0.9 -2.1 1.7 -1.6 0.2 -2 1.2 -1.7 -1 -2.2 1.8 -1.5 -0.2 -1.8 0.7 -1.6 0.8 -1.1 0.1 -2.5 1.9 -1 -0.3 -1.7 0.6 -2.2 1.3 -0.6 -0.3 -2.2 2.4 -1.8 -0.2 -1.9 1.8 -1.6 -0.2 -2.2 2 -0.8 0.1 -1.7 2 -0.8 0.3 -2.5 1.5 -1.7 2.2 -0.4 0.3 -1.4 1.8 -0.3z"/>
<path fill="#f4e8cc" stroke="#f4e8cc" d="M402.1 1634.1l2 1.1 0.7 1.6 2.4 -0.9 0.8 2.1 2.1 0.5 1.6 -0.4 1.6 1 2.2 -0.2 0.9 1.2 2 -0.6 1.7 0.7 1.9 0.2 1.4 0.4 2 0.1 1.4 0.7 2 -0.3 1.3 0.5 1.7 -0.1 1.4 1.1 2.2 -0.6 1.2 1.1 1.8 -0.6 1.4 -0.4 2.1 1.7 1.5 -0.5 0 -1.8 1.7 -2.4 1.5 -0.6 1.4 -1.6 2.1 -0.3 1.9 0.7 1.1 -1.6 1.8 0.4 1.9 -1.1 1.9 -1 1.5 0.5 1.8 -1.1 1.4 -0.1 1.6 1.1 2 -1.1 1.6 0.7 1.5 0.1 1 1.4 2.4 -1.3 1.6 1.3 1.8 0.1 1.4 -1.6 2.3 0.8 1.2 -1.5 1.8 -1.3 1.9 0.8 1.1 -0.5 1.9 -0.2 1.5 -0.5 1.7 1.6 0.9 1.7 0 2.6 -0.7 1.5 -0.5 1.9 -1.2 1.6 -0.1 1.6 -0.2 1.5 -0.6 1.8 0 1.8 -0.2 1.6 2.1 2 0.6 1.4 1.4 1.8 -0.3 2.1 1.4 1.1 -0.8 1.6 -0.9 1.7 -0.8 1.7 -1.4 1.5 1.3 1.8 -1.6 1.7 -0.7 1.3 0.7 1.7 -0.8 2 -0.6 2 -1.1 2.1 -1.2 1.7 -2.4 0.5 -1.4 1.2 -1.4 1 -2.2 0.9 -1.4 1.4 -1.3 1.2 -1.5 2 -1.4 1 -1.8 1.3 -1.5 1.2 -2.5 0.2 -1.7 -1.1 -0.5 -1.8 1.4 -1.5 0.3 -1.7 0.8 -1.3 0.5 -2 0.5 -1.9 2 -1.4 -1.5 -1.4 -1.8 -0.6 -1.7 -0.2 -1.5 -1 -1.8 -0.2 -1.9 0.2 -1.7 -1.6 -1.4 -0.2 -2.1 -1.1 -2.1 -0.6 -0.7 -1.2 -2.3 -1.1 -0.3 -1.9 -1.2 -2.1 -2.3 -0.5 -0.7 -1.5 -1.6 -0.3 -1.1 -1.8 -2.1 0.2 -1 -1.8 -1.6 -1.5 -1.7 0.2 -1.2 -1.9 -2.2 0.2 -1.5 0.4 -1.4 -1.4 -2.5 -0.2 -1.3 -0.8 -1.6 -0.5 -1.8 0.2 -1.8 -1.2 -1.2 1.4 -1.5 -1.5 -2.1 -0.1 -1.8 -0.8 -1.3 1 -2.2 -1 -1.7 1 -1.3 -0.7 -1.9 0.5 -1.6 -0.3 -1.8 0.4 -1.4 -0.1 -0.7 -1.7 1.6 -1.8 -0.4 -1.9 0.9 -2.5 0 -1.8 -0.7 -1.4 1.2 -2 -1.8 -1.6 0.6 -1.8 -0.7 -2z"/>
<path fill="#f5ebd3" stroke="#f5ebd3" d="M401.7 1654l1.4 0.1 1.8 -0.4 1.6 0.3 1.9 -0.5 1.3 0.7 1.7 -1 2.2 1 1.3 -1 1.8 0.8 2.1 0.1 1.5 1.5 1.2 -1.4 1.8 1.2 1.8 -0.2 1.6 0.5 1.3 0.8 2.5 0.2 1.4 1.4 1.5 -0.4 2.2 -0.2 1.2 1.9 1.7 -0.2 1.6 1.5 1 1.8 2.1 -0.2 1.1 1.8 1.6 0.3 0.7 1.5 2.3 0.5 1.2 2.1 0.3 1.9 2.3 1.1 0.7 1.2 2.1 0.6 2.1 1.1 1.4 0.2 1.7 1.6 1.9 -0.2 1.8 0.2 1.5 1 1.7 0.2 1.8 0.6 1.5 1.4 -2 1.4 -0.5 1.9 -0.5 2 -0.8 1.3 -0.3 1.7 -1.4 1.5 0.5 1.8 1.7 1.1 2.5 -0.2 0.1 2 -1.9 1.1 -0.7 1.9 -0.9 1.1 0.4 1.9 -1.6 1 -0.4 1.8 0.4 1.6 -2.1 2.1 0 1.2 -0.8 1.8 -1.3 1.6 0.1 1.6 -1.7 1.1 -0.4 1.5 -1.4 1 -0.1 1.7 -1.4 1.2 -0.5 2 -1.4 1.4 -0.1 1.6 -2.1 -0.2 -0.5 2.2 -1.3 1.5 -1.6 0.7 -0.4 1.6 -1.7 1.2 -1.6 1.1 -0.8 1.4 -2.3 -0.4 -1.2 2 -1.2 1.6 -1.7 -0.7 -1.4 2.3 -1.5 0.2 -1.7 0.4 -1.4 2.7 -1.9 0.2 -1.4 1.7 -1.7 -0.4 -1.1 2 -1 2 0.3 1.6 -1.8 1.4 -0.3 1.6 -1.7 2.3 0.4 2 -0.3 1.6 -1.6 1.9 -0.7 1.5 -1.4 1.5 -1.9 1 -0.9 1.1 -2.6 0.9 -0.7 1.3 -0.8 1.4 -2.3 0.4 -0.2 1.6 -1 -1.5 -0.7 -1 -0.1 -1.7 0.4 -1.3 -0.6 -2 1.3 -1.6 -0.1 -2.6 1.3 -1.3 0.6 -0.9 1.4 -1.1 2 -1.8 0.5 -1.6 -0.5 -1.6 -2 -0.1 -1.8 -0.6 -0.4 -1.4 -2 -0.4 -1.1 -2.1 -2.2 -0.5 -1.1 -1.9 -1.3 -0.8 -0.9 -1.4 -2.4 -1.1 -1 -1.4 -1 -1.1 -2.4 0.1 -0.7 -1.5 -1.8 -0.6 -1.1 -2.2 -1.3 -0.6 -1.6 -1 -1.7 0.2 -1.7 -1.7 -1.4 -0.9 -2.4 0.1 -1.2 -1.7 -2 -0.6 -0.9 -1.7 -2.1 -1 -1.3 -0.5 -0.3 -2.1 -1.7 -0.7 -1.9 0.5 -1.5 -1.4 -1.5 2.1 -1.8 0.4 -1.6 -1.6 -0.1 -1.7 -0.6 -1.9 -1.9 -1.4 -1.3 -0.6 -0.9 -1.8 -1.1 -1 -1 -1 -1.5 -0.9 -1.7 -1.4 -1.6 -2.1 -1.7 -0.4 -1.5 0.8 -2 -1.3 -1.5 1 -1.1 1.4 -2.9 -1.1 -1 1.4 -1.5 -2 -1.9 0.3 1.4 -0.2 1 -2.1 1.8 0.1 1.5 -1 0.9 -1.5 1.8 -0.8 0.7 -1.6 2.2 -0.1 0.7 -2.1 1.4 -1.2 1.4 -1.7 0.5 -1.4 2.4 -1.1 0.7 -1.7 0.5 -1.8 2.3 -0.9 0.7 -2.1 1.5 -1 2 -0.7 -0.2 -2.9 2.3 -0.1 0.9 -2.1 0.9 -1.3 1.7 -1 0.7 -1.9 1.6 -0.6 0.5 -2.3 1.3 -1.3 1.8 -0.7 0.3 -2.2 1.9 0.1 1 -2.2 1.1 -1.3 1.4 -0.3 1.3 -1.5 2.1 -0.4 0.7 -1.5 1.6 -1.5 1.8 0.6 1.7 -2.5 1.6 0.1 1.8 0.2 1.6 -2 2 -0.1 1.3 -0.6 1.6 0 1.4 -0.6 2.3 -0.1z"/>
</g>
<path fill="none" stroke="#000" stroke-opacity="0.6" stroke-width="1" d="M54.5 1295.5l58 16.8 63.8 30.3M110 1341.1l-0.5 21.2M252.2 1161.1l2.5 12.5M293.9 1163.6l18.3 0M70 1259.9l10 -7.5M90 1248.1l12.5 -2.5M120.6 1244.1l9 -56.8M118.8 1159.1l7.5 -2.5 8.3 -0.5 0 -7.5 -12 -1.3 0 -10 27.5 -0.5 1.2 -3.8M168.1 1133.5l2 12.6M266.4 1324.8l55.1 0M322.7 1313.5l2.5 -15M350.2 1334l112.9 8.3M290.9 1458.1l14.3 0.5 14.5 0.5M360.2 1204.8l-40.5 85M312.2 1146.6l0 17"/>
<path fill="none" stroke="#000" stroke-opacity="0.64" stroke-width="1.3" d="M54.5 1295.5l-0.9 1.8 -1.8 0.5 -0.5 2 1.2 2 -1 2 2.4 0.9 -0.1 2.6 0.3 2.1 1.9 0.8 -0.2 1.8 2.2 1.3 0.8 1.5 0.3 2.4 2.3 0.3 0.2 2.4 1.5 0.7 0.7 1.7 0.6 1.9 1.5 1.1 0.1 1.5 1.5 1.7 -0.3 1.5 -1.7 1.4 0.4 1.7 -0.9 1.7 1.7 -0.4 1.6 1.4 2.7 -0.3 1.5 0.5 1.8 0.5 1.4 1.3 2.6 -0.4 1.7 1.1 1 1.7 -0.3 2.1 1.7 1.6 -0.4 1.7 1.9 -0.5 1.7 1.2 2.9 -0.9 1.5 0.7 1.9 -0.7 2.1 1.1 1.5 -0.9 1.2 1.2 2.1 -1.2 2.4 -0.7 0.9 -2.1 2.1 0.2 0.8 -1.9 2 -1.3 0.3 -1.7 2.2 -0.8 1.4 2.1 -0.9 1.7M109.5 1362.3l1.7 1 1 1 1.6 0.5 1.6 0.4 1.2 -2.1 1.8 0.1 1.7 -0.9 1.8 -1 2 2 1.5 -1.9 2.2 0.9 1.9 0.5 1.5 -0.4 1.8 1.2 2 -0.4 1.5 0.4 2 0.4 1.3 1 2 -0.2 1 1.3 1.6 -0.8 2.6 -0.4 1.2 -0.8 2.1 -0.5 0.4 -1.5 2.8 -0.9 0.3 -1.1 1.5 -1.5 1.1 -1.2 2.3 0.1 1.6 -1.4 2.5 -0.9 0.5 -2.5 2 -0.4 1.9 -1.3 0.7 -1.4 2.4 -1 1.2 -0.7 1.4 -2.2 1.2 -0.4 1 -1.7 1.4 -1M673.4 1336.1l0 0M673.4 1336.1l1.6 1.1 1.9 1 1.2 1.8 1.6 0.1 2.1 0.9 0.7 1.2 1.9 0.7 1.8 0.9 1.1 2.1 1.8 -0.1 1 1.6 2.5 0.3 1.2 1.8 1.6 0.5 1.7 2.3 1.4 0.5 1.9 -0.1 1 2.6 1.8 -0.2M724.3 1326.5l-1.1 1.2 -0.2 2.1 -1.2 1.7 -0.8 2.1 -1 1.4 -1.8 1.3 -0.4 1.4 -1.5 1.5 -1.6 0.6 -0.6 2.5 -1.3 0.8 -1.2 1.7 -1.3 1.6 -1 0.7 -1 1.8 -1.4 1.6 -0.7 1.8 -2.3 0.9 -0.7 1.9M234.6 1128.3l1.5 0.5 2.2 0 1.9 1 2.3 0.7 0.5 2.5 2.2 0.5 1.4 1.8 -0.4 2.3 1.7 1.5 -0.2 2 0.6 1.4 0.2 1.9 1.2 1.9 -1.3 1.8 1.4 1.2 0.4 1.8 -0.6 2.1 1.9 0.7 -1.4 2.4 1.7 1.4 -0.4 1.7 0.8 1.7M254.7 1173.6l-0.1 2.1 -1.4 0.7 -0.3 1.6 -1.4 1.3 -0.1 1.8 1.4 1.9 1.9 -0.1 1.1 1.8 1.9 1.4 1.3 1.7 0.1 1.2 1.6 1.2 0.7 2.1 1.8 0.8 1.5 1.6 1.6 -0.6 1.4 1.5 -0.2 -2 -0.6 -1.4 0.7 -2.9 -1.3 -1.6 0.1 -1.6 0.9 -1.2 0.2 -2 2.2 -1.6 0.5 -1.5 2 -0.3 0.7 -1.4 2.2 -0.2 1.3 -0.6 0.9 1.7 2.1 0.2 0.1 2.1 1.9 1 1.2 -1.7 2.3 0.8 1.5 -1.6 0.1 -1.8 0.7 -1.7 -0.6 -1.4 1.1 -1.3 0 -1.8 1.6 -1.1 0.1 -1.5 2.1 -1.6 -0.1 -1.5 0.6 -1.4 1.9 -1.1M54.5 1295.5l-0.1 -1.7 1.8 -1.8 0.7 -2 0.6 -1.5 0.9 -1.7 2.2 0.2 1 -1.6 1.7 -0.2 1.2 -1.7 1 -1.5 -0.8 -2.8 0.3 -1.9 1.4 -1.1 -0.8 -2.7 0.7 -1.3 0.7 -1.4 0.2 -2.1 1.4 -1.4 0.2 -1.3 0.4 -2.4 1 -1.4 -0.2 -2.3M80 1252.4l1.8 -0.5 1.1 -1 2.3 0.1 1.4 -2.1 2.1 -0.1 1.3 -0.7M102.5 1245.6l1.8 -1.3 2 -0.6 1.2 -1.1 1.6 -0.4 2.6 0.9 1.8 -0.6 1.6 0.6 1.3 0.7 0.4 1.9 2 0.4 1.1 -0.9 0.7 -1.1M129.6 1187.3l-1 -1.4 0.7 -2 -1.8 -1.5 1.1 -2 -1 -1.8 -1.8 -0.2 -0.7 -2.8 -1.7 -0.4 -0.8 -1.9 -1.8 -0.2 -1.2 -2 0.4 -2.2 -1.5 -0.9 1.2 -2.3 -0.7 -1.7 0.2 -1.7 -0.3 -1.1 -0.1 -2.1M151.3 1133l2.3 0.5 1.5 1.3 1 -1.2 1.6 -0.5 0.5 -1.8 1.9 -0.8 1.8 -0.9 1.8 -1.5 1.4 -0.8 1.5 1.6 -0.3 1.8 1.3 1.4 0.5 1.4M170.1 1146.1l1.9 0.1 1.1 2 1.7 -0.8 1.5 1.2 2.2 1 1 1.6 1.4 0.8 1.7 1.6 1.7 0.7 2.2 -0.9 2.1 0.8 1.5 -0.1 1.2 -1.5 2.2 0.7 0.8 -2 2.1 -0.2 -0.7 1.5 1.9 1.2 0 1.8 1.9 -0.5 0.7 -2.4 2.1 0.2 1.3 -2.6 1.5 -0.5 1.7 -1.2 1.5 -0.5 1.3 -1.5 1.7 0 1.3 -1.8 2.6 -0.8 0.4 -1.8 1.7 -0.6 1.6 -1.8 1.1 -1.8 0.9 -0.8 0.4 -1.7 1.6 -0.8 1 -1.7 1.9 0.3 1 -1.5 2.3 0.1 1 -1.4 1 -1.5 2.6 0.7 0.9 -1.4M383.1 1126l1.4 0.8 1.8 -0.4 1.9 1.3 1.8 0.3 1.2 -0.7 2.1 0.2 1.4 -0.7 2.3 0.5 1 -1.7 2 0.4 1.4 0.4 2.1 -0.2 1.7 1.3 1.8 -1.2 0.9 1.5 2.1 0.2 1.9 0.7 2.6 -1 1.8 0.8 1.2 -1.6 1.8 -0.2 0.5 -2.5 1.7 -0.8 1.1 -1.1 0 -1.9 1.6 -1.6 0 -1.7 1.7 -1.4 0.3 -1.9 1.1 -0.6 0.3 -2.2 1.4 -1 0.2 -2.3 1.7 -1.3 0.3 -2 1.5 -1.1 0.2 -1.5 1.5 -1.8 0.7 -1.5 1 -1.2 0.5 -2 1 -0.7 0.2 -2.5 2.1 -0.3 0.2 -2 2 0.8 1.7 -0.8 1 1.6 0.2 1.4 1.6 1.5 0.5 1.7 0.9 1.8 -0.5 1.8 1.1 1.4 -1.2 2.1 1.5 1.9 -0.5 1.9 0.4 1.6 1.6 1.8 -1.5 2.1 2.1 1.3 -0.7 2.3 1.7 0.8 -0.4 2.8 1 1.4 1.3 1.1 -0.1 2.1 1.4 1.3 0 2 1.1 1 1.9 1.2 1.4 0.6 1.1 1.1 1.9 0.9 0.8 1.7 1.7 0.4 1.2 2.3 1.3 0.6 0.9 1.6 -0.4 1.8 1.2 1.6 0.3 2.3 -1.6 1.1 1.4 2.3 -1.4 1.1 0.1 2 -0.9 1.9 -1.9 1.2 -0.2 2.4M637.8 1488.5l1.2 0.7 0.8 2.5 1.9 0 1.1 1.8 1.8 -0.5 1.9 1.8M535.1 1438.6l1.5 -0.4 2.1 -1.8 1.4 0.5 1.7 -1.7 2.2 -0.5 1.1 -1.1 1.7 0 0.6 -2.3 1.9 0.2 1.1 -1.8 2.5 -0.3 0.7 -1.2 1.5 -0.8 1.5 -0.8 1.9 0.3 1.6 -1.9 2 0.3 0.9 -2.1 2.1 -0.1 2.2 0.6 2.2 -0.1 1.5 1.7 1.7 -0.4 0.5 1.3 1.7 1.5 0.3 2.2 1.3 0.2 2.3 0.9 1.1 -0.5 1.8 1.1 1.8 0.1 1.7 0.7 2 -0.3 1.3 1.9 2.3 -0.4 0.6 1.4 2.2 0.1 1.6 1 1.2 1.2 2 -0.9 1.3 2 2.5 -1.6 1.4 1.5 1.6 0.3 2.4 -0.2 1.4 1.8 2.3 0 1.4 0.9 1 2.3 2.2 0.6 0.2 2.2 1.6 1.2 1.4 -0.2 2 0.9 2 -0.8 1 1 2.1 -0.5 1.5 0.8 1.6 1 2.2 -0.3 1.4 1.7 2.3 0.1 1 1.8 2.4 0.2 0.8 1.3 2.1 0.5 -0.3 2.1 1.2 0.9 0.3 2 -1.3 1.6 -1.1 2.2 -1.3 1.2 0.6 1.7 -2.4 1.3 1 2.3 -1.7 1.7 0.3 1.6 -2.2 0.8 0.2 2.4 -1.8 0.7 -0.8 1.1 1.2 1.3 -0.3 2.7 1.9 1.2 0.2 2.3 0.8 2.1 1.8 0.4M685.6 1373.7l-1.2 1.3 -0.1 1.8 -1.9 1.8 0.2 2 -1.1 1.7 -0.5 1.5 -1.8 1 0.7 2 -1.9 1.6 -0.3 1.4 -2 1.2 0.3 2.3 -2.8 0.9 -0.5 1.9 -1.6 1.2 -1.5 2 -2 0.5 -1.1 1.3 -2 0.5 -1.5 1.7 -1.6 0.2 -1.2 1.3 -0.3 1.8 0.4 1.6 -1.9 2.1 1.2 1.3 -0.6 2 0.8 1.3 -0.9 1.7 0.6 1.7 -0.9 2 1 1.6 -0.6 1.7 -0.9 1.5 1 1.5 -0.8 2.1 0.3 1.8 -1.1 1.2 0.2 1.9 0 2 0.4 1.3 -1.1 1.5 1.2 1.5 -0.9 1.9 0.9 1.8 -0.3 1.9 1.6 1.7 -1.5 1.3 1.2 1.4 -1.3 2.1 1.1 1.6 0.2 1.5 -0.4 1.9 1.8 1.4 -1 2.3 0.8 1.4 -0.2 1.6 0.5 1.8 -1 1.3 0.9 1.9 -2 1.6 1.3 1.6 -0.9 1.8 -0.9 1.9 0.2 1.7 -1.6 1.1 -0.1 1.9 -1.5 1.7 0.2 1.5 -1.1 2.2 -2.1 0.3 -0.1 2.2 -1.7 1.6 -1 2.5 -2 0.9 -0.8 1.6M665.7 1282l0.5 1.5 -1.7 1.4 -0.2 1.8 -1.1 1.6 0.2 2.3 -1 1.7 0.7 2.7 1.6 1 -0.5 1.6 1.6 1.9 -0.6 1.2 -0.2 2.6 -1.2 1.7M631.4 1300.3l2.3 -0.2 1.9 -0.3 1.5 -1 1.8 0.7 1.4 -1.1 2.4 -0.1 0.9 -1 2.4 0.6 1.6 1.4 2.1 0.5 0.4 2 2.1 0.4 0.3 1.3 1.9 1.8 1 1.5 0.9 1.3 1.4 0.1 2.3 -0.6 1 -1.7 1.2 -0.4 1.6 -0.5M687.6 1255l-2.2 -0.7 -1.2 1.5 -1.7 -0.1 -0.9 1 -0.5 1.7 -1.4 1.1 -1.8 1.5 0.7 1.9 -1.2 2.2 -0.3 2.5 -2.5 0.6 0 2.5 -1.3 1.7 -0.3 1.9 -0.8 1.1 -1.1 1 -2.7 0.1 -0.9 1.3 -0.5 1 -0.1 1.7 -1.2 1.5M617.7 1219.7l2.1 0.6 1.5 -1.2 2 0.9 2.2 -1.5 2 0 1.9 0.4 1.4 -0.8 1.6 1 1.8 -0.9 2 0.9 1.3 -0.2 2.1 0.6 1.2 1.8 2.5 -0.6 0.8 1.3 2.2 0.3 1.4 0.7 1.2 1.5 2.3 -0.1 1 1.8 1.8 -0.1 1.1 1.2 2 0.4 0.4 1.9 1.8 0.2 1.8 2 1.3 0.6 1.4 1.1 2.1 1.1 0.5 2.1 2.1 0.7 0.7 1.9 2.2 0.5 1.2 1.2 0.9 1.9 1.9 -0.3 0.7 2.9 1.8 0.6 0.7 1.2 1.5 1.2 2.3 0.9 0.2 2.6 1.8 0.2 1.6 2 1.6 0.8M646.5 1494.8l-0.6 1.5 0.4 1.8 -1.4 1.5 1 2 -0.6 1.9 0 1.5 -1 2.3 0.8 1.8 -1.1 1.9 -0.5 2 -1.5 0.5 0.6 2.4 -2.3 0.9 0 1.7 -1.5 1.4 0 1.9 -1 0.8 0 2.3 -1.3 1.1 -1.4 1.1 0.7 2.5 -2 0.3 -0.4 2.5 -0.6 1.2 -0.9 1.8 -1.4 0.6 0.3 2.3 -1.8 1.5 1.1 -1.3 -0.8 1 -1.8 0.8 -0.8 1.5 -1.1 1.5 0.3 1.9 -1.7 0.8 -0.8 1.7M532.1 1399.8l-0.7 1.8 1.6 2.1 -1.1 1.8 1 1.7 -0.3 1.4 0.3 1.4 -0.4 2 1.2 2.3 -0.6 1.8 0.4 1.6 1 2 -0.5 2.6 1.1 1.3 0.3 2.4 0.6 1.5 0 1.7 0.4 1.9 -1.2 1.5 0.7 2.2 -0.5 2 -0.3 1.8M535.1 1438.6l-1.6 -1.4 -0.6 -2.3 -1.5 -0.8 -1.3 0.6 -1.9 0.4 -1.8 1 -1.1 1.7 -1.9 -0.6 -0.8 1.4 -1.5 1.5 0.8 2.2 -1.7 0.7 -0.1 1.9 -0.2 1.9 -1.1 1.2 1 2 -0.9 1.1 -1.6 1.4 -2.5 -0.1 -0.9 1.2 -1.8 1.3 0.6 2 -1.3 1.7 0.4 2.3 -0.2 1.3 0.8 2.3 0.2 1.7 0 1.9 2.1 1.9 -0.7 1.5 1.1 2.2 -1.6 1.8 0.8 2.2 -1.5 1.3 -0.2 2.2 -0.7 1.9 1.5 1.4 -0.5 1.3 0.6 1.5 0.1 1.7 0.3 2 -1.6 1.4 -0.9 2.2 -1.2 1.4 -2.1 -0.6 -1 1.6 -1.7 -1.2 -1.6 1.5 -1.9 -0.4 -1.8 0.4 -1.5 -0.6 -2.1 0.3 -1.6 -0.4 -1.3 0 -2 -0.7 -1.5 0.1 -1.3 0 -1.9 0.8 -1.2 -0.2 -1.8 0.7 -1.3 0.6 -1.9 0.1 -1.5 1.3 -2.2 -0.2 -1.9 0.7 -1.3 0.2 -2 0.6 -2 -0.4 -1.3 1.4 -1.7 -0.7 -1.7 1.4 -1.1 1.4 -2.2 -0.2 -1.2 1.7 -1.7 0.8 -1 2.2 -2 0.4 -1 1.4 -1 1 -1.8 1 -0.3 2.4 -1.7 0.4M412.6 1489.8l-0.5 1.9 2 1.1 -0.9 1.4 0.6 1.8 1.1 0.9 1.1 2.5 2.5 0 0.3 1.6 2 0.4 1.4 1.4 2.1 0.1 0.7 1.9 2.6 0 1.7 1.4 1.6 -0.6 2 1.5 1.9 0.1 1.6 1.3 1.3 1.6 2.8 -0.7 0.5 2 2.5 -0.7 1.6 1.6 1.4 1.2 2.5 0.2 1.1 1.1M608.9 1217.4l0.4 1.9 -1.1 0.9 0.7 2.4 -1.2 1 -1.5 0.9 -0.5 1.8 -1.9 1 -1.1 1.3 -1.8 0.1 -0.7 2.8 -2.7 -0.2 -0.6 1.9 -1.7 0.4 -1.3 1.3 -0.1 2.2 -1.2 0.8 0.6 2 -1.8 1.2 -0.9 1.9 0.6 1.9 -1.1 1.2 0.4 1.6 -1.2 1.8 0.5 1.6 1.1 1.9 -0.9 1.1 1 1.7 -1.2 2.4 1.6 1.6 -0.6 1.4 -0.1 2 -1.1 1.2 0.3 1.6 -1.6 1.9 0.8 1.9 -0.8 1.4 0 1.3 1 2.2 -0.7 1.7 1.4 1.4 -0.7 1.8 0.5 1.6 -0.2 1.5 -1.4 1.2 -0.6 2.5 -1.1 1 -1.4 -0.3 -1.7 1.4 -1.6 -1.2 -1.5 1.4 -2.2 0.2 -1.8 -1.3 -1.4 1.2 -2.1 -0.6 -1.6 0.6 -1.8 0.1 -1.6 0.9 -0.3 1.8 -2.3 0.7 -2.1 0.8 -0.7 1.3 -2 0.8 -0.7 1.2 -2 0.9 -1.2 1.4 -2.4 0.3 -0.8 2 -1.8 0.2 -1.3 1.1 -1 1.4 -2.7 0.3 -1.3 2 -1.6 1.8 0.6 2.5 -1.8 1.5 0.3 1.7 0.4 2.1 -2 1.6 0.7 2 -1.6 1.8 -0.9 1.6 -0.1 2.2 -1.5 2.1 0 1.6 -0.9 1.6 1.6 1.6 -1.1 2.1 1 1.8 -0.3 1.5 0.2 1.4 0.2 2 1.2 1.6 -1.2 1.8 1.2 2.1 -0.4 1.5 1.6 1.8 -0.4 1.8M489.6 1263.6l1.8 -0.2 1.6 -1.9 1.4 1 2 -0.8 1.7 1 2.2 -0.7 1.5 1.8 1.6 -1 1.7 0.9 1.1 2.1 2.6 -0.4 1.3 2 0 1.9 0.8 1.7 -0.6 1.8 1.1 1.9 0 1.5 -1 1.9 1.2 1.7 -1.9 1.5 1.3 1.7 -1.6 1 0.2 2 -0.3 1.8 -0.7 1.4 0.8 2 -1.5 1.8 0.5 1 -0.8 2 2 1.2 -0.3 2.4 2.8 0.4 0.5 2.3 0.3 1.5 2.4 0.9 -0.3 2.9 2.5 0.6 0.1 1.6 1.7 -0.4 1.6 1.2 1.3 -0.8 1.7 1.2 1.8 0.6 0.6 2.2 0.8 1 -0.6 2.1 -0.7 1 -0.7 1.9 -0.7 1.4 -2.3 1.8 -0.7 1.8 0.3 1.4 -1 1.8 0.4 1.7 -1 1.3 1.6 1.8 -0.1 2.1 1.7 0.3 0.6 2.1 0.7 1.2 1.8 1.3 0.2 2.4 1 1.4 -0.1 2.1 1.9 1.1 0.7 1.8 1.5 1.4 1.5 -1 2 0.8 1.2 0.9 2.8 -0.7 1.2 1.1M534.2 1188.8l1.5 -0.2 2.2 1.5 2.1 -0.7 2.3 0.2 0.2 2.1 2.5 0.2 2 1.1 0 2.6 1.4 1.3 1.8 -1.2 0.7 -1.3 1.1 -0.6 1.8 -1.6 1.2 -0.3 0.9 2.3 2 0 0.5 2.7 1.1 0.9 0.4 2.3 1 0.9 1.2 1.9 -0.2 1.7 1.5 1.4 1 1.4 -0.9 2.4 1.3 0.9 0.3 2 1.9 0.4 2 -0.5 1.9 0.9 1.6 -0.4 0.5 -2.7 2.1 0.1 1 -1.6 1.5 -0.8 1.8 1.5 2 -1 1.2 1.9 1.6 0.1 2.1 0.7 0.9 1.3 2.5 0.2 0.6 1.3 2.3 0.3 2.1 0 0.8 1.2 2.4 -0.1 1.3 1 1.7 0 2.7 0.4 1.1 0 1.9 0.9 2.3 -0.4M637.8 1488.5l-1.9 -0.1 -1 1.3 -2.1 0.1 -2.1 1.4 -2.3 -1 -0.8 2 -2.4 0.1 -1.1 0.8 -0.6 1.5 -1.3 1.4 0.3 1.6 1.3 1.2 -1 2.2 1.2 1.3 -1 2.2 0.6 1.8 -2 1.4 -0.1 2.1 0.7 2.2 -1.7 1.5 1.1 1.9 -1.4 1.9 0 1.8 -1.4 1.1 -0.4 1.9 -0.7 1.4 -1.6 1 -0.5 1.5 -1.9 0.4 -1 2.1 0.1 2.5 -1.7 1 0.2 2.4 -1.1 1.7 -1.4 2M558.4 1567.8l1.6 -1.1 1.9 0 1.5 -0.7 1.6 -0.8 2.1 0.2 1 -1.5 1.9 0 1.9 -0.9 1.3 0.3 1.3 -1.4 2.2 0.4 1.4 -1.3 1.5 0.8 2.1 -0.9 1.7 0.1 2.1 0.1 1.2 1.2 1.7 -0.6 0.9 -1.5 1.6 0 2.1 -0.2 0.2 -1.9 1.8 -0.4 1.6 -1 1.7 0 1.7 -1.1 0.2 -2.2 1.5 -1.6 0.6 -2.1 0.2 -2 -0.1 -2.1 1 -2.1 1.4 -1.4 1.1 -1.9 1.4 -1.2 1.5 -0.9M450.1 1514.8l1 1.8 -1.2 1.3 0.8 2.4 -0.8 1.7 0.2 1.5M413.8 1571.6l-1.9 1.1 -1.8 0.3 -0.3 1.4 -2.2 0.4 -1.5 1.7 -0.3 2.5 -2 0.8 -0.1 1.7 -2 0.8 0.2 2.2 -1.8 1.6 0.2 1.9 -2.4 1.8 0.3 2.2 -1.3 0.6 -0.6 2.2M450.1 1523.5l-1.2 1 -0.3 2.1 -1.1 1.4 0.3 1.9 -1.4 1.2 -1.6 1.2 -0.8 2 -1.7 0.5 -0.9 1.3 -0.9 1.3 0.2 2 -2.3 0.7 -0.2 2.4 -0.6 1.1 -1.3 1.1 0.3 2.7 -1.5 1.4 0 2.3 -1 1.6 -2.3 1.2 0.7 2.2 -2.4 1.2 -1.7 1.2 0 2.3 -2.7 0.5 -0.6 2.3 -1.3 1.9 -2.3 0.1 -0.7 1.6 -2 1.4 -2.1 0.8 -1.3 1.5 -1.6 0.7M334.8 1487.3l-0.4 2.1 0.7 1.1 -1 1.9 1.6 1.4 -0.7 2.2 -0.6 1.9 0.2 1.8 -1.6 1.1 0.3 2.7 -0.8 1.3 -1.3 0.9 0.2 2.7 -1.5 0.5 0.1 1.8 -1.2 1.6 0.2 1.9 -1.9 1.1 0.4 2.5 -0.8 1.3 -0.4 1.9 -1.2 1.4 1.3 2.8 -1.4 1.9 0 1.4 1.3 1.7 0.2 1.6 1.1 1.1 -0.7 1.8 1.9 1.4 0 2 1.4 1.2 0.2 2.7 0.9 1.6 -1.3 1.9 1.5 1.7 -1 1.1 0.4 2.2 -1.2 1.3 0.3 1.8 -0.8 1.4 1.4 1.9 -1.5 2.1 0.6 1.4 -0.2 1.9 1.4 0 1.8 0.6 1.7 -0.7 1.5 1.6 1.6 -0.2 1.8 -0.2 1.5 0.9 2.4 -0.8 1.8 1.3 1.3 -0.8 1.9 0.7 1.6 -1.4 2.6 0.2 1.4 -0.4 1.9 -0.6 1.2 2.2 1.9 -0.3 1.3 0.4 1.9 0.5 1.5 1.1 1.7 0.1 1.1 0.8 1.7 1.5 -0.3 2.1 1.9 1 0.5 1.7 0 1.6 1.2 1.2 -1.1 2.3 1 1.2 -0.8 2.2 0.9 1.5 -0.2 2.2 1.3 1.6 -1.3 2.3 1.7 1.7 -1.4 1.7 1.2 1.7 1.8 1.2 2 -0.8 1.7 1 2 -0.1 1.8 -0.3 1.9 0.2 1.6 -0.8 2.2 -0.4 1.9 -1 1.8 1.6 1.9 -1.4 1.1 1.5 2 -0.7M321.5 1324.8l0 -1.5 0.9 -2.4 -0.6 -1.6 0.9 -2.2 -0.8 -1.7 0.8 -1.9M457.6 1396.1l0.4 2.1 -1.3 1.4 1.1 1.5 -1.3 1.8 0.5 1.5 -0.7 1.7 0.1 2.1 -1.6 0.9 1 1.7 -1.7 1.7 1 2.1 -1.3 1.5 -0.6 1.2 -0.2 2.7 -1.9 1 0.8 2.2 -2.2 1 0.4 1.9 -1.7 1.5 0.6 2 -1.6 0.9 0.1 1.8 -1.2 1.3 -1.2 2.2 -2.1 -0.2 -1 2.2 -1.9 0.8 -1.7 1.3 0.2 1.7 -2 1.5 -0.4 2.1 -1.1 0.9 -1 1.4 -0.4 2.3 -2 0.5 -0.5 2.4 -1.1 0.9 -1 1.5 -1.8 0.2 -1.8 2.1 -1.3 -0.1 -1.6 1.3 -1.4 1.4 0.2 2.2 -1.7 0.2 0.1 2.2 -1 1.6 -1.3 1.5 -0.1 1.4 -1.3 1.5 -0.1 1.2 -1 1.9 -0.8 1.2 0.1 2.3 -1.4 1.4 0.5 1.9 -2.3 1.2 0.2 1.8 1.2 1.6 -0.7 1.9 1.6 1.4 -0.8 1.4M334.8 1487.3l1.7 -0.8 1.9 0 1.6 -0.5 0.7 -1.7 3.1 -0.6 0.7 -2.2 1.8 -0.5 2 0.2 0.8 -2.4 2.2 0.1 0.5 -1.6 2 0 1.5 0.6 1.5 -2 2 0.7 1.3 -0.6 1.8 0.4 1.4 1.4 1.8 0.7 1.8 1.2 2.1 -0.5 1.8 1.2 1.8 0.6 2 0.1 1.2 1.3 2.1 -0.7 2.2 0.6 2 0.6 1.8 -1.2 2.1 2 1.6 -0.7 1.6 -1.4 2.4 0.7 1.3 -2.1 1.7 0.7 1.7 -1.1 1.7 -1 2.2 -0.1 1.1 -1.4 0.7 1.2 1.1 1.3 -0.6 1.7 0.6 1.6 -0.5 1.7 -0.3 2 -2.1 -0.2 -0.1 1.9 1.8 -0.4 1.3 1.7 1.5 -0.9 1.6 0.9 2.1 -0.1 2.5 0.9 1.7 -0.8M325.2 1298.5l0.7 2.2 1.7 1.2 0.1 1.8 1.4 1.3 -0.4 2.2 1.5 1.3 1.6 1.4 -0.7 2.9 1.8 0.7 0.1 2.4 1.7 0.9 0 2.2 0.7 1.5 0.3 1.7 1.3 0.9 0.3 1.6 0.9 1.8 1.8 0.5 1.2 2.2 1.2 0.7 1.6 1.6 1.1 0.8 1.7 0.1 1.7 1.4 1.7 0.2M463.1 1342.3l-0.5 1.6 -1 1.3 0.1 2.2 -1.4 1.9 -0.2 1.8 -0.3 1.9 -1.6 1.2 1 1.5 -1.5 1.6 0.5 2 -0.6 1.8 -0.1 1.6 -1.2 1.3 0.4 2.1 -1.8 1.1 0.6 2.3 -0.4 1.6 -0.8 1.7 1.1 1.7 -0.2 1.3 0.3 1.8 -0.4 1.4 0.5 2.1 0.7 1.4 -1.2 2 1.7 1.4 -1.1 2.2 0.9 1.1 -0.3 1.9 0.2 1.9 0.8 1.7 0.3 1.4M283.9 1412.4l0.1 1.5 1.7 1.4 -0.8 2.1 1 2 0.5 1.7 -0.4 2.5 1.2 1 -0.2 2.4 0.7 1.6 -0.3 2.1 1.2 1.4 -0.8 1.6 1.6 2.2 -0.5 1.5 -1.7 0.7 -1.8 -0.6 -1.5 0.6 1.8 1.2 -0.1 1.3 1.4 1.1 0.7 1.9 0.9 1.4 -0.1 2.4 1.9 1.7 -0.2 2 0.5 1.6 -0.3 2 0.6 1.6 -0.1 1.8M319.7 1459.1l0.3 1.2 1.4 1.9 0.1 1.5 -0.5 1.5 1.4 2.2 -0.8 2.1 1.1 1.7 0.9 1 -0.2 2 2.1 1.1 -0.4 2.4 1.4 1 1.7 1.3 0.4 1.1 2 1.2 0.9 1.4 0.9 1.6 1.8 0.3 0.6 1.7M312.2 1163.6l-0.8 2.3 1.4 1.5 -0.9 1.8 0.8 1.9 1.4 0.8 -0.6 2.3 2 1.3 0.1 2 0.9 1.1 1.9 1.1 -0.3 1.6 1.9 1.8 -0.2 1.7 1.7 1.3 0.8 1.9 2.5 0.5 1.5 1.8 1.4 0.8 1.5 1.1 2 0.5 0.3 1.8 2.3 0.2 1.4 1.4 2.4 0.4 0.9 1.9 1.6 0.2 1.1 1.5 1.5 1 1.2 1.8 2.2 -0.1 1 1.5 1.8 0.1 1.3 1.7 1.7 0.6 1.7 -1.7 2.5 0.9 1.6 -0.3 1.4 -0.8 1.1 0M319.7 1289.8l1.8 1.4 -0.4 2 1.8 0.4 -0.4 2.2 1.9 0.7 0.8 2M383.1 1126l0 2.1 2.3 1.2 0 1.9 1.4 1.7 0.7 1.9 1.1 0.9 2.3 0.2 0.7 1.6 1.5 0.5 0.7 1.8 2.7 0.5 1 0.8 1 1.5 2 0.1 1.3 1.9 2.1 0.4 0.8 1.7 1.6 0.6 0.8 1.5 1.6 1.7 0.4 1.2 1.4 1.1 0.5 2.2 1.5 1.1 1.3 1 -0.5 2.3 1.3 1.6 -0.4 1.8 1.1 1.8 -0.3 1.5 1.5 1.7 -0.2 1.5 1.4 1.3 0.3 2.1 1.4 1.9 0.7 1.5 1.3 0.7 -0.6 3 1.6 0.4 -0.2 2 1.6 1.4 0.7 2.6 2.2 0.1 0.9 2.3 1.3 -0.2 1.9 1.7 1.8 -0.3 2.1 -0.5 0.8 -1.8 2.1 -1.4 0.8 -1.8 -0.3 -1.9 1.7 -1.1 0.3 -1.5 1.4 -1.3 0.4 -1.5 1.4 -1.2 0.5 -2.2 1.3 -1.3 1.2 -1.2 1.6 -1.1 0.3 -1.7 2.5 -0.6 0.6 -1.6 2.1 0 0.8 -2.6 2.1 0.6 1.3 -1.8 0.4 -1.8 2.2 -0.5 1.1 -1.9 1.3 -1 2.5 -0.5M534.2 1188.8l-0.9 1.4 0.7 2.1 -0.6 1.2 -0.5 1.5 -1.2 1.8 -0.4 2.6 0 1.8 1.2 1.5 -0.5 1.6 -1.2 1.7 0.4 1.9 -1.2 1.5 0.1 1.8 -1.2 1.1 -0.5 2.1 -2.4 1.3 -0.5 2 -0.7 2 0.8 1.3 -0.6 1.7 -0.4 2.3 -2.3 1.1 -0.6 1.6 -1.5 1.6 -1 1.7 1.5 0.8 1.9 -0.7 -1 1.6 0.1 2.1 -1.6 1.2 -0.6 1.9 -1.5 1.2 -0.4 2 -0.3 1.5 -2.1 0.8 0.2 2.5 -2.4 0.6 -0.4 2.1 -1.3 1 -1.3 1.9 -1.6 0.3 -0.8 1.8 -1.4 1.2 -1.9 0.4 -1.1 1.5 -1.5 0.8 -1.6 1.1 -1.9 0.6 -1.3 1.7 -3 -0.4 -1.3 1.2 -1.4 1.3 -1.6 0.6M489.6 1263.6l2.2 1.6 1.7 0.4 1 1.8 1.9 -0.4 0.8 1.9 1.4 0.6 0.2 1.7 -2.1 1.9 0.2 2.3 -0.7 1.4 0.4 1.9 -2.5 0.9 0.7 2.3 -1.3 1.1 -2.1 0.6 -0.7 1.7 -2.5 0.7 -1.2 1.5 -1.8 0 -0.9 2.6 -2.1 0.5 -1.7 1.6 0 1.8 0.1 1.5 0.3 1.5 -1.4 1.1 -0.1 1.4 -1.3 1 -0.8 1.7 1.3 1.7 0.8 0.6 1.2 1.6 1.1 1.3 -1.1 1.8 0.6 2 -1.4 1.5 0.6 1.5 -1.4 1 -0.6 2.7 -1.1 1.5 -1.2 1 0.2 2.8 -1.1 0.9 -1 1.4 -2.6 -0.1 -1.1 1.8 -1.4 1.8 0 1.4 -2 1.4 -0.8 1.7 0 1.7 -2 1.4 0.5 2.8 -1.2 1.2 -0.5 1.7M465.1 1156.6l1.5 1.4 -0.3 1.8 0.8 1.3 1.5 -0.4 2.2 1.3 1.8 0.3 1.5 1.4 0.6 0.9 1.8 1.4 0.2 1.2 2.5 0.9 0.8 1.2 1.7 1.4 1.7 -1.1 1.6 1.3 1.7 0.5 2.1 -0.6 1.5 1.6 1.6 -0.8 1.4 1.1 1 2.1 -0.1 2 1.8 1.2 1.2 0.3 2.1 1.6 1.6 0.3 0.8 -1.7 2.5 -0.4 1.8 0.8 1.8 -1.1 1.7 1.2 1.9 -0.3 2 0.2 1.7 0.5 1.6 1.6 2.5 0.1 0.3 1.9 2.4 0.5 1.5 0.8 1.9 0 1.5 1.8 1.5 -0.9 1.7 0.8 1 1.4 2.7 -0.2 0.5 1.6M312.2 1146.6l2.4 -1 1.4 -1.8 1.7 -0.2 2.2 -0.8 0.6 -2.1 1.6 0 1.2 -1.7 1.9 -0.5 1.6 -0.1 1.7 -1.7 2.2 0.5 1 -2.4 2.3 0.1 1.2 -0.9 1.4 -0.3 2 0.6 1.9 -1.7 1.2 1.4 2.1 -1.3 1.4 0.3 1.5 -0.5 1.5 1.3 1.8 -0.8 2.1 1.3 1.1 -1.2 2 0.4 1.9 -0.4 1.9 -1.7 2 0.8 1.7 -1.2 -0.6 -1.6 1.9 -1.1 -0.5 -2 0.5 -1.5 1.6 0.2 2.1 -1.6 1.8 1 1.1 -1.3 2.2 -0.1 2.2 0.3 1.9 -0.7 1.2 0.4 2.2 -0.7 0.3 1.9 2.4 0.4 0.1 1.4M663.8 1305l2.1 0.8 1.6 0.6 2.2 0.6 1.6 0.3 1.8 -1.6 1.9 0.2 1.6 -1.5 2.2 -0.9 1 -0.9 1.9 -0.5 0.8 -1.4 1.6 -1.4 2.2 -0.5 1.4 -0.6 2.4 0.6 0.7 1 1.1 0.9 0.2 2 -2 1.8 -0.6 1.8 -1.3 1.9 -0.5 1.9 1.1 0.9 1.3 1.9 1.7 0.6 0.1 1.8 2.5 -0.5 1.3 -0.9 1.8 -0.6 0.5 -2.2 1.4 -0.1 1.7 -0.6 0.5 -1.5 1.6 -0.7 2.2 -0.6 1.1 -0.6 2.3 -0.6 1.3 -1.4 2.1 0.4 2.3 -0.9 1.1 -0.9 2 -0.3 1.5 -1.6 1.7 -1.6 1.7 1.3 1.3 -1.1 2.2 1 1.6 -0.6 1.9 0 0.9 1M726.6 1285.2l1.6 1 -0.3 3 1.1 1.2 -0.4 2.4 1.7 1 0.1 2.2 -0.8 2.2 1.9 1.7 -1.1 1.8M673.4 1336.1l0.5 -2.3 1.1 -0.9 0 -2.1 2 -1.1 0 -2.2 1.8 -1 2.1 1 1.6 0.9 2.3 1.2 1.5 1.2 1.2 1.6 1.3 0.1 1.3 1.1 1.9 1.6 1.8 0.2 1.8 -1.1 1.1 1.3 1.8 -1.1 2 -0.7 1.1 -1.3 1.6 -0.3 1.8 -1 0.2 -2.2 1.7 -0.1 1.6 -1.8 1.9 0.6 1.2 -1.2 2 -0.8 1.5 0 2.2 -0.6 1.6 1.4 2.1 -0.4 1.6 -0.3 1.7 0.7M618.8 1323.2l2.2 1 1.5 0.9 0.5 1.6 1.7 0.8 0.6 1.4 1.3 2.2 1.1 1.5 -0.6 2 1 2.2 2.4 1 0.9 -1.3 1.9 -1.1 0.6 -2.4 1.7 -0.4 1.7 -1.5 1.2 -1.3 0.7 -1.6 1.9 0.6 1.1 -1.8 1.6 -1.5 0.7 -1.5 1.5 -0.8 0.5 -1.9 2.3 -0.4 1 -1.3 1.8 0.8 1.3 1.9 2.5 0.5 1.9 1.1 1.8 0.3 1.6 1.4 1.5 -1.3 1.6 1.3 1.5 1 1.3 -0.5 1.2 1.3 1.6 1.5 1.6 1.5 -0.2 2.2 1.2 1.3 1.4 2.2M730.4 1301.7l0.5 1.5 -1 2.3 0.3 1.6 -0.3 2.1 -0.4 2.3 -1 1.4 1.1 1.9 -1.1 1.9 -1 1.1 0.3 2.1 -1.4 1.8 -0.2 1.5 -1.4 1.5 -0.5 1.8M540.3 1351.1l1.4 -1.3 2.2 0 0.1 1.5 1.6 1.8 1.4 1.4 -0.8 2.3 1.4 1.8 1.7 1 1.5 0.2 1.5 1.9 1.6 0.6 1.3 -0.8 2.2 0.9 1.2 -2 1.5 0.2 1.1 -1.8 2.4 0.4 0.9 -2.4 2.3 0.7 0.9 -1.4 0.9 -1.7 2.3 -0.6 0.2 -1.4 1.6 -1.3 0.9 -2 -0.4 -2.5 2.1 -1.4 -0.1 -1.6 0.6 -1.9 -0.3 -1.9 0.9 -1.3 2 -0.6 1 -2 2 -1.1 1.8 0.2 1.1 0.6 2 0 1.4 0.4 1.9 0.3 1.2 0.4 1.9 0.2 1.2 0.4 1.9 -1.1 1.4 -0.5 0.8 -1.3 2.2 -0.4 1.6 0.6 1.2 -1 1.7 0 1.6 -1.2 2.1 -0.7 1 -1.9 1.9 -0.9 0.9 -1.6 1.7 -0.3 1.1 -1.9 1.4 -1.7 2.4 -0.2M617.7 1219.7l0.3 1.7 -0.2 1.7 0.7 2.5 -1.3 1.5 1.5 1.9 -1.1 1.4 1 1.6 -1.2 2.6 0.9 1.4 1 1.2 -0.4 2.3 1.3 1.2 -1 2 0.7 2.1 -0.7 1.5 -0.4 1.9 1.4 1.8 -1.1 1.6 0.6 2.2 0.8 1.7 0.9 1 0.7 1.9 0.9 1.1 0.6 1.4 -0.5 2.3 1.8 1.5 0 1.3 -0.2 2.3 1 1.5 -1.5 1.6 1.1 2.1 -0.5 1.6 2.1 1.9 -0.8 1.4 0.6 1.7 -0.5 1.4 1.2 1.6 0.3 1.7 0.9 1.5 2.2 1.4 1.1 1.3 0.5 1.2 0.9 1.1 0.7 1.9 -1.4 2.3 -0.2 1.5 -1.1 1.6 0.1 1.7M631.4 1300.3l-0.9 1.5 -1.4 0.8 -0.7 1.6 1.6 1.6 -0.5 2.4 -0.5 2 0 1.9 -0.9 1.8 -1.4 1.1 -0.4 2.1 -1.9 1 -0.9 0.9 -1.5 1 -0.9 1.4 -1.7 0.8 -0.6 1M540.3 1351.1l0 0M608.9 1217.4l2.1 0.5 1.7 0.9 1.3 -0.3 1.9 1.4 1.8 -0.2M402.1 1634.1l2 1.1 0.7 1.6 2.4 -0.9 0.8 2.1 2.1 0.5 1.6 -0.4 1.6 1 2.2 -0.2 0.9 1.2 2 -0.6 1.7 0.7 1.9 0.2 1.4 0.4 2 0.1 1.4 0.7 2 -0.3 1.3 0.5 1.7 -0.1 1.4 1.1 2.2 -0.6 1.2 1.1 1.8 -0.6 1.4 -0.4 2.1 1.7 1.5 -0.5 0 -1.8 1.7 -2.4 1.5 -0.6 1.4 -1.6 2.1 -0.3 1.9 0.7 1.1 -1.6 1.8 0.4 1.9 -1.1 1.9 -1 1.5 0.5 1.8 -1.1 1.4 -0.1 1.6 1.1 2 -1.1 1.6 0.7 1.5 0.1 1 1.4 2.4 -1.3 1.6 1.3 1.8 0.1 1.4 -1.6 2.3 0.8 1.2 -1.5 1.8 -1.3 1.9 0.8 1.1 -0.5 1.9 -0.2 1.5 -0.5 1.7 1.6M498.9 1621.1l-1.3 1.6 0.5 1.8 -1.7 1.6 -0.5 2.2 -1.7 0 -0.4 2.4 -1.1 0.8 -1 1.9M396.3 1594.8l0.3 1.7 -1.9 1 -0.1 2.5 -0.8 1.1 -0.7 1.6 0.2 1.8 -1.8 1.5 1 2.2 -1.2 1.7 -0.2 2 -1.7 1.6 0.9 2.1 -1.6 1.1 0.1 1.9 0.6 2.2 -1.8 1.2 0 1.6 2 0.2 1.4 -0.3 1.6 0.7 1.6 -0.6 2.1 0.5 1.1 1.4 -0.1 1.6 1.5 1.5 0 1.8 2.1 1 -0.3 1.3 1.5 1.4M608.8 1538.1l1.5 1.2 0.2 2.5 0.9 1.4 0.3 1.1 2.1 0.9 2.1 0.8 2.1 0.3 2.1 0.5 1.4 0.1 1.9 0.8M623.4 1547.7l0.2 2.7 -1 1.4 0.9 1.8 -0.1 1.6 0 2.6 0.8 1.5 -2.2 0.7 -0.3 1.8 -2.6 0.3 -1.5 1.4 -2.7 0.3 -1.5 1.4 -2.3 0.8 -1 1.7 -1.5 1.5 -1 1 -0.5 1.2 -0.8 1.3 -0.5 1.3 1.3 1.2 -1 1.4 -1 1.1 -2 -1.2 -1.9 1.7 -1.2 -0.9 -1.9 0.6 -1.7 -0.6 -1.4 0 -1.7 -0.3 -1.2 0.6 -2.1 0.1 -1.9 -0.1 -1.4 0.5 -0.6 -1.4 -0.2 -1.5 -1.7 -0.7 -0.6 2 1.3 1.2 -1.3 1.6 -1.9 -0.4 -1.7 -0.9 -2.5 0.5 -1.1 -0.7 -2.2 -0.5 -1.4 1 -1.9 -0.6 -0.7 1.7 -1.8 0 -1.5 0.6 -1.4 0.9 -1.2 -1.8 -0.9 -1.4M665.7 1282l1.7 0.5 1.1 1.8 1.2 0.6 1.8 -0.9 1.7 0.3 2.3 -0.4 0.4 -2.7 2 -0.2 1.9 0 1.4 -1.7 1.3 -0.6 1.8 -0.3 1.3 -1.5 1.6 -0.1 1.9 0.5 -1.5 1.1 0.1 2.6 -1.6 1.3 -0.7 2.5 -0.6 1.3 0.1 1.5 1.8 0.9 1.5 1 1.3 -0.4 1.7 0.9 1.7 -0.1 1.6 0.7 2.1 0.7 1.8 0.1 1 -1 1.2 -1.3 0.3 -2 0.8 -1.6 0.1 -2.6 2.3 -0.9 1.7 -0.2 1.1 2 1.3 1.4 2.7 -1.4 1.7 1 1.7 0.5 1.9 -1.3 2 1.5 1.9 -0.7 1.6 -0.5 1.8 1.8 1.6 -1.6 1.5 0.7M687.6 1255l1 1.3 2.6 -0.7 1.7 1.5 1.4 0.3 1.4 1.1 1.9 0 2.3 -0.5 1 1.5 2.3 -0.5 1.6 0 2.4 -0.8 1.6 0.3 2 -0.1 2 1.1 1.7 -0.5 1.1 1 2.4 0.1 1.1 0.8 0.5 2.4 2.4 -0.4 0.4 2.2 1.7 1.5 -0.9 2.6 1.1 1.5 -0.4 1.5 1.5 1.5 -0.6 1.6 0.9 2 -0.5 2.3 1.1 1.9 -0.3 1.8 0.6 1.9M176.3 1342.6l0.7 -1.9 2.9 -0.5 0.3 -1.9 2.4 -0.5 2.1 -0.1 1.5 -0.8 2.3 0.1 1.6 -0.2 1.2 1.4 2.4 -0.7 1.4 0.5 1.5 -1.1 2.2 -0.2 1.3 -1.9 1.3 -0.3 1.3 -1.5 2 0.4 1.7 -1.1 1.3 -0.7 0.3 -2.2 0.9 -0.9 1.8 -0.5 1.4 0.2 1 -1.3 2 0.4 1.6 0.6 1.1 -2.1 2.1 0.7 1.5 -0.5 0.1 -1.6 2.2 -1.2 -0.4 -2.3 1.8 -1.1 -0.1 -2 2.7 -0.7 -0.1 -2.3 1.3 -1.1 0.3 -1.9 2.2 -0.8 2.5 -0.2 1.8 0.6 2 -0.9 1.5 0.6 2 -1 1.9 0.9 2.1 0 1.2 1.2 1 1.1 1.5 1.5 1.9 0.4 0.3 1.8 1.6 1.5 1.5 0.7 1 1.6 1.7 1 0.8 1.2 2.4 0.5 1 1.8 1.6 0.7 1.8 -1.2 1.9 0M266.4 1324.8l-0.5 2.2 1.5 1.1 -1 1.7 1.5 1.6 -0.7 2.1 -0.4 1.9 0.7 2.3 -1.1 1.6 0 1.8 -0.6 1.4 1.3 1.7 -0.3 1.7 0.4 1.8 -0.8 2.1 0.8 1.3 0.2 2 -0.5 1.9 1 1.8 -1.3 1.4 1 2.4 -0.4 1.7 1.7 0.7 2.2 -0.5 1.5 1.1 1.8 -0.4 1.7 0.9 2.6 -1.3 1.5 1.3 1.7 1.4 2 -1.5 1.9 2.2 1.9 -0.1 1.9 0.7 1.1 -0.4 1.1 1.8 2.1 -0.1 -1.2 1.5 1.4 2.7 -0.9 2.1 0 1.7 0.2 1.9 1.1 1.9 -0.5 1.9 1.2 1.8 0.9 1.8 -0.2 1.1 0.9 1.9 0.4 1.4 -0.7 2.4 -1.6 0.4 -1 2.1 -1.2 1.4 -0.8 1.4 -0.5 2.2 -1.3 0.7 0.1 1.9 -2.1 1.2 0.7 2.5 -2.4 1.4 -1.4 1.6 0.1 1.4 -1.2 2M176.3 1342.6l2.1 0 1.3 0.7 2.2 0.1 1.6 0.7 1.6 0 2 -1 1.7 0.3 2.3 -1.1 1.5 0.3 1.9 0.4 1.7 -1.3 2.3 0.5 1.6 -0.6 -0.7 1.5 1.4 1.8 -0.9 1.7 0.7 2 -1 1.9 0.8 1.5 -0.5 2 -0.3 2.1 1.3 1.5 -1.2 1.7 1.5 2 -1 1.5 1.5 1.2 -0.3 2.1 1.4 1.1 -0.7 2.3 1.5 2.1 0.3 2 -0.2 1.9 1.9 1 -0.3 2.3 1.1 1 0.6 1.5 2 0.7 0.8 2 1.6 0.8 1.8 1 0.7 1.9 1.2 0.9 1.2 1.4 2.8 -1.1 1.7 2.3 1.8 -0.6 1.6 -0.8 1.8 1.5 2.3 -0.7 1.8 0.5 1.8 0 0.8 1.7 2.2 -0.1 0.6 1.8 2.2 0.3 1.8 1.2 2.1 0.1 0.4 1.5 1.9 1 1.1 1.6 1.7 -0.3 1.5 1.7 2 -0.6 1.2 1.3 1.1 0.8 2.1 -1 1.3 1.6 1.8 -0.1 1.8 0.9 0.8 1.6 1.8 0.5 0.5 1.5 1.3 1 1.9 -0.5 1.8 1.2 1.4 -0.4 2.2 0.7 1.5 -0.2 1.6 -0.6 2.5 1.4 1.8 -1.4 1.6 0.6 1.6 0.8 1 1.4 1.1 0.3M234.6 1128.3l0 -2.2 -0.4 -1.3 -1.5 0.2 -1.9 0.2 -2.3 -0.8 -1.8 0.4 -2 0.2 -0.9 -1.5 0.4 -2.5 -0.1 -1.4 -0.3 -1.9 -0.2 -2.4 -1.9 -0.9 -1.1 -1.4 -0.2 -2 -0.9 -1.7 0.9 -2.4 0.4 -1.7 -1.6 -1.7 -1 -1.2 -1.5 -1.3 -0.9 -1.3 -1.6 -1.2 -1.7 -1.8 -0.8 -1.5 -1.7 -1 -0.4 -1.9 1.6 1.2 1.3 -0.4 1.2 0.9 2.1 0.3 2 0.7 2.2 -0.7 1.8 -0.4 0.7 1.3 0.1 1.3 1.2 1.6 1.1 -0.6 1.8 0.6 1.1 -0.6 1.4 -0.2 1.1 0.9 1.4 -0.1 2.5 -0.4 2.5 0 0.2 1.5 1.5 1 0.3 1.3 1.7 0.8 1.1 1.1 1.4 -0.3 1.5 -0.3 1 -0.5 0.3 -1.6 -0.3 -1.3 -0.7 -1.6 1.2 -1.4 0.5 -1.4 2 0.2 1.3 -0.1 1.2 -1.6 1.5 0.2 1 0.6 2.5 0.5 1.3 0 2 -0.9 1.6 -0.3 1.7 -0.5 1.8 -1 1.6 -0.3 0.5 -1.4 1.1 -0.6 1.8 -0.4 0.8 -1.3 1.6 -0.8 2.5 -0.5 1.7 0 0.8 -1.2 1.8 -0.8 0.3 -1.3 1.6 -0.5 0.9 -1.2 1.3 -2 0.5 -1.4 -1 -1.6 -0.3 -1.3 -0.9 -1.2 2 0.2 1.3 0.3 1.7 -0.4 1.7 -0.1 1.6 0.1 1.7 -0.1 0.5 1.8 1.6 -0.1 1.3 1.3 -0.5 2 0.1 2.4 -0.5 1.4 -1.2 0.9 -0.5 1.6 -0.4 1.7 1.8 0.7 1.1 0.1 2 0 0.9 0.8 0.8 1 1.3 0.7 -0.2 1.4 0.6 1.5 1 1.3 0.7 2.5 -0.5 1.7 -0.3 1.2 -1.6 0.9 -0.1 1.6 -1.7 0.6 -1.2 1.1 0.3 1.6 -0.7 1.7 -0.3 2 -0.6 1.3 -0.9 1.6 0.5 2.6 -0.3 2 -0.1 2.2 1.1 1.6 0.2 2.5 0.7 1.6 0.9 1.8 0 1.6 1.3 0.9 -0.5 2.6 1.3 1.5 1.6 1.3 0.5 2.1 1.2 1.2 1.3 1.7 1.1 0.5 1 1.2 1.6 0.9 1 2 1.9 0.4 1.2 0.2 1 1.6M401.7 1654l-1.3 0.5 -2.3 0.1 -1.4 0.6 -1.6 0 -1.3 0.6 -2 0.1 -1.6 2 -1.8 -0.2 -1.6 -0.1 -1.7 2.5 -1.8 -0.6 -1.6 1.5 -0.7 1.5 -2.1 0.4 -1.3 1.5 -1.4 0.3 -1.1 1.3 -1 2.2 -1.9 -0.1 -0.3 2.2 -1.8 0.7 -1.3 1.3 -0.5 2.3 -1.6 0.6 -0.7 1.9 -1.7 1 -0.9 1.3 -0.9 2.1 -2.3 0.1 0.2 2.9 -2 0.7 -1.5 1 -0.7 2.1 -2.3 0.9 -0.5 1.8 -0.7 1.7 -2.4 1.1 -0.5 1.4 -1.4 1.7 -1.4 1.2 -0.7 2.1 -2.2 0.1 -0.7 1.6 -1.8 0.8 -0.9 1.5 -1.5 1 -1.8 -0.1 -1 2.1 -1.4 0.2 1.9 -0.3 1.5 2 1 -1.4 2.9 1.1 1.1 -1.4 1.5 -1 2 1.3 1.5 -0.8 1.7 0.4 1.6 2.1 1.7 1.4 1.5 0.9 1 1 1.1 1 0.9 1.8 1.3 0.6 1.9 1.4 0.6 1.9 0.1 1.7 1.6 1.6 1.8 -0.4 1.5 -2.1 1.5 1.4 1.9 -0.5 1.7 0.7 0.3 2.1 1.3 0.5 2.1 1 0.9 1.7 2 0.6 1.2 1.7 2.4 -0.1 1.4 0.9 1.7 1.7 1.7 -0.2 1.6 1 1.3 0.6 1.1 2.2 1.8 0.6 0.7 1.5 2.4 -0.1 1 1.1 1 1.4 2.4 1.1 0.9 1.4 1.3 0.8 1.1 1.9 2.2 0.5 1.1 2.1 2 0.4 0.4 1.4 1.8 0.6 2 0.1 0.5 1.6 -0.5 1.6 -2 1.8 -1.4 1.1 -0.6 0.9 -1.3 1.3 0.1 2.6 -1.3 1.6 0.6 2 -0.4 1.3 0.1 1.7 0.7 1 1 1.5 0.2 -1.6 2.3 -0.4 0.8 -1.4 0.7 -1.3 2.6 -0.9 0.9 -1.1 1.9 -1 1.4 -1.5 0.7 -1.5 1.6 -1.9 0.3 -1.6 -0.4 -2 1.7 -2.3 0.3 -1.6 1.8 -1.4 -0.3 -1.6 1 -2 1.1 -2 1.7 0.4 1.4 -1.7 1.9 -0.2 1.4 -2.7 1.7 -0.4 1.5 -0.2 1.4 -2.3 1.7 0.7 1.2 -1.6 1.2 -2 2.3 0.4 0.8 -1.4 1.6 -1.1 1.7 -1.2 0.4 -1.6 1.6 -0.7 1.3 -1.5 0.5 -2.2 2.1 0.2 0.1 -1.6 1.4 -1.4 0.5 -2 1.4 -1.2 0.1 -1.7 1.4 -1 0.4 -1.5 1.7 -1.1 -0.1 -1.6 1.3 -1.6 0.8 -1.8 0 -1.2 2.1 -2.1 -0.4 -1.6 0.4 -1.8 1.6 -1 -0.4 -1.9 0.9 -1.1 0.7 -1.9 1.9 -1.1 -0.1 -2M401.7 1654l1.4 0.1 1.8 -0.4 1.6 0.3 1.9 -0.5 1.3 0.7 1.7 -1 2.2 1 1.3 -1 1.8 0.8 2.1 0.1 1.5 1.5 1.2 -1.4 1.8 1.2 1.8 -0.2 1.6 0.5 1.3 0.8 2.5 0.2 1.4 1.4 1.5 -0.4 2.2 -0.2 1.2 1.9 1.7 -0.2 1.6 1.5 1 1.8 2.1 -0.2 1.1 1.8 1.6 0.3 0.7 1.5 2.3 0.5 1.2 2.1 0.3 1.9 2.3 1.1 0.7 1.2 2.1 0.6 2.1 1.1 1.4 0.2 1.7 1.6 1.9 -0.2 1.8 0.2 1.5 1 1.7 0.2 1.8 0.6 1.5 1.4 -2 1.4 -0.5 1.9 -0.5 2 -0.8 1.3 -0.3 1.7 -1.4 1.5 0.5 1.8 1.7 1.1 2.5 -0.2M491.7 1633.4l0.9 1.7 0 2.6 -0.7 1.5 -0.5 1.9 -1.2 1.6 -0.1 1.6 -0.2 1.5 -0.6 1.8 0 1.8 -0.2 1.6 2.1 2 0.6 1.4 1.4 1.8 -0.3 2.1 1.4 1.1 -0.8 1.6 -0.9 1.7 -0.8 1.7 -1.4 1.5 1.3 1.8 -1.6 1.7 -0.7 1.3 0.7 1.7 -0.8 2 -0.6 2 -1.1 2.1 -1.2 1.7 -2.4 0.5 -1.4 1.2 -1.4 1 -2.2 0.9 -1.4 1.4 -1.3 1.2 -1.5 2 -1.4 1 -1.8 1.3 -1.5 1.2M402.1 1634.1l-0.4 1.4 0.7 2 -0.6 1.8 1.8 1.6 -1.2 2 0.7 1.4 0 1.8 -0.9 2.5 0.4 1.9 -1.6 1.8 0.7 1.7M673.4 1336.1l1.3 1.6 -0.2 1.4 1.4 1.1 0.1 1.8 0.7 2 0.2 1.8 0.3 2.3 2.1 1.4 -1.2 1.4 1.2 1.6 -1 1.7 -1.3 2.1 0.4 2.1 -1.6 0.7 -1.7 0.3 -1.4 0.9 -1.9 0.5 1.1 2 0.3 1.7 0.8 2.3 1.6 0.5 0.9 1.8 0.5 2 0.7 1.4 2.1 0.4 0.9 1 1.8 -0.2 2 0.7 2.1 -0.7M703.2 1355.1l-0.9 1.5 -2.1 0.7 -1.7 1.6 -2 0.7 -0.2 2.2 -1.6 0.1 -0.9 1.7 -0.7 1.7 -2.5 1.4 -0.5 1.6 -1.8 0.8 0.5 1.7 -1.6 1.2 -1.6 1.7M450.1 1523.5l1.8 -0.7 1.7 0.4 1.7 -1.5 2.3 -0.2 1.5 0.6 1.8 -0.3 1.3 1.1 2.3 -0.7 1.3 0.8 1.8 0 2 1.2 1.7 -1.7 0.9 1.2 2.5 -0.8 1.1 1.1 1.8 -0.5 0.9 1.5 -0.3 1.7 1.9 1.7 0 1.4 1.3 0.6 1.9 -0.2 1.8 0.9 0.5 -2.5 0.8 -1.3 1.7 0.8 2.2 -2 1.4 0.8 2.3 -0.5 1.9 0.5 1.7 -0.9 1.9 0.6 1.4 -1.2 2.2 0.2 0.6 -1.8 2.2 1.4 1.8 -1.2 2.1 -0.6 1.1 2 1.8 -0.6 1.3 1.7 -1.2 1.6 1.5 2.1 -0.5 1.8 1.4 1.6 0 1.9 1.3 1.4 -0.1 2.2 1.1 1.1 0.2 2.1 0.7 1.9 -0.3 1.7 1.3 1.4 0.6 2 1.8 0 1.4 0.6 1.8 -0.6 1.1 1.6 1.4 0.9 -0.3 1.7 -1 2.5 0.3 2 -2 1 0.1 2 -0.4 1.9 0.8 2.3 0.5 1.8 1.6 1 0.8 2.2 1.1 2.3 0.6 1.9 0.7 1.5 0.5 1 1.8 -0.9 2.4 0.9 1.7 -0.9 2.5 -0.8 0.4 -1.8 0.8 -1.1 2 -0.7 1.8 0.3 1.4 -1.2 2.8 -0.1 1.3 -0.2 2.1 -1.9 1.6 0.4 1.8 -0.9 1.5 0.2 1.7 -0.4M413.8 1571.6l1.7 -0.7 1.8 1.3 2.2 -1.4 1.5 0.9 1.6 -0.6 2.3 0 1.9 0.5 1.8 -0.5 1.5 0.5 1.4 1.4 2.6 -1 1.6 1.4 1.9 0.2 1.9 1.7 2 -0.6 1.4 0.8 2.2 0.6 1.5 1 2 -0.7 1.2 1.1 1.8 -1.3 1.6 1.5 1.9 -0.4 1.4 0.7 2.4 -1.3 1.6 1.1 2.5 -1.1 1.1 1.4 2.3 -0.8 1.9 1.3 1.3 0 1.8 1.2 1.4 1 -0.2 3.2 1.5 0.5 0.3 2.7 0.7 1.4 1.2 1.4 -0.7 2.2 0.9 2.2 -0.1 1.7 1.3 1.3 -0.8 2 2 1.3 0 1.7 -0.6 1.7 1.7 1.2 0.1 2.1 1.7 0.3 1.8 -0.4 0.9 1 1.9 0.3 1.7 0.9 1.7 -0.5 1.6 0.9 -0.1 2 1.4 0.9 -0.1 2.1 1.5 0.8 1.5 -0.2 1.8 1.4 1.5 0.5 -0.2 1.4 0.2 2.3M558.4 1567.8l0.2 1.8 1.3 1.3 1 1.3 2.5 -0.3 1.3 0.6 1.6 0.4 0.6 2.3 -1.9 1.7 -1.6 0.8M563.4 1577.7l-1.7 1.3 -1.7 -0.5 -1.2 0.6 -1.3 0.7 -0.9 1 0.1 1.9 -0.9 1.3 -1.8 1 -0.6 1 -0.8 1.3 -1.7 1.2 -2.1 0.5 -1.3 1.2 0.3 2.2 -1.1 1.1 -1.2 -0.4 -1.3 -0.4 -2.7 -0.7 -1.5 1.1 -1.9 -0.1 -1.2 0.7 -1.9 0.3 -1 0.9 -1.8 -0.3 -1.4 1.4 -2.2 0.5 -1.2 1.7 -2.4 -0.1 -1.5 1.6 -2 0.2 -1.5 1.1 0.2 2.3 -2.5 0.9 0.6 1.5 -0.6 1.7 -1.3 1.6 -1.8 0.4 -1.1 0.8 -1.6 0.9 -1.7 1.3 -1 2.1 -2.1 -0.1 -1.7 2 -1.5 1 -2.2 1 -1 2.3 -1.8 0.4M540.3 1351.1l-1.8 1.6 -0.8 1.6 -1.4 0.8 -1.2 2.2 -0.6 1.5 -2 1.2 -0.6 2.2 -1.8 1.4 -1.4 1.6 0.1 1.6 -1.2 1.8 0.2 1.8 1.3 0.9 0.3 1.8 1.8 1.3 0.2 1.7 0.6 2.2 -1.5 1 0.3 2.3 -0.7 2 -0.7 1.4 1.2 2.3 -0.6 1.4 1.8 1.8 -1 1.9 0.6 1.2 0.6 1.9 -0.3 2.5 0.4 1.8M457.6 1396.1l1 -1.7 1.7 -1.2 1 -2.1 1.4 1.3 -0.1 2.1 1.1 1.2 0.1 1.6 1.1 1.2 2.5 -0.7 0.8 1.5 1.9 0.5 1.5 1.6 1.9 -0.7 0.6 2.2 2.2 0.2 1 -2.1 1.9 -0.5 0.2 -2.6 1.9 -0.6 2.4 0 1.4 -1.2 1.5 1.4 1.2 1.5 1.4 0.2 0.9 1.9 2.1 0.8 0 1.6 1.7 1.3 1 -0.5 1.2 -1.4 1.5 -0.6 1.5 1.9 2 -0.9 1.5 1.5 2 0.3 1.4 0.8 1.6 0.2 1.8 -0.4 0.7 -2.6 2 0.6 2.7 -1.5 1.6 0.9 1.8 0 0.9 -1.8 2.3 0.4 1.2 -0.6 1.8 -0.3 0.9 -0.7 2.2 0.3 1.4 -0.6 1.5 -0.1 1.7 0.1"/>
<path fill="#efd8a2" stroke="#000" stroke-opacity="0.64" stroke-width="0.8" d="M497.9 1445.4l14.5 -0.5 0.5 9 -15 1z"/>
<path fill="none" stroke="#111" stroke-width="1.2" d="M503.4 1178.7l0.8 0.8 1 -1.6 0.8 2.1 1 -2 0.9 1.8 1 -1.8 0.8 1.6 1 -1.4 0.8 1.9 1 -2.1 0.9 1.2 0.5 0.9 1.5 -0.5 0.2 1.5 1.1 0.1 0.3 1.4 1.8 -1.5 0.2 1.7 1.6 -1.1 -0.3 2.7 1.8 -1.6 0 2.2 1.3 -0.5 0.7 0.7 1 -0.7 0.5 1.5 1.2 -1.1 0.6 1.2 1.1 -0.9 0.6 1.2 0.9 -0.2 0.4 1.2 1.7 -0.9 -0.2 2.2 1.9 -1.2 0.4 1.3 0.7 1 1.1 -1.7 0.6 2 1 -1.7 0.7 1.5 1.1 -1.8 0.6 1.4 0.3 1.6 1.9 -1.8 -0.1 2.4 1.6 -1.1 0.2 1.5 1.1 -0.1 0 1.1 1.4 0.1 -0.8 1.6 2 -0.2 -1.1 1.7 1.5 0.1"/>
<path fill="none" stroke="#111" stroke-width="1.3" d="M550.9 1194.4l1.2 0.3 -0.1 -2.2 1.9 1.4 0 -1.9 1.1 0 0.2 1 1.5 0 -0.8 1.5 2.1 -0.4 -1.5 2 2.2 -0.5 -0.3 1.3 -0.3 1.3 2.2 -0.2 -0.9 1.7 1.7 0.1 -0.2 1.2 -0.1 1.1 2.1 0 -1.2 1.6 2 0.1 -1.2 1.6 0.9 0.6"/>
<path fill="none" stroke="#111" stroke-width="1.2" d="M566.7 1213.1l0.8 0.4 0.9 -0.7 0.8 1 0.9 -0.9 0.8 0.6"/>
<path fill="none" stroke="#111" stroke-width="1.6" d="M583.4 1575.2l0.9 0.1 0.6 -1.2 1 0.4 -0.3 1 1.6 0.3 -0.5 1.1"/>
<path fill="none" stroke="#111" stroke-width="1.3" d="M559.2 1579.4l1.2 0.5 0.3 -1.5 1.3 0.7 0.4 -1.5 1 0.1 0.4 1.3 1.4 -0.8 0.3 1.6 1.2 -0.4 1.2 0.2 0.1 -1.9 1.6 1.3 0.4 -1.3 0.9 0.5 0.8 -1 0.8 1.3 0.9 -1.3 0.8 0.5 0.7 0.7 1.1 -0.7 0.4 1.6 1.1 -0.6"/>
<path fill="none" stroke="#111" stroke-width="1.3" d="M545.9 1593.5l0.6 0.8 1.2 -0.6 0.5 1.2 1 -0.1"/>
<path fill="none" stroke="#111" stroke-width="1.5" d="M604.6 1577.3l0.8 0.1 0.5 -0.5"/>
<path fill="none" stroke="#111" stroke-width="1.4" d="M492.6 1655l-0.1 0.9 1 0.6 -0.7 1 0.9 0.6 -0.1 0.9 -0.7 0.8 0.7 1.1 -1.2 0.7 0.7 1.1 -0.7 0.8"/>
<path fill="none" stroke="#111" stroke-width="1.3" d="M469.6 1679.5l-0.9 0.4 0.4 1.3 -1.3 0.2 0.2 1.1 -0.8 0.5 -0.5 0.8 0.7 1.1 -1 0.7 0.3 1 -0.4 0.9 -0.4 1 0.5 1 -0.4 1"/>
</g>
<text transform="translate(18.48 39.30) scale(0.9709 1)" font-size="33.99" style="white-space:pre"><tspan font-weight="bold">A</tspan></text>
<text transform="translate(795.77 39.30) scale(0.9709 1)" font-size="33.99" style="white-space:pre"><tspan font-weight="bold">B</tspan></text>
<text transform="translate(18.68 950.60) scale(0.9709 1)" font-size="33.99" style="white-space:pre"><tspan font-weight="bold">C</tspan></text>
<text transform="translate(796.07 950.90) scale(0.9709 1)" font-size="33.99" style="white-space:pre"><tspan font-weight="bold">D</tspan></text>
<text transform="translate(166.60 80.20) scale(0.9615 1)" font-size="41.69" style="white-space:pre">Contribution of Brazilian states</text>
<text transform="translate(319.30 124.90) scale(0.9615 1)" font-size="41.68" style="white-space:pre">in soybean production</text>
<text transform="translate(922.90 80.20) scale(0.9615 1)" font-size="41.54" style="white-space:pre">Adoption by states of inoculation:</text>
<text transform="translate(1219.50 124.90) scale(0.9615 1)" font-size="41.72" style="white-space:pre"><tspan font-style="italic">Bradyrhizobium</tspan></text>
<text transform="translate(119.70 996.20) scale(0.9390 1)" font-size="40.60" style="white-space:pre">Adoption by states of coinoculation:</text>
<text transform="translate(144.22 1041.50) scale(0.9615 1)" font-size="40.78" style="white-space:pre"><tspan font-style="italic">Bradyrhizobium</tspan> and <tspan font-style="italic">Azospirillum</tspan></text>
<rect x="49.2" y="619" width="46.7" height="170.5" fill="url(#gA)" stroke="#262626" stroke-width="1.2"/>
<line x1="95.9" y1="619" x2="106.4" y2="619" stroke="#262626" stroke-width="1.2"/>
<line x1="95.9" y1="661.625" x2="101.9" y2="661.625" stroke="#262626" stroke-width="1.2"/>
<line x1="95.9" y1="704.25" x2="106.4" y2="704.25" stroke="#262626" stroke-width="1.2"/>
<line x1="95.9" y1="746.875" x2="101.9" y2="746.875" stroke="#262626" stroke-width="1.2"/>
<line x1="95.9" y1="789.5" x2="106.4" y2="789.5" stroke="#262626" stroke-width="1.2"/>
<rect x="49.2" y="811.8" width="46.7" height="46.7" fill="#fff" stroke="#262626" stroke-width="1.2"/>
<text transform="translate(111.03 634.70) scale(0.9009 1)" font-size="43.65" style="white-space:pre">30%</text>
<text transform="translate(112.76 718.80) scale(0.9009 1)" font-size="45.05" style="white-space:pre">15%</text>
<text transform="translate(110.93 804.80) scale(0.9009 1)" font-size="43.70" style="white-space:pre">0.1%</text>
<text transform="translate(110.91 853.10) scale(0.9009 1)" font-size="44.07" style="white-space:pre">&lt; 0.1%</text>
<rect x="839" y="618.8" width="47" height="170.3" fill="url(#gB)" stroke="#262626" stroke-width="1.2"/>
<line x1="886" y1="618.8" x2="896.5" y2="618.8" stroke="#262626" stroke-width="1.2"/>
<line x1="886" y1="661.375" x2="892" y2="661.375" stroke="#262626" stroke-width="1.2"/>
<line x1="886" y1="703.95" x2="896.5" y2="703.95" stroke="#262626" stroke-width="1.2"/>
<line x1="886" y1="746.525" x2="892" y2="746.525" stroke="#262626" stroke-width="1.2"/>
<line x1="886" y1="789.1" x2="896.5" y2="789.1" stroke="#262626" stroke-width="1.2"/>
<rect x="839" y="811.8" width="47" height="46.7" fill="#fff" stroke="#262626" stroke-width="1.2"/>
<text transform="translate(901.86 634.30) scale(0.9009 1)" font-size="43.58" style="white-space:pre">100%</text>
<text transform="translate(903.81 718.90) scale(0.9009 1)" font-size="44.23" style="white-space:pre">80%</text>
<text transform="translate(899.91 804.40) scale(0.9009 1)" font-size="44.28" style="white-space:pre">60%</text>
<text transform="translate(899.81 851.90) scale(0.9009 1)" font-size="42.86" style="white-space:pre">Not assessed</text>
<rect x="48.5" y="1535.4" width="46.8" height="170.9" fill="url(#gC)" stroke="#262626" stroke-width="1.2"/>
<line x1="95.3" y1="1535.4" x2="105.8" y2="1535.4" stroke="#262626" stroke-width="1.2"/>
<line x1="95.3" y1="1578.12" x2="101.3" y2="1578.12" stroke="#262626" stroke-width="1.2"/>
<line x1="95.3" y1="1620.85" x2="105.8" y2="1620.85" stroke="#262626" stroke-width="1.2"/>
<line x1="95.3" y1="1663.58" x2="101.3" y2="1663.58" stroke="#262626" stroke-width="1.2"/>
<line x1="95.3" y1="1706.3" x2="105.8" y2="1706.3" stroke="#262626" stroke-width="1.2"/>
<rect x="48.5" y="1728.6" width="46.8" height="46.6" fill="#fff" stroke="#262626" stroke-width="1.2"/>
<text transform="translate(110.22 1550.70) scale(0.9009 1)" font-size="43.88" style="white-space:pre">80%</text>
<text transform="translate(112.50 1634.10) scale(0.9009 1)" font-size="44.34" style="white-space:pre">45%</text>
<text transform="translate(113.34 1720.40) scale(0.9009 1)" font-size="42.35" style="white-space:pre">10%</text>
<text transform="translate(109.82 1767.60) scale(0.9009 1)" font-size="42.79" style="white-space:pre">Not assessed</text>
<line x1="948.2" y1="1458.12" x2="1535" y2="1458.12" stroke="#7c7c7c" stroke-width="1.6" stroke-dasharray="5.2 2.05"/>
<line x1="948.2" y1="1301.05" x2="1535" y2="1301.05" stroke="#7c7c7c" stroke-width="1.6" stroke-dasharray="5.2 2.05"/>
<line x1="948.2" y1="1143.98" x2="1535" y2="1143.98" stroke="#7c7c7c" stroke-width="1.6" stroke-dasharray="5.2 2.05"/>
<rect x="954.6" y="1440.65" width="57.4" height="174.353" fill="#000"/>
<rect x="1027.1" y="1377.03" width="57.4" height="237.969" fill="#000"/>
<rect x="1099.6" y="1329.12" width="57.4" height="285.876" fill="#000"/>
<rect x="1172.1" y="1268.65" width="57.4" height="346.35" fill="#000"/>
<rect x="1244.6" y="1216.03" width="57.4" height="398.97" fill="#000"/>
<rect x="1317.1" y="1099.79" width="57.4" height="515.206" fill="#000"/>
<rect x="1389.6" y="1039.71" width="57.4" height="575.287" fill="#000"/>
<rect x="1462.1" y="1036.96" width="57.4" height="578.036" fill="#000"/>
<line x1="947.2" y1="985.8" x2="947.2" y2="1615" stroke="#565656" stroke-width="1.8"/>
<line x1="938.9" y1="1615" x2="1535" y2="1615" stroke="#262626" stroke-width="1.8"/>
<line x1="938.9" y1="1615" x2="947.2" y2="1615" stroke="#161616" stroke-width="1.9"/>
<text transform="translate(915.90 1630.90) scale(0.9434 1)" font-size="42.40" style="white-space:pre">0</text>
<line x1="938.9" y1="1457.92" x2="947.2" y2="1457.92" stroke="#161616" stroke-width="1.9"/>
<text transform="translate(893.70 1473.83) scale(0.9434 1)" font-size="42.40" style="white-space:pre">20</text>
<line x1="938.9" y1="1300.85" x2="947.2" y2="1300.85" stroke="#161616" stroke-width="1.9"/>
<text transform="translate(893.70 1316.75) scale(0.9434 1)" font-size="42.40" style="white-space:pre">40</text>
<line x1="938.9" y1="1143.78" x2="947.2" y2="1143.78" stroke="#161616" stroke-width="1.9"/>
<text transform="translate(893.70 1159.68) scale(0.9434 1)" font-size="42.40" style="white-space:pre">60</text>
<line x1="938.9" y1="986.7" x2="947.2" y2="986.7" stroke="#161616" stroke-width="1.9"/>
<text transform="translate(893.70 1002.60) scale(0.9434 1)" font-size="42.40" style="white-space:pre">80</text>
<line x1="983.1" y1="1615" x2="983.1" y2="1623" stroke="#161616" stroke-width="1.8"/>
<line x1="1055.6" y1="1615" x2="1055.6" y2="1623" stroke="#161616" stroke-width="1.8"/>
<line x1="1128.1" y1="1615" x2="1128.1" y2="1623" stroke="#161616" stroke-width="1.8"/>
<line x1="1200.6" y1="1615" x2="1200.6" y2="1623" stroke="#161616" stroke-width="1.8"/>
<line x1="1273.1" y1="1615" x2="1273.1" y2="1623" stroke="#161616" stroke-width="1.8"/>
<line x1="1345.6" y1="1615" x2="1345.6" y2="1623" stroke="#161616" stroke-width="1.8"/>
<line x1="1418.1" y1="1615" x2="1418.1" y2="1623" stroke="#161616" stroke-width="1.8"/>
<line x1="1490.6" y1="1615" x2="1490.6" y2="1623" stroke="#161616" stroke-width="1.8"/>
<text transform="translate(992.10 1643.50) rotate(-45) translate(-187.30 0) scale(0.9615 1)" font-size="41.60" style="white-space:pre">2012/2013</text>
<text transform="translate(1064.60 1643.50) rotate(-45) translate(-187.90 0) scale(0.9615 1)" font-size="41.60" style="white-space:pre">2013/2014</text>
<text transform="translate(1137.10 1643.50) rotate(-45) translate(-187.40 0) scale(0.9615 1)" font-size="41.60" style="white-space:pre">2014/2015</text>
<text transform="translate(1209.60 1643.50) rotate(-45) translate(-187.30 0) scale(0.9615 1)" font-size="41.60" style="white-space:pre">2015/2016</text>
<text transform="translate(1282.10 1643.50) rotate(-45) translate(-187.00 0) scale(0.9615 1)" font-size="41.60" style="white-space:pre">2016/2017</text>
<text transform="translate(1354.60 1643.50) rotate(-45) translate(-187.30 0) scale(0.9615 1)" font-size="41.60" style="white-space:pre">2017/2018</text>
<text transform="translate(1427.10 1643.50) rotate(-45) translate(-187.20 0) scale(0.9615 1)" font-size="41.60" style="white-space:pre">2018/2019</text>
<text transform="translate(1499.60 1643.50) rotate(-45) translate(-187.50 0) scale(0.9615 1)" font-size="41.60" style="white-space:pre">2019/2020</text>
<text transform="translate(872.40 1325.80) rotate(-90) translate(-116.78 0) scale(0.9615 1)" font-size="41.39" style="white-space:pre">Million doses</text>
<polyline points="983.1,1464.4 1055.6,1399.5 1128.1,1346 1200.6,1292.5 1273.1,1256 1345.6,1181.5 1418.1,1113.5 1490.6,1177.5" fill="none" stroke="#4a86c5" stroke-width="8.2" stroke-linejoin="round" stroke-linecap="round"/>
<circle cx="983.1" cy="1464.4" r="8.6" fill="#4a86c5"/>
<circle cx="1055.6" cy="1399.5" r="8.6" fill="#4a86c5"/>
<circle cx="1128.1" cy="1346" r="8.6" fill="#4a86c5"/>
<circle cx="1200.6" cy="1292.5" r="8.6" fill="#4a86c5"/>
<circle cx="1273.1" cy="1256" r="8.6" fill="#4a86c5"/>
<circle cx="1345.6" cy="1181.5" r="8.6" fill="#4a86c5"/>
<circle cx="1418.1" cy="1113.5" r="8.6" fill="#4a86c5"/>
<circle cx="1490.6" cy="1177.5" r="8.6" fill="#4a86c5"/>
<polyline points="983.1,1595.1 1055.6,1599.5 1128.1,1598 1200.6,1593 1273.1,1579.5 1345.6,1546.5 1418.1,1544.5 1490.6,1565" fill="none" stroke="#e0a929" stroke-width="8.2" stroke-linejoin="round" stroke-linecap="round"/>
<circle cx="983.1" cy="1595.1" r="8.6" fill="#e0a929"/>
<circle cx="1055.6" cy="1599.5" r="8.6" fill="#e0a929"/>
<circle cx="1128.1" cy="1598" r="8.6" fill="#e0a929"/>
<circle cx="1200.6" cy="1593" r="8.6" fill="#e0a929"/>
<circle cx="1273.1" cy="1579.5" r="8.6" fill="#e0a929"/>
<circle cx="1345.6" cy="1546.5" r="8.6" fill="#e0a929"/>
<circle cx="1418.1" cy="1544.5" r="8.6" fill="#e0a929"/>
<circle cx="1490.6" cy="1565" r="8.6" fill="#e0a929"/>
<line x1="973.5" y1="992" x2="1018.1" y2="992" stroke="#4a86c5" stroke-width="11.5"/><circle cx="996" cy="992" r="10.7" fill="#4a86c5"/>
<line x1="973.5" y1="1044" x2="1018.1" y2="1044" stroke="#e0a929" stroke-width="11.5"/><circle cx="996" cy="1044" r="10.7" fill="#e0a929"/>
<rect x="973.5" y="1071.1" width="44.6" height="44.2" fill="#000"/>
<text transform="translate(1031.70 1002.00) scale(0.9615 1)" font-size="41.74" style="white-space:pre"><tspan font-style="italic">Bradyrhizobium</tspan></text>
<text transform="translate(1033.49 1053.40) scale(0.9615 1)" font-size="41.39" style="white-space:pre"><tspan font-style="italic">Azospirillum</tspan></text>
<text transform="translate(1032.66 1105.70) scale(0.9615 1)" font-size="43.40" style="white-space:pre">Total</text>
</svg>
</body></html>
